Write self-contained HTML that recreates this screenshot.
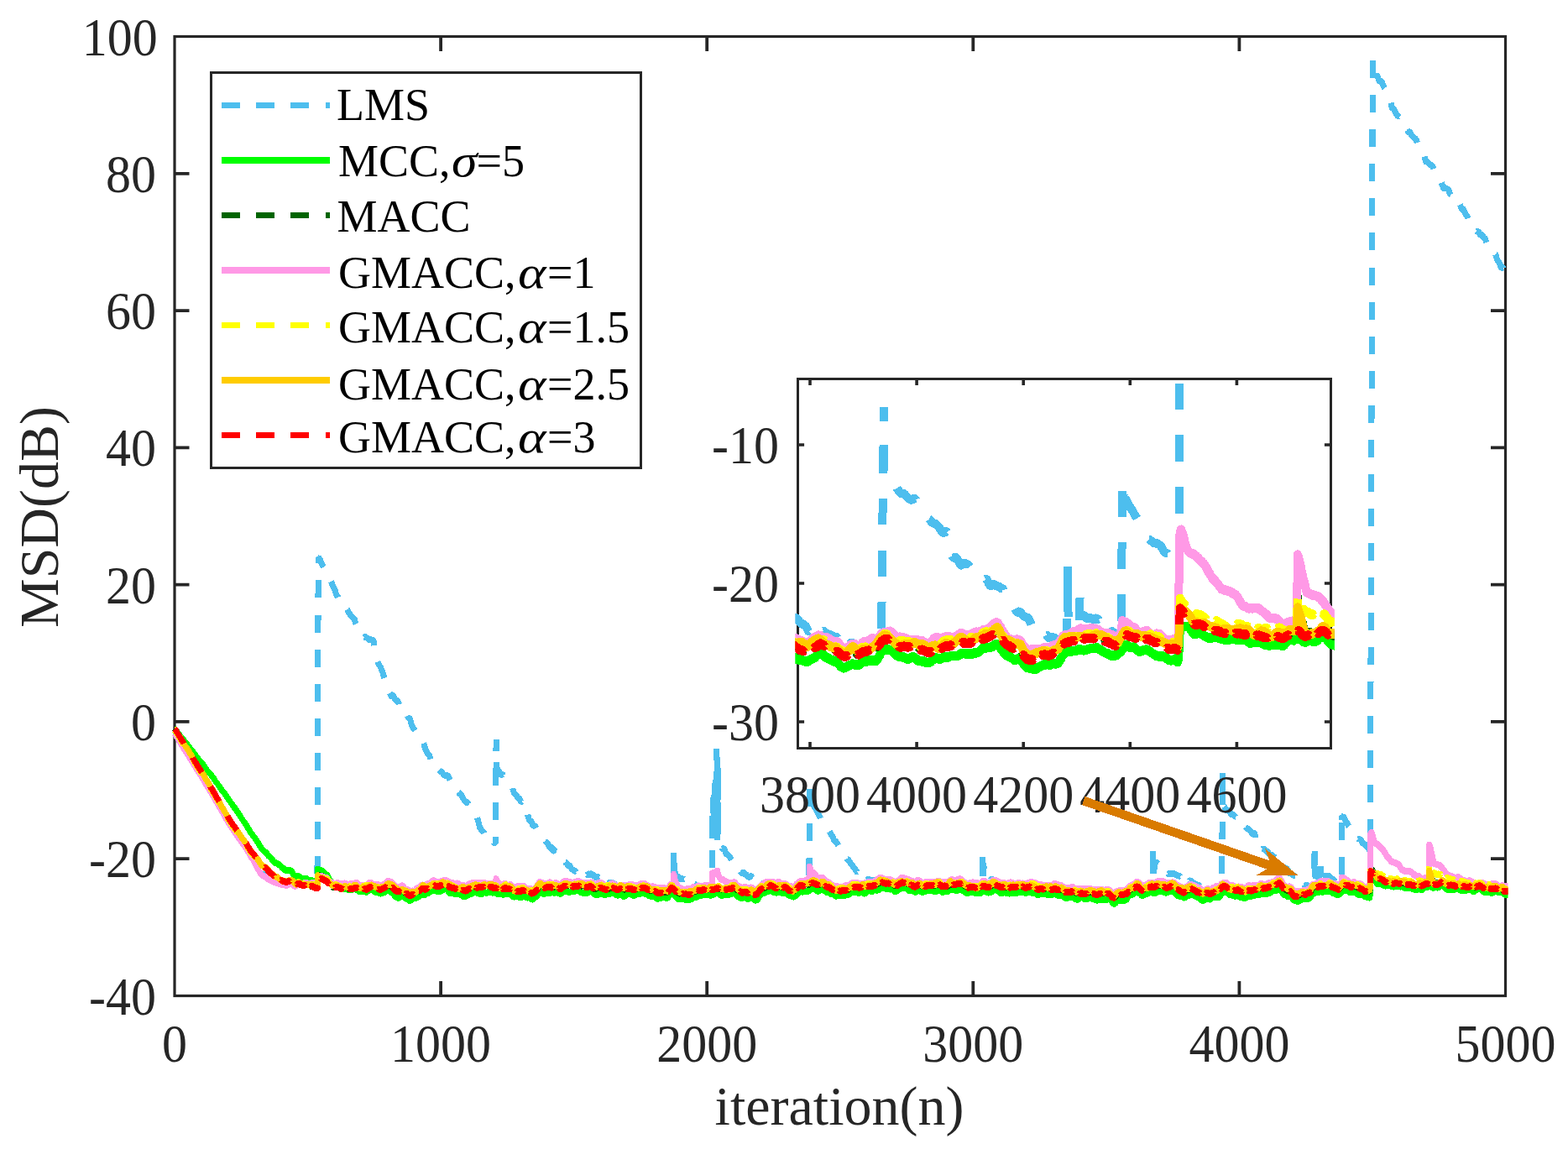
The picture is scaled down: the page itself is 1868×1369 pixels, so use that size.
<!DOCTYPE html>
<html lang="en"><head><meta charset="utf-8"><title>MSD(dB) versus iteration(n)</title>
<style>html,body{margin:0;padding:0;background:#fff}body{width:1868px;height:1369px;overflow:hidden}svg{display:block}</style></head>
<body>
<svg width="1868" height="1369" viewBox="0 0 1868 1369" font-family="'Liberation Serif', serif">
<rect width="1868" height="1369" fill="#fff"/>
<defs><clipPath id="cm"><rect x="204.5" y="43.5" width="1592" height="1143"/></clipPath>
<clipPath id="ci"><rect x="947.3" y="451.5" width="642.6" height="440"/></clipPath></defs>
<g stroke="#262626" stroke-width="3.2" fill="none">
<rect x="208" y="43.5" width="1585.5" height="1143"/>
<path stroke-width="3.8" d="M525.1,1186.5 v-17.5 M525.1,43.5 v17.5 M842.2,1186.5 v-17.5 M842.2,43.5 v17.5 M1159.3,1186.5 v-17.5 M1159.3,43.5 v17.5 M1476.4,1186.5 v-17.5 M1476.4,43.5 v17.5 M208,206.8 h17.5 M1793.5,206.8 h-17.5 M208,370.1 h17.5 M1793.5,370.1 h-17.5 M208,533.4 h17.5 M1793.5,533.4 h-17.5 M208,696.6 h17.5 M1793.5,696.6 h-17.5 M208,859.9 h17.5 M1793.5,859.9 h-17.5 M208,1023.2 h17.5 M1793.5,1023.2 h-17.5"/>
</g>
<g font-size="60" fill="#262626">
<text transform="translate(208.0,1264.5) scale(1,1.045)" text-anchor="middle">0</text>
<text transform="translate(525.1,1264.5) scale(1,1.045)" text-anchor="middle">1000</text>
<text transform="translate(842.2,1264.5) scale(1,1.045)" text-anchor="middle">2000</text>
<text transform="translate(1159.3,1264.5) scale(1,1.045)" text-anchor="middle">3000</text>
<text transform="translate(1476.4,1264.5) scale(1,1.045)" text-anchor="middle">4000</text>
<text transform="translate(1793.5,1264.5) scale(1,1.045)" text-anchor="middle">5000</text>
<text transform="translate(187.8,65.5) scale(1,1.045)" text-anchor="end">100</text>
<text transform="translate(186.0,228.8) scale(1,1.045)" text-anchor="end">80</text>
<text transform="translate(186.0,392.1) scale(1,1.045)" text-anchor="end">60</text>
<text transform="translate(186.0,555.4) scale(1,1.045)" text-anchor="end">40</text>
<text transform="translate(186.0,718.6) scale(1,1.045)" text-anchor="end">20</text>
<text transform="translate(186.0,881.9) scale(1,1.045)" text-anchor="end">0</text>
<text transform="translate(186.0,1045.2) scale(1,1.045)" text-anchor="end">-20</text>
<text transform="translate(186.0,1208.5) scale(1,1.045)" text-anchor="end">-40</text>
</g>
<g font-size="66" fill="#262626">
<text x="1000" y="1340.3" text-anchor="middle">iteration(n)</text>
<text transform="translate(69,616) rotate(-90)" text-anchor="middle">MSD(dB)</text>
</g>
<g clip-path="url(#cm)" fill="none" stroke-linejoin="round" stroke-width="7.1" shape-rendering="crispEdges">
<path stroke="#4DBEEE" stroke-dasharray="21,20.1" stroke-dashoffset="0.0" d="M208,870.7l.3,.4l.3,.2l.4,.6l.3,.4l.3,.6l.3,.4l.3,.7l.3,.4l.4,.6l.3,.4l.3,.7l.3,.4l.3,.6l.3,.3l.4,.7l.3,.4l.3,.7l.3,.3l.3,.8l.3,.3l.4,.7l.3,.4l.3,.7l.3,.4l.3,.6l.3,.4l.4,.7l.3,.3l.3,.7l.3,.3l.3,.7l.3,.3l.4,.7l.3,.4l.3,.7l.3,.4l.3,.7l.3,.3l.4,.7l.3,.3l.3,.7l.3,.3l.3,.6l.4,.3l.3,.7l.3,.3l.3,.7l.3,.3l.3,.6l.4,.4l.3,.6l.3,.4l.3,.7l.3,.4l.3,.7l.4,.3l.3,.7l.3,.3l.3,.7l.3,.3l.3,.8l.4,.2l.3,.7l.3,.4l.3,.7l.3,.4l.3,.6l.4,.4l.3,.7l.3,.4l.3,.7l.3,.3l.3,.7l.4,.4l.3,.6l.3,.3l.3,.8l.3,.2l.4,.8l.3,.3l.3,.7l.3,.4l.3,.7l.3,.4l.4,.7l.3,.4l.3,.6l.3,.4l.3,.7l.3,.2l.4,.7l.3,.3l.3,.6l.3,.3l.3,.6l.3,.2l.4,.7l.3,.4l.3,.6l.3,.3l.3,.8l.3,.3l.4,.6l.3,.3l.3,.8l.3,.3l.3,.6l.3,.4l.4,.7l.3,.4l.3,.7l.3,.3l.3,.8l.3,.4l.4,.7l.3,.4l.3,.7l.3,.3l.3,.8l.4,.4l.3,.7l.3,.4l.3,.7l.3,.3l.3,.7l.4,.4l.3,.6l.3,.3l.3,.7l.3,.3l.3,.7l.4,.3l.3,.7l.3,.3l.3,.8l.3,.3l.3,.7l.4,.4l.3,.7l.3,.2l.3,.7l.3,.3l.3,.8l.4,.3l.3,.8l.3,.4l.3,.7l.3,.4l.3,.8l.4,.5l.3,.8l.3,.4l.3,.8l.3,.4l.4,.7l.3,.3l.3,.7l.3,.4l.3,.6l.3,.4l.4,.7l.3,.4l.3,.7l.3,.3l.3,.8l.3,.4l.4,.8l.3,.3l.3,.8l.3,.4l.3,.8l.3,.3l.4,.8l.3,.3l.3,.7l.3,.4l.3,.7l.3,.4l.4,.7l.3,.3l.3,.8l.3,.3l.3,.6l.3,.3l.4,.8l.3,.3l.3,.8l.3,.4l.3,.8l.3,.4l.4,.8l.3,.5l.3,.7l.3,.4l.3,.8l.4,.4l.3,.8l.3,.3l.3,.7l.3,.3l.3,.8l.4,.4l.3,.7l.3,.3l.3,.7l.3,.2l.3,.8l.4,.2l.3,.7l.3,.3l.3,.7l.3,.2l.3,.7l.4,.3l.3,.7l.3,.3l.3,.6l.3,.3l.3,.6l.4,.3l.3,.6l.3,.2l.3,.6l.3,.3l.3,.7l.4,.3l.3,.6l.3,.3l.3,.7l.3,.2l.4,.7l.3,.2l.3,.8l.3,.2l.3,.7l.3,.3l.4,.7l.3,.3l.3,.7l.3,.2l.3,.6l.3,.2l.4,.7l.3,.3l.3,.7l.3,.2l.3,.6l.3,.3l.4,.6l.3,.3l.3,.7l.3,.2l.3,.7l.3,.1l.4,.7l.3,.3l.3,.6l.3,.2l.3,.7l.3,.2l.4,.5l.3,.2l.3,.7l.3,.1l.3,.6l.3,.3l.4,.7l.3,.1l.3,.8l.3,.1l.3,.8l.4,.2l.3,.8l.3,.4l.3,.7l.3,.3l.3,.9l.4,.3l.3,.8l.3,.3l.3,.8l.3,.2l.3,1l.4,.1l.3,.7l.3,.2l.3,.7l.3,.2l.3,.6l.4,.2l.3,.6l.3,.1l.3,.6l.3-.1l.3,.8l.4,0l.3,.7l.3,.1l.3,.6l.3,.1l.3,.7l.4,.2l.3,.9l.3,.1l.3,.8l.3,.3l.3,.7l.4,.1l.3,.9l.3,.1l.3,.8l.3,0l.4,.8l.3,.1l.3,1.1l.3,0l.3,.9l.3,.2l.4,.9l.3,.2l.3,.9l.3,.2l.3,.9l.3,.1l.4,.6l.3,.1l.3,.8l.3-.1l.3,.6l.3-.1l.4,.6l.3-.1l.3,.6l.3-.2l.3,.7l.3-.3l.4,.5l.3-.2l.3,.7l.3-.3l.3,.7l.3-.2l.4,.7l.3-.2l.3,.7l.3-.1l.3,.6l.4-.1l.3,1l.3-.3l.3,.9l.3-.1l.3,.8l.4-.1l.3,.6l.3,0l.3,.7l.3-.4l.3,.9l.4-.2l.3,.6l.3-.3l.3,.9l.3-.2l.3,.6l.4-.3l.3,.7l.3-.1l.3,.8l.3-.2l.3,.7l.4-.2l.3,.7l.3-.3l.3,.8l.3-.5l.3,.8l.4-.3l.3,.6l.3-.4l.3,.6l.3-.4l.3,.8l.4-.5l.3,.7l.3-.3l.3,.4l.3-.3l.4,.6l.3-.2l.3,.5l.3-.2l.3,.5l.3-.2l.4,.7l.3-.5l.3,.8l.3-.5l.3,.7l.3-.3l.4,.7l.3-.5l.3,.8l.3-.6l.3,.9l.3-.4l.4,.7l.3-.6l.3,.9l.3-.8l.3,.8l.3-.4l.4,.6l.3-.6l.3,.8l.3-.6l.3,.7l.3-.7l.4,.6l.3-.4l.3,.3l.3-.4l.3,.3l.4-.8l.3,.7l.3-1l.3,.4l.3-.8l.3,.6l.4-.8l.3,.7l.3-1l.3,.8l.3-.9l.3,.8l.4-.9l.3,.6l.3-.4l.3,.8l.3-.7l.3,.7l.4-.3l.3,.9l.3-.6l.3,1l.3-.3l.3,.9l.4-.4l.3,.9l.3-.6l.3,1.1l.3-.6l.3,.6l.4-.8l.3,.6l.3-.5l.3,.5l.3-1.1l.3,.5l.4-.7l.3,.3l.3-.7l.3,.7l.3-1.1l.4,.7l.3-.7l.3,.8l.3-.8l.3,.8l.3-.9l.4,1l.3-.9l.3,.9l.3-.6l.3,1.1l.3-.8l.4,1l.3-.6l.3,.7l.3-.6l.3,.6l.3-.5l.4,.7l.3-1l.3,.9l.3-.9l.3,.6l.3-.7l.4,.7l.3-.7l.3,.5l.3-.4l.3,.7l.3-.5l.4,.6l.3-.7l.3,.7l.3-.4l.3,.9l.3-.4l.4,.5l.3-.3l.3,.6l.3-.5l.3,1l.4-.7l.3,.6l.3-.4l.3,.4l.3-.7l.3,.8l.4-.7l.3,.6l.3-1.1l.3,.8l.3-.7l.3,.8l.4-.8l.3,.7l.3-.3l.3,.9l.3-.8l.3,.9l.4-.5l.3,1l.3-.6l.3,.9l.3-.7l.3,.7l.4-.3l.3,.6l.3-.6l.3,.7l.3-.6l.3,.5l.4-.5"/>
<path stroke="#4DBEEE" stroke-linejoin="bevel" stroke-dasharray="21,20.1" stroke-dashoffset="26.8" d="M378,1055.6l.3-97.7l.3-98l.3-97.9l.3-98l.4,.6l.3-.1l.3,.7"/>
<path stroke="#4DBEEE" stroke-dasharray="21,20.1" stroke-dashoffset="9.2" d="M380.2,665.2l.3,.2l.3,.6l.3,.3l.4,.8l.3,.6l.3,1.1l.3,.9l.3,1.1l.3,.7l.4,.7l.3,.5l.3,.7l.3,.4l.3,.8l.3,.4l.4,.7l.3,.5l.3,.8l.3,.5l.3,.6l.3,.1l.4,.4l.3,0l.3,.7l.3,.6l.3,1.1l.3,.9l.4,1.4l.3,.9l.3,1.1l.3,.5l.3,.7l.3,.2l.4,.6l.3,.4l.3,.8l.3,.4l.3,.9l.4,.4l.3,.7l.3,.4l.3,.6l.3,.3l.3,.4l.4,.1l.3,.7l.3,.6l.3,1.1l.3,.9l.3,1.3l.4,.7l.3,.9l.3,.2l.3,.4l.3,.4l.3,.8l.4,.4l.3,1l.3,.5l.3,1.2l.3,.8l.3,1.5l.4,1.1l.3,.9l.3,.4l.3,.6l.3,.2l.3,.6l.4,.4l.3,.7l.3,.4l.3,.8l.3,.5l.4,.9l.3,.6l.3,.9l.3,.5l.3,.9l.3,.3l.4,.5l.3,.2l.3,.5l.3,.1l.3,.5l.3,.2l.4,.5l.3,.2l.3,.7l.3,.6l.3,1.2l.3,.8l.4,1.1l.3,.5l.3,.6l.3-.1l.3,.1l.3-.4l.4,0l.3-.2l.3,.3l.3,0l.3,.5l.3,.1l.4,.5l.3,.3l.3,.6l.3,.2l.3,.7l.3,.4l.4,.8l.3,.5l.3,.8l.3,.4l.3,.7l.4,.2l.3,.7l.3,.3l.3,.6l.3,.2l.3,.5l.4,.1l.3,.5l.3,.1l.3,.5l.3,.3l.3,.6l.4,.2l.3,.4l.3,0l.3,.3l.3,0l.3,.6l.4,.8l.3,1.2l.3,.9l.3,1l.3,.5l.3,.8l.4,.5l.3,1l.3,.6l.3,1l.3,.7l.3,.9l.4,.6l.3,1.1l.3,.8l.3,1.1l.3,.7l.4,1l.3,.6l.3,.8l.3,.6l.3,1l.3,.5l.4,.6l.3,.1l.3,.4l.3,.2l.3,.5l.3,0l.4,.6l.3,.1l.3,.5l.3,0l.3,.3l.3-.1l.4,.3l.3-.3l.3,.1l.3-.3l.3,0l.3-.3l.4,.2l.3-.2l.3,.5l.3,.1l.3,.6l.3,0l.4,.4l.3,0l.3,.1l.3,0l.3,.6l.3,.3l.4,.7l.3,.3l.3,.4l.3-.3l.3-.1l.4-.4l.3,.2l.3-.2l.3,.3l.3,.1l.3,.2l.4-.2l.3,.2l.3-.2l.3,.3l.3-.1l.3,.2l.4,.1l.3,.5l.3,1.8l.3,2.2l.3,1.8l.3,2.1l.4,1.8l.3,2.1l.3,1.7l.3,2.1l.3,1.7l.3,2.1l.4,1.6l.3,1.5l.3,.4l.3,1l.3,.5l.3,1.1l.4,.8l.3,.9l.3,.6l.3,.8l.3,.3l.3,.6l.4,.3l.3,.5l.3,.2l.3,.8l.3,.4l.4,1l.3,.7l.3,1.2l.3,.7l.3,1l.3,.4l.4,.8l.3,.4l.3,1.2l.3,.9l.3,1.3l.3,1l.4,1.4l.3,.9l.3,1.4l.3,1l.3,1.5l.3,1.1l.4,1.6l.3,1.3l.3,1.6l.3,1.1l.3,1.6l.3,1.1l.4,1.3l.3,.1l.3,.4l.3-.1l.3,.3l.3,0l.4,.6l.3,.3l.3,.8l.3,.3l.3,.8l.4,.4l.3,.9l.3,.5l.3,1l.3,.4l.3,.5l.4-.3l.3-.2l.3-.7l.3-.1l.3-.2l.3,.6l.4,.5l.3,.9l.3,.6l.3,.9l.3,.4l.3,.7l.4,.3l.3,.7l.3,.2l.3,.4l.3-.1l.3,.1l.4-.2l.3,.3l.3,.1l.3,.7l.3,.3l.3,.6l.4,.3l.3,.9l.3,.5l.3,1.2l.3,1l.3,1.3l.4,.7l.3,.6l.3-.3l.3-.1l.3-.6l.4-.1l.3-.3l.3,.2l.3,.1l.3,.6l.3,.4l.4,.8l.3,.4l.3,.7l.3,.2l.3,.7l.3,.1l.4,.6l.3,.1l.3,.4l.3,.2l.3,.6l.3,.3l.4,1l.3,.6l.3,1.1l.3,.6l.3,.8l.3,.5l.4,.9l.3,.6l.3,1l.3,.3l.3,.6l.3,0l.4,.1l.3-.2l.3,.3l.3,.3l.3,1.1l.4,.9l.3,1.5l.3,1.1l.3,1.3l.3,.9l.3,1.2l.4,.6l.3,.8l.3,.4l.3,.8l.3,.4l.3,.7l.4,.3l.3,.5l.3,0l.3,.4l.3,.2l.3,.8l.4,.5l.3,.8l.3,.3l.3,.6l.3,0l.3,.5l.4,.3l.3,.7l.3,.4l.3,.7l.3,.2l.3,.6l.4,0l.3,.2l.3-.2l.3,.3l.3-.2l.3,.4l.4,0l.3,.4l.3,.1l.3,.6l.3,.4l.4,1.1l.3,.7l.3,1.2l.3,.7l.3,1.1l.3,.5l.4,.9l.3,.4l.3,.9l.3,.6l.3,1.1l.3,.9l.4,1.4l.3,1l.3,1.3l.3,.9l.3,.9l.3,.5l.4,.8l.3,.4l.3,.7l.3,.4l.3,1l.3,.4l.4,.9l.3,.2l.3,.6l.3,.1l.3,.3l.3,0l.4,.6l.3,.6l.3,1.3l.3,.9l.3,1.6l.4,1l.3,1.4l.3,1.1l.3,1.2l.3,.6l.3,.7l.4,.3l.3,.7l.3,.4l.3,1.1l.3,.5l.3,.9l.4,.3l.3,0l.3-.4l.3-.1l.3-.1l.3,.5l.4,.3l.3,.8l.3,.4l.3,.6l.3,0l.3,.3l.4-.1l.3,.3l.3,0l.3,.2l.3-.2l.3,.2l.4-.1l.3,.3l.3,.2l.3,.5l.3,.2l.3,.5l.4,.1l.3,.4l.3-.1l.3,.3l.3-.3l.4,.3l.3,0l.3,.5l.3,.3l.3,.7l.3,.3l.4,.7l.3,.2l.3,.6l.3,0l.3,.5l.3,0l.4,.4l.3-.2l.3,.1l.3-.2l.3,.4l.3,.1l.4,.5l.3,0l.3,.2l.3-.4l.3,0l.3-.5l.4,.1l.3,.2l.3,.9l.3,.8l.3,1.2l.3,.5l.4,1l.3,.5l.3,.7l.3,.4l.3,.9l.3,.6l.4,1l.3,.4l.3,.9l.3,.4l.3,.7l.4,.3l.3,.8l.3,.5l.3,1l.3,.9l.3,1.2l.4,.7l.3,.8l.3,.2l.3,.2l.3-.3l.3,.1l.4-.1l.3,.4l.3,.4l.3,.8l.3,.3l.3,.6l.4,0l.3,.2l.3-.4l.3,.2l.3-.2l.3,.4l.4,.2l.3,.8l.3,.3l.3,.5l.3-.1l.3,.2l.4-.2l.3,.3l.3,.1l.3,.7l.3,.3l.4,.9l.3,.5l.3,.9l.3,.5l.3,1l.3,.4l.4,.6l.3,.2l.3,.5l.3,.2l.3,.6l.3,.2l.4,.7l.3,.4l.3,.7l.3,.1l.3,.6l.3-.1l.4,.3l.3-.5l.3,.1l.3-.2l.3,.4l.3,.2l.4,.7l.3,.3l.3,.6l.3,.3l.3,.6l.3,.2l.4,.6l.3,.1l.3,.4l.3-.1l.3,.4l.3,.1l.4,.5l.3,.3l.3,.5l.3,.3l.3,.5l.4,.3l.3,.7l.3,.3l.3,.8l.3,.4l.3,.9l.4,.5l.3,.8l.3,.2l.3,.5l.3,.6l.3,1l.4,.6l.3,1l.3,.6l.3,1.2l.3,.7l.3,1.1l.4,.7l.3,1.1l.3,.8l.3,1.3l.3,1.1l.3,1.5l.4,1.3l.3,1.4l.3,.7l.3,1.1l.3,.5l.3,.5l.4,.1l.3,.8l.3,.3l.3,.8l.3,.3l.4,.6l.3,0l.3,.4l.3,0l.3,.5l.3,.3l.4,.8l.3,.3l.3,.8l.3,.2l.3,.7l.3,.3l.4,.9l.3,.4l.3,.8l.3,.5l.3,1l.3,.4l.4,.6l.3-.2l.3-.1l.3-.8l.3-.1l.3-.2l.4,.8l.3,.5l.3,.9l.3,.6l.3,.8l.3,.2l.4,.6l.3-.2l.3,.2l.3-.4l.3,.1l.3-.1l.4,.4l.3,.1l.3,.5l.3,0l.3,.4l.4,.1l.3,.6l.3,.2l.3,.5l.3,.1l.3,.2l.4-.3l.3-.3l.3-.6l.3-.2l.3-.5l.3,2.6"/>
<path stroke="#4DBEEE" stroke-linejoin="bevel" stroke-dasharray="21,20.1" stroke-dashoffset="12.8" d="M590.7,1005.2l.4-124.2l.3,32.8l.3,.8l.3,.2l.3,1"/>
<path stroke="#4DBEEE" stroke-dasharray="21,20.1" stroke-dashoffset="7.7" d="M592.3,915.8l.3,1.2l.4,.7l.3,.8l.3,.1l.3,0l.3-.1l.3,.4l.4,.2l.3,.9l.3,.6l.3,.9l.3,.5l.3,.6l.4,.1l.3,.5l.3-.1l.3,.1l.3-.3l.4,0l.3-.2l.3,.4l.3,.1l.3,.6l.3,.3l.4,.8l.3,.4l.3,.8l.3,.2l.3,.6l.3,0l.4,.4l.3-.1l.3,.3l.3-.2l.3,.3l.3,.1l.4,.6l.3,.2l.3,.7l.3,0l.3,.5l.3-.1l.4,.6l.3,.2l.3,.6l.3,.3l.3,.7l.3,.2l.4,.8l.3,.4l.3,.9l.3,.4l.3,.8l.3,.3l.4,.7l.3,.5l.3,1.1l.3,.9l.3,1.4l.4,1l.3,1.4l.3,.8l.3,1l.3,.4l.3,.7l.4,.2l.3,.5l.3,.2l.3,.6l.3,.1l.3,.5l.4,0l.3,.6l.3,.1l.3,.7l.3,.4l.3,.7l.4,.2l.3,.4l.3-.1l.3,.3l.3-.1l.3,.5l.4,.3l.3,.8l.3,.5l.3,.9l.3,.5l.3,.7l.4,0l.3,.1l.3-.5l.3-.1l.3-.5l.3,.1l.4-.1l.3,.7l.3,.4l.3,.9l.3,.4l.4,.6l.3,.1l.3,.3l.3-.1l.3,.4l.3,.7l.4,1.6l.3,1.2l.3,1.7l.3,1.2l.3,1.6l.3,1.3l.4,1.6l.3,1.2l.3,1.5l.3,.9l.3,1.3l.3,.8l.4,1.2l.3,.8l.3,.6l.3,0l.3,.6l.3-.1l.4,.3l.3,0l.3,.5l.3,.1l.3,.8l.3,.7l.4,1.2l.3,.7l.3,.9l.3,.4l.3,.5l.4,0l.3,.2l.3-.2l.3,.2l.3-.2l.3,.3l.4,0l.3,.6l.3,.3l.3,.7l.3,.3l.3,.7l.4,.2l.3,.5l.3,0l.3,.4l.3-.1l.3,.5l.4,.2l.3,.8l.3,.4l.3,1l.3,.7l.3,1l.4,.6l.3,1l.3,.3l.3,.6l.3,.2l.3,.5l.4,.1l.3,.5l.3,.3l.3,.6l.3,.3l.3,.6l.4,.3l.3,.4l.3,.1l.3,.3l.3,.1l.4,.5l.3,.3l.3,.7l.3,.3l.3,.9l.3,.5l.4,.8l.3,.4l.3,.5l.3-.1l.3,.4l.3,0l.4,.5l.3,.2l.3,.7l.3,.4l.3,.8l.3,.5l.4,.8l.3,.6l.3,.8l.3,.3l.3,.3l.3-.3l.4,.1l.3-.5l.3,.1l.3-.2l.3,.4l.3,.4l.4,1.1l.3,.8l.3,1.2l.3,.4l.3,.3l.4-.4l.3-.3l.3-.5l.3,.2l.3,.2l.3,.9l.4,.5l.3,.9l.3,.3l.3,.4l.3,0l.3,.2l.4-.3l.3,.2l.3,0l.3,.5l.3,.2l.3,.8l.4,.4l.3,.9l.3,.4l.3,.9l.3,.3l.3,.6l.4,.4l.3,.7l.3,.2l.3,.5l.3,0l.3,.5l.4,0l.3,.7l.3,.3l.3,.7l.3,.2l.3,.5l.4-.1l.3,.2l.3-.2l.3,.3l.3-.2l.4,.4l.3,.2l.3,.6l.3,.2l.3,.6l.3,0l.4,.4l.3,0l.3,.4l.3,.1l.3,.7l.3,.2l.4,.8l.3,.3l.3,.5l.3-.2l.3,.2l.3-.3l.4,.1l.3-.1l.3,.7l.3,.2l.3,.9l.3,.4l.4,.9l.3,.3l.3,.7l.3,.1l.3,.5l.3,0l.4,.5l.3-.2l.3,.4l.3,0l.3,.4l.3-.1l.4,.5l.3,0l.3,.6l.3-.2l.3,.5l.4-.2l.3,.5l.3,0l.3,.5l.3,.1l.3,.7l.4,0l.3,.5l.3-.1l.3,.5l.3-.3l.3,.3l.4-.4l.3,.5l.3-.1l.3,.4l.3-.2l.3,.6l.4,0l.3,.5l.3-.4l.3,.3l.3-.3l.3,.3l.4-.2l.3,.5l.3,.1l.3,.9l.3,.1l.3,.9l.4-.1l.3,.5l.3-.3l.3,.2l.3-.4l.4,0l.3-.5l.3,.1l.3-.6l.3,.1l.3-.6l.4,.3l.3-.4l.3,.4l.3-.4l.3,.3l.3-.5l.4,0l.3-.7l.3,.1l.3-.5l.3,.4l.3-.1l.4,.5l.3-.2l.3,.3l.3-.6l.3,.1l.3-.5l.4,.3l.3-.1l.3,.7l.3,0l.3,.7l.3-.1l.4,.4l.3-.2l.3,.4l.3-.4l.3,.5l.3-.2l.4,.6l.3,0l.3,.5l.3,.1l.3,.5l.4,.1l.3,.5l.3-.1l.3,.3l.3-.4l.3,.3l.4-.5l.3,.4l.3-.4l.3,.4l.3-.4l.3,.3l.4-.5l.3,.2l.3-.5l.3,.4l.3-.3l.3,.7l.4,0l.3,.7l.3,0l.3,.7l.3-.2l.3,.5l.4-.5l.3,.4l.3-.4l.3,.5l.3-.4l.3,.4l.4-.3l.3,.6l.3-.1l.3,.9l.3,0l.4,.9l.3-.1l.3,.6l.3-.3l.3,.5l.3-.1l.4,.7l.3-.2l.3,.9l.3-.4l.3,.7l.3-.3l.4,.6l.3-.1l.3,.7l.3-.2l.3,.6l.3-.4l.4,.5l.3-.6l.3,.4l.3-.4l.3,.4l.3-.6l.4,.5l.3-.5l.3,.3l.3-.5l.3,.7l.3-.5l.4,.6l.3-.2l.3,.8l.3-.1l.3,.5l.3-.4l.4,.9l.3-.7l.3,.8l.3-.4l.3,.8l.4-.5l.3,1l.3-.3l.3,.9l.3-.3l.3,.6l.4-.4l.3,.6l.3-.4l.3,.6l.3-.8l.3,.7l.4-.9l.3,.5l.3-.5l.3,.4l.3-.6l.3,.8l.4-.8l.3,.8l.3-.7l.3,.8l.3-.5l.3,.9l.4-.2l.3,.8l.3-.6l.3,1.2l.3-.5l.3,.7l.4-.6l.3,.7l.3-.9l.3,.7l.3-.8l.4,.8l.3-.8l.3,.7l.3-.7l.3,.3l.3-.6l.4,.5l.3-.6l.3,.5l.3-.6l.3,.5l.3-.8l.4,.6l.3-.7l.3,.6l.3-.7l.3,.5l.3-.6l.4,.7l.3-.7l.3,.8l.3-.8l.3,.9l.3-.7l.4,.8l.3-.5l.3,.9l.3-.5l.3,.6l.3-.3l.4,.7l.3-.7l.3,.8l.3-.6l.3,.5l.3-.7l.4,.9l.3-.8l.3,.5l.3-.8l.3,.9l.4-1l.3,.9l.3-.7l.3,.5l.3-.5l.3,.5l.4-.7l.3,.4l.3-.6l.3,.4l.3-.7l.3,.7l.4-1.1l.3,.6l.3-.7l.3,.7l.3-1l.3,.6l.4-.6l.3,.5l.3-.5l.3,.7l.3-.7l.3,.6l.4-.9l.3,.6l.3-.6l.3,.7l.3-.7l.3,.8l.4-.9l.3,1l.3-.9l.3,1l.3-.9l.3,.9l.4-.7l.3,.9l.3-.5l.3,.8l.3-.7l.4,1l.3-.2l.3,.7l.3-.5l.3,1.1l.3-.7l.4,1.1l.3-.7l.3,1l.3-.7l.3,.9l.3-.6l.4,.8l.3-.7l.3,.6l.3-.5l.3,.7l.3-.7l.4,.4l.3-.6l.3,.6l.3-.8l.3,.6l.3-.7l.4,.6l.3-.7l.3,1l.3-.6l.3,.8l.3-.4l.4,.5l.3-.1l.3,.7l.3-.5l.3,1l.4-.4l.3,1.1l.3-.7l.3,.8l.3-.4l.3,.9l.4-.6l.3,.9l.3-.8l.3,.8l.3-.8l.3,.6l.4-.6l.3,.6l.3-1.1l.3,1l.3-1l.3,.7l.4-.8l.3,1.1l.3-.9l.3,.9l.3-.5l.3,.7l.4-1l.3,.9l.3-.8l.3,.7l.3-.9l.3,.6l.4-.5l.3,.6l.3-.7l.3,.7l.3-.7l.3,.8l.4-.4l.3,.7l.3-.5l.3,.4l.3-.8l.4,.7l.3-.9l.3,.4l.3-1l.3,.1l.3-1l.4,.4l.3-1.1l.3,.1l.3-.9l.3,.1l.3-1.2l.4,.6l.3-1.3l.3,.3l.3-1l.3,.3l.3-.8l.4,.7l.3-.6l.3,.9l.3-.3l.3,1.2l.3-.5"/>
<path stroke="#4DBEEE" stroke-linejoin="bevel" stroke-dasharray="21,20.1" stroke-dashoffset="21.8" d="M802.2,1056l.4-41l.3,27.5l.3-23.5l.3,23.6l.3-15.6l.3,16.4l.4,.3l.3-.4l.3,.5"/>
<path stroke="#4DBEEE" stroke-dasharray="21,20.1" stroke-dashoffset="6.6" d="M805.1,1043.8l.3,.1l.3,.8l.4,.2l.3,.8l.3-.1l.3,.3l.3-.2l.3,.2l.4-.4l.3,.2l.3-.5l.3,.2l.3-.2l.3,.8l.4,.4l.3,1l.3,0l.3,.3l.3-.3l.3,.1l.4-.5l.3,.2l.3-.3l.3,.3l.3-.2l.3,.4l.4-.3l.3,.3l.3-.2l.3,.3l.3-.2l.3,.3l.4-.3l.3,.3l.3-.5l.3,.2l.3-.3l.3,.5l.4-.2l.3,.4l.3-.2l.3,.2l.3-.1l.4,.4l.3-.2l.3,.3l.3-.4l.3,.2l.3-.5l.4,.1l.3-.5l.3,.1l.3,0l.3,.7l.3,.3l.4,.9l.3,.4l.3,.8l.3,.2l.3,.5l.3-.1l.4,.3l.3-.2l.3,.5l.3-.2l.3,.5l.3-.2l.4,.5l.3-.2l.3,.6l.3-.2l.3,1l.3,0l.4,.8l.3-.1l.3,.9l.3-.3l.3,.9l.4-.4l.3,.7l.3-.4l.3,.6l.3-.6l.3,.6l.4-.6l.3,.7l.3-.5l.3,.7l.3-.4l.3,.9l.4-.5l.3,.8l.3-.6l.3,.6l.3-.4l.3,.4l.4-.6l.3,.8l.3-1l.3,.8l.3-.6l.3,.6l.4-.7l.3,.5l.3-.4l.3,.7l.3-.6l.3,1l.4-.5l.3,1l.3-.6l.3,1l.3-.8l.3,.8l.4-.9l.3,.7l.3-.6l.3,.7l.3-.9l.4,.5l.3-.6l.3,.7l.3-.9l.3,.7l.3-.6l.4,.4l.3-.7l.3,.8l.3-1.1l.3,.9l.3-.9l.4,.6l.3-.6l.3,.8l.3-.5l.3,.5"/>
<path stroke="#4DBEEE" stroke-linejoin="bevel" stroke-dasharray="21,20.1" stroke-dashoffset="17.7" d="M848.2,1057.4l.3-87.3l.4,28.6l.3-40.8l.3,36.7l.3-44.9l.3,49l.3-36.7l.4,28.6l.3-49l.3,59.6l.3-67.8l.3,63.7l.3-51.4l.4,53l.3-69.4l.3,65.3l.3-57.1l.3-45.7l.3,102.8l.4-93.9l.3,100.5l.3-88.2l.3,88.2l.3,.5l.4-1.1l.3,.8"/>
<path stroke="#4DBEEE" stroke-dasharray="21,20.1" stroke-dashoffset="31.1" d="M856.5,1001.4l.3,.4l.3,.6l.3,.3l.3,.8l.4,.3l.3,.8l.3,.5l.3,1l.3,.9l.3,1.4l.4,1.1l.3,1.3l.3,.4l.3,.5l.3-.3l.3-.2l.4-.5l.3,.2l.3,.2l.3,.7l.3,.5l.3,1l.4,.6l.3,1.1l.3,.7l.3,1.1l.3,.5l.3,.6l.4,0l.3,.2l.3-.1l.3,.2l.3,.1l.4,.5l.3,.1l.3,.6l.3,0l.3,.4l.3,0l.4,.6l.3,.2l.3,.8l.3,.4l.3,.9l.3,.6l.4,1l.3,.5l.3,.8l.3,.2l.3,.4l.3-.2l.4,.2l.3,0l.3,.6l.3,.3l.3,1l.3,.6l.4,1.1l.3,.5l.3,.9l.3,.3l.3,.5l.3,0l.4,.3l.3-.2l.3,.2l.3-.2l.3,.3l.3,0l.4,.5l.3,.1l.3,.4l.3-.2l.3,.3l.4,.1l.3,.9l.3,.6l.3,1.1l.3,.6l.3,1.1l.4,.4l.3,.7l.3,.3l.3,.6l.3,.1l.3,.4l.4-.2l.3,.2l.3-.4l.3,0l.3-.5l.3,.2l.4-.2l.3,.4l.3,.3l.3,.7l.3,.3l.3,.5l.4-.2l.3,.1l.3-.2l.3,.3l.3,0l.3,.8l.4,.3l.3,.8l.3,.1l.3,.6l.3,.2l.4,.5l.3,0l.3,.2l.3-.3l.3,.2l.3-.5l.4,.2l.3-.3l.3,.1l.3-.6l.3,.1l.3-.3l.4,.4l.3,0l.3,.8l.3,.1l.3,.7l.3,.1l.4,.6l.3,.1l.3,.8l.3,.2l.3,1l.3,.2l.4,.7l.3-.1l.3,.4l.3-.2l.3,.6l.3,0l.4,.6l.3-.2l.3,.4l.3-.3l.3,.4l.3-.1l.4,.5l.3-.1l.3,.6l.3-.4l.3,.4l.4-.4l.3,.4l.3-.3l.3,.3l.3-.4l.3,.2l.4-.6l.3,.5l.3-.4l.3,.6l.3-.2l.3,.7l.4-.2l.3,.8l.3-.4l.3,.7l.3-.6l.3,.8l.4-.5l.3,.7l.3-.7l.3,.6l.3-.9l.3,.5l.4-.7l.3,.3l.3-1l.3,.6l.3-.5l.3,.4l.4-.6l.3,.6l.3-.3l.3,.4l.3-.5l.4,.4l.3-.4l.3,.4l.3-.7l.3,.4l.3-.8l.4,.6l.3-.7l.3,.6l.3-.6l.3,.6l.3-.6l.4,1l.3-.7l.3,.9l.3-.4l.3,.7l.3-.5l.4,1.1l.3-.6l.3,1.2l.3-.3l.3,1l.3-.7l.4,1l.3-.4l.3,.8l.3-.6l.3,1l.3-.9l.4,.7l.3-.9l.3,.5l.3-.8l.3,.2l.3-.7l.4,.4l.3-1.1l.3,.6l.3-.7l.3,.7l.4-.5l.3,.5l.3-.6l.3,1.2l.3-.5l.3,.6l.4-.3l.3,.8l.3-.4l.3,.9l.3-.6l.3,.6l.4-.6l.3,.7l.3-.8l.3,.5l.3-.8l.3,.6l.4-1l.3,.7l.3-.8l.3,.5l.3-.5l.3,.8l.4-.6l.3,.6l.3-.2l.3,.9l.3-.5l.3,.9l.4-.2l.3,1.1l.3-.4l.3,1.1l.3-.4l.3,.9l.4-.2l.3,.8l.3-.5l.3,.6l.3-.4l.4,.7l.3-.5l.3,.5l.3-.6l.3,1l.3-.5l.4,.7l.3-.8l.3,.9l.3-.7l.3,.7l.3-.5l.4,.5l.3-.7l.3,.5l.3-.9l.3,.4l.3-.9l.4,.6l.3-1l.3,.3l.3-1.1l.3,.5l.3-1.1l.4,.2l.3-1.1l.3,.4l.3-.8l.3,.5l.3-1.2l.4,.3l.3-1.1l.3,.5l.3-1.2l.3,.6l.4-1.3l.3,.5l.3-.8l.3,.6l.3-.8l.3,.7l.4-.7l.3,.8l.3-.6l.3,1.2l.3-.5l.3,.6l.4-.6l.3,.8l.3-.9l.3,.9l.3-.8l.3,.4l.4-.9l.3,.5l.3-1l.3,.5l.3-.7l.3,.6l.4-.7l.3,.8l.3-.5l.3,.6l.3-.4l.3,.7l.4-.3l.3,.5l.3-.6l.3,.5l.3-.7l.3,.4l.4-.8"/>
<path stroke="#4DBEEE" stroke-linejoin="bevel" stroke-dasharray="21,20.1" stroke-dashoffset="33.0" d="M964,1051.3l.3-111.4l.3,16.4l.3,.2l.3-.7l.4,.5"/>
<path stroke="#4DBEEE" stroke-dasharray="21,20.1" stroke-dashoffset="39.3" d="M965.6,956.3l.3,.1l.3,.6l.3,.4l.3,.5l.3,0l.4,.3l.3,0l.3,.5l.3,.1l.3,.5l.3,.3l.4,.6l.3,.2l.3,.5l.3,.1l.3,.9l.3,.5l.4,.9l.3,.4l.3,.6l.3,.4l.3,.6l.3,.5l.4,.7l.3,.4l.3,.7l.3,.4l.3,.8l.3,.5l.4,.8l.3,.4l.3,.7l.3,.4l.3,.8l.4,.5l.3,1.2l.3,.6l.3,1l.3,.4l.3,.6l.4,.2l.3,.5l.3,0l.3,.4l.3,0l.3,.5l.4,.1l.3,.6l.3,.2l.3,.6l.3,.2l.3,.6l.4,.3l.3,.7l.3,.2l.3,.7l.3,.4l.3,.8l.4,.6l.3,1l.3,.6l.3,.8l.3,.2l.3,.7l.4,.2l.3,.7l.3,.3l.3,.8l.3,.2l.3,.6l.4,.1l.3,.4l.3,.3l.3,.8l.3,.6l.4,1l.3,.5l.3,.7l.3,.3l.3,.4l.3,.1l.4,.4l.3,.3l.3,.8l.3,.6l.3,1.1l.3,.8l.4,1.1l.3,.4l.3,.8l.3,0l.3,.4l.3-.2l.4,.1l.3,0l.3,.5l.3,.3l.3,.7l.3,.3l.4,.7l.3,.1l.3,.7l.3,.3l.3,.9l.3,.4l.4,.8l.3,.3l.3,.7l.3,.2l.3,.8l.4,.2l.3,1l.3,.4l.3,1.1l.3,.7l.3,1l.4,.6l.3,.9l.3,.4l.3,.8l.3,.3l.3,.7l.4,.3l.3,.4l.3,.1l.3,.4l.3-.2l.3,.4l.4,.2l.3,.8l.3,.4l.3,.9l.3,.1l.3,.5l.4,0l.3,.5l.3,.2l.3,.7l.3,.1l.3,.5l.4,0l.3,.3l.3,0l.3,.5l.3,.3l.3,.7l.4,.4l.3,.8l.3,.4l.3,.8l.3,.3l.4,.6l.3,0l.3,.3l.3,.1l.3,.6l.3,.4l.4,.9l.3,.4l.3,.7l.3,.2l.3,.4l.3,0l.4,.6l.3,0l.3,.7l.3,.2l.3,.7l.3,.4l.4,.8l.3,.4l.3,.8l.3,0l.3,.8l.3-.2l.4,.4l.3-.3l.3,.2l.3-.3l.3,.4l.3,0l.4,.4l.3,.1l.3,.5l.3,.2l.3,.9l.3,.4l.4,1l.3,.2l.3,.8l.3,0l.3,.5l.4,0l.3,.7l.3-.1l.3,.6l.3-.3l.3,.4l.4-.3l.3,.4l.3-.3l.3,.6l.3-.4l.3,.5l.4-.3l.3,.6l.3,0l.3,.6l.3-.1l.3,.6l.4-.1l.3,.5l.3-.2l.3,.8l.3-.4l.3,.6l.4-.6l.3,.7l.3-.4l.3,.4l.3-.5l.3,.5l.4-.3l.3,.8l.3-.3l.3,.6l.3-.2l.4,.8l.3-.4l.3,.5l.3-.6l.3,.6l.3-.7l.4,.5l.3-.7l.3,.6l.3-.5l.3,.6l.3-.7l.4,.5l.3-.4l.3,.6l.3-.6l.3,.7l.3-.3l.4,.6l.3-.5l.3,.6l.3-.4l.3,.7l.3-.7l.4,.5l.3-.6l.3,.5l.3-.8l.3,.7l.3-1l.4,.6l.3-.9l.3,.3l.3-1.1l.3,.3l.3-1l.4,.9l.3-1l.3,.8l.3-.6l.3,.7l.4-.6l.3,.8l.3-.6l.3,.9l.3-.5l.3,.5l.4-.5l.3,.8l.3-.4l.3,.7l.3-.6l.3,.8l.4-.6l.3,.9l.3-.8l.3,.5l.3-.5l.3,.7l.4-.7l.3,.5l.3-.8l.3,.8l.3-.7l.3,1l.4-.7l.3,.8l.3-.9l.3,1.1l.3-.8l.3,.7l.4-.4l.3,.7l.3-.5l.3,.8l.3-.9l.4,1l.3-.7l.3,.6l.3-.3l.3,.8l.3-.5l.4,1l.3-.6l.3,1.1l.3-.3l.3,.9l.3-.4l.4,1l.3-.5l.3,.8l.3-.5l.3,.7l.3-.9l.4,.5l.3-.9l.3,.2l.3-.9l.3,.4l.3-.6l.4,.4l.3-.9l.3,.5l.3-.7l.3,.4l.3-1l.4,.6l.3-1l.3,.4l.3-1l.3,.6l.3-1.1l.4,.5l.3-.9l.3,.8l.3-1l.3,.7l.4-.8l.3,.8l.3-.6l.3,.7l.3-.5l.3,.9l.4-.5l.3,.4l.3-.4l.3,.8l.3-.8l.3,.8l.4-.9l.3,.8l.3-.7l.3,.9l.3-.6l.3,.9l.4-.7l.3,.8l.3-.4l.3,.7l.3-.5l.3,1.2l.4-.6l.3,.7l.3-.2l.3,.6l.3-.5l.3,.6l.4-.5l.3,.6l.3-.6l.3,.4l.3-.4l.3,.6l.4-.6l.3,.7l.3-.5l.3,1.2l.3-.5l.4,.6l.3-.4l.3,1l.3-.5l.3,.7l.3-.3l.4,.5l.3-.8l.3,1l.3-1l.3,.6l.3-.9l.4,.4l.3-.9l.3,.5l.3-1.3l.3,.5l.3-.8l.4,.5l.3-.7l.3,.5l.3-.7l.3,.8l.3-.5l.4,1.2l.3-.7l.3,.8l.3-.2l.3,.8l.3-.5l.4,.8l.3-.4l.3,.9l.3-.8l.3,1l.4-.7l.3,.9l.3-.5l.3,.9l.3-.5l.3,.6l.4-.7l.3,.6l.3-.8l.3,.7l.3-.9l.3,.2l.4-.7l.3,.2l.3-.7l.3,.3l.3-.7l.3,.5l.4-.8l.3,.7l.3-.6l.3,.6l.3-.7l.3,.8l.4-.6l.3,.9l.3-.7l.3,.6l.3-1.1l.3,.9l.4-1l.3,.4l.3-.7l.3,.7l.3-.8l.3,.7l.4-.4l.3,.7l.3-.6l.3,.9l.3-.6l.4,1.1l.3-.4l.3,.5l.3-.3l.3,.8l.3-.8l.4,.8l.3-1l.3,.5l.3-.8l.3,.6l.3-1l.4,.3l.3-1l.3,.4l.3-.7l.3,.3l.3-.7l.4,.6l.3-.7l.3,.6l.3-.8l.3,1l.3-.7l.4,.9l.3-.3l.3,.7l.3-.3l.3,1l.3-.5l.4,1.1l.3-.9l.3,1l.3-.4l.3,.6l.4-.7l.3,.9l.3-1l.3,.6l.3-.9l.3,.6l.4-.8l.3,.8l.3-.8l.3,.7l.3-.6l.3,.7l.4-.4l.3,.9l.3-.6l.3,.9l.3-.7l.3,.8l.4-.7l.3,.8l.3-.9l.3,.4l.3-.9l.3,.5l.4-1.1l.3,.5l.3-1l.3,.5l.3-.7l.3,.4l.4-.7l.3,.5l.3-.5l.3,.4l.3-.5l.3,.7l.4-.8l.3,.7l.3-.7l.3,.9l.3-.8l.4,.9l.3-.6l.3,.4l.3-.5l.3,.8l.3-1l.4,.7l.3-.8l.3,.3l.3-.5l.3,.5l.3-.8l.4,.5l.3-.9l.3,1l.3-1.1l.3,.8l.3-.8l.4,.7l.3-.5l.3,.5l.3-.7l.3,.7l.3-.8l.4,.9l.3-.9l.3,.7l.3-.5l.3,.8l.3-.5l.4,.9l.3-.1l.3,.5l.3-.3l.3,.7l.4-.2l.3,.8l.3-.6l.3,1l.3-.4l.3,.6l.4-.4l.3,1.2l.3-.8l.3,1l.3-.4l.3,1l.4-.7l.3,.8l.3-.4l.3,.6l.3-.5l.3,.9l.4-.9l.3,.7l.3-.7l.3,.7l.3-.8l.3,.5l.4-.5l.3,.3l.3-.6l.3,.6l.3-.7l.3,.4l.4-.9l.3,.6l.3-.7l.3,.5l.3-.4l.3,.4l.4-.7l.3,.9l.3-.9l.3,.7l.3-.5l.4,.8l.3-.6l.3,.9l.3-.6l.3,.9l.3-.5l.4,.7l.3-.4l.3,.7l.3-.6l.3,.9l.3-.5l.4,.5l.3-.5l.3,.6l.3-.7l.3,.9l.3-.8l.4,.6l.3-.7l.3,.6l.3-.6l.3,.5l.3-.5l.4,.4l.3-.9l.3,.4l.3-.8l.3,.5l.3-.8l.4,.3l.3-1l.3,.6"/>
<path stroke="#4DBEEE" stroke-linejoin="bevel" stroke-dasharray="21,20.1" stroke-dashoffset="29.1" d="M1170.4,1053.6l.3-33.9l.3,24.2l.3-21l.4,20.9l.3-11.7l.3,11.7l.3-.2l.3,.1l.4,.1"/>
<path stroke="#4DBEEE" stroke-dasharray="21,20.1" stroke-dashoffset="30.3" d="M1173.3,1043.8l.3,.8l.3-.2l.3,.5l.3-.2l.3,.3l.4-.4l.3,.6l.3-.3l.3,.4l.3-.3l.3,.3l.4-.4l.3,.1l.3-.4l.3,.3l.3-.2l.3,1.2l.4,.1l.3,1.1l.3,.2l.3,.7l.3-.2l.3,.6l.4-.7l.3,.5l.3-.7l.3,.4l.3-.4l.3,.6l.4-.2l.3,.6l.3-.3l.3,.7l.3-.3l.4,.5l.3-.5l.3,.7l.3-.4l.3,.7l.3-.6l.4,.7l.3-.1l.3,.6l.3-.3l.3,.8l.3-.4l.4,1l.3-.6l.3,.6l.3-.4l.3,.6l.3-.2l.4,.7l.3-.3l.3,.9l.3-.5l.3,1.4l.3-.5l.4,.9l.3-.3l.3,.8l.3-.8l.3,.9l.3-.8l.4,.7l.3-.8l.3,1l.3-1l.3,.9l.3-.7l.4,.6l.3-.8l.3,.7l.3-.5l.3,.5l.4-.3l.3,.6l.3-.5l.3,.8l.3-.7l.3,.8l.4-.4l.3,.7l.3-.8l.3,1l.3-1l.3,.8l.4-.6l.3,.5l.3-.8l.3,.6l.3-.6l.3,.7l.4-.8l.3,.7l.3-.7l.3,.5l.3-.8l.3,.6l.4-.9l.3,.6l.3-.8l.3,.6l.3-.7l.3,.8l.4-.8l.3,.6l.3-.5l.3,.6l.3-.6l.4,1l.3-.9l.3,1l.3-.8l.3,.8l.3-.7l.4,.7l.3-.9l.3,.7l.3-1l.3,.8l.3-1l.4,.6l.3-1.1l.3,.5l.3-.6l.3,.4l.3-.8l.4,1l.3-.9l.3,.9l.3-.4l.3,.7l.3-.5l.4,.8l.3-.6l.3,.7l.3-.9l.3,.8l.3-.8l.4,.7l.3-.7l.3,.8l.3-.8l.3,.8l.3-.5l.4,1l.3-.6l.3,1.1l.3-.6l.3,.9l.4-.8l.3,.8l.3-.6l.3,.5l.3-.7l.3,.6l.4-1l.3,.4l.3-.5l.3,.2l.3-.5l.3,.3l.4-.6l.3,.6l.3-.6l.3,.4l.3-.5l.3,.5l.4-.7l.3,.7l.3-.8l.3,.8l.3-.6l.3,.7l.4-.4l.3,.8l.3-.7l.3,.8l.3-.5l.3,.7l.4-.3l.3,.5l.3-.4l.3,.5l.3-.5l.4,.9l.3-.6l.3,1l.3-.5l.3,.6l.3-.4l.4,.8l.3-.3l.3,.8l.3-.4l.3,.9l.3-.4l.4,.6l.3-.7l.3,.7l.3-.9l.3,.7l.3-.8l.4,.6l.3-.9l.3,.5l.3-.6l.3,.7l.3-1l.4,.6l.3-.6l.3,.7l.3-.7l.3,1.1l.3-.8l.4,.8l.3-.5l.3,.8l.3-.7l.3,.8l.3-.6l.4,.4l.3-.7l.3,.8l.3-.9l.3,.9l.4-1l.3,.6l.3-.8l.3,.9l.3-.8l.3,.6l.4-.6l.3,.7l.3-.8l.3,1l.3-.9l.3,.8l.4-.9l.3,.9l.3-.8l.3,.7l.3-.5l.3,.6l.4-.4l.3,.7l.3-.5l.3,.7l.3-.6l.3,.9l.4-.6l.3,.7l.3-.9l.3,.7l.3-1.1l.3,.6l.4-.9l.3,.7l.3-1.1l.3,.5l.3-.8l.3,.5l.4-.5l.3,.5l.3-.4l.3,1l.3-.7l.4,1l.3-.2l.3,.8l.3-.4l.3,.7l.3-.7l.4,.9l.3-.8l.3,.8l.3-.9l.3,.7l.3-.7l.4,.5l.3-.6l.3,.5l.3-.4l.3,.4l.3-.5l.4,.5l.3-.5l.3,.7l.3-.8l.3,1l.3-.5l.4,.8l.3-.3l.3,.8l.3-.5l.3,1.2l.3-.7l.4,1.1l.3-.5l.3,1l.3-.7l.3,1l.4-.6l.3,.7l.3-.4l.3,.7l.3-.7l.3,.7l.4-.7l.3,.5l.3-.9l.3,.9l.3-.9l.3,.7l.4-.6l.3,.6l.3-.8l.3,.6l.3-.7l.3,.7l.4-.8l.3,.6l.3-.8l.3,.7l.3-1l.3,1l.4-.8l.3,.6l.3-.6l.3,.9l.3-.3l.3,.8l.4-.6l.3,.9l.3-.3l.3,.6l.3-.4l.3,.9l.4-.8l.3,.9l.3-.7l.3,1.1l.3-.8l.4,.7l.3-.5l.3,.6l.3-.6l.3,.6l.3-.6l.4,.6l.3-.9l.3,.9l.3-.7l.3,.6l.3-.7l.4,.8l.3-.9l.3,.8l.3-.8l.3,.6l.3-.8l.4,.8l.3-.9l.3,.8l.3-.7l.3,.7l.3-.7l.4,.8l.3-.6l.3,.6l.3-.6l.3,.8l.3-.9l.4,.9l.3-.7l.3,.6l.3-.5l.3,.6l.4-.7l.3,.7l.3-.6l.3,.8l.3-1l.3,.8l.4-.7l.3,.9l.3-1.1l.3,.7l.3-1.2l.3,.4l.4-.9l.3,.6l.3-.9l.3,.8l.3-.8l.3,.8l.4-.5l.3,1l.3-.7l.3,.9l.3-.3l.3,.7l.4-.4l.3,.6l.3-.5l.3,.9l.3-.9l.3,.8l.4-.6l.3,1l.3-.6l.3,.7l.3-.5l.3,.9l.4-.7l.3,.6l.3-.3l.3,.6l.3-.5l.4,.6l.3-.8l.3,.6l.3-.6l.3,.4l.3-1l.4,.9l.3-1l.3,.7l.3-.7l.3,.5l.3-.6l.4,.3l.3-.7l.3,.7l.3-.9l.3,.4l.3-.7l.4,.3l.3-.4l.3,.6l.3-.8l.3,1.1l.3-.5l.4,.9l.3-.6l.3,.8l.3-.6l.3,.8l.3-.6l.4,.7l.3-.9l.3,.7l.3-.6l.3,.7l.3-.9l.4,.8l.3-1.1l.3,.9l.3-.8l.3,.4l.4-.6l.3,.5l.3-.4l.3,.4l.3-.2l.3,.6l.4-.5l.3,1.1l.3-.5l.3,1l.3,0l.3,.8l.4-.3l.3,1.2l.3-.4l.3,.9l.3-.5l.3,1.2l.4-.4l.3,1l.3-.7l.3,1l.3-.6l.3,.8l.4-.7l.3,.7l.3-.7l.3,.5l.3-1l.3,.3l.4-1l.3,.4l.3-.9l.3,.4l.3-1.2l.4,.5l.3-.9l.3,.6l.3-.9l.3,.6l.3-.9l.4,.7l.3-1l.3,1l.3-.8l.3,.9l.3-.8l.4,.7l.3-1l.3,.9l.3-.9l.3,.8l.3-.6l.4,.4l.3-.7l.3,.8l.3-.9l.3,.6l.3-.7l.4,.6l.3-.9l.3,.8l.3-.8l.3,.8l.3-.9l.4,1l.3-.8l.3,.5l.3-.8l.3,.8l.3-.9l.4,.3l.3-.8l.3,.3l.3-1.2l.3,.3l.4-1.1l.3,.1l.3-.9l.3,.5l.3-1.1l.3,.5l.4-1.3l.3,.7l.3-1.1l.3,.5l.3-.6l.3,.4l.4-.7l.3,.3l.3-.5l.3,.6l.3-1l.3,.7l.4-.6l.3,.6l.3-.8l.3,.5l.3-.8l.3,.5l.4-.9l.3,.1l.3-.6l.3,.4l.3-1.1l.3,.5l.4-1l.3,.3l.3-.8l.3,.6l.3-.6l.4,.8l.3-.7l.3,.7l.3-.5l.3,1.1l.3-.5l.4,1.1l.3-.5l.3,.9l.3-.3l.3,1.2l.3-.4l.4,.7l.3-.3l.3,.9l.3-.4l.3,.8l.3-.5l.4,1l.3-.8l.3,.8l.3-.3l.3,.5l.3-.5l.4,.7l.3-.9l.3,.6l.3-.8l.3,.6l.3-1.1l.4,.7l.3-.8l.3,.4l.3-1l.3,.7l.3-1l.4,.6l.3-1.1l.3,.6l.3-.8l.3,.4l.4-.7l.3,.4l.3-1l.3,.6l.3-.9l.3,.7l.4-1.1l.3,.7l.3-1.1l.3,.8l.3-.9l.3,.8l.4-.7l.3,.4l.3-.3l.3,.5l.3-.4l.3,.5"/>
<path stroke="#4DBEEE" stroke-linejoin="bevel" stroke-dasharray="21,20.1" stroke-dashoffset="22.3" d="M1373.3,1053.8l.4-40.5l.3,28l.3-24.8l.3,23.5l.3-18.7l.3,13.9l.4-2.6l.3-2.4l.3-2.6l.3,.3l.3-1.6l.3,.5"/>
<path stroke="#4DBEEE" stroke-dasharray="21,20.1" stroke-dashoffset="17.6" d="M1377.1,1026.8l.4,.2l.3,.6l.3,0l.3,.6l.3,0l.4,.6l.3,.2l.3,.8l.3,.4l.3,.8l.3,.2l.4,.6l.3-.1l.3,.3l.3-.3l.3,.3l.3-.2l.4,.4l.3,0l.3,.6l.3,.3l.3,.8l.3,.3l.4,.6l.3,.1l.3,.6l.3-.1l.3,.6l.3,.1l.4,.9l.3,.3l.3,.7l.3,.2l.3,.6l.3-.2l.4,.5l.3-.1l.3,.5l.3,.1l.3,.6l.3,0l.4,.5l.3-.1l.3,.6l.3-.2l.3,.5l.4-.4l.3,.1l.3-.4l.3,.3l.3-.4l.3,.5l.4-.2l.3,.4l.3-.2l.3,.4l.3-.3l.3,.3l.4-.3l.3,.2l.3-.5l.3,.2l.3-.5l.3,.4l.4-.3l.3,.6l.3-.1l.3,.3l.3-.3l.3,.2l.4-.4l.3,.4l.3-.1l.3,.5l.3,.1l.3,.6l.4-.1l.3,.6l.3-.2l.3,.4l.3-.2l.3,.5l.4-.3l.3,.4l.3-.2l.3,.3l.3-.2l.4,.5l.3-.2l.3,.6l.3,.2l.3,.7l.3,.2l.4,.8l.3,0l.3,.5l.3-.1l.3,.5l.3-.2l.4,.5l.3-.2l.3,.4l.3,0l.3,.5l.3,.1l.4,.8l.3,.2l.3,1.1l.3,.2l.3,.8l.3-.3l.4,.5l.3-.6l.3,.2l.3-.7l.3,.2l.3-.6l.4,.3l.3-.5l.3,.5l.3-.3l.3,.4l.4-.5l.3,.2l.3-.6l.3,.1l.3-.7l.3,.4l.4-.3l.3,.6l.3-.3l.3,.6l.3-.2l.3,.7l.4-.4l.3,.7l.3-.2l.3,.9l.3-.1l.3,.7l.4-.2l.3,.7l.3-.3l.3,.8l.3-.4l.3,.6l.4-.3l.3,.5l.3-.4l.3,.7l.3-.4l.3,.6l.4-.3l.3,.6l.3-.3l.3,.6l.3-.4l.3,.5l.4-.3l.3,.6l.3-.2l.3,.5l.3-.4l.4,.5l.3-.4l.3,.6l.3-.2l.3,.8l.3-.3l.4,.8l.3-.3l.3,.6l.3-.3l.3,.8l.3,0l.4,.9l.3-.1l.3,.8l.3-.3l.3,.5l.3-.5l.4,.4l.3-.5l.3,.6l.3-.6l.3,.4l.3-.7l.4,.7l.3-.9l.3,.5l.3-.5l.3,.7l.3-.6l.4,.8l.3-.3l.3,.8l.3-.3l.3,.9l.4-.3l.3,.7l.3-.4l.3,.8l.3-.4l.3,.7l.4-.8l.3,.8l.3-1l.3,.7l.3-.8l.3,.4l.4-.9l.3,.7l.3-.8l.3,.6l.3-.9l.3,.9l.4-.9l.3,.9l.3-1l.3,.9l.3-1.1l.3,.7l.4-.7l.3,.3l.3-.8l.3,.7l.3-.7l.3,.6l.4-.8l.3,.7l.3-.6l.3,.6l.3-.8l.3,.8l.4-.6l.3,.6l.3-.8l.3,.3l.3-1.1l.4,.4l.3-1.2l.3,.3l.3-1.3l.3,.2l.3-.9l.4,.1"/>
<path stroke="#4DBEEE" stroke-linejoin="bevel" stroke-dasharray="21,20.1" stroke-dashoffset="27.3" d="M1455.2,1055.1l.3-6.2l.3-27.4l.3-33.9l.3-34.2l.3-34.1l.4,39.4l.3,.4l.3,1.3l.3,0"/>
<path stroke="#4DBEEE" stroke-dasharray="21,20.1" stroke-dashoffset="40.2" d="M1458,960.4l.3,.6l.3,.2l.4,.8l.3,.5l.3,.9l.3,.6l.3,.8l.3,.3l.4,.4l.3-.1l.3,.3l.3-.1l.3,.2l.3-.2l.4,.2l.3-.2l.3,.2l.3-.1l.3,.5l.4,.3l.3,.7l.3,.4l.3,.6l.3,.3l.3,.6l.4,.2l.3,.6l.3,0l.3,.4l.3-.2l.3,.3l.4-.1l.3,.2l.3-.2l.3,.4l.3,.1l.3,.5l.4,.3l.3,.6l.3,.1l.3,.4l.3,0l.3,.5l.4,0l.3,.5l.3,0l.3,.3l.3-.2l.3,.2l.4-.3l.3,0l.3-.4l.3,0l.3-.1l.3,.3l.4,.2l.3,.9l.3,.5l.3,.8l.3,.2l.4,.3l.3-.2l.3,.2l.3-.2l.3,.6l.3,.3l.4,1.1l.3,.6l.3,1.2l.3,.5l.3,.6l.3,.3l.4,.6l.3,.2l.3,.6l.3,.3l.3,.7l.3,.2l.4,.6l.3,.2l.3,.4l.3,.2l.3,.6l.3,.3l.4,.5l.3,.1l.3,.5l.3-.1l.3,.4l.3,0l.4,.4l.3-.1l.3,.3l.3-.2l.3,.5l.3,.1l.4,.5l.3,.1l.3,.7l.3,.2l.3,.6l.4,.3l.3,.7l.3,.2l.3,.7l.3,.2l.3,.5l.4-.1l.3,.1l.3-.3l.3,0l.3-.4l.3,.2l.4-.2l.3,.4l.3,.1l.3,2.7l.3,2.4l.3,2.6l.4,2.1l.3,2.7l.3,.1l.3,.6l.3,.4l.3,.7l.4,.3l.3,.4l.3-.2l.3,.1l.3-.2l.3,.1l.4,0l.3,.6l.3,.3l.3,.6l.3,.5l.4,.8l.3,.5l.3,.8l.3,.2l.3,.3l.3-.2l.4-.1l.3-.6l.3-.1l.3-.4l.3,.2l.3-.1l.4,.4l.3,0l.3,.2l.3-.2l.3,.3l.3,0l.4,.5l.3,.3l.3,.7l.3,.2l.3,.5l.3-.2l.4,.2l.3-.2l.3,.3l.3,.1l.3,.7l.3,.2l.4,.7l.3,.3l.3,.6l.3,.2l.3,.7l.3,.1l.4,.5l.3,0l.3,.2l.3-.4l.3,0l.4-.1l.3,.3l.3,.3l.3,.8l.3,.5l.3,.9l.4,0l.3,.2l.3-.3l.3,0l.3-.2l.3,.4l.4,.1l.3,.9l.3,.4l.3,.9l.3,.4l.3,.7l.4,.1l.3,.3l.3-.3l.3,0l.3-.5l.3,0l.4-.3l.3,.3l.3,0l.3,.5l.3,0l.3,.4l.4-.2l.3,.3l.3-.2l.3,.4l.3-.1l.4,.4l.3,.1l.3,.5l.3-.2l.3,.2l.3,0l.4,.4l.3,.1l.3,.8l.3,.9l.3,1.3l.3,1.1l.4,1.3l.3,.8l.3,.8l.3,.1l.3,.8l.3,.1l.4,.6l.3-.1l.3,.2l.3-.4l.3,.1l.3-.3l.4,.5l.3,0l.3,.8l.3,.4l.3,.9l.3,.4l.4,.9l.3,.4l.3,.8l.3,.1l.3,.5l.3-.2l.4,.1l.3-.4l.3,.3l.3-.1l.3,.5l.4,.1l.3,.7l.3,.2l.3,.6l.3,0l.3,.5l.4,0l.3,.3l.3,0l.3,.4l.3-.1l.3,.3l.4-.1l.3,.3l.3,.3l.3,.8l.3,.6l.3,1l.4,.4l.3,.7l.3,.2l.3,.7l.3,.1l.3,.7l.4,.1l.3,.6l.3,0l.3,.4l.3-.3l.3,.1l.4-.3l.3,.3l.3-.2l.3,.7l.3,.2l.4,.8l.3,.1l.3,.7l.3-.2l.3,.3l.3-.3l.4,.5l.3-.4l.3,.5l.3-.3l.3,.7l.3-.3l.4,.8l.3-.1l.3,.8l.3,0l.3,.7l.3-.1l.4,.5l.3-.4l.3,.3l.3-.4l.3,.4l.3-.5l.4,.4l.3-.4l.3,.6l.3-.4l.3,.7l.3-.2l.4,.8l.3,0l.3,.8l.3-.6l.3,.7l.3-.6l.4,.7l.3-.7l.3,.3l.3-.8l.3,.3l.4-.9l.3,.2l.3-.7l.3,.3l.3-.7l.3,.3l.4-.9l.3,.6l.3-.7l.3,.5l.3-.2"/>
<path stroke="#4DBEEE" stroke-linejoin="bevel" stroke-dasharray="21,20.1" stroke-dashoffset="21.3" d="M1565.8,1054.4l.3-41.5l.4,30.8l.3,.2l.3,.4l.3,.2"/>
<path stroke="#4DBEEE" stroke-dasharray="21,20.1" stroke-dashoffset="12.6" d="M1567.4,1044.5l.3-.6l.3,.1l.4-.4l.3,.3l.3-.4l.3,.5l.3-.2l.3,.6l.4,0l.3,.7l.3-.3l.3,.3l.3-.7l.3,.1l.4-.9l.3,.3l.3-.6l.3,1.5"/>
<path stroke="#4DBEEE" stroke-linejoin="bevel" stroke-dasharray="21,20.1" stroke-dashoffset="7.9" d="M1573.1,1044.8l.3-14.5l.3,12.4l.4-.2l.3-.7l.3-.1"/>
<path stroke="#4DBEEE" stroke-dasharray="21,20.1" stroke-dashoffset="36.3" d="M1574.7,1041.7l.3,.4l.3-.2l.4,.4l.3-.1l.3,.5l.3,.1l.3,.7l.3,0l.4,.5l.3-.3l.3,.4l.3-.4l.3,.2l.3-.4l.4,.5l.3-.4l.3,.4l.3-.2l.3,.5l.3-.3l.4,.3l.3-.4l.3,.5l.3-.5l.3,.2l.3-.4l.4,.5l.3-.3l.3,.6l.3-.3l.3,.8l.3,0l.4,.8l.3-.2l.3,.7l.3,0l.3,.7l.4-.2l.3,.7l.3-.2l.3,.7l.3-.3l.3,.7l.4-.3l.3,.7l.3-.2l.3,.8l.3,0l.3,.9l.4-.2l.3,.6l.3-.3l.3,.8l.3-.2l.3,.7l.4-.3l.3,.7l.3-.1l.3,.7l.3-.4l.3,.8l.4-.5l.3,.8l.3-.3l.3,.7l.3-.5l.3,.4l.4-.6l.3,.4l.3-.8l.3,.3l.3-.7l.3,.3l.4,.6"/>
<path stroke="#4DBEEE" stroke-linejoin="bevel" stroke-dasharray="21,20.1" stroke-dashoffset="30.1" d="M1598.2,1053.2l.3-84.4l.3,8.7l.3-5.7l.3,.6l.4-.2l.3,.4"/>
<path stroke="#4DBEEE" stroke-dasharray="21,20.1" stroke-dashoffset="7.2" d="M1600.1,972.6l.3,.7l.3,.3l.3,.6l.3,.4l.4,.8l.3,.4l.3,.8l.3,.4l.3,.8l.3,.3l.4,.7l.3,.3l.3,.7l.3,.3l.3,.7l.3,.3l.4,.8l.3,.5l.3,.7l.3,.4l.3,.6l.3,.3l.4,.6l.3,.3l.3,.8l.3,.6l.3,.9l.3,.3l.4,.5l.3,.1l.3,.7l.3,.3l.3,.8l.4,.4l.3,.9l.3,.3l.3,.7l.3,.4l.3,.7l.4,.5l.3,.9l.3,.7l.3,.9l.3,.2l.3,.5l.4-.1l.3,.4l.3,0l.3,.5l.3,0l.3,.5l.4,0l.3,.5l.3-.1l.3,.5l.3-.1l.3,.2l.4-.2l.3,.2l.3-.1l.3,.3l.3-.1l.3,.4l.4,0l.3,.4l.3,0l.3,.5l.3,.1l.3,.7l.4,.4l.3,.8l.3,.5l.3,.7l.3,.2l.4,.5l.3-.1l.3,.4l.3-.1l.3,.4l.3-.1l.4,.4l.3,0l.3,.6l.3,.2l.3,.7l.3,.2l.4,.5l.3,.1l.3,.4l.3,.1l.3,.4l.3,.1l.4,.6l.3,.4l.3,.7l.3,.3l.3,.7l.3,.2l.4,.3l.3-.2l.3-.5"/>
<path stroke="#4DBEEE" stroke-linejoin="bevel" stroke-dasharray="21,20.1" stroke-dashoffset="26.3" d="M1632.1,1011.7l.3-.1l.3-104.3l.3-104.5l.4-104.5l.3-104.5l.3-104.5l.3-104.5l.3-104.5l.4-104.5l.3-104.5l.3,4.5l.3,4.5l.3,3.9"/>
<path stroke="#4DBEEE" stroke-dasharray="21,20.1" stroke-dashoffset="34.5" d="M1636.2,84.2l.3,2.3l.4,0l.3,.6l.3,.3l.3,.8l.3,.4l.3,.8l.4,.4l.3,.5l.3,0l.3,.3l.3-.2l.3,.2l.4-.1l.3,.4l.3,.3l.3,.9l.3,.8l.3,1.3l.4,.8l.3,1l.3,.3l.3,.4l.3-.1l.3,.2l.4-.3l.3,.1l.3-.3l.3,.3l.3,.2l.3,.8l.4,.5l.3,1.1l.3,.5l.3,1l.3,.5l.4,.7l.3,.4l.3,.9l.3,.4l.3,.8l.3,.3l.4,.6l.3,0l.3,.3l.3,.1l.3,.8l.3,.7l.4,1.2l.3,.8l.3,.9l.3,.3l.3,.6l.3,.2l.4,.7l.3,.3l.3,.7l.3,.2l.3,.6l.3,.2l.4,.9l.3,.6l.3,1.8l.3,1.7l.3,2.1l.3,1.7l.4,2.1l.3,1.5l.3,1.9l.3,.2l.3,.5l.3,0l.4,.3l.3,0l.3,.5l.3,.1l.3,.5l.4,.2l.3,.6l.3,.5l.3,1.1l.3,.7l.3,1l.4,.7l.3,.7l.3,.2l.3,.4l.3,.1l.3,.7l.4,.3l.3,.6l.3,.2l.3,.3l.3-.2l.3,.3l.4,0l.3,.5l.3,.4l.3,.9l.3,.4l.3,.9l.4,.4l.3,.8l.3,.6l.3,.8l.3,.5l.3,.9l.4,.5l.3,.7l.3,.2l.3,.6l.3,.2l.4,.6l.3,.2l.3,.6l.3,.2l.3,.5l.3-.1l.4,.4l.3-.2l.3,.3l.3,.1l.3,.8l.3,.5l.4,1.2l.3,.8l.3,1.1l.3,.7l.3,.8l.3,.3l.4,.5l.3-.1l.3,.1l.3-.3l.3,.2l.3-.1l.4,.5l.3,.2l.3,.9l.3,.4l.3,.9l.3,.4l.4,.7l.3,.1l.3,.4l.3,0l.3,.4l.3,.2l.4,.7l.3,.4l.3,.8l.3,.3l.3,.4l.4,0l.3,.3l.3-.1l.3,.2l.3-.1l.3,.6l.4,.3l.3,1l.3,.7l.3,1.1l.3,.6l.3,.9l.4,.2l.3,.6l.3,0l.3,.4l.3,0l.3,.5l.4,.3l.3,.6l.3,.3l.3,.8l.3,.3l.3,.7l.4,.4l.3,.8l.3,.4l.3,.9l.3,.4l.3,.7l.4,.2l.3,.3l.3-.2l.3,.6l.3,.7l.4,1.3l.3,1l.3,1.6l.3,1.4l.3,1.8l.3,1.4l.4,1.7l.3,1.1l.3,1.1l.3-.3l.3,.1l.3-.3l.4,.3l.3,0l.3,.6l.3,.2l.3,.6l.3,.1l.4,.4l.3,0l.3,.4l.3,.1l.3,.5l.3,.3l.4,.6l.3,.2l.3,.4l.3-.2l.3,.1l.3-.1l.4,.4l.3,.1l.3,.5l.3,.4l.3,.7l.3,.5l.4,.9l.3,.5l.3,.9l.3,.6l.3,.8l.4,.4l.3,.5l.3,0l.3,.3l.3-.1l.3,.4l.4,.1l.3,.7l.3,.5l.3,.8l.3,.3l.3,.6l.4,0l.3,.5l.3,0l.3,.5l.3,.2l.3,.7l.4,.3l.3,1.2l.3,1.1l.3,1.3l.3,1l.3,1.4l.4,.8l.3,1.1l.3,.7l.3,.9l.3,.5l.3,1l.4,.6l.3,1.2l.3,.7l.3,.9l.3,.1l.3,.4l.4-.1l.3,.2l.3-.3l.3,0l.3-.3l.4,.1l.3-.1l.3,.2l.3,0l.3,.4l.3,.2l.4,.4l.3,0l.3,.3l.3-.1l.3,.5l.3,.3l.4,.9l.3,.7l.3,1.1l.3,.7l.3,1l.3,.5l.4,.6l.3,.1l.3,.5l.3-.2l.3,.2l.3-.4l.4,0l.3-.4l.3,0l.3-.4l.3,.2l.3-.2l.4,.2l.3-.1l.3,.5l.3,.3l.3,.9l.4,.6l.3,1.1l.3,.6l.3,1l.3,.4l.3,.8l.4,.3l.3,.6l.3,0l.3,.3l.3,0l.3,.4l.4,0l.3,1l.3,.4l.3,.9l.3,.6l.3,.8l.4,.6l.3,.7l.3,.5l.3,.9l.3,.6l.3,1.1l.4,.8l.3,1l.3,.4l.3,.4l.3-.3l.3,.1l.4-.5l.3,.1l.3,.1l.3,.7l.3,.6l.3,1.1l.4,.8l.3,1.1l.3,.5l.3,.9l.3,.1l.4,.6l.3,.1l.3,.5l.3,.3l.3,.7l.3,.4l.4,.9l.3,.7l.3,1l.3,.7l.3,.9l.3,.4l.4,.8l.3,.2l.3,.7l.3,.4l.3,.8l.3,.5l.4,.8l.3,.4l.3,.7l.3,.2l.3,.5l.3,.3l.4,.5l.3,.3l.3,.9l.3,.5l.3,1.1l.3,.6l.4,.7l.3,0l.3,.2l.3-.3l.3,.3l.4,0l.3,.6l.3,.3l.3,.6l.3,.3l.3,.5l.4-.1l.3,.3l.3-.2l.3,.2l.3-.1l.3,.3l.4,.1l.3,.3l.3-.1l.3,.6l.3,.4l.3,.9l.4,.7l.3,.8l.3,.2l.3,.1l.3-.4l.3-.1l.4-.3l.3,.2l.3,.2l.3,.8l.3,.4l.3,1l.4,.4l.3,.7l.3,.3l.3,.5l.3-.2l.3,.3l.4-.1l.3,.4l.3,.4l.3,1l.3,.8l.4,1.1l.3,.7l.3,1.1l.3,.6l.3,.9l.3,.5l.4,.8l.3,.4l.3,.6l.3-.2l.3,.3l.3-.3l.4,.3l.3,.1l.3,.6l.3,.4l.3,.7l.3,.5l.4,.6l.3,.2l.3,.2l.3-.3l.3,0l.3-.3l.4,.3l.3,.2l.3,.9l.3,.6l.3,1.2l.3,.6l.4,.9l.3,.6l.3,.8l.3,.3l.3,.6l.4,.3l.3,.7l.3,.7l.3,1.2l.3,.9l.3,1.2l.4,.7l.3,1.1l.3,.6l.3,.7l.3,.1l.3,.4l.4-.1l.3,.5l.3,.4l.3,.8l.3,.7l.3,1.1l.4,.8l.3,1.1l.3,.6l.3,.8l.3,.3l.3,.6l.4,0l.3,.2l.3-.3l.3,.1l.3-.2l.3,.3l.4,.3l.3,.8l.3,.5l.3,1l.3,.3l.3,.6l.4,.2l.3,.5l.3,.2l.3,.6l.3,.3l.4,.7l.3,.3l.3,.8l.3,.4l.3,.6l.3,.3l.4,.9l.3,.5l.3,1.1"/>
<path stroke="#00FF00" d="M208,868.4l.3,.3l.3,.1l.4,.4l.3,.3l.3,.6l.3,.2l.3,.6l.3,.3l.4,.6l.3,.3l.3,.6l.3,.2l.3,.6l.3,.3l.4,.6l.3,.2l.3,.7l.3,.2l.3,.6l.3,.2l.4,.6l.3,.2l.3,.6l.3,.1l.3,.7l.3,.1l.4,.5l.3,.3l.3,.5l.3,.2l.3,.6l.3,.1l.4,.5l.3,.3l.3,.6l.3,.1l.3,.7l.3,.2l.4,.6l.3,.2l.3,.6l.3,.2l.3,.6l.4,.2l.3,.6l.3,.2l.3,.6l.3,.2l.3,.5l.4,.3l.3,.6l.3,.2l.3,.5l.3,.3l.3,.6l.4,.2l.3,.6l.3,.3l.3,.6l.3,.2l.3,.6l.4,.2l.3,.6l.3,.2l.3,.6l.3,.3l.3,.5l.4,.3l.3,.6l.3,.2l.3,.6l.3,.2l.3,.5l.4,.3l.3,.6l.3,.2l.3,.6l.3,.2l.4,.6l.3,.2l.3,.7l.3,.2l.3,.7l.3,.3l.4,.5l.3,.3l.3,.6l.3,.3l.3,.5l.3,.3l.4,.5l.3,.2l.3,.5l.3,.1l.3,.5l.3,.1l.4,.5l.3,.2l.3,.5l.3,.2l.3,.5l.3,.1l.4,.6l.3,.3l.3,.5l.3,.2l.3,.7l.3,.2l.4,.7l.3,.3l.3,.6l.3,.3l.3,.8l.3,.2l.4,.8l.3,.3l.3,.6l.3,.3l.3,.7l.4,.3l.3,.6l.3,.1l.3,.6l.3,.2l.3,.6l.4,.1l.3,.6l.3,.1l.3,.6l.3,.1l.3,.5l.4,.2l.3,.6l.3,.1l.3,.7l.3,.1l.3,.7l.4,.1l.3,.7l.3,.2l.3,.6l.3,.2l.3,.6l.4,.3l.3,.6l.3,.3l.3,.7l.3,.3l.3,.7l.4,.3l.3,.7l.3,.3l.3,.6l.3,.3l.4,.6l.3,.2l.3,.6l.3,.2l.3,.6l.3,.2l.4,.7l.3,.2l.3,.6l.3,.4l.3,.6l.3,.2l.4,.7l.3,.3l.3,.6l.3,.3l.3,.6l.3,.3l.4,.6l.3,.3l.3,.7l.3,.3l.3,.7l.3,.2l.4,.6l.3,.3l.3,.5l.3,.2l.3,.6l.3,.1l.4,.6l.3,.2l.3,.5l.3,.2l.3,.7l.3,.2l.4,.7l.3,.3l.3,.7l.3,.2l.3,.7l.4,.3l.3,.7l.3,.2l.3,.6l.3,.2l.3,.7l.4,.4l.3,.7l.3,.2l.3,.7l.3,.2l.3,.6l.4,.3l.3,.6l.3,.2l.3,.6l.3,.3l.3,.7l.4,.3l.3,.6l.3,.3l.3,.6l.3,.3l.3,.6l.4,.3l.3,.6l.3,.3l.3,.5l.3,.3l.3,.6l.4,.2l.3,.6l.3,.2l.3,.7l.3,.3l.4,.6l.3,.2l.3,.8l.3,.3l.3,.8l.3,.3l.4,.6l.3,.3l.3,.6l.3,.4l.3,.6l.3,.2l.4,.7l.3,.3l.3,.7l.3,.2l.3,.7l.3,.3l.4,.7l.3,.3l.3,.7l.3,.4l.3,.6l.3,.3l.4,.7l.3,.2l.3,.7l.3,.4l.3,.6l.3,.2l.4,.7l.3,.2l.3,.7l.3,.2l.3,.7l.3,.2l.4,.7l.3,.2l.3,.7l.3,.2l.3,.7l.4,.3l.3,.7l.3,.4l.3,.8l.3,.3l.3,.9l.4,.3l.3,.9l.3,.2l.3,.9l.3,.3l.3,.8l.4,.3l.3,.7l.3,.2l.3,.7l.3,.2l.3,.7l.4,0l.3,.8l.3,0l.3,.7l.3,.1l.3,.6l.4,.1l.3,.7l.3,0l.3,.8l.3,.1l.3,.8l.4,.2l.3,.8l.3,.1l.3,.8l.3,0l.3,.9l.4,.1l.3,.9l.3,0l.3,.9l.3,0l.4,.8l.3,.2l.3,.9l.3,.2l.3,.9l.3,.2l.4,1.1l.3,.2l.3,1l.3,0l.3,1l.3,.1l.4,.8l.3,0l.3,.9l.3-.1l.3,.7l.3,0l.4,.7l.3,0l.3,.7l.3-.1l.3,.7l.3,0l.4,.5l.3-.1l.3,.5l.3,0l.3,.6l.3-.3l.4,.7l.3,0l.3,.7l.3,0l.3,.9l.4-.1l.3,.9l.3-.1l.3,1l.3-.2l.3,.9l.4-.2l.3,.8l.3-.2l.3,.8l.3-.2l.3,.8l.4-.1l.3,.8l.3-.3l.3,1l.3-.1l.3,.8l.4-.1l.3,1.1l.3-.1l.3,.8l.3-.1l.3,.9l.4,0l.3,.7l.3-.2l.3,.7l.3-.4l.3,.9l.4-.4l.3,.8l.3-.4l.3,.7l.3-.3l.3,.6l.4-.4l.3,.7l.3-.3l.3,.6l.3-.5l.4,.8l.3-.3l.3,.7l.3-.3l.3,.9l.3-.5l.4,.8l.3-.1l.3,.8l.3-.3l.3,.8l.3-.1l.4,1l.3-.3l.3,.8l.3-.4l.3,.8l.3-.2l.4,.7l.3-.2l.3,.9l.3-.6l.3,.8l.3-.4l.4,.9l.3-.3l.3,.9l.3-.4l.3,.8l.3-.5l.4,.9l.3-.5l.3,.6l.3-.4l.3,.5l.4-.6l.3,.4l.3-.7l.3,.4l.3-.9l.3,.7l.4-.7l.3,.7l.3-.6l.3,.8l.3-.5l.3,.8l.4-.5l.3,.8l.3-.2l.3,1.1l.3-.3l.3,1.2l.4-.2l.3,1.1l.3-.3l.3,1.2l.3-.1l.3,1.1l.4-.2l.3,1l.3-.3l.3,1.1l.3-.6l.3,.6l.4-.5l.3,.7l.3-.8l.3,.8l.3-1l.3,.7l.4-.4l.3,.7l.3-.8l.3,1l.3-.6l.4,.7l.3-.6l.3,1.1l.3-.7l.3,1.2l.3-.5l.4,.8l.3-.3l.3,.9l.3-.6l.3,1l.3-.8l.4,1l.3-.4l.3,.8l.3-.7l.3,.7l.3-.4l.4,.8l.3-.6l.3,.7l.3-.8l.3,.5l.3-.6l.4,.9l.3-1.1l.3,.7l.3-.6l.3,.6l.3-.8l.4,.7l.3-.4l.3,.6l.3-.4l.3,1l.3-.6l.4,.9l.3-.5l.3,1.1l.3-.7l.3,1l.4-.5l.3,.8l.3-.8l.3,.7l.3-.8l.3,.6l.4-.6l.3,.4l.3-.8l.3,.7l.3-.4l.3,.9l.4-.5l.3,.9l.3-.7l.3,1.2l.3-.6l.3,1.1l.4-.2l.3,.9l.3-.3l.3,.7l.3-.2l.3,.7l.4-.4l.3,.9l.3-.7l.3,1l.3-.7l.3,.7l.4-.6l.3,.8l.3-18.4l.3,1l.3-.5l.4,1.1l.3-.5l.3,.9l.3-.4l.3,.8l.3-.5l.4,.5l.3-.5l.3,.6l.3-.8l.3,.7l.3-.7l.4,.8l.3-.6l.3,1.1l.3-.4l.3,.8l.3-.2l.4,1.1l.3-.4l.3,1.2l.3-.4l.3,1.2l.3-.7l.4,1.1l.3-.4l.3,1l.3-.4l.3,.6l.3-.5l.4,.9l.3-.5l.3,1.3l.3-.5l.3,1.1l.3,.1l.4,1.3l.3-.2l.3,1.3l.3,.1l.3,1.4l.4,0l.3,.9l.3-.4l.3,1.4l.3-.4l.3,.9l.4-.2l.3,.8l.3-.2l.3,1.1l.3-.3l.3,1.1l.4-.4l.3,1.2l.3-.4l.3,.8l.3-.4l.3,.9l.4-.8l.3,.9l.3-.8l.3,.7l.3-.6l.3,.5l.4-.5l.3,.6l.3-.5l.3,.6l.3-.1l.3,.9l.4-.7l.3,1.1l.3-.2l.3,1.2l.3-.4l.4,1l.3-.2l.3,.9l.3-.5l.3,1l.3-.4l.4,.8l.3-.4l.3,1l.3-.5l.3,.5l.3-.5l.4,.7l.3-.9l.3,.7l.3-.8l.3,.8l.3-1l.4,.7l.3-.9l.3,.7l.3-.9l.3,.9l.3-.8l.4,.8l.3-.6l.3,.8l.3-.5l.3,.6l.3-.6l.4,1l.3-.6l.3,.5l.3-.5l.3,1.1l.3-.6l.4,1l.3-.6l.3,.7l.3-.7l.3,.8l.4-.8l.3,.7l.3-.7l.3,.7l.3-.8l.3,.4l.4-.7l.3,.5l.3-.7l.3,.6l.3-.9l.3,.9l.4-.8l.3,.6l.3-.9l.3,.8l.3-.8l.3,.6l.4-.6l.3,.7l.3-.7l.3,.9l.3-.6l.3,.6l.4-.3l.3,.6l.3-.6l.3,.8l.3-.6l.3,1l.4-.5l.3,.9l.3-.3l.3,1.1l.3-.6l.4,.9l.3-.5l.3,.8l.3-.5l.3,.6l.3-.6l.4,.8l.3-.9l.3,.9l.3-.8l.3,.7l.3-.6l.4,.5l.3-.6l.3,.5l.3-.7l.3,.8l.3-.6l.4,.5l.3-.5l.3,.7l.3-.6l.3,.7l.3-.6l.4,.7l.3-.6l.3,.7l.3-.6l.3,.7l.3-1l.4,.6l.3-1l.3,.6l.3-1l.3,.6l.3-1.1l.4,.5l.3-.8l.3,.4l.3-.8l.3,.7l.4-.9l.3,.8l.3-.9l.3,.8l.3-.8l.3,.7l.4-.7l.3,.9l.3-.5l.3,.6l.3-.4l.3,.9l.4-.8l.3,1.1l.3-.7l.3,1l.3-.5l.3,1l.4-.6l.3,.8l.3-.3l.3,.7l.3-.7l.3,1l.4-.7l.3,.9l.3-.7l.3,.7l.3-.6l.3,.7l.4-.6l.3,.9l.3-.9l.3,1l.3-.5l.3,.8l.4-.7l.3,.8l.3-.6l.3,.9l.3-.8l.4,1l.3-1l.3,.8l.3-.8l.3,.7l.3-.9l.4,.5l.3-.6l.3,.2l.3-.6l.3,.6l.3-.7l.4,.5l.3-.9l.3,.4l.3-.8l.3,.5l.3-.6l.4,.3l.3-1l.3,.5l.3-.9l.3,.4l.3-.9l.4,.3l.3-1l.3,.6l.3-.9l.3,1l.3-.9l.4,.9l.3-.6l.3,1.1l.3-.4l.3,1.3l.4-.5l.3,1.1l.3-.5l.3,.8l.3-.2l.3,.7l.4-.5l.3,1l.3-.5l.3,.8l.3-.3l.3,1.1l.4-.3l.3,1l.3-.1l.3,.9l.3-.1l.3,1l.4-.3l.3,1.1l.3-.3l.3,.9l.3-.6l.3,1.1l.4-.5l.3,.6l.3-.5l.3,.7l.3-.3l.3,.8l.4-.7l.3,.6l.3-.7l.3,.5l.3-.7l.3,.8l.4-1l.3,.6l.3-.7l.3,.4l.3-.9l.4,.6l.3-1l.3,.5l.3-.7l.3,.5l.3-.8l.4,.6l.3-.7l.3,1l.3-.6l.3,1.2l.3-.4l.4,1l.3-.4l.3,1.2l.3-.5l.3,.8l.3-.4l.4,.7l.3-.4l.3,.7l.3-.7l.3,.9l.3-.4l.4,.8l.3-.7l.3,1.1l.3-.8l.3,1.1l.3-.4l.4,.9l.3-.6l.3,.8l.3-.8l.3,.8l.4-.8l.3,.6l.3-1.1l.3,.5l.3-.9l.3,.5l.4-1.2l.3,.6l.3-.9l.3,.5l.3-1l.3,.7l.4-.8l.3,.8l.3-.8l.3,.8l.3-.8l.3,.8l.4-.9l.3,.5l.3-.8l.3,.6l.3-.8l.3,.6l.4-.9l.3,.6l.3-.8l.3,.7l.3-1.1l.3,.5l.4-.8l.3,.2l.3-.9l.3,.4l.3-1.1l.3,.4l.4-1.1l.3,.6l.3-1.2l.3,.5l.3-.9l.4,.4l.3-.5l.3,.4l.3-.6l.3,.8l.3-.7l.4,1.2l.3-.7l.3,1l.3-.6l.3,.7l.3-.7l.4,.8l.3-.9l.3,.6l.3-.9l.3,.4l.3-.9l.4,.6l.3-.9l.3,.6l.3-.7l.3,.5l.3-1l.4,.8l.3-1.1l.3,.8l.3-1l.3,.5l.3-1l.4,.7l.3-.9l.3,.5l.3-.8l.3,.3l.4-.6l.3,.3l.3-.6l.3,.5l.3-1l.3,.7l.4-.7l.3,.4l.3-.9l.3,.8l.3-.7l.3,.4l.4-.7l.3,.9l.3-.7l.3,.5l.3-.6l.3,.7l.4-.7l.3,.9l.3-.5l.3,.8l.3-.6l.3,1l.4-.6l.3,.8l.3-.6l.3,.8l.3-.6l.3,.5l.4-.4l.3,.5l.3-.8l.3,.7l.3-1.1l.3,.7l.4-.9l.3,.8l.3-1.2l.3,.9l.3-1.1l.4,.8l.3-1l.3,.8l.3-.8l.3,.4l.3-.8l.4,.4l.3-.8l.3,.6l.3-1l.3,.6l.3-.9l.4,.7l.3-.7l.3,.4l.3-.5l.3,.8l.3-.8l.4,.8l.3-.5l.3,.9l.3-.3l.3,1l.3-.5l.4,1l.3-.1l.3,1.2l.3-.4l.3,1.1l.3-.2l.4,.8l.3-.2l.3,.9l.3-.6l.3,.7l.3-.6l.4,.8l.3-.6l.3,.6l.3-.8l.3,.5l.4-.9l.3,.8l.3-.6l.3,.6l.3-.4l.3,.7l.4-.5l.3,.9l.3-.6l.3,.9l.3-.5l.3,.6l.4-.4l.3,.5l.3-.4l.3,.4l.3-.9l.3,1l.4-1.1l.3,.8l.3-.9l.3,.9l.3-.6l.3,.5l.4-.5l.3,.6l.3-.3l.3,.7l.3-.6l.3,.8l.4-.3l.3,.7l.3-.6l.3,1.2l.3-.7l.4,1l.3-.7l.3,1l.3-.6l.3,1.1l.3-.6l.4,1.1l.3-.6l.3,.9l.3-.9l.3,.9l.3-.9l.4,.6l.3-.5l.3,.4l.3-.8l.3,.4l.3-.6l.4,.3l.3-1l.3,.5l.3-.8l.3,.6l.3-1.1l.4,.4l.3-.7l.3,.6l.3-1l.3,.6l.3-.9l.4,.7l.3-.5l.3,.4l.3-.6l.3,.8l.3-1l.4,.8l.3-1.1l.3,.5l.3-.8l.3,.4l.4-.8l.3,.3l.3-1l.3,.6l.3-1l.3,1l.4-1l.3,.8l.3-.6l.3,.8l.3-.8l.3,.9l.4-.7l.3,1l.3-.9l.3,1l.3-.7l.3,.7l.4-.8l.3,1l.3-.9l.3,1l.3-.7l.3,.7l.4-.5l.3,.6l.3-.3l.3,1l.3-.5l.3,.8l.4-.5l.3,.7l.3-.6l.3,.4l.3-1l.4,.7l.3-1.1l.3,.2l.3-1.1l.3,.2l.3-.9l.4,.7l.3-.8l.3,.7l.3-.5l.3,.9l.3-.7l.4,1l.3-.6l.3,.8l.3-.5l.3,.5l.3-.5l.4,.5l.3-.6l.3,.5l.3-.6l.3,.5l.3-.9l.4,.8l.3-.9l.3,.7l.3-.7l.3,.7l.3-1l.4,.8l.3-.9l.3,.9l.3-.6l.3,.5l.3-.7l.4,.9l.3-.6l.3,.7l.3-.5l.3,.9l.4-.7l.3,.8l.3-.7l.3,.6l.3-.7l.3,.6l.4-.7l.3,.8l.3-.9l.3,.8l.3-.5l.3,.9l.4-.7l.3,.8l.3-.4l.3,.9l.3-.4l.3,.8l.4-.5l.3,.9l.3-.8l.3,.7l.3-.4l.3,.6l.4-.7l.3,.6l.3-.9l.3,.9l.3-.8l.3,.7l.4-.9l.3,.9l.3-.6l.3,.9l.3-.6l.4,.6l.3-.4l.3,.6l.3-.5l.3,.7l.3-.8l.4,.7l.3-.9l.3,.7l.3-.9l.3,.4l.3-.8l.4,.5l.3-.9l.3,.8l.3-.6l.3,.7l.3-.7l.4,.8l.3-.6l.3,.6l.3-.8l.3,.8l.3-1l.4,.8l.3-.7l.3,.6l.3-.9l.3,1l.3-.4l.4,.7l.3-.1l.3,.7l.3-.1l.3,1l.3-.4l.4,1.1l.3-.5l.3,.9l.3-.5l.3,.8l.4-.3l.3,.8l.3-.8l.3,.7l.3-.7l.3,1l.4-.9l.3,.7l.3-.9l.3,.7l.3-.8l.3,.9l.4-.9l.3,.9l.3-.8l.3,.5l.3-.4l.3,.8l.4-.6l.3,.6l.3-.5l.3,.5l.3-.4l.3,.9l.4-1l.3,1l.3-.8l.3,1.1l.3-1l.3,.9l.4-.9l.3,.9l.3-1.1l.3,.9l.3-1l.3,.3l.4-.6l.3,.4l.3-.8l.3,.7l.3-.8l.4,.6l.3-.5l.3,.7l.3-.4l.3,1l.3-.8l.4,1.2l.3-.7l.3,1l.3-.4l.3,.5l.3-.3l.4,.6l.3-.8l.3,.7l.3-.8l.3,.5l.3-.6l.4,.4l.3-.6l.3,.8l.3-.6l.3,1l.3-.5l.4,.8l.3-.2l.3,.8l.3-.5l.3,1.1l.3-.4l.4,.6l.3-.6l.3,.9l.3-.8l.3,.4l.4-.8l.3,.4l.3-.9l.3,.3l.3-.8l.3,.3l.4-1.1l.3,.5l.3-1l.3,.6l.3-1.1l.3,.2l.4-.8l.3,.4l.3-1.2l.3,.3l.3-1l.3,.4l.4-1.3l.3,.4l.3-1.2l.3,.3l.3-1.1l.3,.2l.4-.8l.3,.4l.3-.7l.3,.5l.3-.6l.3,.8l.4-.2l.3,.7l.3-.2l.3,.8l.3-.2l.3,.8l.4-.6l.3,1l.3-.6l.3,.8l.3-.7l.4,.5l.3-.7l.3,.8l.3-1l.3,.6l.3-.9l.4,.6l.3-.9l.3,.5l.3-.7l.3,.7l.3-.7l.4,.7l.3-1.1l.3,.8l.3-.6l.3,.6l.3-.8l.4,.8l.3-.7l.3,.7l.3-.5l.3,.5l.3-.6l.4,.6l.3-.7l.3,.8l.3-.9l.3,.8l.3-.9l.4,.7l.3-.7l.3,.8l.3-.6l.3,.5l.4-.5l.3,.7l.3-.7l.3,.8l.3-.7l.3,.7l.4-.9l.3,.8l.3-1l.3,.7l.3-.8l.3,.5l.4-.5l.3,.8l.3-.6l.3,.9l.3-.5l.3,.9l.4-.7l.3,1l.3-.7l.3,.7l.3-.5l.3,.9l.4-.7l.3,1l.3-.8l.3,.6l.3-.9l.3,.5l.4-.7l.3,.4l.3-1l.3,.5l.3-1l.3,.5l.4-.9l.3,.5l.3-.7l.3,.5l.3-.7l.4,.6l.3-.7l.3,.9l.3-.8l.3,.7l.3-.8l.4,.8l.3-.7l.3,.5l.3-.6l.3,.7l.3-.5l.4,.6l.3-.7l.3,.8l.3-.5l.3,.8l.3-.9l.4,.6l.3-.6l.3,.6l.3-.6l.3,.6l.3-.7l.4,.6l.3-.7l.3,.7l.3-.9l.3,.6l.3-.9l.4,.6l.3-.6l.3,.9l.3-.7l.3,.4l.3-.7l.4,.7l.3-.6l.3,.6l.3-.8l.3,.7l.4-1l.3,.5l.3-.7l.3,.6l.3-.9l.3,.7l.4-.8l.3,.8l.3-.9l.3,.8l.3-.8l.3,.8l.4-.5l.3,.8l.3-.7l.3,1l.3-.8l.3,1l.4-.4l.3,1.1l.3-.7l.3,1.2l.3-.6l.3,1l.4-.5l.3,.7l.3-.6l.3,.9l.3-.6l.3,.6l.4-.8l.3,.8l.3-1l.3,.8l.3-.9l.4,.7l.3-.6l.3,.8l.3-.6l.3,.9l.3-.8l.4,.8l.3-.5l.3,.4l.3-.4l.3,.6l.3-.9l.4,.4l.3-.9l.3,.6l.3-1l.3,.4l.3-.7l.4,.5l.3-1.1l.3,.8l.3-.7l.3,.7l.3-.7l.4,.7l.3-.3l.3,.7l.3-.2l.3,.6l.3-.3l.4,1.1l.3-.5l.3,1l.3-.4l.3,.8l.3-.3l.4,1.1l.3-.7l.3,.8l.3-.7l.3,1l.4-.5l.3,.9l.3-.9l.3,.9l.3-.4l.3,.5l.4-.7l.3,.7l.3-.8l.3,.5l.3-.9l.3,.4l.4-.7l.3,.2l.3-.6l.3,.5l.3-.7l.3,.5l.4-.4l.3,.8l.3-.7l.3,.6l.3-.6l.3,.9l.4-.7l.3,.8l.3-.7l.3,.8l.3-.8l.3,.9l.4-.9l.3,.8l.3-.4l.3,.7l.3-.6l.4,1.1l.3-.8l.3,.7l.3-.6l.3,.4l.3-.6l.4,.2l.3-1l.3,.5l.3-.6l.3,.4l.3-.9l.4,.6l.3-.5l.3,.5l.3-.6l.3,.8l.3-.8l.4,1l.3-1l.3,.8l.3-1.1l.3,.6l.3-.7l.4,.2l.3-.6l.3,.3l.3-.9l.3,.8l.3-.7l.4,.7l.3-.5l.3,.9l.3-.6l.3,.8l.3-.3l.4,.9l.3-.5l.3,1l.3-.7l.3,1l.4-.3l.3,.8l.3-.4l.3,.8l.3-.5l.3,.6l.4-.5l.3,.8l.3-.7l.3,.6l.3-.8l.3,.5l.4-1.1l.3,.4l.3-.7l.3,.5l.3-.9l.3,.7l.4-.6l.3,1l.3-.6l.3,.9l.3-.2l.3,.8l.4-.4l.3,1l.3-.3l.3,.9l.3-.6l.3,.9l.4-.7l.3,.5l.3-.6l.3,.2l.3-.6l.4,.5l.3-1l.3,.4l.3-.7l.3,.5l.3-1.2l.4,.7l.3-1l.3,.6l.3-.7l.3,.3l.3-.5l.4,.4l.3-.6l.3,.7l.3-.8l.3,.4l.3-.5l.4,.6l.3-.8l.3,.7l.3-.8l.3,1l.3-.7l.4,1.1l.3-.3l.3,.7l.3-.2l.3,1.1l.3-.6l.4,.9l.3-.6l.3,.9l.3-1l.3,.7l.3-1l.4,.5l.3-1l.3,.5l.3-1.2l.3,.6l.4-.9l.3,.7l.3-.7l.3,.9l.3-.8l.3,.8l.4-.7l.3,.9l.3-.7l.3,.4l.3-.5l.3,.7l.4-1l.3,.7l.3-.8l.3,.3l.3-.8l.3,.6l.4-.8l.3,.6l.3-.7l.3,.7l.3-1.1l.3,.9l.4-.8l.3,.5l.3-.4l.3,.6l.3-.5l.3,.8l.4-.7l.3,.7l.3-.6l.3,.9l.3-.4l.3,.7l.4-.5l.3,.7l.3-.3l.3,.7l.3-.8l.4,.9l.3-.4l.3,.9l.3-.5l.3,.8l.3-.3l.4,.8l.3-.4l.3,.6l.3-.5l.3,.9l.3-.6l.4,.8l.3-.7l.3,.6l.3-.5l.3,.7l.3-.8l.4,.6l.3-.7l.3,.7l.3-.7l.3,.7l.3-.8l.4,.5l.3-.5l.3,.6l.3-.4l.3,.7l.3-.2l.4,.7l.3-.4l.3,1.3l.3-.5l.3,1.1l.4-.4l.3,.9l.3-.5l.3,.9l.3-.4l.3,.8l.4-.7l.3,.5l.3-.7l.3,.5l.3-.6l.3,.4l.4-.9l.3,.4l.3-.6l.3,.4l.3-.9l.3,.6l.4-.6l.3,.6l.3-.7l.3,.9l.3-.7l.3,.5l.4-.8l.3,.8l.3-1.1l.3,.9l.3-.8l.3,.8l.4-1l.3,.7l.3-.3l.3,.6l.3-.6l.3,1l.4-.9l.3,1.1l.3-.5l.3,.5l.3-.5l.4,.3l.3-.7l.3,.5l.3-.9l.3,.2l.3-1.3l.4,.4l.3-1.3l.3,.3l.3-1l.3,.2l.3-.7l.4,.2l.3-1.1l.3,.4l.3-.9l.3,.5l.3-.7l.4,.7l.3-.3l.3,.7l.3-.3l.3,.9l.3-.4l.4,.9l.3-.3l.3,1.1l.3-.5l.3,.9l.3-.4l.4,1.2l.3-.3l.3,.9l.3-.3l.3,.8l.4-.4l.3,1l.3-.5l.3,1l.3-.2l.3,.7l.4-.4l.3,1l.3-.6l.3,.9l.3-.9l.3,.6l.4-.7l.3,.6l.3-1.2l.3,.5l.3-.6l.3,.6l.4-.6l.3,.6l.3-.7l.3,.9l.3-.7l.3,.6l.4-.5l.3,.8l.3-.4l.3,.5l.3-.6l.3,1.1l.4-.6l.3,.5l.3-.4l.3,.8l.3-.7l.3,1.1l.4-.7l.3,.8l.3-.9l.3,.8l.3-.7l.4,.6l.3-.9l.3,.7l.3-.7l.3,.5l.3-.6l.4,.6l.3-.5l.3,.7l.3-.8l.3,.7l.3-.7l.4,.6l.3-.7l.3,.4l.3-.8l.3,.6l.3-1.1l.4,.3l.3-1.1l.3,0l.3-1.2l.3,.5l.3-1.1l.4,.4l.3-.8l.3,.7l.3-.7l.3,.9l.3-.3l.4,.7l.3-.5l.3,.9l.3-.5l.3,.5l.4-.6l.3,.6l.3-1l.3,.5l.3-1l.3,.7l.4-.8l.3,.6l.3-.9l.3,.8l.3-.9l.3,.8l.4-.9l.3,.7l.3-.9l.3,.6l.3-.9l.3,.8l.4-1l.3,.5l.3-1l.3,.7l.3-.9l.3,.5l.4-.5l.3,.5l.3-.8l.3,.6l.3-.6l.3,1l.4-.7l.3,.7l.3-.4l.3,.7l.3-.7l.3,.7l.4-.8l.3,.5l.3-.9l.3,.4l.3-.7l.4,.6l.3-.8l.3,1.1l.3-.6l.3,.7l.3-.5l.4,.9l.3-.4l.3,.9l.3-.5l.3,.5l.3-.5l.4,.5l.3-.7l.3,.7l.3-.8l.3,.7l.3-.7l.4,.2l.3-.8l.3,.6l.3-1l.3,.8l.3-1.1l.4,.6l.3-.9l.3,.8l.3-1.1l.3,.5l.3-.5l.4,.4l.3-.7l.3,.5l.3-.5l.3,.6l.3-.8l.4,.8l.3-.5l.3,.5l.3-.4l.3,.6l.4-.4l.3,.8l.3-.5l.3,1l.3-.3l.3,.9l.4-.4l.3,1.1l.3-.5l.3,.7l.3-.6l.3,.8l.4-.8l.3,.6l.3-.8l.3,.8l.3-.8l.3,.5l.4-.7l.3,.7l.3-.6l.3,.4l.3-.5l.3,.5l.4-.8l.3,.6l.3-.8l.3,.6l.3-.8l.3,.6l.4-.7l.3,.7l.3-.7l.3,1l.3-.8l.4,.7l.3-.6l.3,.6l.3-.8l.3,.9l.3-1.1l.4,.6l.3-.8l.3,.7l.3-.8l.3,.6l.3-1l.4,.6l.3-.8l.3,.8l.3-.8l.3,.4l.3-.5l.4,.4l.3-.7l.3,.8l.3-.8l.3,.6l.3-.8l.4,.9l.3-.6l.3,.9l.3-.5l.3,1.1l.3-.4l.4,.9l.3-.3l.3,1.2l.3-.2l.3,.7l.3-.4l.4,1.1l.3-.7l.3,1l.3-.5l.3,.9l.4-.9l.3,.9l.3-.5l.3,.8l.3-.4l.3,1.1l.4-.7l.3,1.1l.3-.5l.3,1l.3-.6l.3,.6l.4-.7l.3,.5l.3-1l.3,.7l.3-1.2l.3,.7l.4-.9l.3,.3l.3-.7l.3,.5l.3-.6l.3,.9l.4-.7l.3,.9l.3-.3l.3,.9l.3-.5l.3,1l.4-.4l.3,1l.3-.7l.3,1l.3-.8l.4,.6l.3-.7l.3,.5l.3-1l.3,.6l.3-.9l.4,.4l.3-.9l.3,.3l.3-.7l.3,.7l.3-.9l.4,.7l.3-.7l.3,.8l.3-.4l.3,1.2l.3-.6l.4,1.3l.3-.6l.3,1.2l.3-.3l.3,1l.3-.5l.4,1.1l.3-.8l.3,.7l.3-.5l.3,.8l.3-1l.4,.7l.3-.8l.3,.8l.3-.9l.3,.2l.3-.7l.4,.2l.3-1.2l.3,.2l.3-1.2l.3,.4l.4-1.3l.3-.1l.3-1.1l.3,.3l.3-1.4l.3,.3l.4-1.1l.3,.6l.3-1l.3,.4l.3-.9l.3,.5l.4-.8l.3,.4l.3-.7l.3,.8l.3-1l.3,.8l.4-.7l.3,.6l.3-.9l.3,.8l.3-.9l.3,.6l.4-.9l.3,.3l.3-.9l.3,.6l.3-1.2l.3,.7l.4-1l.3,.7l.3-.8l.3,.8l.3-.8l.4,.8l.3-.6l.3,.5l.3-.8l.3,.6l.3-.7l.4,.5l.3-.6l.3,.4l.3-.8l.3,.9l.3-.7l.4,.8l.3-.3l.3,.8l.3-.5l.3,1.1l.3-.4l.4,.8l.3-.8l.3,.8l.3-.5l.3,.6l.3-.7l.4,1l.3-.8l.3,1l.3-.7l.3,.8l.3-.7l.4,.8l.3-.9l.3,.6l.3-.7l.3,.6l.3-1.1l.4,.5l.3-.6l.3,.4l.3-.7l.3,.6l.4-.4l.3,.5l.3-.7l.3,.9l.3-.6l.3,1.1l.4-.6l.3,.8l.3-.4l.3,1l.3-.7l.3,.9l.4-.4l.3,.7l.3-.7l.3,.8l.3-1l.3,.8l.4-.8l.3,.5l.3-.8l.3,.5l.3-.7l.3,.8l.4-.8l.3,.9l.3-.3l.3,.7l.3-.6l.3,1.2l.4-.4l.3,.8l.3-.4l.3,.9l.3-.5l.3,1.1l.4-.6l.3,.8l.3-.4l.3,.7l.3-.6l.4,.6l.3-.7l.3,.8l.3-.7l.3,1.1l.3-.6l.4,.8l.3-.3l.3,.8l.3-.5l.3,.8l.3-.7l.4,.8l.3-.9l.3,.6l.3-.5l.3,.5l.3-1l.4,.4l.3-.8l.3,.3l.3-1.3l.3,.6l.3-1.2l.4,.4l.3-1l.3,.5l.3-1l.3,.2l.3-1.1l.4,.5l.3-.7l.3,.2l.3-.9l.3,.3l.4-.8l.3,.3l.3-.6l.3,.4l.3-.7l.3,.6l.4-.6l.3,.8l.3-.6l.3,.9l.3-.5l.3,.8l.4-.8l.3,.8l.3-.8l.3,.6l.3-.8l.3,.6l.4-.8l.3,.6l.3-1l.3,.7l.3-.9l.3,.6l.4-.6l.3,.8l.3-.6l.3,.8l.3-.8l.3,.9l.4-.7l.3,.8l.3-.7l.3,.5l.3-.7l.3,.4l.4-1.2l.3,.3l.3-1l.3,.3l.3-1l.4,.3l.3-1l.3,.6l.3-.7l.3,.6l.3-.8l.4,.6l.3-.9l.3,.7l.3-.6l.3,.8l.3-1l.4,.8l.3-.6l.3,.6l.3-.3l.3,.6l.3-.4l.4,1.1l.3-.4l.3,.9l.3-.4l.3,.9l.3-.2l.4,1l.3-.5l.3,.9l.3-.5l.3,.8l.3-.8l.4,.7l.3-.7l.3,.6l.3-.9l.3,.3l.4-.7l.3,.5l.3-.6l.3,.2l.3-1l.3,.5l.4-.9l.3,.5l.3-.9l.3,.5l.3-1l.3,.5l.4-.5l.3,.8l.3-.6l.3,1.3l.3-.3l.3,1.1l.4-.3l.3,1.1l.3-.3l.3,.7l.3-.1l.3,.8l.4-.5l.3,.8l.3-.4l.3,.8l.3-.5l.3,.8l.4-.6l.3,.7l.3-.9l.3,.8l.3-.7l.3,.8l.4-.5l.3,.9l.3-.5l.3,.8l.3-.5l.4,.9l.3-.5l.3,1.1l.3-.7l.3,.7l.3-.5l.4,.6l.3-.3l.3,.6l.3-.6l.3,.7l.3-.7l.4,.9l.3-.4l.3,.8l.3-.5l.3,.9l.3-.3l.4,.8l.3-.6l.3,1l.3-.8l.3,.9l.3-.8l.4,.4l.3-.6l.3,.5l.3-1l.3,.8l.3-.9l.4,.5l.3-.4l.3,.4l.3-.5l.3,.7l.4-.6l.3,.9l.3-.7l.3,1l.3-.9l.3,.7l.4-.5l.3,.5l.3-.6l.3,.8l.3-1l.3,.7l.4-.6l.3,.6l.3-.7l.3,.7l.3-1l.3,.7l.4-.6l.3,.7l.3-.7l.3,.4l.3-.6l.3,.5l.4-.9l.3,.8l.3-.7l.3,.5l.3-.8l.3,.8l.4-.9l.3,.5l.3-.9l.3,.6l.3-.9l.3,.6l.4-1l.3,.5l.3-1.1l.3,.6l.3-1.1l.4,.8l.3-1.2l.3,.9l.3-.9l.3,.5l.3-.6l.4,.7l.3-.8l.3,.8l.3-.6l.3,.8l.3-.8l.4,.8l.3-.6l.3,.6l.3-.8l.3,.5l.3-.8l.4,.5l.3-.5l.3,.7l.3-.8l.3,.7l.3-.4l.4,.8l.3-.6l.3,1l.3-.5l.3,.6l.3-.6l.4,.8l.3-.8l.3,.8l.3-1.1l.3,.7l.3-.9l.4,.5l.3-.8l.3,.8l.3-.7l.3,.5l.4-.7l.3,1l.3-.8l.3,.9l.3-.4l.3,.8l.4-.3l.3,.7l.3-.6l.3,.9l.3-.7l.3,.7l.4-.8l.3,.6l.3-.8l.3,.4l.3-.9l.3,.1l.4-.9l.3,.3l.3-.8l.3,.3l.3-.8l.3,.3l.4-.8l.3,.6l.3-.7l.3,.6l.3-.8l.3,.9l.4-.7l.3,.9l.3-.5l.3,.9l.3-.5l.4,.7l.3-.7l.3,.7l.3-.5l.3,.4l.3-.9l.4,.2l.3-.8l.3,.2l.3-.8l.3,.6l.3-1.1l.4,.9l.3-.8l.3,.6l.3-.7l.3,.7l.3-.4l.4,.9l.3-.9l.3,.8l.3-.7l.3,.7l.3-.8l.4,.8l.3-.8l.3,.8l.3-.9l.3,.6l.3-1.2l.4,.7l.3-1.2l.3,.6l.3-1.2l.3,.6l.3-1.1l.4,.5l.3-1l.3,.5l.3-.7l.3,.8l.4-.8l.3,.5l.3-.5l.3,.8l.3-.9l.3,.7l.4-.3l.3,.7l.3-.6l.3,.7l.3-.6l.3,.9l.4-.4l.3,.9l.3-.9l.3,.9l.3-.7l.3,.9l.4-.8l.3,.7l.3-.7l.3,.6l.3-.6l.3,.8l.4-.8l.3,.8l.3-.4l.3,.7l.3-.7l.3,.9l.4-.8l.3,1l.3-.9l.3,.6l.3-.6l.4,.7l.3-.8l.3,.7l.3-.6l.3,.9l.3-.5l.4,.9l.3-.4l.3,1l.3-.2l.3,.8l.3-.4l.4,1l.3-.2l.3,.6l.3-.5l.3,.7l.3-.9l.4,.4l.3-.7l.3,.2l.3-.8l.3,.5l.3-1l.4,.6l.3-.8l.3,.4l.3-1l.3,.5l.3-.8l.4,.5l.3-1.3l.3,.7l.3-.9l.3,.5l.3-1.1l.4,.7l.3-.9l.3,.6l.3-.7l.3,.6l.4-.7l.3,.7l.3-.5l.3,.9l.3-.7l.3,.6l.4-.6l.3,1l.3-.7l.3,.6l.3-.8l.3,.8l.4-.5l.3,.5l.3-.5l.3,.7l.3-.5l.3,.5l.4-.5l.3,1l.3-.5l.3,.9l.3-.2l.3,1l.4-.4l.3,1.1l.3-.4l.3,.8l.3-.6l.3,.6l.4-.9l.3,.7l.3-.4l.3,.4l.3-.5l.3,.6l.4-.7l.3,.8l.3-.8l.3,1.1l.3-.6l.4,.8l.3-.5l.3,.7l.3-.4l.3,1l.3-.7l.4,.8l.3-.5l.3,.8l.3-.9l.3,.7l.3-.8l.4,.1l.3-.7l.3,.3l.3-1.1l.3,.7l.3-1.1l.4,.8l.3-.8l.3,.5l.3-.7l.3,1l.3-.5l.4,.9l.3-.6l.3,.9l.3-.5l.3,1l.3-.5l.4,.8l.3-.3l.3,.7l.3-.7l.3,.6l.4-.6l.3,.5l.3-.6l.3,.8l.3-1l.3,.6l.4-.7l.3,.5l.3-.7l.3,.6l.3-1.1l.3,.4l.4-.7l.3,.3l.3-.9l.3,.5l.3-.8l.3,.5l.4-.5l.3,.5l.3-.4l.3,.6l.3-.6l.3,1.1l.4-.9l.3,.8l.3-.6l.3,.9l.3-.8l.3,.8l.4-.7l.3,.5l.3-.8l.3,.6l.3-.8l.3,.7l.4-.5l.3,.7l.3-.7l.3,1l.3-.6l.4,.9l.3-.5l.3,.8l.3-.5l.3,1l.3-.6l.4,.6l.3-.8l.3,.8l.3-1l.3,.4l.3-.7l.4,.2l.3-1l.3,.4l.3-1.2l.3,.5l.3-1.2l.4,.4l.3-.9l.3,.8l.3-1l.3,.9l.3-.6l.4,1.3l.3-.6l.3,1.3l.3-.1l.3,1.1l.3-.3l.4,.9l.3-.5l.3,1.1l.3-.6l.3,.9l.4-.6l.3,.6l.3-.8l.3,.6l.3-1.1l.3,.5l.4-1l.3,.7l.3-1l.3,.5l.3-.6l.3,.6l.4-.5l.3,.8l.3-.6l.3,.6l.3-.4l.3,.8l.4-.9l.3,.9l.3-.9l.3,.5l.3-.8l.3,.5l.4-1.3l.3,.6l.3-1l.3,.5l.3-.6l.3,.6l.4-.8l.3,.4l.3-.6l.3,.8l.3-.8l.3,.8l.4-1l.3,1l.3-.8l.3,.9l.3-.6l.4,.6l.3-.5l.3,.7l.3-.3l.3,.8l.3-.7l.4,.9l.3-.7l.3,.6l.3-.7l.3,.7l.3-.5l.4,.4l.3-.5l.3,.4l.3-.7l.3,.9l.3-1l.4,.6l.3-.7l.3,.6l.3-.7l.3,.6l.3-.7l.4,.7l.3-1l.3,1l.3-.8l.3,.8l.3-.4l.4,.6l.3-.5l.3,.8l.3-.6l.3,1l.4-.5l.3,.7l.3-.7l.3,.9l.3-.7l.3,.9l.4-.5l.3,1l.3-.2l.3,.9l.3-.4l.3,1.1l.4-.6l.3,.9l.3-.6l.3,.9l.3-.6l.3,.5l.4-.7l.3,.5l.3-.8l.3,.7l.3-.9l.3,.6l.4-.7l.3,.5l.3-.8l.3,.7l.3-.9l.3,.6l.4-.7l.3,.6l.3-.7l.3,.6l.3-.5l.3,.6l.4-.8l.3,.7l.3-.5l.3,.7l.3-.7l.4,.9l.3-.6l.3,1l.3-.4l.3,.5l.3-.6l.4,1l.3-.6l.3,.8l.3-.6l.3,.5l.3-.8l.4,.7l.3-.6l.3,.8l.3-1l.3,.7l.3-.6l.4,1l.3-.7l.3,.7l.3-.9l.3,.9l.3-.6l.4,.4l.3-.6l.3,.4l.3-1.1l.3,.5l.3-.9l.4,.2l.3-1l.3,.5l.3-.9l.3,.8l.3-.9l.4,.8l.3-.5l.3,.4l.3-.6l.3,.8l.4-.5l.3,.8l.3-.9l.3,.8l.3-.5l.3,.9l.4-.7l.3,1.1l.3-.6l.3,.8l.3-.5l.3,.8l.4-.6l.3,.5l.3-.4l.3,.6l.3-.6l.3,.5l.4-.9l.3,.8l.3-.7l.3,.7l.3-1l.3,.7l.4-1.1l.3,.7l.3-.8l.3,.4l.3-1l.3,.2l.4-.7l.3,.1l.3-.8l.3,.4l.3-.7l.4,.3l.3-.8l.3,.7l.3-.7l.3,.6l.3-.5l.4,1l.3-.6l.3,.7l.3-.2l.3,.7l.3-.7l.4,1.1l.3-.6l.3,.5l.3-.4l.3,1l.3-.6l.4,1.1l.3-.5l.3,1.3l.3-.2l.3,.8l.3-.4l.4,1.1l.3-.8l.3,.7l.3-.5l.3,.5l.3-.6l.4,.4l.3-.8l.3,.4l.3-.8l.3,.5l.3-.6l.4,.5l.3-.9l.3,.9l.3-.7l.3,.8l.4-.8l.3,1l.3-.5l.3,.8l.3-.5l.3,.6l.4-.5l.3,.8l.3-1l.3,.7l.3-.5l.3,.6l.4-.8l.3,.8l.3-.5l.3,.8l.3-.7l.3,.8l.4-.9l.3,.8l.3-.7l.3,.7l.3-.8l.3,.6l.4-.9l.3,.6l.3-.7l.3,.5l.3-.8l.3,.9l.4-.8l.3,.7l.3-.9l.3,.7l.3-.7l.4,.7l.3-.6l.3,.7l.3-.6l.3,.9l.3-.8l.4,.9l.3-.5l.3,.4l.3-.6l.3,.5l.3-.8l.4,.6l.3-1.1l.3,.5l.3-.7l.3,.5l.3-.9l.4,.9l.3-.9l.3,.6l.3-.4l.3,.7l.3-.7l.4,1l.3-.9l.3,.6l.3-.8l.3,.9l.3-.9l.4,.5l.3-1l.3,.9l.3-.7l.3,.6l.3-.5l.4,.9l.3-.6l.3,.8l.3-.4l.3,1.1l.4-.7l.3,.9l.3-1l.3,1l.3-1l.3,.7l.4-.9l.3,.6l.3-.8l.3,.8l.3-1l.3,.7l.4-.6l.3,.8l.3-.9l.3,.6l.3-.5l.3,.6l.4-.6l.3,.9l.3-.8l.3,.9l.3-.9l.3,1.1l.4-.8l.3,1l.3-.7l.3,.6l.3-.6l.3,.7l.4-.7l.3,.7l.3-1l.3,.8l.3-.7l.4,.7l.3-.6l.3,.9l.3-.4l.3,1l.3-.6l.4,1.1l.3-.4l.3,.9l.3-.2l.3,.7l.3-.3l.4,.8l.3-.7l.3,.5l.3-1.1l.3,.5l.3-.7l.4,.3l.3-.8l.3,.4l.3-.9l.3,.7l.3-.8l.4,.8l.3-1l.3,.8l.3-.6l.3,.6l.3-.4l.4,.8l.3-.7l.3,.7l.3-.6l.3,1l.3-.8l.4,.7l.3-.6l.3,.9l.3-.8l.3,.7l.4-.9l.3,.7l.3-.4l.3,.6l.3-.5l.3,.8l.4-.6l.3,.7l.3-.3l.3,.7l.3-.6l.3,.7l.4-.8l.3,.9l.3-.8l.3,.8l.3-1.1l.3,.9l.4-1l.3,1l.3-.9l.3,.7l.3-.6l.3,.7l.4-.7l.3,.8l.3-.9l.3,.5l.3-.6l.3,.4l.4-.9l.3,.5l.3-.7l.3,.3l.3-.8l.3,.8l.4-.6l.3,.6l.3-.4l.3,.8l.3-.4l.4,1.1l.3-.6l.3,1.1l.3-.6l.3,.8l.3-.5l.4,.8l.3-.5l.3,.7l.3-.8l.3,.7l.3-.6l.4,.4l.3-.6l.3,.5l.3-.7l.3,.7l.3-.9l.4,.8l.3-.8l.3,.9l.3-.8l.3,1l.3-.5l.4,.9l.3-.5l.3,1l.3-.6l.3,1.3l.3-.6l.4,1.2l.3-.5l.3,1l.3-.4l.3,.8l.4-.6l.3,.8l.3-.8l.3,.8l.3-.8l.3,.5l.4-.7l.3,.5l.3-.9l.3,.7l.3-.8l.3,.4l.4-.6l.3,.5l.3-.6l.3,.8l.3-.8l.3,.4l.4-.8l.3,.7l.3-.6l.3,.6l.3-.9l.3,.8l.4-.9l.3,.9l.3-.7l.3,.7l.3-.5l.3,.9l.4-.5l.3,.9l.3-.2l.3,1l.3-.7l.3,1.1l.4-.4l.3,.9l.3-.3l.3,.7l.3-.3l.4,.5l.3-.5l.3,.8l.3-.8l.3,.6l.3-.7l.4,.5l.3-1.1l.3,.3l.3-1l.3,.6l.3-1l.4,.4l.3-.9l.3,.6l.3-.9l.3,.7l.3-.7l.4,.5l.3-.5l.3,.5l.3-.6l.3,.9l.3-.5l.4,.8l.3-.5l.3,.9l.3-.3l.3,.8l.3-.4l.4,.9l.3-.6l.3,.8l.3-.4l.3,.6l.4-.6l.3,.6l.3-.8l.3,.7l.3-.7l.3,.4l.4-.6l.3,.5l.3-1.1l.3,.4l.3-1l.3,.3l.4-1l.3,.4l.3-1l.3,.6l.3-.7l.3,.8l.4-.6l.3,.9l.3,0l.3,1l.3-.4l.3,.7l.4-.5l.3,1.3l.3-.7l.3,1l.3-.9l.3,1l.4-.6l.3,.8l.3-.7l.3,1l.3-.6l.3,.8l.4-.4l.3,.5l.3-.5l.3,.7l.3-.6l.4,.8l.3-.7l.3,.4l.3-.7l.3,.5l.3-.4l.4,.6l.3-.8l.3,.9l.3-.8l.3,.8l.3-.7l.4,.4l.3-.6l.3,.5l.3-1l.3,.6l.3-.9l.4,.5l.3-.6l.3,.6l.3-.8l.3,.9l.3-.5l.4,.8l.3-.4l.3,.8l.3-.5l.3,.5l.3-.5l.4,.7l.3-.6l.3,.5l.3-.9l.3,.9l.3-.8l.4,.7l.3-.9l.3,.4l.3-.9l.3,.4l.4-.8l.3,.6l.3-.7l.3,.4l.3-.4l.3,.8l.4-.7l.3,1.1l.3-.4l.3,.9l.3-.3l.3,1.2l.4-.4l.3,.9l.3-.1l.3,1l.3,0l.3,.7l.4-.2l.3,1l.3-.3l.3,.9l.3-.5l.3,1l.4-.8l.3,.8l.3-1l.3,.5l.3-.9l.3,.6l.4-1l.3,.1l.3-1.3l.3,.3l.3-.8l.4,.1l.3-.8l.3,.2l.3-.7l.3,.5l.3-.9l.4,.7l.3-.6l.3,.8l.3-.7l.3,.5l.3-.5l.4,.8l.3-1l.3,.9l.3-.8l.3,.8l.3-.5l.4,.9l.3-.6l.3,.8l.3-.8l.3,.8l.3-.8l.4,.6l.3-.8l.3,.7l.3-.6l.3,.6l.3-.8l.4,.5l.3-.6l.3,.5l.3-.9l.3,.6l.3-1.1l.4,.4l.3-1.4l.3,.3l.3-1.2l.3,0l.4-1.3l.3,.1l.3-1.1l.3,.4l.3-1l.3,.3l.4-.9l.3,.5l.3-.5l.3,.3l.3-.7l.3,.6l.4-1l.3,.9l.3-.8l.3,.5l.3-.6l.3,.8l.4-1l.3,.8l.3-.9l.3,.6l.3-1.2l.3,.3l.4-.8l.3,.4l.3-1l.3,0l.3-.7l.3,.4l.4-1.1l.3,.6l.3-.7l.3,.7l.3-.6l.4,.7l.3-.3l.3,.9l.3-.5l.3,.9l.3-.5l.4,.9l.3-.4l.3,1.2l.3-.5l.3,1l.3-.2l.4,.8l.3-.2l.3,1l.3-.5l.3,.9l.3-.5l.4,.7l.3-.7l.3,.6l.3-.6l.3,.5l.3-1.1l.4,.6l.3-.9l.3,.5l.3-.7l.3,.7l.3-.8l.4,.4l.3-.6l.3,.6l.3-.7l.3,.4l.3-.6l.4,.5l.3-.8l.3,.8l.3-1.1l.3,.5l.4-.8l.3,.7l.3-1l.3,.4l.3-.8l.3,.5l.4-.5l.3,.5l.3-.7l.3,.4l.3-.6l.3,.4l.4-.6l.3,1l.3-.8l.3,.7l.3-.3l.3,.8l.4-.6l.3,.7l.3-.4l.3,.9l.3-.7l.3,.7l.4-.6l.3,.6l.3-.8l.3,.4l.3-.6l.3,.4l.4-1l.3,.5l.3-.9l.3,.5l.3-1l.4,.4l.3-.7l.3,.3l.3-1l.3,.5l.3-.8l.4,.7l.3-.7l.3,1l.3-.7l.3,.9l.3-.6l.4,1l.3-.7l.3,.7l.3-.7l.3,.7l.3-.6l.4,.8l.3-.7l.3,1l.3-.7l.3,.6l.3-.2l.4,.5l.3-.3l.3,.7l.3-.5l.3,.8l.3-.8l.4,.9l.3-.6l.3,.4l.3-.7l.3,.9l.3-.9l.4,.5l.3-.8l.3,.7l.3-.9l.3,.6l.4-.7l.3,.6l.3-.8l.3,.5l.3-.8l.3,.7l.4-.6l.3,.7l.3-.9l.3,.8l.3-.8l.3,.9l.4-.8l.3,.8l.3-.9l.3,.8l.3-.8l.3,.8l.4-.7l.3,.8l.3-.7l.3,1l.3-.3l.3,.7l.4-.3l.3,1.3l.3-.4l.3,1.1l.3-.4l.3,1l.4-.3l.3,.9l.3-.4l.3,.8l.3-.3l.3,.9l.4-.8l.3,.9l.3-.4l.3,.7l.3-.4l.4,.8l.3-.5l.3,.6l.3-.7l.3,1.1l.3-.6l.4,.6l.3-.5l.3,.6l.3-.7l.3,.8l.3-.6l.4,.9l.3-.5l.3,.8l.3-.4l.3,.6l.3-.4l.4,.6l.3-.7l.3,.7l.3-1.1l.3,.6l.3-.9l.4,.7l.3-.9l.3,.4l.3-1l.3,.7l.3-.8l.4,.3l.3-.5l.3,.4l.3-1l.3,.8l.4-1.2l.3,.4l.3-.8l.3,.2l.3-.8l.3,.3l.4-1.2l.3,.8l.3-.9l.3,.7l.3-.8l.3,.6l.4-.5l.3,1l.3-.5l.3,1.1l.3-.3l.3,.9l.4-.6l.3,1.2l.3-.7l.3,.8l.3-.5l.3,.9l.4-.6l.3,1l.3-.8l.3,.9l.3-.3l.3,.8l.4-.4l.3,.9l.3-.8l.3,1l.3-.5l.3,.8l.4-.8l.3,.8l.3-.6l.3,.9l.3-.4l.4,.9l.3-.2l.3,.8l.3-.4l.3,1.1l.3-.4l.4,1.1l.3-.3l.3,.8l.3-.3l.3,.6l.3-.4l.4,.7l.3-.9l.3,.5l.3-.6l.3,.6l.3-.7l.4,.4l.3-.9l.3,.6l.3-.9l.3,.5l.3-.7l.4,.3l.3-.7l.3,.4l.3-.6l.3,.5l.3-1l.4,.9l.3-.7l.3,.9l.3-.8l.3,1l.4-.6l.3,.7l.3-.5l.3,.7l.3-.8l.3,.8l.4-1.1l.3,.6l.3-1.1l.3,.5l.3-1l.3,.5l.4-.8l.3,.3l.3-.7l.3,.6l.3-.7l.3,.6l.4-.4l.3,.4l.3-.8l.3,.7l.3-.8l.3,.7l.4-1l.3,.7l.3-.7l.3,.5l.3-.7l.3,.8l.4-.9l.3,.8l.3-.4l.3,.5l.3-.6l.3,1l.4-.9l.3,.8l.3-.7l.3,.4l.3-1.2l.4,.5l.3-1.2l.3-.2l.3-1.3l.3,.2l.3-1.3l.4-.1l.3-1.1l.3,.3l.3-1.1l.3,.2l.3-.8l.4,.8l.3-1.1l.3,1l.3-1l.3,1.1l.3-.6l.4,.8l.3-.9l.3,.9l.3-.9l.3,.8l.3-.5l.4,.7l.3-.6l.3,1l.3-.5l.3,1l.3-.3l.4,1l.3-.4l.3,.8l.3-.3l.3,1l.4-.5l.3,1l.3-.5l.3,.6l.3-.3l.3,.7l.4-.7l.3,.5l.3-.4l.3,.7l.3-.8l.3,.7l.4-.5l.3,1l.3-.6l.3,.7l.3-.6l.3,1l.4-.6l.3,.9l.3-.6l.3,.8l.3-.9l.3,.8l.4-.8l.3,.5l.3-.7l.3,.2l.3-.8l.3,.8l.4-1.1l.3,.9l.3-.7l.3,.7l.3-.3l.3,.8l.4-.4l.3,.8l.3-.3l.3,1.1l.3-.5l.4,.9l.3-.7l.3,.7l.3-.5l.3,.6l.3-.4l.4,.4l.3-.6l.3,1l.3-.9l.3,.8l.3-.6l.4,.9l.3-.6l.3,.9l.3-.6l.3,.8l.3-.6l.4,.6l.3-.7l.3,.7l.3-1l.3,.5l.3-.8l.4,.5l.3-1.1l.3,.4l.3-.9l.3,.4l.3-1l.4,.3l.3-.6l.3,.3l.3-.6l.3,.7l.3-.6l.4,.8l.3-.5l.3,.9l.3-.8l.3,.9l.4-.9l.3,.7l.3-.7l.3,.6l.3-.9l.3,.4l.4-.6l.3,.6l.3-1l.3,.7l.3-.8l.3,.7l.4-.7l.3,.9l.3-.9l.3,.8l.3-.8l.3,.5l.4-.7l.3,.5l.3-.7l.3,.5l.3-.7l.3,.5l.4-.6l.3,.7l.3-.5l.3,.6l.3-.9l.3,1l.4-.9l.3,.9l.3-.9l.3,.7l.3-1l.4,.7l.3-1.1l.3,.6l.3-.8l.3,.3l.3-.9l.4,1l.3-1l.3,.7l.3-.7l.3,.9l.3-.8l.4,.9l.3-.6l.3,.7l.3-.9l.3,.8l.3-.7l.4,.9l.3-.7l.3,.5l.3-.6l.3,.7l.3-.7l.4,.7l.3-.9l.3,.9l.3-.9l.3,.4l.3-.8l.4,.9l.3-1l.3,.8l.3-.8l.3,.6l.3-.8l.4,.5l.3-.8l.3,.5l.3-.9l.3,.3l.4-1l.3,.5l.3-1l.3,.6l.3-1.1l.3,.6l.4-.8l.3,.7l.3-.7l.3,.7l.3-.8l.3,.5l.4-.8l.3,.7l.3-.6l.3,.7l.3-.7l.3,.8l.4-.9l.3,.7l.3-1l.3,.7l.3-1l.3,.7l.4-1.1l.3,.6l.3-.8l.3,.3l.3-.9l.3,.8l.4-.9l.3,.8l.3-.3l.3,1.1l.3-.6l.4,1.3l.3-.2l.3,1.1l.3-.6l.3,1.2l.3-.2l.4,1l.3-.3l.3,1.3l.3-.6l.3,1.1l.3-.2l.4,.8l.3-.3l.3,1l.3-.6l.3,1l.3-.6l.4,.8l.3-.7l.3,1l.3-.5l.3,.8l.3-.3l.4,.8l.3-.5l.3,1l.3-.7l.3,1.2l.3-.9l.4,.9l.3-1l.3,.6l.3-.7l.3,.6l.3-1l.4,.9l.3-.8l.3,1.1l.3-.7l.3,1l.4-.3l.3,1.2l.3-.2l.3,.9l.3-.2l.3,1.1l.4-.1l.3,1l.3-.6l.3,1.2l.3-.6l.3,1l.4-.6l.3,.7l.3-.6l.3,.8l.3-.7l.3,.9l.4-.6l.3,.8l.3-.7l.3,.8l.3-.3l.3,.6l.4-.6l.3,.4l.3-.7l.3,.8l.3-1l.3,.6l.4-1l.3,.7l.3-1l.3,.5l.3-.8l.4,.5l.3-.7l.3,.4l.3-.8l.3,.5l.3-.8l.4,.5l.3-.8l.3,.6l.3-1l.3,.9l.3-.7l.4,.7l.3-.7l.3,.6l.3-.4l.3,.6l.3-.6l.4,.8l.3-.7l.3,.6l.3-.8l.3,.3l.3-.8l.4,.6l.3-.8l.3,.6l.3-.5l.3,.7l.3-.5l.4,.5l.3-.4l.3,.3l.3-.7l.3,.4l.3-1.2l.4,.3l.3-1.3l.3,.4l.3-1.4l.3,.3l.4-1.4l.3,.1l.3-1l.3,.3l.3-1.2l.3,.3l.4-.9l.3,.5l.3-.9l.3,.5l.3-.7l.3,.6l.4-.8l.3,.9l.3-.8l.3,.7l.3-.8l.3,.6l.4-.9l.3,.7l.3-.7l.3,.7l.3-.6l.3,.7l.4-.8l.3,.8l.3-1l.3,.7l.3-1l.3,.5l.4-.7l.3,.4l.3-.6l.3,.6l.3-.9l.3,1.1l.4-.7l.3,.9l.3-.8l.3,.8l.3-.6l.4,.8l.3-.6l.3,.6l.3-.9l.3,.7l.3-.9l.4,.6l.3-.7l.3,.5l.3-.6l.3,.4l.3-.7l.4,.5l.3-.6l.3,.6l.3-.8l.3,.8l.3-.7l.4,.5l.3-.6l.3,.8l.3-.8l.3,.6l.3-.9l.4,.6l.3-.6l.3,1l.3-.6l.3,.6l.3-.4l.4,1l.3-.6l.3,.9l.3-.3l.3,.8l.4-.4l.3,.8l.3-.2l.3,.6l.3-.3l.3,.7l.4-.5l.3,.7l.3-.5l.3,.8l.3-.8l.3,1l.4-.5l.3,1l.3-.6l.3,.8l.3-.6l.3,.9l.4-.8l.3,.8l.3-.5l.3,.5l.3-.7l.3,.5l.4-.5l.3,.6l.3-.9l.3,.6l.3-.8l.3,.4l.4-.9l.3,.2l.3-.9l.3,.4l.3-.9l.3,.3l.4-1.1l.3,.3l.3-1.2l.3,.2l.3-1.2l.4,.3l.3-1l.3,.5l.3-1l.3,.8l.3-.7l.4,.7l.3-.2l.3,.8l.3-.5l.3,.9l.3-.7l.4,.9l.3-.8l.3,.8l.3-.7l.3,.5l.3-.7l.4,1l.3-.8l.3,1.1l.3-.4l.3,.9l.3-.5l.4,1.1l.3-.6l.3,.8l.3-.4l.3,1l.3-.8l.4,.7l.3-.8l.3,.6l.3-.7l.3,.5l.4-.7l.3,.6l.3-.9l.3,.8l.3-.8l.3,.7l.4-.9l.3,.7l.3-.4l.3,.8l.3-.8l.3,1.1l.4-.6l.3,1l.3-.6l.3,1l.3-.4l.3,.8l.4-.4l.3,.7l.3-.2l.3,.8l.3-.4l.3,.6l.4-.5l.3,1.1l.3-.7l.3,.7l.3-.5l.3,.8l.4-.7l.3,.8l.3-.8l.3,1l.3-.8l.3,.5l.4-.7l.3,.9l.3-.9l.3,.9l.3-.7l.4,.7l.3-.4l.3,.9l.3-.5l.3,1.2l.3-.6l.4,.9l.3-.4l.3,.9l.3-.8l.3,.8l.3-.5l.4,.8l.3-.7l.3,.5l.3-.8l.3,.5l.3-.7l.4,.7l.3-.4l.3,.7l.3-.4l.3,.7l.3-.5l.4,1.2l.3-.6l.3-3.2l.3-4l.3-7.4l.3-6.3l.4,.8l.3-.6l.3,.6l.3-.7l.3,.7l.4-.5l.3,.4l.3-.7l.3,.6l.3-.6l.3,.5l.4-.6l.3,.5l.3-.5l.3,.6l.3-.4l.3,1.1l.4-.2l.3,1.2l.3-.2l.3,1.2l.3-.1l.3,1l.4-.4l.3,.9l.3-.3l.3,.9l.3-.7l.3,.5l.4-.7l.3,.6l.3-.8l.3,.5l.3-.5l.3,.4l.4-.7l.3,.9l.3-.8l.3,1l.3-.4l.3,.8l.4-.6l.3,.9l.3-.6l.3,1.1l.3-.6l.4,1l.3-.6l.3,.8l.3-.5l.3,.8l.3-.6l.4,1l.3-.7l.3,.8l.3-.8l.3,.7l.3-.7l.4,.7l.3-.8l.3,.5l.3-.6l.3,.4l.3-.7l.4,.7l.3-.7l.3,.6l.3-.6l.3,.9l.3-.8l.4,1l.3-.4l.3,.6l.3-.5l.3,.6l.3-.3l.4,.6l.3-.5l.3,.7l.3-.6l.3,.6l.3-.4l.4,.6l.3-.7l.3,.9l.3-.8l.3,.9l.4-.7l.3,.4l.3-.5l.3,.4l.3-.7l.3,.8l.4-1l.3,.9l.3-.6l.3,.6l.3-.7l.3,.7l.4-.5l.3,.5l.3-.4l.3,.4l.3-.5l.3,.8l.4-.9l.3,.6l.3-.5l.3,.5l.3-.6l.3,.9l.4-.8l.3,.8l.3-.9l.3,.8l.3-.6l.3,.6l.4-.5l.3,.7l.3-.8l.3,.8l.3-.6l.4,.7l.3-.5l.3,1l.3-.4l.3,.8l.3-.6l.4,1l.3-.4l.3,.8l.3-1l.3,.8l.3-.6l.4,.4l.3-.6l.3,.7l.3-.8l.3,.6l.3-.6l.4,.7l.3-.8l.3,.7l.3-.6l.3,.7l.3-.7l.4,.5l.3-.4l.3,.5l.3-.6l.3,.8l.3-.7l.4,.8l.3-.3l.3,.9l.3-.7l.3,1l.3-.9l.4,1.1l.3-.5l.3,.7l.3-.7l.3,.9l.4-.7l.3,.6l.3-.5l.3,.8l.3-.7l.3,.5l.4-.9l.3,.9l.3-.8l.3,.8l.3-.9l.3,.8l.4-1l.3,.9l.3-.7l.3,.7l.3-.9l.3,.6l.4-.7l.3,.7l.3-.7l.3,1l.3-.8l.3,.8l.4-.3l.3,.5l.3-.4l.3,.7l.3-.7l.3,.6l.4-.8l.3,.4l.3-1l.3,.3l.3-1l.4,.3l.3-.7l.3,0l.3-1l.3,.5l.3-.7l.4,.5l.3-.7l.3,.6l.3-1l.3,.9l.3-.7l.4,.8l.3-.7l.3,.9l.3-1.1l.3,.7l.3-.9l.4,.7l.3-1.1l.3,.5l.3-1l.3,.4l.3-.6l.4,.8l.3-.6l.3,1.1l.3-.6l.3,1.2l.3-.3l.4,1l.3-.4l.3,.9l.3-.4l.3,.6l.3-.5l.4,.7l.3-1l.3,.7l.3-1l.3,.6l.4-1l.3,.6l.3-.7l.3,.9l.3-.8l.3,.9l.4-.8l.3,.9l.3-.6l.3,.8l.3-.8l.3,.9l.4-.5l.3,.4l.3-.5l.3,.3l.3-.6l.3,.3l.4-1.1l.3,.3l.3-1.1l.3,.6l.3-1l.3,.1l.4-.8l.3,.6l.3-1l.3,.6l.3-.4l.3,.9l.4-.7l.3,1l.3-.3l.3,1l.3-.3l.3,1.1l.4-.4l.3,1.2l.3-.2l.3,1l.3-.4l.4,.9l.3-.4l.3,1l.3-.6l.3,.6l.3-.3l.4,.7l.3-.6l.3,.8l.3-.6l.3,.8l.3-.6l.4,.6l.3-.7l.3,1l.3-1l.3,1l.3-.9l.4,.7l.3-.7l.3,.8l.3-.8l.3,.7l.3-.9l.4,.9l.3-.8l.3,.4l.3-.6l.3,.5l.3-.8l.4,.9l.3-.8l.3,.7l.3-.6l.3,.7l.4-.7l.3,.6l.3-.8l.3,.8l.3-1l.3,.7l.4-.9l.3,.5l.3-.8l.3,.6l.3-.8l.3,.5l.4-.4l.3,.9l.3-.6l.3,.9l.3-.3l.3,.8l.4-.4l.3,1l.3-.7l.3,.9l.3-.3l.3,.7l.4-.7l.3,.8l.3-.8l.3,.5l.3-.5l.3,.7l.4-.7l.3,.5l.3-.5l.3,.4l.3-.6l.3,.9l.4-1l.3,.9l.3-.7l.3,.8l.3-.8l.4,.6l.3-.6l.3,.5l.3-.8l.3,.8l.3-.9l.4,.7l.3-.6l.3,.6l.3-1l.3,.6l.3-.6l.4,.6l.3-.5l.3,.6l.3-.6l.3,.5l.3-.4l.4,.7l.3-.5l.3,.8l.3-.4l.3,.8l.3-.4l.4,.8l.3-.2l.3,.7l.3-.6l.3,.9l.3-.5l.4,.7l.3-.8l.3,.4l.3-.7l.3,.3l.4-1l.3,.5l.3-1l.3,.6l.3-1.2l.3,.6l.4-.9l.3,.7l.3-1.1l.3,.5l.3-.9l.3,.6l.4-1l.3,.3l.3-.8l.3,.7l.3-.8l.3,.8l.4-.4l.3,1l.3-.5l.3,1.2l.3-.6l.3,1.2l.4-.6l.3,.9l.3-.3l.3,1.1l.3-.5l.3,1l.4-.5l.3,1l.3-.6l.3,.9l.3-.4l.3,.8l.4-.5l.3,1.1l.3-.9l.3,.9l.3-.8l.4,.8l.3-.9l.3,.5l.3-.8l.3,.6l.3-.8l.4,.5l.3-.6l.3,.4l.3-.6l.3,.7l.3-.5l.4,.6l.3-.5l.3,1l.3-.5l.3,.9l.3-.5l.4,.9l.3-.4l.3,.8l.3-1.1l.3,.9l.3-1l.4,.7l.3-1.2l.3,.7l.3-1l.3,.5l.3-1l.4,.6l.3-1l.3,.3l.3-.7l.3,.6l.4-.8l.3,.6l.3-.5l.3,.8l.3-.7l.3,1l.4-.4l.3,.7l.3-.5l.3,.9l.3-.2l.3,.6l.4-.5l.3,.7l.3-.7l.3,.9l.3-.9l.3,.4l.4-.7l.3,.7l.3-.9l.3,.7l.3-.6l.3,.8l.4-.7l.3,.9l.3-.6l.3,1l.3-.6l.3,1.1l.4-.3l.3,.8l.3-.1l.3,.8l.3-.4l.3,.7l.4-.6l.3,.8l.3-.6l.3,.9l.3-.8l.4,.7l.3-.8l.3,.9l.3-.6l.3,.5l.3-.7l.4,.7l.3-.5l.3,.9"/>
<path stroke="#006400" stroke-dasharray="21,20.1" stroke-dashoffset="0.0" d="M208,868.4l.3,.4l.3,.2l.4,.6l.3,.2l.3,.8l.3,.3l.3,.6l.3,.4l.4,.6l.3,.3l.3,.8l.3,.3l.3,.6l.3,.4l.4,.8l.3,.3l.3,.7l.3,.3l.3,.8l.3,.4l.4,.8l.3,.3l.3,.7l.3,.3l.3,.7l.3,.4l.4,.7l.3,.3l.3,.7l.3,.3l.3,.7l.3,.3l.4,.7l.3,.3l.3,.7l.3,.3l.3,.7l.3,.4l.4,.6l.3,.4l.3,.6l.3,.3l.3,.7l.4,.3l.3,.7l.3,.3l.3,.7l.3,.4l.3,.7l.4,.3l.3,.7l.3,.4l.3,.7l.3,.3l.3,.7l.4,.4l.3,.7l.3,.3l.3,.7l.3,.3l.3,.7l.4,.4l.3,.6l.3,.3l.3,.7l.3,.3l.3,.8l.4,.3l.3,.8l.3,.3l.3,.7l.3,.4l.3,.7l.4,.3l.3,.7l.3,.4l.3,.6l.3,.4l.4,.6l.3,.4l.3,.7l.3,.4l.3,.7l.3,.3l.4,.8l.3,.3l.3,.8l.3,.2l.3,.8l.3,.2l.4,.8l.3,.2l.3,.7l.3,.2l.3,.7l.3,.2l.4,.7l.3,.3l.3,.6l.3,.3l.3,.7l.3,.2l.4,.7l.3,.3l.3,.7l.3,.3l.3,.7l.3,.4l.4,.6l.3,.4l.3,.7l.3,.4l.3,.8l.3,.3l.4,.9l.3,.3l.3,.7l.3,.4l.3,.8l.4,.4l.3,.7l.3,.4l.3,.7l.3,.2l.3,.7l.4,.4l.3,.7l.3,.2l.3,.7l.3,.3l.3,.7l.4,.2l.3,.7l.3,.3l.3,.8l.3,.2l.3,.8l.4,.3l.3,.8l.3,.3l.3,.7l.3,.4l.3,.7l.4,.3l.3,.8l.3,.4l.3,.8l.3,.5l.3,.7l.4,.5l.3,.8l.3,.4l.3,.8l.3,.4l.4,.7l.3,.3l.3,.8l.3,.2l.3,.7l.3,.4l.4,.7l.3,.3l.3,.7l.3,.4l.3,.8l.3,.3l.4,.8l.3,.4l.3,.7l.3,.4l.3,.7l.3,.3l.4,.7l.3,.4l.3,.7l.3,.4l.3,.7l.3,.4l.4,.7l.3,.3l.3,.7l.3,.4l.3,.7l.3,.4l.4,.7l.3,.4l.3,.7l.3,.4l.3,.8l.3,.5l.4,.7l.3,.4l.3,.8l.3,.4l.3,.7l.4,.4l.3,.7l.3,.3l.3,.8l.3,.3l.3,.7l.4,.3l.3,.8l.3,.2l.3,.7l.3,.3l.3,.7l.4,.3l.3,.6l.3,.3l.3,.8l.3,.3l.3,.7l.4,.3l.3,.7l.3,.2l.3,.7l.3,.2l.3,.7l.4,.2l.3,.6l.3,.3l.3,.6l.3,.2l.3,.7l.4,.3l.3,.6l.3,.3l.3,.7l.3,.2l.4,.7l.3,.3l.3,.7l.3,.2l.3,.8l.3,.3l.4,.6l.3,.2l.3,.7l.3,.2l.3,.7l.3,.2l.4,.7l.3,.3l.3,.6l.3,.3l.3,.7l.3,.2l.4,.7l.3,.2l.3,.6l.3,.3l.3,.7l.3,.3l.4,.6l.3,.2l.3,.8l.3,.1l.3,.7l.3,.1l.4,.7l.3,.3l.3,.6l.3,.2l.3,.6l.3,.2l.4,.7l.3,.2l.3,.8l.3,.2l.3,.7l.4,.4l.3,.8l.3,.2l.3,.8l.3,.4l.3,.9l.4,.2l.3,.9l.3,.2l.3,.8l.3,.2l.3,.7l.4,.2l.3,.8l.3,.1l.3,.8l.3,.1l.3,.6l.4,.1l.3,.6l.3,.1l.3,.5l.3,0l.3,.7l.4,0l.3,.6l.3,.2l.3,.7l.3-.1l.3,.8l.4,.2l.3,.7l.3,.1l.3,.7l.3,0l.3,.9l.4-.1l.3,.9l.3,.1l.3,.8l.3,0l.4,.9l.3,.1l.3,.8l.3,.3l.3,.8l.3,.2l.4,.9l.3,.1l.3,.9l.3,.1l.3,.8l.3,0l.4,.6l.3,0l.3,.5l.3-.2l.3,.7l.3-.2l.4,.7l.3-.1l.3,.6l.3-.1l.3,.6l.3-.2l.4,.6l.3-.2l.3,.6l.3-.3l.3,.8l.3-.3l.4,.8l.3-.1l.3,.8l.3-.3l.3,.8l.4-.1l.3,.8l.3-.1l.3,.8l.3,0l.3,1l.4-.2l.3,.8l.3-.1l.3,.9l.3-.2l.3,.9l.4-.1l.3,.7l.3-.4l.3,.9l.3-.4l.3,.8l.4-.1l.3,.6l.3-.2l.3,.8l.3-.2l.3,.7l.4-.2l.3,.6l.3-.1l.3,.6l.3-.2l.3,.8l.4-.4l.3,.7l.3-.4l.3,.6l.3-.3l.3,.9l.4-.5l.3,.7l.3-.6l.3,.7l.3-.5l.4,.8l.3-.5l.3,.7l.3-.6l.3,.8l.3-.5l.4,.8l.3-.5l.3,.8l.3-.3l.3,.9l.3-.5l.4,.9l.3-.3l.3,.7l.3-.5l.3,.9l.3-.5l.4,1l.3-.4l.3,.6l.3-.5l.3,.8l.3-.7l.4,1l.3-.6l.3,.6l.3-.5l.3,.8l.3-.7l.4,.6l.3-.5l.3,.7l.3-.9l.3,.8l.4-1.1l.3,.8l.3-.8l.3,.5l.3-.8l.3,.4l.4-.7l.3,.8l.3-.9l.3,.6l.3-.5l.3,.8l.4-.9l.3,.7l.3-.3l.3,.7l.3-.4l.3,.9l.4-.3l.3,.9l.3-.5l.3,1.4l.3-.2l.3,.9l.4-.2l.3,1.1l.3-.4l.3,.8l.3-.4l.3,.6l.4-.7l.3,.8l.3-.8l.3,.6l.3-.9l.3,.6l.4-.8l.3,.5l.3-.9l.3,.8l.3-.9l.4,.6l.3-.6l.3,.6l.3-.6l.3,.5l.3-.5l.4,.5l.3-.6l.3,.9l.3-.7l.3,.8l.3-.2l.4,.6l.3-.2l.3,.5l.3-.6l.3,1.2l.3-.7l.4,.5l.3-.7l.3,.9l.3-.7l.3,.6l.3-.6l.4,.7l.3-.8l.3,.9l.3-.7l.3,.8l.3-.5l.4,1l.3-.6l.3,.8l.3-.6l.3,.8l.3-.6l.4,1l.3-.5l.3,.9l.3-.6l.3,.8l.4-.7l.3,.5l.3-.8l.3,.6l.3-.7l.3,.4l.4-.8l.3,.7l.3-1.1l.3,.8l.3-.8l.3,1l.4-.7l.3,.7l.3-.5l.3,.9l.3-.3l.3,.8l.4-.9l.3,.9l.3-.7l.3,.9l.3-.9l.3,.8l.4-.7l.3,.6l.3-.5l.3,.6l.3-.5l.3,.5l.4-.4l.3,.8l.3-16.9l.3,1.2l.3-.5l.4,1.3l.3-.5l.3,1l.3-.2l.3,1l.3-.9l.4,.8l.3-.7l.3,.6l.3-.4l.3,.4l.3-.6l.4,.7l.3-.7l.3,1.1l.3-.3l.3,.8l.3,0l.4,.7l.3-.1l.3,1l.3-.2l.3,.8l.3-.2l.4,.8l.3-.5l.3,.7l.3-.4l.3,.7l.3-.4l.4,.7l.3-.4l.3,1l.3-.3l.3,1.3l.3,0l.4,1.3l.3-.2l.3,1.5l.3-.1l.3,1.2l.4-.5l.3,1.2l.3-.3l.3,1l.3-.3l.3,1l.4-.7l.3,1.2l.3-.5l.3,.9l.3-.3l.3,.8l.4-.6l.3,1.2l.3-.7l.3,.5l.3-.4l.3,.5l.4-.9l.3,.6l.3-.8l.3,.6l.3-1.1l.3,.5l.4-.6l.3,.4l.3-.8l.3,.4l.3-.8l.3,.8l.4-.6l.3,.5l.3-.8l.3,1l.3-.6l.4,.6l.3-.5l.3,.7l.3-.7l.3,1.1l.3-.8l.4,.8l.3-.4l.3,.9l.3-.5l.3,.8l.3-.3l.4,.8l.3-.6l.3,.6l.3-.8l.3,.8l.3-.9l.4,.7l.3-.5l.3,.5l.3-.5l.3,.6l.3-.5l.4,.8l.3-.3l.3,.8l.3-.8l.3,.8l.3-.5l.4,.7l.3-.9l.3,.7l.3-.7l.3,.8l.3-.7l.4,.8l.3-.9l.3,.6l.3-.6l.3,.7l.4-.5l.3,.6l.3-.7l.3,.7l.3-1l.3,.6l.4-.6l.3,.4l.3-.7l.3,.5l.3-.6l.3,.7l.4-1l.3,.6l.3-.6l.3,.5l.3-.7l.3,.6l.4-.8l.3,.7l.3-.8l.3,.5l.3-.7l.3,.5l.4-.7l.3,.6l.3-.8l.3,.9l.3-.7l.3,.5l.4-.7l.3,.9l.3-.5l.3,.6l.3-.6l.4,.8l.3-.7l.3,1l.3-.8l.3,1.1l.3-.7l.4,.7l.3-.4l.3,.8l.3-.7l.3,.7l.3-.7l.4,.8l.3-.7l.3,.5l.3-.6l.3,.5l.3-.4l.4,.6l.3-.5l.3,.8l.3-.8l.3,.7l.3-.6l.4,.8l.3-.4l.3,.9l.3-.8l.3,.7l.3-.7l.4,.4l.3-1l.3,.4l.3-.9l.3,.4l.3-1.1l.4,.4l.3-.8l.3,.7l.3-1l.3,.7l.4-.8l.3,.5l.3-.7l.3,.7l.3-.8l.3,.9l.4-.8l.3,1l.3-.8l.3,1l.3-.6l.3,1l.4-.5l.3,.6l.3-.6l.3,.9l.3-.5l.3,.6l.4-.5l.3,.6l.3-.6l.3,.8l.3-.6l.3,.5l.4-.5l.3,.8l.3-.8l.3,.8l.3-.6l.3,.9l.4-.7l.3,1l.3-.7l.3,.9l.3-.4l.3,.6l.4-.6l.3,.9l.3-.8l.3,.7l.3-.8l.4,.5l.3-.9l.3,.4l.3-.8l.3,.5l.3-1l.4,.6l.3-1l.3,.7l.3-.9l.3,.8l.3-1l.4,.7l.3-.8l.3,.6l.3-.6l.3,.5l.3-1l.4,.3l.3-.8l.3,.6l.3-1.3l.3,.7l.3-1.3l.4,.5l.3-.9l.3,.3l.3-.6l.3,.7l.3-.7l.4,.9l.3-.4l.3,1.3l.3-.5l.3,.9l.4-.2l.3,.9l.3-.7l.3,.7l.3-.5l.3,.6l.4-.7l.3,1.2l.3-.8l.3,1.2l.3-.5l.3,1.2l.4-.4l.3,1l.3-.2l.3,.9l.3-.5l.3,1.2l.4-.6l.3,1.1l.3-.4l.3,.7l.3-.3l.3,.7l.4-.7l.3,.9l.3-.5l.3,.9l.3-.7l.3,.9l.4-1l.3,.9l.3-.8l.3,.6l.3-.7l.3,.8l.4-.8l.3,.3l.3-.5l.3,.3l.3-.6l.4,.6l.3-.9l.3,.5l.3-.7l.3,.5l.3-.6l.4,.9l.3-.5l.3,.8l.3-.4l.3,1.3l.3-.4l.4,.9l.3-.3l.3,.9l.3-.4l.3,1.1l.3-.6l.4,.7l.3-.5l.3,.7l.3-.7l.3,1l.3-.4l.4,.7l.3-.4l.3,1.2l.3-.5l.3,1l.3-.5l.4,1l.3-.4l.3,1.1l.3-.5l.3,.7l.4-.7l.3,.3l.3-.7l.3,.4l.3-1l.3,.2l.4-.9l.3,.3l.3-.9l.3,.5l.3-1.2l.3,.7l.4-.7l.3,.6l.3-.9l.3,.6l.3-.6l.3,.7l.4-1l.3,.6l.3-1l.3,.6l.3-.9l.3,.3l.4-.9l.3,.6l.3-1l.3,.8l.3-.7l.3,.5l.4-.8l.3,.7l.3-.6l.3,.7l.3-.9l.3,.5l.4-.8l.3,.4l.3-.8l.3,.3l.3-1.1l.4,.4l.3-.9l.3,.3l.3-1l.3,.4l.3-.7l.4,.6l.3-.7l.3,.4l.3-.5l.3,.9l.3-.6l.4,.5l.3-.6l.3,.9l.3-.9l.3,.5l.3-.7l.4,.5l.3-.9l.3,.5l.3-.9l.3,.6l.3-.8l.4,.4l.3-1l.3,.8l.3-.9l.3,.6l.3-.7l.4,.5l.3-.9l.3,.7l.3-.8l.3,.9l.4-1.1l.3,.6l.3-.8l.3,.3l.3-1l.3,.6l.4-1l.3,.6l.3-.9l.3,.9l.3-1l.3,.7l.4-.5l.3,.5l.3-.3l.3,.7l.3-.7l.3,.8l.4-.6l.3,.6l.3-.7l.3,1l.3-.7l.3,.7l.4-.8l.3,.6l.3-.6l.3,.7l.3-.6l.3,.9l.4-1l.3,.6l.3-.7l.3,.6l.3-.8l.3,.8l.4-.9l.3,.4l.3-.5l.3,.4l.3-.8l.4,.7l.3-.8l.3,.5l.3-.6l.3,.5l.3-.9l.4,.8l.3-.8l.3,.7l.3-.8l.3,.9l.3-.6l.4,.7l.3-.9l.3,.8l.3-.3l.3,.6l.3-.5l.4,1l.3-.9l.3,.9l.3-.3l.3,.8l.3-.6l.4,.8l.3-.4l.3,1.1l.3-.5l.3,.7l.3-.6l.4,.8l.3-.3l.3,.5l.3-.6l.3,.8l.3-.4l.4,.7l.3-.8l.3,1l.3-.7l.3,.8l.4-.7l.3,.6l.3-.5l.3,.7l.3-.5l.3,.7l.4-.6l.3,1l.3-.5l.3,1.1l.3-.7l.3,.8l.4-.6l.3,.7l.3-.4l.3,.6l.3-.7l.3,.5l.4-.5l.3,.7l.3-.9l.3,.9l.3-.6l.3,.9l.4-.6l.3,.8l.3-.6l.3,.9l.3-.8l.3,.9l.4-.6l.3,.8l.3-.8l.3,.8l.3-.8l.4,.6l.3-.5l.3,.7l.3-.8l.3,.9l.3-.9l.4,.7l.3-.7l.3,.9l.3-.6l.3,.9l.3-.8l.4,.8l.3-.7l.3,.9l.3-.7l.3,.5l.3-.9l.4,.9l.3-1l.3,.5l.3-.9l.3,.5l.3-.5l.4,.4l.3-.9l.3,.4l.3-.5l.3,.3l.3-.6l.4,.5l.3-.6l.3,.4l.3-.6l.3,.5l.3-.7l.4,.7l.3-.6l.3,.5l.3-.9l.3,.7l.4-.6l.3,.5l.3-.9l.3,.8l.3-1l.3,.7l.4-.8l.3,.5l.3-.5l.3,.6l.3-.8l.3,.6l.4-.5l.3,.5l.3-.7l.3,.6l.3-.4l.3,.4l.4-.6l.3,.6l.3-.8l.3,.7l.3-.9l.3,1l.4-.7l.3,.5l.3-.5l.3,.6l.3-.6l.3,1l.4-.7l.3,.7l.3-.9l.3,.6l.3-.8l.4,.7l.3-1l.3,.8l.3-1.1l.3,.8l.3-.7l.4,.6l.3-.4l.3,.7l.3-.3l.3,.8l.3-.5l.4,.5l.3-.5l.3,.8l.3-.7l.3,.8l.3-.8l.4,.5l.3-.7l.3,.5l.3-.7l.3,.8l.3-1l.4,.8l.3-.8l.3,.4l.3-.9l.3,.9l.3-.9l.4,.8l.3-.7l.3,.4l.3-.5l.3,.7l.3-.8l.4,.9l.3-.7l.3,.8l.3-.7l.3,.7l.4-.5l.3,1l.3-.8l.3,.9l.3-.8l.3,.9l.4-.7l.3,.8l.3-.8l.3,.7l.3-.7l.3,1l.4-.5l.3,.9l.3-.7l.3,.9l.3-.3l.3,.7l.4-.6l.3,.9l.3-.6l.3,.8l.3-.9l.3,.8l.4-.9l.3,.7l.3-.8l.3,.7l.3-.8l.3,.5l.4-.9l.3,.8l.3-.7l.3,.5l.3-.7l.4,1l.3-.7l.3,.7l.3-.8l.3,1l.3-.9l.4,.5l.3-.6l.3,.3l.3-.6l.3,.3l.3-.6l.4,.8l.3-.7l.3,1l.3-.5l.3,.7l.3-.3l.4,1l.3-.4l.3,.9l.3-.7l.3,.8l.3-.7l.4,.7l.3-.7l.3,.4l.3-.7l.3,.7l.3-.8l.4,.6l.3-.4l.3,.9l.3-.9l.3,1.1l.3-.4l.4,.6l.3-.1l.3,1l.3-.4l.3,.8l.4-.2l.3,.9l.3-.6l.3,1.1l.3-.6l.3,.5l.4-.6l.3,.6l.3-.6l.3,.8l.3-.7l.3,.4l.4-.8l.3,.6l.3-.8l.3,.7l.3-.5l.3,.6l.4-.7l.3,.7l.3-.9l.3,.5l.3-.5l.3,.5l.4-.9l.3,.7l.3-.6l.3,.7l.3-.9l.3,.8l.4-.7l.3,.5l.3-.9l.3,.9l.3-.9l.3,.8l.4-.8l.3,.7l.3-1l.3,1l.3-.7l.4,.7l.3-.5l.3,1.1l.3-.6l.3,1l.3-.4l.4,1l.3-.6l.3,.9l.3-.5l.3,.8l.3-.7l.4,.7l.3-.6l.3,.3l.3-.5l.3,.5l.3-.8l.4,.7l.3-.5l.3,.6l.3-.5l.3,.6l.3-.4l.4,.6l.3-.6l.3,.6l.3-.6l.3,.8l.3-.7l.4,.8l.3-.8l.3,.7l.3-.8l.3,.6l.4-.6l.3,.2l.3-.9l.3,.5l.3-.8l.3,.4l.4-.9l.3,.3l.3-.9l.3,.3l.3-1l.3,.5l.4-.9l.3,.4l.3-1.2l.3,.3l.3-.9l.3,.3l.4-1.2l.3,.2l.3-1.1l.3,.5l.3-1.1l.3,.6l.4-.9l.3,.5l.3-.5l.3,.9l.3-.6l.3,.8l.4-.3l.3,.8l.3-.5l.3,.7l.3-.4l.3,.7l.4-.5l.3,.6l.3-.5l.3,.6l.3-.5l.4,.6l.3-.9l.3,.8l.3-.8l.3,.8l.3-1.1l.4,.8l.3-.9l.3,.6l.3-.7l.3,.4l.3-.5l.4,.3l.3-.7l.3,.7l.3-.7l.3,.6l.3-.9l.4,.7l.3-.6l.3,.8l.3-.6l.3,.5l.3-.4l.4,.8l.3-.5l.3,1l.3-.6l.3,.7l.3-.7l.4,.8l.3-.8l.3,.8l.3-1l.3,.9l.4-.8l.3,.5l.3-.9l.3,.8l.3-1l.3,.7l.4-.6l.3,.5l.3-.7l.3,.6l.3-.6l.3,.6l.4-.6l.3,.7l.3-.3l.3,.6l.3-.5l.3,1.1l.4-.7l.3,.9l.3-.7l.3,.8l.3-.6l.3,.7l.4-.6l.3,.6l.3-.5l.3,.6l.3-.9l.3,.7l.4-1.1l.3,.6l.3-1.1l.3,.7l.3-1l.3,.5l.4-1l.3,.3l.3-.9l.3,.5l.3-.8l.4,.6l.3-.9l.3,.5l.3-.9l.3,.7l.3-.6l.4,.7l.3-.8l.3,.8l.3-.6l.3,1.2l.3-.6l.4,1l.3-.8l.3,.8l.3-.5l.3,1l.3-.9l.4,.7l.3-.5l.3,.7l.3-.7l.3,.6l.3-.5l.4,.3l.3-.5l.3,.6l.3-.7l.3,.9l.3-.7l.4,.5l.3-.8l.3,1l.3-.6l.3,.7l.3-.5l.4,.7l.3-.7l.3,.6l.3-.8l.3,.7l.4-.7l.3,.4l.3-.7l.3,.6l.3-.8l.3,.6l.4-.8l.3,.7l.3-1l.3,.8l.3-.7l.3,.7l.4-.8l.3,.6l.3-.5l.3,.6l.3-.5l.3,.7l.4-.8l.3,1.1l.3-.8l.3,.9l.3-.3l.3,.5l.4-.5l.3,.6l.3-.4l.3,.7l.3-.8l.3,.4l.4-.6l.3,.7l.3-.8l.3,.6l.3-.6l.4,.6l.3-.6l.3,1.1l.3-.6l.3,.7l.3-.7l.4,1l.3-.5l.3,.6l.3-.5l.3,.6l.3-.7l.4,.8l.3-.7l.3,.7l.3-.8l.3,.5l.3-.9l.4,.5l.3-.7l.3,.8l.3-.7l.3,.6l.3-.6l.4,.9l.3-.8l.3,1.1l.3-.8l.3,1.1l.3-.4l.4,1l.3-.4l.3,1.1l.3-.6l.3,1.1l.3-.3l.4,.8l.3-.7l.3,.8l.3-.6l.3,.3l.4-.7l.3,.7l.3-.9l.3,.6l.3-1.2l.3,.6l.4-.8l.3,.6l.3-.7l.3,.4l.3-.8l.3,.3l.4-.7l.3,.6l.3-.8l.3,.7l.3-1l.3,.9l.4-.6l.3,.7l.3-.6l.3,.9l.3-.6l.3,.6l.4-.3l.3,.5l.3-.3l.3,.8l.3-.8l.3,1l.4-.8l.3,1.1l.3-.7l.3,.8l.3-.3l.4,.8l.3-.7l.3,.9l.3-.6l.3,.6l.3-.6l.4,.6l.3-1l.3,.8l.3-1l.3,.4l.3-.6l.4,.6l.3-.9l.3,.7l.3-.6l.3,1l.3-.6l.4,.8l.3-.9l.3,.7l.3-1l.3,.6l.3-1.1l.4,.6l.3-1l.3,.4l.3-1l.3,.7l.3-.5l.4,.5l.3-.4l.3,.9l.3-.5l.3,.7l.3-.6l.4,.8l.3-.7l.3,.8l.3-.5l.3,.7l.4-.7l.3,.9l.3-.4l.3,.9l.3-.5l.3,.7l.4-.5l.3,1l.3-.7l.3,.4l.3-.7l.3,.8l.4-1l.3,.6l.3-1l.3,.5l.3-.8l.3,.4l.4-1l.3,.7l.3-.7l.3,.9l.3-.5l.3,.7l.4-.4l.3,1l.3-.4l.3,.8l.3-.2l.3,.6l.4-.5l.3,.7l.3-.5l.3,.7l.3-.8l.4,.5l.3-.7l.3,.6l.3-.9l.3,.5l.3-.9l.4,.7l.3-.7l.3,.7l.3-.8l.3,.6l.3-1l.4,.6l.3-.7l.3,.3l.3-.9l.3,.9l.3-1l.4,.4l.3-.7l.3,.8l.3-.9l.3,1l.3-.7l.4,1l.3-.3l.3,.8l.3-.4l.3,1l.3-.3l.4,.8l.3-.5l.3,.7l.3-.5l.3,.9l.3-.7l.4,.5l.3-.6l.3,.5l.3-1l.3,.8l.4-1l.3,.7l.3-.6l.3,.5l.3-.7l.3,.3l.4-.7l.3,.6l.3-.8l.3,.6l.3-.6l.3,.7l.4-1l.3,.5l.3-.6l.3,.5l.3-.4l.3,.5l.4-.6l.3,.5l.3-.5l.3,.4l.3-.6l.3,.6l.4-.6l.3,.6l.3-.5l.3,.4l.3-.4l.3,.7l.4-.7l.3,.6l.3-.7l.3,.9l.3-.8l.3,1l.4-.8l.3,.7l.3-.6l.3,.9l.3-.7l.4,.9l.3-.5l.3,.8l.3-.2l.3,.8l.3-.3l.4,.9l.3-.7l.3,.9l.3-.5l.3,1l.3-.8l.4,.8l.3-.7l.3,.7l.3-.7l.3,.7l.3-.7l.4,.5l.3-.9l.3,.6l.3-.8l.3,.6l.3-.8l.4,.5l.3-.7l.3,.6l.3-.5l.3,1l.3-.4l.4,1l.3-.6l.3,1.2l.3-.5l.3,1l.4-.5l.3,1l.3-.4l.3,.9l.3-.5l.3,.9l.4-.7l.3,.7l.3-.6l.3,.5l.3-.6l.3,.7l.4-1l.3,.7l.3-.8l.3,.8l.3-.8l.3,.6l.4-.6l.3,.8l.3-.8l.3,1.1l.3-.9l.3,1l.4-.8l.3,.6l.3-.7l.3,.9l.3-.9l.3,.8l.4-1l.3,.8l.3-.7l.3,.9l.3-.8l.3,.4l.4-.7l.3,.9l.3-.7l.3,.5l.3-.9l.4,.6l.3-1l.3,.5l.3-1.1l.3,.4l.3-.9l.4,.1l.3-.9l.3,.4l.3-1.2l.3,.4l.3-1.3l.4,.3l.3-.9l.3,.1l.3-1l.3,.7l.3-.8l.4,.4l.3-.3l.3,.9l.3-.4l.3,1.1l.3-.6l.4,1.4l.3-.5l.3,1l.3-.2l.3,1.2l.3-.7l.4,1.1l.3-.5l.3,1l.3-.6l.3,.8l.4-.3l.3,.8l.3-.3l.3,1l.3-.5l.3,1.2l.4-.6l.3,1.1l.3-.3l.3,.7l.3-.6l.3,1l.4-.7l.3,.5l.3-.9l.3,.8l.3-1.1l.3,.9l.4-1l.3,.7l.3-.7l.3,.6l.3-.7l.3,.7l.4-.5l.3,.8l.3-.6l.3,.7l.3-.5l.3,.8l.4-.6l.3,.4l.3-.4l.3,.6l.3-.7l.3,.5l.4-.8l.3,.6l.3-.6l.3,.7l.3-.5l.4,.6l.3-.5l.3,.6l.3-.5l.3,.8l.3-.4l.4,.5l.3-.5l.3,.7l.3-.9l.3,.8l.3-.7l.4,.4l.3-1l.3,.4l.3-.7l.3,.2l.3-.9l.4,.3l.3-1.1l.3,.5l.3-1l.3,.5l.3-.8l.4,.4l.3-.7l.3,.8l.3-.5l.3,.7l.3-.5l.4,.6l.3-.5l.3,.7l.3-1.1l.3,.6l.4-.9l.3,.4l.3-.7l.3,.6l.3-.9l.3,.4l.4-.8l.3,.8l.3-.9l.3,.8l.3-.4l.3,.5l.4-.4l.3,.5l.3-.5l.3,.5l.3-.6l.3,.6l.4-.7l.3,.5l.3-1.1l.3,.6l.3-.8l.3,.5l.4-1l.3,.9l.3-1l.3,.8l.3-.5l.3,.6l.4-.3l.3,.9l.3-.7l.3,.8l.3-.5l.3,.8l.4-.7l.3,.5l.3-.9l.3,.7l.3-1l.4,.7l.3-.9l.3,.6l.3-.9l.3,.6l.3-.6l.4,.6l.3-1l.3,.8l.3-.8l.3,.6l.3-1l.4,.8l.3-.6l.3,.6l.3-.6l.3,.7l.3-.4l.4,.8l.3-.9l.3,.7l.3-.7l.3,.4l.3-.4l.4,.3l.3-.7l.3,.8l.3-1.1l.3,1l.3-.9l.4,.4l.3-.7l.3,.6l.3-.8l.3,.8l.3-.7l.4,.6l.3-.6l.3,.7l.3-.6l.3,.8l.4-.9l.3,1.1l.3-.8l.3,1.1l.3-.6l.3,1.1l.4-.5l.3,.7l.3-.4l.3,.8l.3-.8l.3,.9l.4-.9l.3,.5l.3-.6l.3,.6l.3-1l.3,.7l.4-.5l.3,.5l.3-.3l.3,.8l.3-.7l.3,.8l.4-.8l.3,.8l.3-.6l.3,.7l.3-.8l.3,.4l.4-.7l.3,.4l.3-.7l.3,.5l.3-.7l.4,.6l.3-1l.3,.8l.3-1.1l.3,.7l.3-.6l.4,.7l.3-.9l.3,.7l.3-.9l.3,.7l.3-.8l.4,.6l.3-.6l.3,.3l.3-.6l.3,.4l.3-.9l.4,.7l.3-1l.3,.6l.3-.6l.3,.6l.3-.6l.4,.8l.3-.5l.3,.8l.3-.4l.3,1l.3-.3l.4,1.2l.3-.1l.3,1l.3-.5l.3,1l.3-.3l.4,.9l.3-.6l.3,.8l.3-.6l.3,.9l.4-.6l.3,.6l.3-.7l.3,.7l.3-.6l.3,.8l.4-.6l.3,1.1l.3-.8l.3,1.2l.3-.8l.3,1l.4-.6l.3,1l.3-.7l.3,.6l.3-.8l.3,.5l.4-.8l.3,.6l.3-1l.3,.5l.3-.8l.3,.7l.4-.7l.3,.7l.3-.5l.3,.8l.3-.3l.3,1l.4-.4l.3,1l.3-.6l.3,.7l.3-.2l.4,.4l.3-.5l.3,.6l.3-.9l.3,.5l.3-1.1l.4,.6l.3-1.1l.3,.4l.3-.9l.3,.7l.3-.8l.4,.8l.3-.3l.3,.7l.3-.3l.3,1l.3-.1l.4,1.1l.3-.3l.3,1l.3-.5l.3,1l.3-.4l.4,.7l.3-.6l.3,.6l.3-.7l.3,.6l.3-.8l.4,.3l.3-.7l.3,.4l.3-1l.3,.4l.3-1l.4,.4l.3-1l.3,.1l.3-1l.3,.1l.4-1.1l.3,.4l.3-1.4l.3,.6l.3-1.1l.3,.4l.4-.9l.3,.4l.3-1l.3,.7l.3-.9l.3,.8l.4-.6l.3,.7l.3-.8l.3,.9l.3-.8l.3,.7l.4-.9l.3,.5l.3-.7l.3,.4l.3-.7l.3,.2l.4-.8l.3,.7l.3-1l.3,.2l.3-.8l.3,.4l.4-.7l.3,.5l.3-.7l.3,.6l.3-.9l.4,.6l.3-.6l.3,.6l.3-.8l.3,.4l.3-.7l.4,.2l.3-.6l.3,.4l.3-.6l.3,.5l.3-.6l.4,.7l.3-.5l.3,.9l.3-.3l.3,1.1l.3-.6l.4,.9l.3-.1l.3,.6l.3-.1l.3,.8l.3-.6l.4,1.1l.3-.5l.3,.9l.3-.6l.3,.8l.3-.5l.4,.3l.3-.6l.3,.1l.3-1l.3,.6l.3-.9l.4,.3l.3-.9l.3,.4l.3-.8l.3,.7l.4-.5l.3,.7l.3-.5l.3,1l.3-.8l.3,.8l.4-.5l.3,.9l.3-.6l.3,.7l.3-.6l.3,.7l.4-.7l.3,.4l.3-.8l.3,.6l.3-.7l.3,.8l.4-1l.3,.8l.3-.8l.3,.6l.3-.7l.3,.7l.4-.7l.3,1.1l.3-.6l.3,1l.3-.4l.3,.9l.4-.1l.3,.8l.3-.1l.3,1l.3-.3l.3,1.1l.4-.5l.3,.7l.3-.5l.3,1l.3-.7l.4,.9l.3-.7l.3,.6l.3-.7l.3,1.1l.3-.8l.4,.9l.3-.5l.3,.7l.3-.3l.3,.8l.3-.8l.4,.5l.3-.8l.3,.7l.3-.9l.3,.4l.3-.8l.4,.4l.3-1l.3,.1l.3-1.2l.3,.5l.3-1.3l.4,.2l.3-1.1l.3,.3l.3-.9l.3,.3l.3-1.2l.4,.7l.3-1.3l.3,.3l.3-.8l.3,.2l.4-.6l.3,.3l.3-.8l.3,.3l.3-.6l.3,.9l.4-.9l.3,.8l.3-.3l.3,.7l.3-.4l.3,1l.4-.6l.3,.7l.3-.8l.3,.7l.3-1l.3,.5l.4-.8l.3,.5l.3-.9l.3,.2l.3-.7l.3,.6l.4-.7l.3,.6l.3-.6l.3,.9l.3-.5l.3,.9l.4-.8l.3,1l.3-.9l.3,.7l.3-.5l.3,.7l.4-1.1l.3,.6l.3-.9l.3,.5l.3-.8l.4,.5l.3-1.1l.3,.5l.3-.6l.3,.6l.3-.9l.4,.7l.3-.5l.3,.6l.3-.4l.3,.6l.3-.4l.4,.8l.3-.7l.3,.9l.3-.6l.3,.7l.3-.7l.4,1.1l.3-.8l.3,.9l.3-.5l.3,.9l.3-.6l.4,.7l.3-.7l.3,.9l.3-.9l.3,.6l.3-.5l.4,.5l.3-.8l.3,.6l.3-.5l.3,.5l.4-.6l.3,.7l.3-.7l.3,.6l.3-.6l.3,.6l.4-.8l.3,.6l.3-.5l.3,.5l.3-.8l.3,.6l.4-.5l.3,.6l.3-.4l.3,.8l.3-.4l.3,.8l.4-.3l.3,.7l.3-.4l.3,.8l.3-.7l.3,1l.4-.5l.3,.5l.3-.6l.3,.9l.3-.5l.3,.4l.4-.5l.3,.7l.3-.4l.3,.6l.3-.4l.3,.9l.4-.4l.3,1l.3-.5l.3,1.1l.3-.3l.4,1.1l.3-.2l.3,.8l.3-.3l.3,.7l.3-.6l.4,1l.3-.7l.3,.6l.3-.8l.3,.8l.3-.4l.4,.8l.3-.6l.3,.9l.3-.4l.3,.8l.3-.5l.4,1l.3-.8l.3,.9l.3-.5l.3,.7l.3-.8l.4,.4l.3-.5l.3,.4l.3-.8l.3,.9l.3-.8l.4,.6l.3-.6l.3,.7l.3-.4l.3,.5l.4-.7l.3,.7l.3-.8l.3,.8l.3-.8l.3,.6l.4-.8l.3,.4l.3-.9l.3,.8l.3-.8l.3,.6l.4-.9l.3,.8l.3-.8l.3,.7l.3-.6l.3,.6l.4-.9l.3,1l.3-.7l.3,.5l.3-.6l.3,.6l.4-.5l.3,.7l.3-.6l.3,.7l.3-.7l.3,.6l.4-.8l.3,.6l.3-.9l.3,.6l.3-1.2l.3,.5l.4-1l.3,.3l.3-1l.3,.2l.3-1l.4,.3l.3-.8l.3,.6l.3-.8l.3,.8l.3-.9l.4,.7l.3-.4l.3,.5l.3-.7l.3,.9l.3-.8l.4,.7l.3-.8l.3,.7l.3-.7l.3,.5l.3-.7l.4,.7l.3-.8l.3,.7l.3-.6l.3,.6l.3-.5l.4,.7l.3-.7l.3,.7l.3-.4l.3,.7l.3-.4l.4,.6l.3-.7l.3,.8l.3-.9l.3,.9l.3-1l.4,.6l.3-.7l.3,.5l.3-.6l.3,.5l.4-.8l.3,.7l.3-.6l.3,.6l.3-.8l.3,.9l.4-.7l.3,1l.3-.9l.3,.9l.3-1.1l.3,1l.4-1l.3,.6l.3-.6l.3,.2l.3-.5l.3,.4l.4-.8l.3,.6l.3-.9l.3,.5l.3-.8l.3,.4l.4-.8l.3,.6l.3-.7l.3,.6l.3-.7l.3,.7l.4-.3l.3,.8l.3-.6l.3,.9l.3-.5l.4,.7l.3-.6l.3,.6l.3-1.2l.3,.8l.3-1l.4,.5l.3-1.2l.3,.7l.3-1l.3,.4l.3-.4l.4,.5l.3-.8l.3,.7l.3-.6l.3,.5l.3-.8l.4,.8l.3-.9l.3,.7l.3-.6l.3,.7l.3-.9l.4,.8l.3-1l.3,.8l.3-.8l.3,.2l.3-.6l.4,.3l.3-.9l.3,.5l.3-1.1l.3,.6l.3-1l.4,.4l.3-.8l.3,.8l.3-.9l.3,.9l.4-.7l.3,.7l.3-.6l.3,.8l.3-.6l.3,.9l.4-.6l.3,.7l.3-.5l.3,.7l.3-.3l.3,.6l.4-.8l.3,.8l.3-.8l.3,.8l.3-.9l.3,.7l.4-.9l.3,.9l.3-.6l.3,.7l.3-.7l.3,.8l.4-.8l.3,1.1l.3-.9l.3,1l.3-.7l.3,.8l.4-.5l.3,1l.3-.9l.3,1l.3-.8l.4,.9l.3-.7l.3,.8l.3-.8l.3,1l.3-.3l.4,.6l.3-.2l.3,1l.3-.4l.3,.9l.3-.3l.4,1.1l.3-.7l.3,.9l.3-.7l.3,.8l.3-.7l.4,.5l.3-1l.3,.5l.3-.8l.3,.4l.3-.6l.4,.3l.3-.8l.3,.4l.3-.9l.3,.5l.3-1l.4,.3l.3-1.1l.3,.2l.3-1l.3,.5l.3-.9l.4,.5l.3-.9l.3,.5l.3-.8l.3,.8l.4-.8l.3,1l.3-.8l.3,.8l.3-.6l.3,.9l.4-.5l.3,.6l.3-.8l.3,.9l.3-.6l.3,.7l.4-.6l.3,.9l.3-.8l.3,.8l.3-.4l.3,.7l.4-.7l.3,1.1l.3-.6l.3,.9l.3-.6l.3,1.1l.4-.7l.3,1l.3-.7l.3,.7l.3-.7l.3,.8l.4-.8l.3,.8l.3-.7l.3,.6l.3-.8l.3,.9l.4-.3l.3,.9l.3-.5l.3,.7l.3-.3l.4,1l.3-.7l.3,1l.3-.4l.3,1l.3-.9l.4,.9l.3-.8l.3,.5l.3-.9l.3,.5l.3-.7l.4,.3l.3-1l.3,.3l.3-.9l.3,.3l.3-.9l.4,.6l.3-.8l.3,.5l.3-.5l.3,.9l.3-.4l.4,.8l.3-.6l.3,1.3l.3-.6l.3,.9l.3-.3l.4,.6l.3-.2l.3,.7l.3-.6l.3,.8l.4-.5l.3,.8l.3-.6l.3,1.1l.3-.9l.3,1l.4-.8l.3,.9l.3-.7l.3,.2l.3-.7l.3,.5l.4-1.1l.3,.5l.3-1l.3,.6l.3-1.1l.3,.5l.4-.6l.3,.5l.3-.6l.3,.6l.3-.5l.3,.7l.4-.8l.3,.8l.3-.7l.3,.4l.3-.5l.3,.6l.4-.8l.3,.7l.3-.7l.3,.7l.3-.6l.3,.7l.4-.7l.3,1l.3-.8l.3,.9l.3-.4l.4,.7l.3-.7l.3,.9l.3-.8l.3,.9l.3-1l.4,.7l.3-.9l.3,.4l.3-1l.3,.7l.3-1.2l.4,.4l.3-.7l.3,.5l.3-.9l.3,.8l.3-1.1l.4,1l.3-.9l.3,.9l.3-.8l.3,.9l.3-.3l.4,.6l.3-.3l.3,1.1l.3-.5l.3,.7l.3-.3l.4,.9l.3-.7l.3,.7l.3-.5l.3,.6l.4-.5l.3,.6l.3-.9l.3,.6l.3-.8l.3,.5l.4-.8l.3,.7l.3-.5l.3,.9l.3-.7l.3,.7l.4-.6l.3,.9l.3-.4l.3,.8l.3-.8l.3,1l.4-.7l.3,.6l.3-1.1l.3,.6l.3-.9l.3,.5l.4-.9l.3,.4l.3-.7l.3,.5l.3-.9l.3,.7l.4-.7l.3,.7l.3-.7l.3,.5l.3-.7l.3,.7l.4-.7l.3,.8l.3-.5l.3,.4l.3-.6l.4,.8l.3-.5l.3,.4l.3-.6l.3,.8l.3-.8l.4,.7l.3-.8l.3,.4l.3-.9l.3,.7l.3-.8l.4,.4l.3-.8l.3,.8l.3-1l.3,.5l.3-.8l.4,.7l.3-.9l.3,.4l.3-.9l.3,.6l.3-.7l.4,.9l.3-.9l.3,.9l.3-.6l.3,.9l.3-.5l.4,1l.3-.4l.3,1l.3-.6l.3,.9l.4-.4l.3,.9l.3-.6l.3,.8l.3-.3l.3,1l.4-.3l.3,.8l.3-.4l.3,1.1l.3-.4l.3,.8l.4-.2l.3,.6l.3-.6l.3,.8l.3-.8l.3,.9l.4-.8l.3,.7l.3-.8l.3,.6l.3-.9l.3,.4l.4-.8l.3,.8l.3-.9l.3,.7l.3-.5l.3,.5l.4-.8l.3,.7l.3-.6l.3,.9l.3-.8l.3,.7l.4-.8l.3,.9l.3-.8l.3,.9l.3-.8l.4,.8l.3-.5l.3,.7l.3-.4l.3,.9l.3-.8l.4,.9l.3-.6l.3,.9l.3-.7l.3,.8l.3-.6l.4,.6l.3-.6l.3,.6l.3-.7l.3,.8l.3-.7l.4,.6l.3-.7l.3,.7l.3-1.1l.3,.8l.3-.8l.4,.4l.3-1l.3,.4l.3-.8l.3,.6l.3-1.3l.4,.6l.3-.8l.3,.2l.3-.9l.3,.4l.3-.7l.4,.6l.3-.8l.3,.7l.3-.6l.3,.6l.4-.6l.3,.9l.3-.6l.3,.8l.3-.3l.3,.9l.4-.3l.3,.9l.3-.8l.3,.8l.3-.6l.3,.9l.4-1l.3,.7l.3-.9l.3,.8l.3-.9l.3,.6l.4-.4l.3,.4l.3-.6l.3,.8l.3-.7l.3,.6l.4-.8l.3,.3l.3-.8l.3,.6l.3-1.3l.3,.4l.4-.7l.3,.4l.3-.8l.3,.6l.3-1l.4,.6l.3-.8l.3,.9l.3-.9l.3,1.1l.3-.6l.4,1l.3-.8l.3,1.1l.3-.6l.3,.9l.3-.5l.4,.6l.3-.4l.3,.5l.3-.5l.3,.7l.3-.7l.4,1l.3-.7l.3,1l.3-.5l.3,1l.3-.6l.4,1.1l.3-.6l.3,.9l.3-.6l.3,.5l.3-.6l.4,.8l.3-.8l.3,.7l.3-.7l.3,.7l.3-1l.4,.6l.3-.7l.3,.7l.3-.6l.3,1l.4-.9l.3,.9l.3-.7l.3,1.1l.3-.6l.3,.9l.4-.8l.3,.8l.3-.6l.3,.6l.3-.6l.3,.7l.4-.6l.3,.5l.3-.7l.3,.7l.3-.8l.3,.5l.4-.9l.3,.7l.3-.8l.3,.5l.3-.6l.3,.3l.4-.8l.3,.6l.3-.7l.3,.5l.3-.5l.3,.5l.4-.8l.3,.9l.3-.6l.3,.8l.3-.6l.4,.6l.3-.5l.3,.9l.3-.7l.3,.4l.3-.7l.4,.6l.3-.5l.3,.4l.3-.9l.3,.8l.3-1.1l.4,.6l.3-.9l.3,.6l.3-.6l.3,.6l.3-.7l.4,.9l.3-.9l.3,.9l.3-.7l.3,1l.3-.6l.4,.5l.3-.5l.3,.8l.3-1.1l.3,.7l.3-.9l.4,.7l.3-.5l.3,.5l.3-.6l.3,1l.3-.8l.4,.7l.3-.3l.3,.9l.3-.7l.3,.8l.4-.8l.3,.8l.3-.9l.3,.8l.3-.7l.3,.6l.4-.9l.3,.8l.3-.7l.3,.4l.3-.6l.3,.8l.4-.8l.3,.6l.3-.7l.3,.3l.3-.7l.3,.8l.4-.9l.3,.5l.3-.6l.3,.7l.3-.6l.3,.7l.4-.6l.3,.8l.3-.4l.3,1.1l.3-.7l.3,1.2l.4-.8l.3,.9l.3-.6l.3,.9l.3-.6l.4,.8l.3-.8l.3,.9l.3-.8l.3,1l.3-.8l.4,1l.3-.6l.3,1.1l.3-.6l.3,1.1l.3-.8l.4,.9l.3-.9l.3,.9l.3-.7l.3,.5l.3-.9l.4,.7l.3-1l.3,.8l.3-1l.3,1l.3-.9l.4,.9l.3-.5l.3,.7l.3-.7l.3,1.1l.3-.8l.4,.8l.3-.5l.3,.5l.3-.4l.3,.7l.3-.9l.4,.9l.3-.8l.3,.6l.3-.6l.3,.3l.4-.7l.3,.7l.3-1l.3,.8l.3-.8l.3,.9l.4-.9l.3,.7l.3-.6l.3,.9l.3-.7l.3,.6l.4-.6l.3,.9l.3-.6l.3,.6l.3-.5l.3,.4l.4-.5l.3,.9l.3-.8l.3,.6l.3-.4l.3,.4l.4-.5l.3,.4l.3-.7l.3,.7l.3-1l.3,.5l.4-.9l.3,.5l.3-1.1l.3,.5l.3-.7l.3,.6l.4-.7l.3,1l.3-.5l.3,.9l.3-.4l.4,.8l.3-.5l.3,.9l.3-.5l.3,.8l.3-.4l.4,.8l.3-.9l.3,.7l.3-.4l.3,.6l.3-.7l.4,1l.3-.8l.3,.6l.3-.3l.3,.5l.3-.8l.4,.7l.3-.6l.3,.6l.3-.4l.3,.8l.3-.7l.4,.7l.3-.2l.3,.7l.3-.4l.3,.8l.3-.5l.4,.8l.3-.3l.3,.8l.3-.6l.3,1l.4-.5l.3,.7l.3-.7l.3,.7l.3-.7l.3,.6l.4-.6l.3,.8l.3-1l.3,.6l.3-.7l.3,.7l.4-.8l.3,.7l.3-.8l.3,.6l.3-.8l.3,.7l.4-.9l.3,.7l.3-.6l.3,.5l.3-.7l.3,.9l.4-.8l.3,.8l.3-.7l.3,1.2l.3-.6l.3,1l.4-.5l.3,.9l.3-.5l.3,.7l.3-.3l.3,.6l.4-.7l.3,1l.3-.7l.3,.8l.3-.6l.4,.7l.3-.9l.3,.7l.3-.7l.3,.9l.3-.8l.4,.7l.3-.7l.3,.7l.3-.6l.3,.6l.3-.8l.4,.9l.3-.6l.3,.8l.3-.9l.3,.6l.3-.6l.4,.6l.3-.6l.3,.9l.3-.7l.3,.6l.3-.6l.4,.7l.3-.7l.3,.9l.3-.6l.3,.6l.3-.8l.4,.7l.3-.8l.3,.7l.3-.7l.3,.6l.4-.8l.3,.6l.3-.6l.3,.7l.3-.5l.3,.7l.4-.8l.3,.6l.3-.8l.3,.5l.3-1.3l.3,.6l.4-1l.3,.8l.3-.9l.3,.5l.3-.5l.3,.6l.4-.4l.3,1l.3-.4l.3,.8l.3-.4l.3,1.1l.4-.7l.3,.9l.3-.6l.3,.8l.3-.8l.3,1l.4-.6l.3,.6l.3-.6l.3,.7l.3-.5l.3,.9l.4-.7l.3,.8l.3-.5l.3,.8l.3-1l.4,.9l.3-.9l.3,.6l.3-.8l.3,.6l.3-.8l.4,.7l.3-.9l.3,.7l.3-.9l.3,.4l.3-.6l.4,.3l.3-1l.3,.7l.3-1.1l.3,.5l.3-.7l.4,.5l.3-.7l.3,.7l.3-.5l.3,.8l.3-.5l.4,1.1l.3-.4l.3,.7l.3-.6l.3,1l.3-.7l.4,.8l.3-.7l.3,.5l.3-.7l.3,.5l.3-.6l.4,.7l.3-.8l.3,.3l.3-.7l.3,.7l.4-.7l.3,.5l.3-.6l.3,.6l.3-.4l.3,.9l.4-.4l.3,1.2l.3-.2l.3,1l.3-.3l.3,1l.4-.3l.3,.9l.3-.4l.3,1l.3-.5l.3,1.2l.4-.4l.3,.7l.3-.5l.3,1.1l.3-.6l.3,1l.4-.8l.3,.7l.3-.7l.3,.6l.3-1l.3,.5l.4-1.2l.3,.6l.3-1l.3,.4l.3-1.1l.4,.3l.3-.9l.3,.5l.3-.8l.3,.5l.3-.9l.4,.5l.3-.8l.3,.8l.3-.8l.3,.7l.3-.8l.4,.4l.3-.8l.3,.7l.3-.5l.3,.4l.3-.5l.4,.5l.3-.7l.3,.6l.3-.6l.3,.6l.3-1l.4,.5l.3-.6l.3,.6l.3-.8l.3,.5l.3-.6l.4,.8l.3-.7l.3,1l.3-1l.3,1l.3-.8l.4,.7l.3-1l.3,.7l.3-1.2l.3,.6l.4-1.2l.3,.3l.3-1.3l.3,.3l.3-1.1l.3,.3l.4-.8l.3,.4l.3-1.3l.3,.6l.3-.8l.3,.3l.4-.9l.3,.7l.3-.8l.3,.8l.3-.9l.3,.7l.4-.9l.3,.7l.3-.9l.3,.5l.3-1l.3,.5l.4-1l.3,.8l.3-1.1l.3,.4l.3-.8l.3,.2l.4-1l.3,.4l.3-1l.3,.5l.3-.7l.4,.5l.3-.5l.3,.8l.3-.7l.3,1l.3-.7l.4,1.1l.3-.2l.3,1.1l.3-.5l.3,1.2l.3,0l.4,1.2l.3-.5l.3,1l.3-.2l.3,.8l.3-.7l.4,.9l.3-.7l.3,.7l.3-.7l.3,.7l.3-.9l.4,.5l.3-.9l.3,.9l.3-1l.3,.5l.3-1l.4,.6l.3-.6l.3,.5l.3-1l.3,.6l.3-.7l.4,.5l.3-1.1l.3,.5l.3-.8l.3,.7l.4-.9l.3,.6l.3-1.2l.3,.8l.3-.9l.3,.5l.4-.8l.3,.7l.3-.8l.3,.5l.3-.8l.3,.8l.4-1l.3,.8l.3-.7l.3,.9l.3-.7l.3,.7l.4-.5l.3,.6l.3-.7l.3,.6l.3-.7l.3,.4l.4-.7l.3,.4l.3-.7l.3,.5l.3-.9l.3,.5l.4-.9l.3,.5l.3-.7l.3,.6l.3-.9l.4,1l.3-.8l.3,.6l.3-.6l.3,.7l.3-.5l.4,.7l.3-.2l.3,.9l.3-.7l.3,1l.3-.6l.4,.9l.3-.4l.3,.7l.3-.7l.3,.7l.3-.7l.4,.5l.3-.7l.3,.4l.3-.5l.3,.7l.3-.5l.4,.8l.3-.7l.3,.8l.3-.3l.3,.8l.3-.4l.4,.9l.3-.7l.3,.9l.3-.8l.3,1l.3-.7l.4,.5l.3-.7l.3,.6l.3-.7l.3,.6l.4-1l.3,.7l.3-1l.3,.7l.3-.7l.3,.5l.4-.9l.3,.4l.3-.6l.3,.4l.3-.9l.3,.6l.4-.9l.3,.7l.3-.8l.3,.9l.3-.7l.3,.5l.4-.4l.3,.7l.3-.6l.3,.9l.3-.6l.3,.9l.4-.6l.3,.7l.3-.4l.3,1.1l.3-.4l.3,.8l.4-.2l.3,.7l.3-.4l.3,1l.3-.4l.3,.7l.4-.5l.3,1l.3-.3l.3,.8l.3-.1l.4,.8l.3-.4l.3,1l.3-.5l.3,.8l.3-.5l.4,1l.3-.6l.3,.9l.3-.7l.3,1l.3-.8l.4,1.1l.3-.6l.3,.7l.3-.2l.3,.5l.3-.5l.4,.5l.3-.6l.3,.3l.3-.9l.3,.2l.3-1l.4,.5l.3-.9l.3,.2l.3-.9l.3,.4l.3-.7l.4,.7l.3-.7l.3,.6l.3-.8l.3,.9l.4-.8l.3,.5l.3-.8l.3,.9l.3-1.2l.3,.5l.4-.8l.3,.7l.3-1l.3,.8l.3-.9l.3,.6l.4-.4l.3,1l.3-.9l.3,1.2l.3-.6l.3,.7l.4-.5l.3,.7l.3-.6l.3,.9l.3-.6l.3,1l.4-.5l.3,1l.3-.4l.3,.9l.3-.4l.3,1.1l.4-.6l.3,1.1l.3-.5l.3,.7l.3-.3l.3,.5l.4-.5l.3,.4l.3-.8l.3,.9l.3-.8l.4,.9l.3-1l.3,1.2l.3-.6l.3,1l.3-.8l.4,1.1l.3-.5l.3,.8l.3-.4l.3,.7l.3-.6l.4,.8l.3-.7l.3,.7l.3-.5l.3,.4l.3-.7l.4,.4l.3-.6l.3,.3l.3-.6l.3,.4l.3-1l.4,.5l.3-1.1l.3,.7l.3-.9l.3,.5l.3-.6l.4,.8l.3-.6l.3,.9l.3-.3l.3,.8l.4-.4l.3,1.3l.3-.6l.3,1.2l.3-.9l.3,.7l.4-.6l.3,.4l.3-1l.3,.4l.3-.9l.3,.4l.4-.7l.3,.3l.3-.8l.3,.7l.3-1l.3,.7l.4-.8l.3,.7l.3-.5l.3,.4l.3-.7l.3,.6l.4-.9l.3,.4l.3-.9l.3,.5l.3-.9l.3,.6l.4-1.1l.3,.8l.3-.8l.3,.9l.3-.8l.3,.9l.4-1l.3,.8l.3-.9l.3,.6l.3-1.2l.4,.4l.3-1l.3,.2l.3-1.1l.3,.2l.3-.9l.4,.3l.3-1.1l.3,.4l.3-1.1l.3,.4l.3-.8l.4,.5l.3-.7l.3,.5l.3-.7l.3,.5l.3-.6l.4,.6l.3-.8l.3,.7l.3-.6l.3,.7l.3-.6l.4,.9l.3-.4l.3,.9l.3-.4l.3,.9l.3-.3l.4,1.1l.3-.4l.3,1l.3-.3l.3,1l.4-.8l.3,1l.3-.3l.3,.7l.3-.5l.3,.9l.4-.8l.3,.6l.3-.8l.3,.8l.3-.6l.3,.5l.4-.6l.3,.7l.3-.7l.3,.7l.3-.8l.3,.9l.4-.4l.3,.5l.3-.4l.3,.8l.3-.7l.3,.7l.4-.5l.3,.4l.3-.4l.3,.5l.3-1l.3,.8l.4-.9l.3,.7l.3-.5l.3,.5l.3-.5l.3,1.1l.4-.8l.3,1l.3-.5l.3,1.1l.3-.7l.4,1l.3-.9l.3,.8l.3-.7l.3,.7l.3-.8l.4,.9l.3-1.1l.3,1l.3-.9l.3,.7l.3-.3l.4,.7l.3-.6l.3,1.1l.3-.8l.3,.8l.3-.5l.4,.9l.3-.5l.3,.5l.3-.9l.3,.6l.3-1l.4,.5l.3-.7l.3,.2l.3-1.1l.3,.6l.3-1.1l.4,.5l.3-.6l.3,.4l.3-.5l.3,.6l.3-.8l.4,1.1l.3-.6l.3,1l.3-.8l.3,.6l.4-.4l.3,.5l.3-.7l.3,.3l.3-.7l.3,.5l.4-1.1l.3,.5l.3-.8l.3,.8l.3-.7l.3,.6l.4-.6l.3,.6l.3-.6l.3,.8l.3-.9l.3,.5l.4-.8l.3,.9l.3-.8l.3,.5l.3-.8l.3,.6l.4-.6l.3,.4l.3-.5l.3,.5l.3-.7l.3,.5l.4-.8l.3,.6l.3-1l.3,.5l.3-.6l.4,.5l.3-.8l.3,.4l.3-.5l.3,.4l.3-.7l.4,.8l.3-.6l.3,.8l.3-.7l.3,.9l.3-.6l.4,.8l.3-.7l.3,.5l.3-.7l.3,1l.3-.9l.4,.7l.3-.9l.3,.6l.3-.6l.3,.3l.3-.8l.4,.8l.3-1.1l.3,.7l.3-1.1l.3,.5l.3-.8l.4,.5l.3-.8l.3,.8l.3-1.1l.3,1l.3-.8l.4,.6l.3-.8l.3,.8l.3-.9l.3,.4l.4-.9l.3,.6l.3-.8l.3,.4l.3-.9l.3,.9l.4-.9l.3,.7l.3-1l.3,1l.3-.7l.3,.4l.4-.4l.3,.6l.3-.5l.3,.5l.3-.5l.3,.7l.4-1.1l.3,.6l.3-.8l.3,.6l.3-.9l.3,.3l.4-.9l.3,.4l.3-1.2l.3,.3l.3-1l.3,.4l.4-.6l.3,.7l.3-.9l.3,.9l.3-.1l.4,1.1l.3-.3l.3,1.3l.3-.2l.3,1.1l.3,.2l.4,1.1l.3-.1l.3,1.4l.3-.2l.3,1.1l.3-.4l.4,1.2l.3-.6l.3,1.2l.3-.7l.3,1l.3-.6l.4,.9l.3-.5l.3,.7l.3-.4l.3,1l.3-.4l.4,1l.3-.6l.3,.9l.3-.8l.3,.9l.3-.6l.4,.7l.3-1l.3,.8l.3-.5l.3,.6l.3-.8l.4,.9l.3-.6l.3,1.3l.3-.5l.3,1l.4-.3l.3,1.1l.3-.2l.3,1.1l.3-.3l.3,1.2l.4-.5l.3,1.3l.3-.4l.3,.9l.3-.2l.3,.7l.4-.5l.3,1l.3-.7l.3,.7l.3-.6l.3,.9l.4-.8l.3,.3l.3-.8l.3,.6l.3-.7l.3,.6l.4-1.1l.3,.9l.3-.9l.3,.6l.3-.7l.3,.5l.4-.9l.3,.6l.3-.8l.3,.6l.3-.7l.4,.3l.3-.7l.3,.7l.3-1l.3,.7l.3-.6l.4,.7l.3-.7l.3,.7l.3-.7l.3,.8l.3-.7l.4,.5l.3-.7l.3,.8l.3-.6l.3,.7l.3-.7l.4,.7l.3-.9l.3,.5l.3-1l.3,.4l.3-.9l.4,.3l.3-.9l.3,.6l.3-.9l.3,.5l.3-.8l.4,1l.3-1l.3,.8l.3-1l.3,.5l.3-.8l.4,.2l.3-.8l.3,.1l.3-1.4l.3,.5l.4-1.3l.3,0l.3-1.1l.3,.2l.3-1.1l.3,.6l.4-1.2l.3,.7l.3-.9l.3,.6l.3-.9l.3,.6l.4-.8l.3,.8l.3-.8l.3,.7l.3-.5l.3,.7l.4-1l.3,.9l.3-.8l.3,.5l.3-.5l.3,.7l.4-1.1l.3,.7l.3-.8l.3,.6l.3-.8l.3,.6l.4-.9l.3,.5l.3-.5l.3,.4l.3-.5l.3,.6l.4-.8l.3,1.1l.3-.9l.3,.8l.3-.7l.4,.6l.3-.7l.3,.6l.3-1.1l.3,.8l.3-.9l.4,.5l.3-.7l.3,.7l.3-.9l.3,1l.3-.8l.4,.7l.3-.7l.3,.9l.3-.8l.3,.8l.3-.5l.4,.6l.3-.6l.3,.3l.3-.7l.3,.7l.3-.7l.4,.4l.3-.5l.3,.8l.3-.9l.3,1l.3-.5l.4,.9l.3-.6l.3,.9l.3-.3l.3,.7l.4-.3l.3,.8l.3-.4l.3,.5l.3-.6l.3,1l.4-.5l.3,.6l.3-.6l.3,.6l.3-.7l.3,.9l.4-.9l.3,.9l.3-.3l.3,.5l.3-.4l.3,.6l.4-.4l.3,.8l.3-.7l.3,1.2l.3-.6l.3,.8l.4-.6l.3,1.1l.3-.9l.3,.8l.3-.6l.3,.3l.4-.8l.3,.4l.3-1.1l.3,.2l.3-1l.3,.5l.4-1.2l.3,.1l.3-1.2l.3,.2l.3-1.3l.4,.3l.3-1.3l.3,.3l.3-.9l.3,.7l.3-.5l.4,.8l.3-.7l.3,1l.3-.5l.3,.7l.3-.2l.4,.5l.3-.7l.3,.8l.3-.4l.3,.7l.3-.8l.4,1.1l.3-.8l.3,.8l.3-.4l.3,1l.3-.6l.4,.7l.3-.5l.3,1.1l.3-.7l.3,.7l.3-.5l.4,.7l.3-.4l.3,.4l.3-.4l.3,.7l.4-.9l.3,.8l.3-.8l.3,.7l.3-.5l.3,.5l.4-.7l.3,.9l.3-.6l.3,.6l.3-.6l.3,.7l.4-.4l.3,.6l.3-.7l.3,.8l.3-.5l.3,.8l.4-.7l.3,.8l.3-.8l.3,1l.3-.6l.3,.6l.4-.5l.3,.4l.3-.3l.3,.4l.3-.6l.3,.8l.4-.3l.3,.5l.3-.6l.3,1l.3-.6l.3,1l.4-.6l.3,.9l.3-.6l.3,.8l.3-.3l.4,1l.3-.7l.3,1.1l.3-.5l.3,1l.3-.4l.4,.6l.3-.5l.3,1l.3-.8l.3,.9l.3-.8l.4,.8l.3-.7l.3,.6l.3-.9l.3,1l.3-1l.4,.9l.3-.6l.3,.5l.3-.6l.3,.9l.3-.4l.4,.9l.3-.5l.3-3.1l.3-11.7l.3-7l.3-5.9l.4,1.2l.3-.1l.3,1.1l.3-.2l.3,1.3l.4-.4l.3,1.2l.3-.1l.3,1l.3-.2l.3,1.2l.4-.4l.3,1.3l.3-.5l.3,1.4l.3-.2l.3,1.1l.4-.1l.3,1.2l.3,.1l.3,1l.3-.2l.3,1.3l.4-.3l.3,1.2l.3-.7l.3,.9l.3-.4l.3,.8l.4-.8l.3,.9l.3-.9l.3,.7l.3-.4l.3,.5l.4-.6l.3,.6l.3-.9l.3,.9l.3-.6l.3,.8l.4-.4l.3,.6l.3-.4l.3,1.1l.3-.5l.4,.8l.3-.4l.3,1l.3-.5l.3,1l.3-.5l.4,.8l.3-.6l.3,.6l.3-.4l.3,.7l.3-.8l.4,.7l.3-.4l.3,.5l.3-.7l.3,.7l.3-.5l.4,.5l.3-.5l.3,.8l.3-.8l.3,.8l.3-.6l.4,.9l.3-.9l.3,.8l.3-.5l.3,.6l.3-.5l.4,1.1l.3-.8l.3,.8l.3-.6l.3,.8l.3-.3l.4,.6l.3-.6l.3,.9l.3-.9l.3,.6l.4-.8l.3,.9l.3-.9l.3,.4l.3-.8l.3,.7l.4-1l.3,.8l.3-.8l.3,.9l.3-.5l.3,.8l.4-.9l.3,1l.3-.8l.3,1l.3-.6l.3,.6l.4-.6l.3,.4l.3-.7l.3,.8l.3-.7l.3,.6l.4-.6l.3,.5l.3-.5l.3,.9l.3-.8l.3,.7l.4-.8l.3,.8l.3-.6l.3,.7l.3-.6l.4,.8l.3-.6l.3,.5l.3-.6l.3,.8l.3-.3l.4,.9l.3-.5l.3,.6l.3-.4l.3,.8l.3-.7l.4,.9l.3-.6l.3,.5l.3-.7l.3,.9l.3-.8l.4,.4l.3-.5l.3,.6l.3-.7l.3,.4l.3-.5l.4,.5l.3-.7l.3,.7l.3-.4l.3,.9l.3-.7l.4,.9l.3-.6l.3,1l.3-.6l.3,1l.3-.6l.4,.5l.3-.7l.3,.8l.3-.5l.3,.5l.4-.8l.3,.7l.3-.6l.3,.8l.3-.7l.3,.4l.4-.7l.3,.6l.3-.6l.3,.6l.3-.9l.3,.7l.4-.6l.3,.4l.3-.6l.3,.6l.3-1l.3,.8l.4-.5l.3,.6l.3-.5l.3,.6l.3-.3l.3,.9l.4-.7l.3,.8l.3-.6l.3,.9l.3-.5l.3,.6l.4-.8l.3,.5l.3-.9l.3,.4l.3-.7l.4,.3l.3-1l.3,.4l.3-.9l.3,.6l.3-1l.4,.8l.3-1l.3,.7l.3-.6l.3,.9l.3-.9l.4,.8l.3-.8l.3,.7l.3-.7l.3,.5l.3-.9l.4,.2l.3-.8l.3,.2l.3-20.5l.3,2.5l.3,1.1l.4,2.7l.3,1.7l.3,1.9l.3,.7l.3,2.2l.3,.8l.4,1.9l.3,.7l.3,1.8l.3,.6l.3,1.7l.3,.3l.4,1.1l.3-.7l.3,.7l.3-.6l.3,.4l.4-.4l.3,.7l.3-.8l.3,.8l.3-.4l.3,.7l.4-.6l.3,.7l.3-.9l.3,.7l.3-.5l.3,.4l.4-.5l.3,.7l.3-.9l.3,.5l.3-.6l.3,.5l.4-1.1l.3,.5l.3-.7l.3,.4l.3-1.2l.3,.7l.4-.8l.3,.4l.3-.7l.3,.4l.3-.5l.3,.8l.4-.6l.3,.8l.3-.3l.3,.9l.3-.3l.3,.8l.4-.4l.3,1l.3-.2l.3,.8l.3-.5l.4,.8l.3-.2l.3,.6l.3-.4l.3,.6l.3-.7l.4,1l.3-.7l.3,.8l.3-.5l.3,.6l.3-.6l.4,.7l.3-.8l.3,.6l.3-.9l.3,.8l.3-.9l.4,.9l.3-.6l.3,.9l.3-.9l.3,.7l.3-.4l.4,.8l.3-.9l.3,.8l.3-.8l.3,.8l.3-.6l.4,.8l.3-.4l.3,.7l.3-.3l.3,.6l.4-.3l.3,.7l.3-.7l.3,.7l.3-.6l.3,.4l.4-.8l.3,.2l.3-.7l.3,.3l.3-.9l.3,.3l.4-.6l.3,.5l.3-.7l.3,.9l.3-.7l.3,1.1l.4-.6l.3,1l.3-.6l.3,1l.3-.8l.3,.9l.4-.6l.3,.8l.3-.4l.3,.5l.3-.5l.3,.6l.4-.6l.3,.5l.3-.7l.3,.8l.3-.7l.3,1l.4-.6l.3,.7l.3-.7l.3,.9l.3-.9l.4,1.1l.3-.8l.3,.6l.3-.5l.3,.5l.3-.7l.4,.8l.3-.8l.3,.4l.3-.7l.3,.7l.3-1.1l.4,.6l.3-.5l.3,.7l.3-.8l.3,.7l.3-.7l.4,1.2l.3-.6l.3,.7l.3-.5l.3,1.2l.3-.6l.4,.9l.3-.6l.3,.8l.3-.4l.3,.5l.3-.4l.4,.4l.3-.6l.3,.6l.3-1.1l.3,.7l.4-.7l.3,.5l.3-.9l.3,.7l.3-.9l.3,.7l.4-.9l.3,.4l.3-.7l.3,.6l.3-1.2l.3,.7l.4-1l.3,.7l.3-.9l.3,.9l.3-.8l.3,.8l.4-.7l.3,.8l.3-.4l.3,.7l.3-.3l.3,1l.4-.7l.3,.9l.3-.5l.3,.6l.3-.3l.3,1l.4-.5l.3,.7l.3-.4l.3,1l.3-.4l.3,.8l.4-.5l.3,.6l.3-.7l.3,.8l.3-.9l.4,.5l.3-.8l.3,.7l.3-1l.3,.6l.3-.9l.4,.6l.3-.6l.3,.6l.3-.8l.3,.8l.3-.8l.4,.8l.3-.6l.3,1l.3-.6l.3,1.1l.3-.7l.4,.7l.3-.5l.3,1l.3-.8l.3,.7l.3-.7l.4,.5l.3-1l.3,.9l.3-.7l.3,.6l.3-1l.4,.9l.3-1l.3,.6l.3-.7l.3,.8l.4-.8l.3,.7l.3-.8l.3,1l.3-.6l.3,.9l.4-.6l.3,1.2l.3-.4l.3,.8l.3-.3l.3,.8l.4-.5l.3,.6l.3-.7l.3,.7l.3-.8l.3,.4l.4-.6l.3,.6l.3-.9l.3,.8l.3-.9l.3,1l.4-.6l.3,.8l.3-.5l.3,.7l.3-.2l.3,.9l.4-.4l.3,.8l.3-.4l.3,.9l.3-.6l.3,.5l.4-.6l.3,.7l.3-.6l.3,.4l.3-.6l.4,.5l.3-.6l.3,.3l.3-.6l.3,.7l.3-.9l.4,1.1l.3-.6l.3,.6"/>
<path stroke="#FF99E6" d="M208,874.2l.3,.5l.3,.1l.4,.7l.3,.4l.3,.6l.3,.4l.3,.6l.3,.4l.4,.7l.3,.3l.3,.6l.3,.3l.3,.7l.3,.3l.4,.6l.3,.4l.3,.7l.3,.3l.3,.7l.3,.4l.4,.8l.3,.3l.3,.7l.3,.4l.3,.7l.3,.4l.4,.7l.3,.3l.3,.8l.3,.3l.3,.6l.3,.4l.4,.7l.3,.3l.3,.7l.3,.4l.3,.7l.3,.3l.4,.7l.3,.3l.3,.7l.3,.2l.3,.7l.4,.3l.3,.7l.3,.2l.3,.7l.3,.3l.3,.6l.4,.4l.3,.7l.3,.3l.3,.7l.3,.3l.3,.7l.4,.3l.3,.8l.3,.3l.3,.7l.3,.3l.3,.8l.4,.3l.3,.7l.3,.4l.3,.6l.3,.4l.3,.7l.4,.4l.3,.6l.3,.4l.3,.7l.3,.3l.3,.7l.4,.3l.3,.7l.3,.3l.3,.7l.3,.3l.4,.8l.3,.3l.3,.7l.3,.4l.3,.7l.3,.4l.4,.7l.3,.3l.3,.7l.3,.3l.3,.7l.3,.3l.4,.6l.3,.3l.3,.7l.3,.2l.3,.6l.3,.3l.4,.7l.3,.3l.3,.7l.3,.2l.3,.8l.3,.2l.4,.8l.3,.3l.3,.8l.3,.3l.3,.8l.3,.3l.4,.8l.3,.4l.3,.7l.3,.4l.3,.6l.3,.4l.4,.8l.3,.4l.3,.7l.3,.3l.3,.8l.4,.3l.3,.8l.3,.3l.3,.7l.3,.3l.3,.7l.4,.4l.3,.6l.3,.3l.3,.8l.3,.3l.3,.6l.4,.3l.3,.8l.3,.3l.3,.7l.3,.4l.3,.6l.4,.4l.3,.7l.3,.3l.3,.6l.3,.3l.3,.8l.4,.3l.3,.8l.3,.3l.3,.8l.3,.5l.3,.7l.4,.5l.3,.7l.3,.5l.3,.6l.3,.4l.4,.7l.3,.3l.3,.7l.3,.2l.3,.8l.3,.3l.4,.8l.3,.3l.3,.8l.3,.4l.3,.7l.3,.5l.4,.7l.3,.4l.3,.8l.3,.3l.3,.8l.3,.3l.4,.8l.3,.4l.3,.7l.3,.3l.3,.7l.3,.3l.4,.8l.3,.3l.3,.7l.3,.2l.3,.8l.3,.3l.4,.6l.3,.4l.3,.7l.3,.5l.3,.8l.3,.3l.4,.9l.3,.4l.3,.9l.3,.3l.3,.8l.4,.4l.3,.7l.3,.4l.3,.7l.3,.3l.3,.8l.4,.3l.3,.7l.3,.3l.3,.7l.3,.3l.3,.6l.4,.4l.3,.6l.3,.3l.3,.7l.3,.2l.3,.8l.4,.2l.3,.7l.3,.3l.3,.7l.3,.3l.3,.6l.4,.2l.3,.7l.3,.2l.3,.7l.3,.2l.3,.7l.4,.3l.3,.7l.3,.3l.3,.7l.3,.3l.4,.7l.3,.3l.3,.7l.3,.2l.3,.7l.3,.3l.4,.6l.3,.2l.3,.7l.3,.2l.3,.7l.3,.3l.4,.6l.3,.3l.3,.7l.3,.3l.3,.6l.3,.3l.4,.7l.3,.2l.3,.7l.3,.2l.3,.6l.3,.3l.4,.6l.3,.2l.3,.6l.3,.3l.3,.6l.3,.2l.4,.7l.3,.2l.3,.6l.3,.2l.3,.6l.3,.3l.4,.7l.3,.1l.3,.8l.3,.2l.3,.8l.4,.3l.3,.8l.3,.3l.3,.8l.3,.3l.3,.9l.4,.3l.3,.8l.3,.3l.3,1l.3,.3l.3,.8l.4,.2l.3,.9l.3,.2l.3,.8l.3,.2l.3,.8l.4,.1l.3,.6l.3,.2l.3,.7l.3,0l.3,.8l.4,.1l.3,.8l.3,.2l.3,.7l.3,.5l.3,.9l.4,.5l.3,.9l.3,.4l.3,.9l.3,.4l.3,1l.4,.3l.3,1l.3,.3l.3,1l.3,.2l.4,1l.3,.3l.3,.9l.3,.1l.3,.8l.3,.2l.4,.7l.3,.2l.3,1l.3,0l.3,.9l.3,.1l.4,.8l.3,0l.3,.8l.3-.1l.3,.7l.3-.2l.4,.8l.3-.2l.3,.7l.3-.2l.3,.4l.3-.2l.4,.5l.3-.4l.3,.6l.3-.3l.3,.5l.3-.2l.4,.7l.3-.2l.3,.6l.3,0l.3,.7l.4-.2l.3,.7l.3-.1l.3,.7l.3-.4l.3,.7l.4-.2l.3,.7l.3-.4l.3,.7l.3-.4l.3,.5l.4-.5l.3,.8l.3-.6l.3,.7l.3-.3l.3,.7l.4-.4l.3,.6l.3-.2l.3,.6l.3-.1l.3,.7l.4-.3l.3,.5l.3-.2l.3,.4l.3-.5l.3,.6l.4-.3l.3,.6l.3-.6l.3,.8l.3-.5l.3,.7l.4-.5l.3,.6l.3-.3l.3,.8l.3-.6l.4,.7l.3-.2l.3,.6l.3-.5l.3,.8l.3-.4l.4,.6l.3-.4l.3,.6l.3-.4l.3,.4l.3-.4l.4,.6l.3-.5l.3,.5l.3-.4l.3,.7l.3-.6l.4,.8l.3-.5l.3,.5l.3-.5l.3,.9l.3-.8l.4,.7l.3-.7l.3,.8l.3-.4l.3,.5l.3-.4l.4,.5l.3-.5l.3,.7l.3-.8l.3,.3l.4-.7l.3,.7l.3-1l.3,.6l.3-1l.3,.6l.4-.8l.3,.5l.3-.7l.3,.6l.3-.9l.3,.6l.4-.6l.3,.4l.3-.5l.3,.4l.3-.5l.3,.8l.4-.5l.3,.6l.3-.3l.3,1.1l.3-.4l.3,.9l.4-.3l.3,1.1l.3-.7l.3,1.2l.3-.8l.3,1l.4-.7l.3,.5l.3-.8l.3,.7l.3-.8l.3,.5l.4-1.2l.3,.5l.3-1.1l.3,.4l.3-1l.4,.3l.3-1l.3,.2l.3-.6l.3,.4l.3-1l.4,.8l.3-.6l.3,.8l.3-.4l.3,.9l.3-.4l.4,.8l.3-.4l.3,.8l.3-.5l.3,.7l.3-.9l.4,.7l.3-.8l.3,.4l.3-1.1l.3,.5l.3-.7l.4,.4l.3-.9l.3,.7l.3-.7l.3,.6l.3-.6l.4,.9l.3-.8l.3,1l.3-.7l.3,.8l.3-.5l.4,.7l.3-.5l.3,1l.3-.7l.3,.6l.4-.4l.3,.6l.3-.6l.3,.3l.3-.8l.3,.9l.4-1.1l.3,.5l.3-.7l.3,.5l.3-.8l.3,.4l.4-1l.3,.9l.3-.7l.3,1l.3-.5l.3,.8l.4-.5l.3,1.2l.3-.7l.3,1l.3-.3l.3,.8l.4-.6l.3,.9l.3-.7l.3,.7l.3-.4l.3,.8l.4-.5l.3,.5l.3-7.8l.3,.7l.3-.7l.4,.4l.3-.7l.3,.6l.3-.9l.3,.4l.3-1.4l.4,.6l.3-1.1l.3,.3l.3-1.1l.3,.4l.3-.9l.4,.7l.3-.6l.3,.8l.3-.7l.3,1.2l.3-.8l.4,1.1l.3-.6l.3,.9l.3-.4l.3,.7l.3-.8l.4,.6l.3-.4l.3,.6l.3-.8l.3,.8l.3-.6l.4,1l.3-.7l.3,1.1l.3-.2l.3,1.2l.3,0l.4,1.1l.3-.2l.3,1.3l.3,0l.3,.9l.4-.6l.3,.9l.3-.4l.3,.6l.3-.8l.3,1l.4-.7l.3,.9l.3-.7l.3,.9l.3-.5l.3,1.1l.4-.4l.3,.9l.3-.6l.3,1.1l.3-.8l.3,.9l.4-.9l.3,.6l.3-.6l.3,.7l.3-1.1l.3,.8l.4-.9l.3,.8l.3-1l.3,.6l.3-.7l.3,.6l.4-.7l.3,.8l.3-.5l.3,.6l.3-.7l.4,1l.3-.7l.3,.7l.3-.4l.3,.7l.3-.6l.4,.8l.3-.9l.3,1l.3-.7l.3,.6l.3-.6l.4,.7l.3-.8l.3,.7l.3-.9l.3,.5l.3-.9l.4,.7l.3-.7l.3,.4l.3-.6l.3,.4l.3-.3l.4,.6l.3-.5l.3,.6l.3-.3l.3,.7l.3-.6l.4,1l.3-.4l.3,.7l.3-.4l.3,.4l.3-.5l.4,.8l.3-.8l.3,.6l.3-.6l.3,.7l.4-1l.3,.6l.3-.8l.3,.8l.3-.9l.3,.8l.4-.9l.3,.8l.3-.7l.3,.8l.3-.9l.3,.7l.4-.6l.3,.5l.3-.9l.3,.7l.3-1l.3,.8l.4-.9l.3,.6l.3-.7l.3,.4l.3-.7l.3,.6l.4-.8l.3,.8l.3-.8l.3,.9l.3-.5l.3,.7l.4-.4l.3,1l.3-.4l.3,1.1l.3-.5l.4,1.1l.3-.6l.3,.9l.3-.7l.3,.9l.3-.7l.4,1l.3-.7l.3,.5l.3-.7l.3,1l.3-1l.4,.9l.3-.4l.3,.5l.3-.5l.3,.6l.3-.5l.4,.7l.3-.8l.3,.4l.3-.6l.3,.6l.3-.9l.4,.7l.3-.8l.3,.8l.3-1l.3,.9l.3-.9l.4,.6l.3-1l.3,.7l.3-1.2l.3,.5l.3-.9l.4,.2l.3-.9l.3,.7l.3-1.1l.3,.5l.4-.6l.3,.4l.3-.7l.3,.9l.3-.8l.3,.9l.4-.3l.3,.9l.3-.5l.3,.9l.3-.4l.3,.8l.4-.7l.3,1.2l.3-.6l.3,.8l.3-.4l.3,.8l.4-.5l.3,.6l.3-.5l.3,.8l.3-.9l.3,.5l.4-.7l.3,.2l.3-.7l.3,.5l.3-.6l.3,.7l.4-.5l.3,.9l.3-.8l.3,1l.3-.3l.3,.6l.4-.5l.3,1l.3-.5l.3,.8l.3-.7l.4,.8l.3-.8l.3,.6l.3-.7l.3,.5l.3-1.1l.4,.6l.3-.8l.3,.5l.3-1l.3,.8l.3-.9l.4,.5l.3-.5l.3,.5l.3-.9l.3,.5l.3-1l.4,.3l.3-1.1l.3,.4l.3-1l.3,.2l.3-1.3l.4,.5l.3-1l.3,.2l.3-.6l.3,.6l.3-.7l.4,1l.3-.5l.3,1.1l.3-.4l.3,.7l.4-.5l.3,.7l.3-.5l.3,.7l.3-.7l.3,.8l.4-.7l.3,1l.3-.4l.3,.9l.3-.3l.3,1.1l.4-.3l.3,1.1l.3-.2l.3,1l.3-.4l.3,1.3l.4-.5l.3,.7l.3-.2l.3,.5l.3-.5l.3,.9l.4-.6l.3,.9l.3-.6l.3,.9l.3-.8l.3,.8l.4-.7l.3,1l.3-.8l.3,.9l.3-1.1l.3,.8l.4-.8l.3,.6l.3-.9l.3,.4l.3-1l.4,.5l.3-.8l.3,.5l.3-.9l.3,.5l.3-.5l.4,.7l.3-.4l.3,1.3l.3-.4l.3,1.3l.3-.4l.4,1.3l.3-.4l.3,1.2l.3-.4l.3,.7l.3-.4l.4,.6l.3-.6l.3,.9l.3-.8l.3,.9l.3-.6l.4,1l.3-.7l.3,1.1l.3-.4l.3,.9l.3-.3l.4,1l.3-.5l.3,1.1l.3-.8l.3,.8l.4-.8l.3,.9l.3-.9l.3,.3l.3-.9l.3,.9l.4-.9l.3,.7l.3-1l.3,1l.3-.9l.3,.9l.4-.7l.3,.7l.3-.7l.3,.7l.3-.7l.3,.5l.4-.9l.3,.1l.3-1.1l.3,.4l.3-1.3l.3,.5l.4-1.1l.3,.5l.3-1l.3,.4l.3-.8l.3,.6l.4-.7l.3,.6l.3-1.1l.3,.7l.3-.8l.3,.3l.4-1l.3,.6l.3-1.2l.3,.5l.3-1l.4,.4l.3-.8l.3,.6l.3-.9l.3,.5l.3-.7l.4,.7l.3-.4l.3,.5l.3-.5l.3,.6l.3-.3l.4,.4l.3-.8l.3,1l.3-.9l.3,.6l.3-.8l.4,.4l.3-.9l.3,.7l.3-1.1l.3,.4l.3-.6l.4,.5l.3-.9l.3,.6l.3-1.1l.3,1l.3-1l.4,.7l.3-.5l.3,.6l.3-.9l.3,.6l.4-1l.3,.4l.3-1l.3,.2l.3-1.1l.3,.7l.4-1l.3,.5l.3-1.2l.3,.9l.3-1.1l.3,.7l.4-.7l.3,1l.3-.8l.3,.9l.3-.5l.3,.7l.4-.4l.3,.8l.3-.4l.3,.8l.3-.7l.3,.7l.4-.6l.3,.8l.3-.7l.3,.6l.3-.5l.3,.6l.4-.7l.3,.7l.3-1l.3,.7l.3-.4l.3,.5l.4-.7l.3,.3l.3-.6l.3,.7l.3-.9l.4,.7l.3-.7l.3,.6l.3-1l.3,.6l.3-.8l.4,.9l.3-1.1l.3,.7l.3-.8l.3,.5l.3-1l.4,.8l.3-.8l.3,.6l.3-.5l.3,.8l.3-.6l.4,.6l.3-.6l.3,1.1l.3-.5l.3,.8l.3-.4l.4,1.1l.3-.6l.3,1.2l.3-.4l.3,.7l.3-.7l.4,.8l.3-.6l.3,.7l.3-.9l.3,.8l.3-.6l.4,.6l.3-.7l.3,.6l.3-.5l.3,.7l.4-.4l.3,.8l.3-.7l.3,.7l.3-.5l.3,.9l.4-.7l.3,.7l.3-.5l.3,1l.3-.7l.3,.8l.4-.7l.3,.7l.3-1l.3,.6l.3-.6l.3,.7l.4-1l.3,.7l.3-.4l.3,.7l.3-.4l.3,.7l.4-.4l.3,.9l.3-.2l.3,1l.3-.6l.3,1l.4-.6l.3,.9l.3-.7l.3,.6l.3-.5l.4,.5l.3-.8l.3,.7l.3-.6l.3,.5l.3-.3l.4,.5l.3-.3l.3,.9l.3-.6l.3,.9l.3-.4l.4,.9l.3-.7l.3,.7l.3-.5l.3,.5l.3-.8l.4,.4l.3-1l.3,.5l.3-1.2l.3,.4l.3-1.1l.4,.7l.3-1.1l.3,.3l.3-.7l.3,.4l.3-.6l.4,.5l.3-.6l.3,.6l.3-1l.3,.7l.3-.7l.4,.5l.3-.7l.3,.6l.3-1l.3,.6l.4-.9l.3,.7l.3-.9l.3,.8l.3-.7l.3,.7l.4-.7l.3,.6l.3-.5l.3,.8l.3-.8l.3,.9l.4-.8l.3,.7l.3-.7l.3,.7l.3-.7l.3,.5l.4-.6l.3,.6l.3-.5l.3,.8l.3-.7l.3,.6l.4-.5l.3,.6l.3-.6l.3,1.1l.3-.8l.3,.9l.4-.6l.3,.6l.3-.7l.3,.7l.3-.9l.4,.7l.3-.8l.3,.5l.3-.7l.3,.4l.3-.9l.4,.9l.3-.6l.3,.7l.3-.8l.3,1l.3-.7l.4,1.3l.3-.5l.3,.6l.3-.6l.3,.8l.3-.5l.4,.7l.3-.7l.3,.8l.3-.8l.3,.5l.3-.8l.4,.5l.3-.7l.3,.7l.3-.7l.3,.4l.3-.6l.4,.7l.3-.6l.3,.8l.3-.8l.3,.7l.3-.5l.4,.9l.3-.8l.3,.8l.3-.6l.3,1l.4-.7l.3,.5l.3-.4l.3,.5l.3-.8l.3,.8l.4-.9l.3,.6l.3-.7l.3,.5l.3-.9l.3,.8l.4-6.4l.3,1l.3,.1l.3,1.4l.3,0l.3,1.7l.4-.2l.3,1.1l.3-.5l.3,.9l.3-.4l.3,1l.4-.7l.3,1.1l.3-.8l.3,1l.3-.6l.3,.8l.4-.5l.3,1.1l.3-.8l.3,.9l.3-.3l.4,.7l.3-.8l.3,.9l.3-.9l.3,.6l.3-.9l.4,.6l.3-1l.3,.6l.3-1.2l.3,.9l.3-.8l.4,.5l.3-.7l.3,1l.3-.4l.3,.8l.3-.3l.4,.9l.3-.5l.3,.8l.3-.6l.3,.7l.3-.5l.4,.5l.3-.5l.3,.3l.3-.6l.3,.6l.3-1l.4,.9l.3-.9l.3,.9l.3-.7l.3,.9l.3-.5l.4,1.1l.3-.3l.3,1.1l.3-.2l.3,1.1l.4-.4l.3,1.1l.3-.7l.3,.9l.3-.7l.3,.6l.4-.6l.3,.5l.3-.8l.3,.6l.3-.6l.3,.4l.4-.9l.3,.5l.3-.7l.3,.4l.3-.9l.3,.8l.4-1l.3,.8l.3-.9l.3,.6l.3-.7l.3,.4l.4-.5l.3,.6l.3-.5l.3,.8l.3-.4l.3,.7l.4-.7l.3,.8l.3-.6l.3,.9l.3-.9l.3,.8l.4-.9l.3,.5l.3-.5l.3,.3l.3-.4l.4,.7l.3-.5l.3,.8l.3-.3l.3,1l.3-.5l.4,1.3l.3-.4l.3,1l.3-.2l.3,.9l.3-.9l.4,1l.3-.8l.3,.7l.3-.9l.3,.6l.3-.7l.4,.6l.3-.5l.3,.6l.3-.7l.3,.9l.3-.9l.4,.7l.3-.5l.3,.8l.3-.3l.3,.9l.3-.6l.4,.9l.3-.7l.3,.8l.3-.6l.3,.4l.4-.8l.3,.7l.3-1l.3,.7l.3-.9l.3,.2l.4-.9l.3,.4l.3-1.1l.3,.5l.3-1.2l.3,.5l.4-1.2l.3,.3l.3-1.4l.3,.3l.3-1.2l.3,0l.4-1.2l.3,.1l.3-1.2l.3,.1l.3-1l.3,.4l.4-.7l.3,.4l.3-.5l.3,.6l.3-.3l.3,.8l.4-.3l.3,.7l.3-.5l.3,.6l.3-.6l.3,.8l.4-.6l.3,.8l.3-.6l.3,.8l.3-.7l.4,.9l.3-.4l.3,.7l.3-.5l.3,.6l.3-.5l.4,.8l.3-.9l.3,.5l.3-.6l.3,.7l.3-.9l.4,.5l.3-1l.3,.8l.3-.9l.3,.3l.3-.6l.4,.3l.3-.9l.3,.7l.3-.7l.3,.9l.3-.6l.4,.8l.3-.4l.3,1l.3-.5l.3,.7l.3-.4l.4,.9l.3-.8l.3,.8l.3-.9l.3,.7l.4-.9l.3,.6l.3-.7l.3,.4l.3-.8l.3,.7l.4-.9l.3,.7l.3-.8l.3,.8l.3-.4l.3,.7l.4-.5l.3,1l.3-.4l.3,1l.3-.4l.3,.9l.4-.3l.3,.9l.3-.2l.3,.8l.3-.6l.3,.9l.4-.8l.3,.7l.3-1.1l.3,.5l.3-1.2l.3,.2l.4-1.1l.3,.1l.3-1.3l.3,.2l.3-.8l.3,.3l.4-1.1l.3,.8l.3-1.1l.3,.7l.3-.7l.4,.6l.3-.8l.3,.5l.3-.5l.3,.7l.3-1l.4,.8l.3-.8l.3,.9l.3-.7l.3,.9l.3-.5l.4,.8l.3-.6l.3,.7l.3-.7l.3,.8l.3-.9l.4,.9l.3-.6l.3,.8l.3-.7l.3,.9l.3-.6l.4,.9l.3-.6l.3,.7l.3-.2l.3,.7l.3-.8l.4,.9l.3-1l.3,.6l.3-.5l.3,.5l.3-.9l.4,.8l.3-.9l.3,.3l.3-.9l.3,.6l.4-.9l.3,.5l.3-.5l.3,.4l.3-.7l.3,.7l.4-.9l.3,.6l.3-.5l.3,.6l.3-.7l.3,.8l.4-.6l.3,.7l.3-.8l.3,.8l.3-.6l.3,1l.4-.7l.3,1l.3-.6l.3,1.1l.3-.5l.3,.6l.4-.3l.3,.6l.3-.3l.3,.7l.3-.6l.3,.4l.4-.8l.3,.8l.3-.7l.3,.6l.3-.8l.4,.7l.3-.6l.3,.7l.3-.7l.3,.6l.3-.5l.4,.7l.3-.7l.3,.8l.3-.7l.3,.7l.3-.7l.4,.7l.3-.8l.3,.7l.3-.7l.3,.3l.3-.8l.4,1l.3-.7l.3,.3l.3-.8l.3,1l.3-1l.4,.7l.3-.5l.3,.5l.3-.7l.3,.8l.3-.6l.4,.9l.3-.5l.3,1l.3-.3l.3,1.2l.3-.7l.4,1.2l.3-.7l.3,1l.3-.5l.3,.6l.4-.8l.3,1l.3-1l.3,.9l.3-1.2l.3,.8l.4-.9l.3,.3l.3-1.1l.3,.5l.3-1l.3,.5l.4-1.1l.3,.8l.3-1.1l.3,.6l.3-.6l.3,.8l.4-.7l.3,.9l.3-.4l.3,.7l.3-.6l.3,1.1l.4-.6l.3,.8l.3-.5l.3,.7l.3-.5l.3,.7l.4-.2l.3,.9l.3-.6l.3,1.1l.3-.5l.4,1l.3-.4l.3,1l.3-.6l.3,.8l.3-.9l.4,.8l.3-.9l.3,.7l.3-1l.3,.7l.3-.7l.4,.5l.3-.7l.3,.7l.3-.9l.3,.6l.3-.6l.4,.7l.3-1.1l.3,.5l.3-.7l.3,.4l.3-1.3l.4,.4l.3-.9l.3,.5l.3-.7l.3,.6l.3-.6l.4,.8l.3-.4l.3,.7l.3-.2l.3,.8l.3-.6l.4,1l.3-.5l.3,.7l.3-.3l.3,.9l.4-.6l.3,1.1l.3-.7l.3,1.2l.3-.7l.3,1l.4-.6l.3,.8l.3-.9l.3,.8l.3-.9l.3,.6l.4-.7l.3,.4l.3-.8l.3,.5l.3-.6l.3,.4l.4-.7l.3,.8l.3-.8l.3,.8l.3-.6l.3,.6l.4-.5l.3,.5l.3-.4l.3,.7l.3-.5l.3,.8l.4-1l.3,.9l.3-.9l.3,.6l.3-.6l.4,.4l.3-.6l.3,.6l.3-.7l.3,.7l.3-.5l.4,.7l.3-.8l.3,.6l.3-.8l.3,.6l.3-.7l.4,.5l.3-.6l.3,.3l.3-.8l.3,.8l.3-1.1l.4,.7l.3-.8l.3,.8l.3-.9l.3,1l.3-.8l.4,.9l.3-.8l.3,.8l.3-.7l.3,.8l.3-.7l.4,.8l.3-.4l.3,.8l.3-.9l.3,.9l.3-.5l.4,.5l.3-.4l.3,.7l.3-.8l.3,.7l.4-.3l.3,.7l.3-.8l.3,.6l.3-.6l.3,.7l.4-.7l.3,.3l.3-.9l.3,.5l.3-.9l.3,.5l.4-.8l.3,.5l.3-.9l.3,.5l.3-.8l.3,.5l.4-.6l.3,.6l.3-.9l.3,.8l.3-1l.3,.5l.4-.4l.3,.4l.3-.6l.3,.7l.3-.6l.3,1l.4-.9l.3,.9l.3-.6l.3,1.1l.3-.7l.3,1.1l.4-.6l.3,1l.3-.6l.3,.8l.3-.5l.4,.6l.3-.4l.3,.9l.3-.6l.3,1l.3-.3l.4,.8l.3-.4l.3,.8l.3-.4l.3,.7l.3-.8l.4,1.1l.3-.9l.3,.7l.3-.7l.3,.9l.3-1.1l.4,.7l.3-.8l.3,.8l.3-.8l.3,.6l.3-.8l.4,.8l.3-.6l.3,.8l.3-.6l.3,.9l.3-.6l.4,.8l.3-.6l.3,.9l.3-.4l.3,.8l.4-.7l.3,1l.3-.7l.3,.9l.3-.8l.3,1l.4-.8l.3,.8l.3-.8l.3,.9l.3-.9l.3,.6l.4-.8l.3,.8l.3-.6l.3,.6l.3-.9l.3,.7l.4-.6l.3,.5l.3-.4l.3,.6l.3-.5l.3,.9l.4-1l.3,.9l.3-.5l.3,.7l.3-1l.3,.7l.4-.8l.3,.6l.3-.6l.3,1l.3-.7l.3,.7l.4-.7l.3,.9l.3-.2l.3,.8l.3-.9l.4,.9l.3-.9l.3,.2l.3-1l.3,.1l.3-1.1l.4,.1l.3-1l.3,.1l.3-1.1l.3,.4l.3-1l.4,.2l.3-.9l.3,.5l.3-1.1l.3,.8l.3-.7l.4,.4l.3-.5l.3,1l.3-.4l.3,1l.3-.3l.4-13l.3,.6l.3,2.3l.3,.8l.3,2.3l.3,.7l.4,1.3l.3,.2l.3,1.5l.3,.2l.3,1.3l.4-.2l.3,1.5l.3,0l.3,1.4l.3,.2l.3,1l.4-.3l.3,.9l.3-.5l.3,1.2l.3-.8l.3,1.2l.4-.6l.3,.7l.3-.8l.3,.8l.3-.5l.3,.5l.4-.3l.3,.9l.3-.7l.3,.9l.3-.4l.3,1l.4-.5l.3,.6l.3-.4l.3,.7l.3-.5l.3,.7l.4-.6l.3,.5l.3-.7l.3,.6l.3-.5l.3,.6l.4-1l.3,.6l.3-.9l.3,.7l.3-.7l.4,.5l.3-.4l.3,.5l.3-.5l.3,1l.3-.5l.4,.6l.3-.6l.3,.8l.3-.7l.3,.5l.3-1l.4,.6l.3-.7l.3,.3l.3-1.1l.3,.7l.3-1.2l.4,.6l.3-.9l.3,.3l.3-1.1l.3,.7l.3-.9l.4,.7l.3-1l.3,.7l.3-.7l.3,.9l.3-.9l.4,.8l.3-.5l.3,.7l.3-.9l.3,.7l.4-.9l.3,.5l.3-.6l.3,.4l.3-.8l.3,.3l.4-.6l.3,.7l.3-1l.3,.8l.3-.6l.3,.8l.4-.7l.3,.8l.3-.6l.3,.6l.3-.4l.3,.6l.4-.5l.3,.5l.3-.7l.3,.7l.3-.8l.3,.7l.4-.8l.3,.9l.3-.9l.3,.6l.3-1l.3,.9l.4-1l.3,.7l.3-.6l.3,.6l.3-.9l.3,.6l.4-.7l.3,.6l.3-.8l.3,.9l.3-.8l.4,.7l.3-.5l.3,.7l.3-.6l.3,.8l.3-.4l.4,.7l.3-.8l.3,.9l.3-.8l.3,.6l.3-.9l.4,.8l.3-.9l.3,.5l.3-.8l.3,.4l.3-14.7l.4,.8l.3-1l.3,.4l.3-.9l.3,.6l.3-.9l.4,.8l.3-.7l.3,.6l.3-.7l.3,.5l.3-.5l.4,.4l.3-.7l.3,.5l.3-1.1l.3,.4l.3-.7l.4,.3l.3-1l.3,5.5l.3-.3l.3,1l.4-.3l.3,1.2l.3-.3l.3,1.3l.3-.2l.3,1.3l.4,0l.3,1l.3-.3l.3,.8l.3-.4l.3,.8l.4-.8l.3,.9l.3-.8l.3,.6l.3-.7l.3,1l.4-.7l.3,1l.3-.5l.3,1l.3-.4l.3,.9l.4-.4l.3,.7l.3-.3l.3,.8l.3-.5l.3,1l.4-.8l.3,1l.3-.4l.3,.7l.3-.5l.4,1l.3-.7l.3,.7l.3-.3l.3,.5l.3-.6l.4,.8l.3-.7l.3,1l.3-.6l.3,.7l.3-.7l.4,.9l.3-.7l.3,.4l.3-.7l.3,.4l.3-1l.4,.7l.3-.9l.3,.2l.3-.5l.3,.3l.3-.5l.4,.8l.3-.8l.3,1l.3-.2l.3,.9l.3-.2l.4,.9l.3,0l.3,.8l.3,0l.3,1.1l.3-.6l.4,1l.3-.2l.3,.6l.3-.3l.3,.6l.4-.4l.3,.6l.3-.5l.3,.8l.3-.5l.3,.6l.4-.5l.3,1l.3-.6l.3,.8l.3-.2l.3,.6l.4-.4l.3,.8l.3-.9l.3,.7l.3-.9l.3,.5l.4-.8l.3,.7l.3-1l.3,.4l.3-.5l.3,.7l.4-.9l.3,.7l.3-.5l.3,.7l.3-.5l.3,1l.4-.5l.3,.9l.3-.6l.3,.9l.3-.5l.4,.6l.3-.6l.3,.5l.3-.7l.3,.7l.3-.8l.4,.6l.3-.9l.3,.5l.3-.8l.3,.8l.3-.6l.4,.6l.3-.7l.3,.8l.3-.4l.3,.7l.3-.2l.4,1.1l.3-.6l.3,1.2l.3-.3l.3,.9l.3-.3l.4,.8l.3-.7l.3,.8l.3-.7l.3,.7l.3-.9l.4,.7l.3-.9l.3,.6l.3-.9l.3,.4l.3-1.1l.4,.5l.3-1l.3,.6l.3-1l.3,.5l.4-1.3l.3,.5l.3-.8l.3,.3l.3-1l.3,.4l.4-1l.3,.4l.3-1.3l.3,.6l.3-1.1l.3,.7l.4-1.1l.3,.5l.3-.9l.3,.4l.3-.6l.3,.3l.4-1.1l.3,.5l.3-.7l.3,.2l.3-.9l.3,.5l.4-.9l.3,.7l.3-1l.3,.4l.3-.6l.3,.6l.4-1l.3,.8l.3-.7l.3,.8l.3-.7l.4,.7l.3-.7l.3,.6l.3-.7l.3,.8l.3-.8l.4,.6l.3-.6l.3,.6l.3-.6l.3,.6l.3-.7l.4,1l.3-.6l.3,.6l.3-.4l.3,.8l.3-.8l.4,.8l.3-.4l.3,.6l.3-.7l.3,.8l.3-.4l.4,1l.3-.5l.3,.6l.3-.3l.3,.6l.3-.6l.4,.6l.3-.9l.3,.4l.3-1.2l.3,.5l.3-1l.4,.6l.3-.9l.3,.8l.3-.7l.3,.9l.4-.8l.3,.9l.3-.2l.3,.9l.3-.3l.3,.8l.4-.5l.3,.7l.3-.5l.3,.7l.3-.7l.3,.9l.4-.8l.3,.6l.3-.5l.3,.6l.3-.8l.3,.7l.4-.6l.3,.6l.3-.7l.3,.9l.3-.6l.3,.6l.4-.5l.3,.9l.3-.5l.3,.8l.3-.5l.3,1.3l.4-.6l.3,1l.3-.4l.3,.8l.3-.2l.3,.6l.4-.7l.3,.9l.3-.7l.3,.8l.3-.6l.4,.7l.3-.9l.3,1l.3-.7l.3,.8l.3-.6l.4,.9l.3-.2l.3,.6l.3-.5l.3,.7l.3-.5l.4,.6l.3-.9l.3,.5l.3-.8l.3,.2l.3-.8l.4,.2l.3-1.2l.3,.4l.3-1l.3,.2l.3-1l.4,.6l.3-1.2l.3,.5l.3-.8l.3,.5l.3-.9l.4,.7l.3-1.1l.3,.6l.3-1.2l.3,.4l.4-1.1l.3,.4l.3-.7l.3,.3l.3-.7l.3,.4l.4-.4l.3,.7l.3-.5l.3,.8l.3-.6l.3,1.1l.4-.7l.3,.7l.3-.6l.3,.5l.3-.8l.3,.6l.4-1.1l.3,.5l.3-1.1l.3,.6l.3-1.1l.3,.5l.4-.6l.3,.6l.3-.7l.3,.6l.3-.7l.3,.9l.4-.5l.3,.6l.3-.6l.3,.8l.3-.6l.3,.6l.4-.7l.3-16.7l.3,.3l.3,1.8l.3,.1l.4,1.8l.3,.3l.3,1.6l.3,0l.3,.9l.3-.6l.4,.8l.3-.6l.3,.7l.3-.1l.3,1l.3-.6l.4,1l.3-.4l.3,1l.3-.3l.3,1.2l.3-.3l.4,.8l.3-.2l.3,1l.3-.1l.3,1l.3-.1l.4,1.1l.3-.5l.3,.9l.3-.4l.3,1.2l.3-.5l.4,.8l.3-.7l.3,1l.3-1l.3,1l.4-.8l.3,.5l.3-.7l.3,.7l.3-.9l.3,.6l.4-1l.3,.8l.3-.8l.3,.6l.3-.7l.3,.8l.4-.6l.3,.9l.3-.3l.3,1.3l.3-.5l.3,1.3l.4-.2l.3,1l.3-.2l.3,.9l.3,0l.3,1l.4-.7l.3,1l.3-.5l.3,.7l.3-.4l.3,.6l.4-.6l.3,.9l.3-.8l.3,.7l.3-.6l.3,1.1l.4-.5l.3,1.2l.3-.4l.3,1l.3-.5l.4,1.2l.3-.3l.3,1l.3-.6l.3,1l.3-.5l.4,.5l.3-.4l.3,.8l.3-.6l.3,.5l.3-.6l.4,.9l.3-.5l.3,.7l.3-.8l.3,1l.3-.6l.4,.8l.3-.7l.3,1l.3-.8l.3,.7l.3-.7l.4,.7l.3-.7l.3,.6l.3-.4l.3,.6l.3-.6l.4,.9l.3-.7l.3,.6l.3-.4l.3,.8l.4-1l.3,1l.3-.9l.3,.8l.3-.8l.3,.5l.4-.6l.3,.6l.3-.6l.3,.5l.3-.6l.3,.5l.4-.5l.3,.5l.3-.8l.3,.7l.3-.7l.3,.5l.4-1l.3,.6l.3-.8l.3,.5l.3-1.1l.3,.6l.4-.7l.3,.4l.3-.5l.3,.8l.3-.6l.3,.6l.4-.4l.3,.6l.3-.7l.3,.6l.3-.7l.3,.8l.4-.9l.3,.5l.3-1.1l.3,.4l.3-.9l.4,.5l.3-1.2l.3,.6l.3-.9l.3,.4l.3-.8l.4,.6l.3-1l.3,.7l.3-.8l.3,.6l.3-.7l.4,.8l.3-.8l.3,.8l.3-.9l.3,.5l.3-.5l.4,.8l.3-1l.3,.7l.3-.7l.3,.8l.3-.7l.4,1.2l.3-.5l.3,.9l.3-.5l.3,.9l.3-.3l.4,1l.3-.7l.3,.7l.3-.6l.3,.7l.3-.8l.4,.5l.3-1l.3,.7l.3-1l.3,.5l.4-.7l.3,.9l.3-.9l.3,.8l.3-.7l.3,.5l.4-.6l.3,.5l.3-.5l.3,.5l.3-.7l.3,.6l.4-.7l.3,.3l.3-.7l.3,.8l.3-.9l.3,.5l.4-.6l.3,.5l.3-.7l.3,.6l.3-.9l.3,.6l.4-.7l.3,.3l.3-.4l.3,.4l.3-.5l.3,.8l.4-.6l.3,1l.3-.7l.3,.9l.3-.4l.4,.7l.3-.7l.3,.8l.3-.8l.3,.5l.3-1.1l.4,.5l.3-.8l.3,.4l.3-1.1l.3,.4l.3-.6l.4,.7l.3-.8l.3,.3l.3-.7l.3,.6l.3-.7l.4,.4l.3-.8l.3,.4l.3-1l.3,.6l.3-.7l.4,.3l.3-1l.3,.5l.3-.9l.3,.5l.3-.7l.4,.3l.3-.8l.3,.4l.3-1.1l.3,.6l.3-.8l.4,.7l.3-.8l.3,.7l.3-.6l.3,.9l.4-.3l.3,.7l.3-.4l.3,.9l.3-.5l.3,.7l.4-.6l.3,.9l.3-.7l.3,1.1l.3-.6l.3,.5l.4-.7l.3,.8l.3-.4l.3,.5l.3-.5l.3,.6l.4-.6l.3,.6l.3-.7l.3,.5l.3-.6l.3,.8l.4-.6l.3,.7l.3-.7l.3,.7l.3-.5l.3,.7l.4-.8l.3,.8l.3-.6l.3,1l.3-.6l.4,.6l.3-.3l.3,.9l.3-.8l.3,1.2l.3-.6l.4,.9l.3-.4l.3,.8l.3-.4l.3,1.1l.3-.4l.4,.9l.3-.7l.3,.7l.3-.5l.3,.4l.3-.9l.4,.7l.3-1.1l.3,.5l.3-1.1l.3,.7l.3-.9l.4,.3l.3-.7l.3,.6l.3-1l.3,.7l.3-1.1l.4,.7l.3-1.2l.3,.4l.3-1.2l.3,.2l.3-.9l.4,.3l.3-1.2l.3,.5l.3-.9l.3,.6l.4-.4l.3,.7l.3-.5l.3,.7l.3-.5l.3,.7l.4-.5l.3,1l.3-.7l.3,.9l.3-.8l.3,.8l.4-.7l.3,1.1l.3-.7l.3,.9l.3-.6l.3,1l.4-.6l.3,.7l.3-.6l.3,.7l.3-.5l.3,.8l.4-.8l.3,.8l.3-.5l.3,.9l.3-.4l.3,.6l.4-.5l.3,.7l.3-.6l.3,1l.3-.9l.3,1.1l.4-.9l.3,.8l.3-.6l.3,1l.3-.5l.4,.9l.3-.7l.3,.8l.3-.6l.3,.8l.3-.6l.4,.9l.3-.7l.3,.5l.3-.9l.3,.5l.3-1l.4,.5l.3-.8l.3,.3l.3-1.1l.3,.7l.3-1l.4,.8l.3-.8l.3,.8l.3-.8l.3,1l.3-.6l.4,1.1l.3-.7l.3,1.3l.3-.7l.3,1l.3-.3l.4,.8l.3-.6l.3,1l.3-.7l.3,.8l.4-.3l.3,.5l.3-.3l.3,.6l.3-.6l.3,.7l.4-.7l.3,.6l.3-.9l.3,.6l.3-1l.3,.4l.4-.8l.3,.3l.3-.7l.3,.8l.3-.7l.3,.5l.4-.4l.3,.9l.3-.8l.3,1.1l.3-.7l.3,.9l.4-.6l.3,.8l.3-.7l.3,.5l.3-.6l.3,.6l.4-.8l.3,.7l.3-.8l.3,.7l.3-.8l.3,.8l.4-.6l.3,.4l.3-.6l.3,.6l.3-.7l.4,.6l.3-.5l.3,.6l.3-.5l.3,.8l.3-.7l.4,.5l.3-.6l.3,.7l.3-.8l.3,.5l.3-.8l.4,.7l.3-.8l.3,.2l.3-.7l.3,.5l.3-.9l.4,.5l.3-.7l.3,.7l.3-.8l.3,.8l.3-.7l.4,.9l.3-.5l.3,1.1l.3-.7l.3,1.2l.3-.5l.4,.8l.3-.5l.3,1l.3-.6l.3,.7l.4-.7l.3,.5l.3-.9l.3,.6l.3-1l.3,.7l.4-.8l.3,.5l.3-.8l.3,.8l.3-.6l.3,1.1l.4-.7l.3,1.1l.3-.6l.3,1.1l.3-.6l.3,1l.4-.8l.3,.6l.3-.9l.3,.3l.3-1l.3,.2l.4-1l.3,.1l.3-1.1l.3,.5l.3-1.1l.3,.4l.4-1l.3,.8l.3-1l.3,.7l.3-.9l.3,.9l.4-.8l.3,.8l.3-.4l.3,.6l.3-.6l.4,.9l.3-.4l.3,.6l.3-.4l.3,.9l.3-.7l.4,.7l.3-1l.3,.7l.3-.9l.3,.5l.3-.9l.4,.5l.3-.8l.3,.6l.3-.9l.3,.5l.3-.9l.4,.6l.3-.6l.3,.6l.3-.9l.3,.8l.3-.7l.4,.5l.3-.7l.3,1.2l.3-.7l.3,1.1l.3-.5l.4,1l.3-.4l.3,.9l.3-.3l.3,.8l.4-.3l.3,1l.3-.4l.3,.8l.3-.5l.3,1l.4-.4l.3,.9l.3-.4l.3,.9l.3-.8l.3,1l.4-.6l.3,1l.3-.6l.3,.6l.3-.4l.3,.7l.4-.9l.3,.7l.3-.7l.3,.5l.3-.6l.3,.5l.4-.7l.3,.5l.3-.7l.3,.9l.3-.8l.3,.6l.4-.9l.3,.9l.3-1.1l.3,.8l.3-1l.3,.7l.4-1l.3,.6l.3-.6l.3,.6l.3-.4l.4,.6l.3-.4l.3,.6l.3-.6l.3,.8l.3-.7l.4,.7l.3-.5l.3,.8l.3-.7l.3,.6l.3-.7l.4,.6l.3-.7l.3,1l.3-.6l.3,.6l.3-.6l.4,.8l.3-.5l.3,.9l.3-.8l.3,.8l.3-.6l.4,.6l.3-.9l.3,.8l.3-1.2l.3,.5l.3-.9l.4,.4l.3-1l.3,.1l.3-1l.3,.4l.3-1l.4,.5l.3-.6l.3,.7l.3-.8l.3,.8l.4-.3l.3,.6l.3-.4l.3,1.2l.3-.4l.3,.9l.4-.4l.3,1l.3-.5l.3,.7l.3-.4l.3,.6l.4-.6l.3,.9l.3-1l.3,.8l.3-.8l.3,.5l.4-.8l.3,.6l.3-.9l.3,.6l.3-1l.3,.4l.4-.8l.3,.1l.3-.8l.3,.5l.3-.9l.3,.1l.4-.8l.3,.7l.3-1.1l.3,.9l.3-.8l.4,.5l.3-.6l.3,.7l.3-.7l.3,.9l.3-.7l.4,.9l.3-.4l.3,1l.3-.4l.3,.7l.3-.5l.4,.7l.3-.5l.3,.7l.3-.8l.3,.8l.3-.6l.4,.9l.3-.5l.3,.8l.3-.6l.3,.9l.3-.2l.4,.6l.3-.5l.3,.8l.3-.7l.3,1l.3-.5l.4,.5l.3-.8l.3,.9l.3-.8l.3,.4l.3-.4l.4,.5l.3-.9l.3,.8l.3-.5l.3,.7l.4-.4l.3,.6l.3-.5l.3,1.1l.3-.7l.3,.9l.4-.5l.3,.9l.3-1l.3,.9l.3-1l.3,.6l.4-.7l.3,.4l.3-1l.3,.4l.3-1.1l.3,.6l.4-.8l.3,.7l.3-1.1l.3,.8l.3-.6l.3,.6l.4-.5l.3,.8l.3-.7l.3,.8l.3-.7l.3,.8l.4-.4l.3,.8l.3-.4l.3,.5l.3-.3l.4,.7l.3-.4l.3,.5l.3-.6l.3,1l.3-.9l.4,.9l.3-.9l.3,.4l.3-.7l.3,.4l.3-.9l.4,.6l.3-.8l.3,.5l.3-.8l.3,.5l.3-.7l.4,1.1l.3-.6l.3,.5l.3-.2l.3,.8l.3-.8l.4,.9l.3-.7l.3,.8l.3-.8l.3,.7l.3-.5l.4,.6l.3-.9l.3,.9l.3-.8l.3,1l.3-.8l.4,.7l.3-.6l.3,1l.3-.7l.3,1l.4-.8l.3,.8l.3-1l.3,.7l.3-.7l.3,.7l.4-1l.3,.7l.3-1.1l.3,.5l.3-.9l.3,.8l.4-1.1l.3,.6l.3-.8l.3,.8l.3-1l.3,.9l.4-.9l.3,.6l.3-.7l.3,.7l.3-.9l.3,.9l.4-.6l.3,.9l.3-1l.3,1.1l.3-.7l.3,.8l.4-.8l.3,1l.3-.7l.3,.6l.3-.6l.4,.8l.3-.9l.3,.8l.3-.7l.3,1.1l.3-.5l.4,.8l.3-.4l.3,1.2l.3-.4l.3,.9l.3-.4l.4,.6l.3-.6l.3,.7l.3-.8l.3,.7l.3-.6l.4,.4l.3-.7l.3,.8l.3-.8l.3,.6l.3-.5l.4,.6l.3-.6l.3,1l.3-.6l.3,.8l.3-.6l.4,.9l.3-.8l.3,.7l.3-.6l.3,.8l.3-.6l.4,.6l.3-.8l.3,.7l.3-.9l.3,.7l.4-.8l.3,.5l.3-.5l.3,.7l.3-.7l.3,.6l.4-.5l.3,.5l.3-.6l.3,1l.3-.7l.3,.7l.4-.7l.3,.9l.3-.7l.3,.6l.3-.7l.3,1l.4-.7l.3,.8l.3-.9l.3,.9l.3-.6l.3,.5l.4-.8l.3,.4l.3-.7l.3,.3l.3-.8l.3,.2l.4-.8l.3,.5l.3-1.2l.3,.6l.3-.8l.3,.6l.4-.5l.3,.9l.3-.8l.3,.9l.3-.3l.4,1l.3-.5l.3,.7l.3-.6l.3,.8l.3-.4l.4,.6l.3-.7l.3,.8l.3-.9l.3,1l.3-.9l.4,.9l.3-.8l.3,.8l.3-.7l.3,.6l.3-.6l.4,.9l.3-.7l.3,1l.3-.4l.3,.8l.3-.2l.4,.8l.3-.2l.3,1l.3-.5l.3,1.1l.3-.4l.4,.8l.3-.6l.3,.9l.3-.5l.3,1l.4-.8l.3,.8l.3-.8l.3,.6l.3-.9l.3,.7l.4-1l.3,.6l.3-.7l.3,.6l.3-.6l.3,.7l.4-.7l.3,.7l.3-.7l.3,.8l.3-.6l.3,.7l.4-.9l.3,.3l.3-.7l.3,.5l.3-.9l.3,.3l.4-.5l.3,.4l.3-.5l.3,.9l.3-.7l.3,1.2l.4-.7l.3,1.2l.3-.6l.3,.9l.3-.4l.3,.9l.4-.8l.3,.8l.3-.7l.3,.5l.3-.7l.4,.6l.3-.7l.3,.8l.3-.6l.3,.8l.3-.8l.4,.8l.3-.6l.3,.7l.3-.7l.3,.5l.3-.5l.4,.9l.3-.9l.3,.7l.3-.6l.3,.8l.3-1l.4,1l.3-.8l.3,.7l.3-.5l.3,.9l.3-.8l.4,.8l.3-1l.3,.9l.3-1l.3,.8l.3-1l.4,.7l.3-.6l.3,.7l.3-.7l.3,.5l.4-.6l.3,1.1l.3-.9l.3,1.1l.3-.6l.3,.6l.4-.6l.3,.8l.3-.6l.3,.6l.3-.9l.3,.3l.4-.8l.3,.6l.3-.8l.3,.7l.3-.6l.3,.7l.4-.6l.3,.9l.3-.5l.3,1.1l.3-.5l.3,.7l.4-.8l.3,.8l.3-.7l.3,.6l.3-.7l.3,.6l.4-.6l.3,.6l.3-.7l.3,.9l.3-.6l.3,.9l.4-.9l.3,.8l.3-.3l.3,.5l.3-.6l.4,.7l.3-.6l.3,.7l.3-.7l.3,.4l.3-.9l.4,.9l.3-.8l.3,.4l.3-.5l.3,.7l.3-1l.4,.5l.3-.8l.3,.9l.3-.9l.3,.7l.3-.5l.4,.8l.3-.8l.3,.9l.3-.6l.3,1.2l.3-.6l.4,.7l.3-.4l.3,.6l.3-.4l.3,.6l.3-1.1l.4,.8l.3-.9l.3,.8l.3-1l.3,.6l.3-.8l.4,.9l.3-.7l.3,.6l.3-.9l.3,.6l.4-.7l.3,.5l.3-.5l.3,.6l.3-.3l.3,1l.4-.7l.3,1.4l.3-.7l.3,1.1l.3-.5l.3,1.3l.4-.5l.3,.7l.3-.4l.3,.9l.3-.5l.3,.6l.4-.5l.3,.8l.3-.8l.3,.9l.3-.6l.3,.6l.4-.6l.3,.6l.3-.8l.3,.4l.3-.7l.3,.4l.4-.9l.3,.7l.3-.7l.3,.2l.3-.8l.4,.7l.3-.7l.3,.3l.3-.6l.3,.4l.3-.8l.4,.6l.3-.8l.3,.7l.3-.9l.3,.5l.3-.8l.4,.7l.3-.9l.3,.8l.3-.7l.3,.7l.3-.9l.4,.7l.3-.6l.3,.9l.3-.6l.3,.6l.3-.4l.4,.6l.3-.3l.3,.6l.3-.4l.3,.6l.3-.5l.4,.5l.3-.7l.3,.8l.3-1.1l.3,.4l.3-1.1l.4,.4l.3-1.1l.3,.2l.3-1.2l.3,0l.4-1.2l.3,.4l.3-1l.3,.2l.3-.8l.3,.2l.4-.8l.3,.7l.3-1l.3,.4l.3-.6l.3,.3l.4-.6l.3,.6l.3-.8l.3,.6l.3-.7l.3,.6l.4-.8l.3,.5l.3-1l.3,.5l.3-.6l.3,.2l.4-.7l.3,.5l.3-1.3l.3,.5l.3-1l.3,.6l.4-1l.3,.4l.3-1.1l.3,.5l.3-.8l.4,.9l.3-.8l.3,.9l.3-.5l.3,.8l.3-.4l.4,1l.3-.3l.3,.8l.3-.1l.3,.9l.3-.5l.4,1.4l.3-.7l.3,1.1l.3-.5l.3,.9l.3-.2l.4,.9l.3-.6l.3,.7l.3-.5l.3,.7l.3-.9l.4,.7l.3-.9l.3,.7l.3-1l.3,.5l.3-.8l.4,.6l.3-1l.3,.6l.3-.8l.3,.6l.3-.9l.4,.4l.3-.8l.3,.3l.3-.7l.3,.6l.4-.9l.3,.3l.3-.9l.3,.5l.3-.7l.3,.6l.4-.9l.3,.6l.3-.7l.3,1l.3-1l.3,.8l.4-.5l.3,.8l.3-.7l.3,.4l.3-.5l.3,.7l.4-.7l.3,.6l.3-.4l.3,.6l.3-.8l.3,.6l.4-.7l.3,.6l.3-.5l.3,.5l.3-1l.3,.8l.4-.9l.3,.8l.3-1.1l.3,.6l.3-.7l.4,.3l.3-.9l.3,.5l.3-.7l.3,.3l.3-.5l.4,.5l.3-.6l.3,.8l.3-.7l.3,.8l.3-.7l.4,1.2l.3-.8l.3,.8l.3-.6l.3,.6l.3-.9l.4,.8l.3-.8l.3,.5l.3-.8l.3,1l.3-.7l.4,.8l.3-.5l.3,1.4l.3-.6l.3,1l.3-.2l.4,.6l.3-.2l.3,.7l.3-.6l.3,.7l.3-.7l.4,.6l.3-.9l.3,.7l.3-1l.3,.6l.4-.5l.3,.5l.3-.5l.3,.4l.3-.6l.3,.7l.4-.8l.3,.6l.3-.4l.3,.3l.3-.6l.3,.6l.4-.7l.3,.5l.3-.8l.3,.4l.3-.5l.3,.7l.4-.6l.3,.7l.3-.6l.3,.9l.3-.7l.3,.9l.4-.4l.3,.9l.3-.5l.3,1l.3-.2l.3,.9l.4-.2l.3,.8l.3-.3l.3,.8l.3-.5l.3,1.1l.4-.6l.3,.9l.3-.6l.3,.6l.3-.5l.4,1.1l.3-.5l.3,.6l.3-.6l.3,1l.3-.4l.4,.7l.3-.7l.3,.7l.3-.5l.3,.7l.3-.5l.4,1l.3-.6l.3,.9l.3-.4l.3,1l.3-.7l.4,1.1l.3-.8l.3,.4l.3-.8l.3,.4l.3-.8l.4,.5l.3-1.2l.3,.3l.3-1.1l.3,.6l.3-.9l.4,.3l.3-1l.3,.5l.3-.9l.3,.6l.4-.9l.3,.4l.3-.9l.3,.4l.3-.6l.3,.3l.4-.6l.3,.8l.3-.7l.3,.6l.3-.5l.3,1.1l.4-.5l.3,.9l.3-.5l.3,.7l.3-.4l.3,.6l.4-.5l.3,.7l.3-.9l.3,.7l.3-.7l.3,.9l.4-.7l.3,.8l.3-.4l.3,1l.3-.5l.3,.9l.4-.5l.3,1.1l.3-.4l.3,.6l.3-.6l.3,1l.4-.9l.3,.6l.3-.7l.3,.8l.3-.6l.4,.6l.3-.3l.3,1l.3-.3l.3,.8l.3,0l.4,.9l.3-.2l.3,.9l.3-.1l.3,.7l.3-.4l.4,.8l.3-.3l.3,.7l.3-.7l.3,.8l.3-1l.4,.7l.3-1l.3,.3l.3-1l.3,.7l.3-1l.4,.3l.3-1.1l.3,.7l.3-.8l.3,.3l.3-.6l.4,.5l.3-.7l.3,.8l.3-.6l.3,.9l.4-.3l.3,1l.3-.6l.3,.8l.3-.6l.3,.7l.4-.6l.3,.2l.3-.8l.3,.5l.3-1.1l.3,.2l.4-1l.3,.6l.3-1.1l.3,.6l.3-.9l.3,.9l.4-.8l.3,.5l.3-.6l.3,.5l.3-.7l.3,.4l.4-.6l.3,.2l.3-.9l.3,.5l.3-1l.3,.4l.4-.7l.3,.8l.3-.9l.3,.9l.3-.6l.3,.6l.4-.5l.3,.8l.3-.9l.3,.7l.3-.7l.4,.2l.3-1l.3,.4l.3-.9l.3,.4l.3-1.3l.4,.5l.3-1.2l.3,.7l.3-1.1l.3,.4l.3-.6l.4,.7l.3-.9l.3,.5l.3-.5l.3,.5l.3-.7l.4,.6l.3-.7l.3,.4l.3-.6l.3,.5l.3-.7l.4,.7l.3-.2l.3,.6l.3-.4l.3,1l.3-.2l.4,1.1l.3-.3l.3,1l.3-.3l.3,.8l.4-.4l.3,.9l.3-.7l.3,.5l.3-.6l.3,.7l.4-.8l.3,.7l.3-.5l.3,.6l.3-.6l.3,.7l.4-.8l.3,1l.3-.6l.3,.9l.3-.6l.3,.9l.4-.9l.3,1l.3-.6l.3,.8l.3-.5l.3,.9l.4-.7l.3,.8l.3-.7l.3,.9l.3-.9l.3,.6l.4-.5l.3,.6l.3-.9l.3,.8l.3-.7l.3,.6l.4-.7l.3,.9l.3-.7l.3,.7l.3-.6l.4,.8l.3-.6l.3,.8l.3-.6l.3,.5l.3-.5l.4,.7l.3-.8l.3,1.1l.3-.6l.3,.7l.3-.4l.4,.7l.3-.3l.3,.6l.3-.5l.3,.9l.3-.8l.4,.8l.3-.7l.3,.6l.3-.8l.3,.7l.3-.9l.4,.2l.3-.9l.3,.2l.3-1l.3,.4l.3-1.3l.4,.6l.3-.8l.3,.5l.3-1l.3,.9l.3-.9l.4,1l.3-.5l.3,.6l.3-.5l.3,.8l.4-.6l.3,.7l.3-.8l.3,.6l.3-.7l.3,.6l.4-1l.3,.7l.3-1l.3,.7l.3-.9l.3,.6l.4-.7l.3,.7l.3-.6l.3,.4l.3-.5l.3,.8l.4-.6l.3,.9l.3-.6l.3,.5l.3-.6l.3,.9l.4-.7l.3,.6l.3-.8l.3,.7l.3-.9l.3,.3l.4-.8l.3,.5l.3-.8l.3,.4l.3-1.1l.4,.5l.3-.6l.3,.3l.3-.8l.3,.9l.3-1l.4,1l.3-.7l.3,.7l.3-.5l.3,.7l.3-.5l.4,.9l.3-.8l.3,.7l.3-.5l.3,.8l.3-.7l.4,.9l.3-.9l.3,.7l.3-.7l.3,.6l.3-1l.4,.7l.3-1.1l.3,.7l.3-1l.3,.6l.3-1l.4,.5l.3-.6l.3,.5l.3-.8l.3,.7l.3-.5l.4,.8l.3-1l.3,.8l.3-.9l.3,.5l.4-.7l.3,.2l.3-.6l.3,.7l.3-1.1l.3,.7l.4-.6l.3,.4l.3-.5l.3,.5l.3-.6l.3,.5l.4-.8l.3,.4l.3-.9l.3,.8l.3-1.1l.3,.3l.4-.8l.3,.4l.3-1.2l.3,.6l.3-1.1l.3,.5l.4-1.2l.3,.5l.3-.9l.3,.4l.3-.6l.3,.5l.4-.6l.3,.8l.3-.6l.3,1.2l.3-.1l.4,.9l.3-.1l.3,1.3l.3-.4l.3,1.3l.3,.1l.4,1l.3-.1l.3,1.2l.3,0l.3,1.3l.3-.3l.4,.9l.3-.3l.3,1.2l.3-.3l.3,.7l.3-.4l.4,.7l.3-.3l.3,.8l.3-.6l.3,1l.3-.6l.4,.7l.3-.5l.3,.6l.3-.5l.3,.4l.3-.7l.4,.8l.3-.8l.3,.5l.3-.9l.3,.6l.3-.4l.4,.8l.3-.5l.3,.9l.3-.6l.3,1.2l.4-.4l.3,1l.3,0l.3,1.1l.3-.3l.3,1.1l.4-.1l.3,.9l.3-.5l.3,1.2l.3-.3l.3,.8l.4-.5l.3,1.1l.3-1l.3,.9l.3-.9l.3,.8l.4-.9l.3,.9l.3-1l.3,.7l.3-.5l.3,.7l.4-1l.3,.8l.3-.5l.3,.6l.3-.7l.3,.9l.4-.9l.3,1l.3-.7l.3,.3l.3-.6l.4,.6l.3-.9l.3,.8l.3-.7l.3,.6l.3-1.1l.4,.7l.3-1l.3,.6l.3-.8l.3,.8l.3-1l.4,.9l.3-.7l.3,.7l.3-.6l.3,.7l.3-.6l.4,.6l.3-.9l.3,.6l.3-1l.3,.5l.3-1l.4,.7l.3-.9l.3,.4l.3-.6l.3,.6l.3-.8l.4,.7l.3-1l.3,.8l.3-1.1l.3,.5l.3-.9l.4,.4l.3-1.3l.3,.4l.3-1.5l.3,.4l.4-1.2l.3,.2l.3-1.3l.3,.4l.3-1l.3,.6l.4-.8l.3,.7l.3-1l.3,.8l.3-.6l.3,.8l.4-1l.3,.6l.3-.6l.3,.4l.3-.8l.3,.3l.4-1l.3,.7l.3-1l.3,.7l.3-.9l.3,.8l.4-.7l.3,.7l.3-.8l.3,.3l.3-.6l.3,.3l.4-.8l.3,.3l.3-1l.3,.4l.3-.6l.3,.5l.4-.8l.3,.6l.3-.4l.3,.6l.3-.6l.4,1l.3-.8l.3,.6l.3-.5l.3,.7l.3-.8l.4,.7l.3-.9l.3,.7l.3-.7l.3,.7l.3-.9l.4,.8l.3-.6l.3,.3l.3-.6l.3,.9l.3-.9l.4,.8l.3-.5l.3,.6l.3-.6l.3,.6l.3-.7l.4,1.1l.3-.6l.3,.8l.3-.7l.3,.9l.3-.3l.4,1l.3-.6l.3,1.1l.3-.6l.3,.7l.4-.5l.3,1l.3-.7l.3,.8l.3-.7l.3,.7l.4-.9l.3,.9l.3-.7l.3,.7l.3-.6l.3,.8l.4-.8l.3,1.1l.3-.7l.3,.7l.3-.5l.3,.9l.4-.6l.3,.8l.3-.4l.3,.7l.3-.5l.3,1l.4-.6l.3,1.1l.3-.9l.3,.7l.3-.8l.3,.6l.4-1.2l.3,.5l.3-1.2l.3,.3l.3-1.2l.3,.1l.4-1.2l.3-6.1l.3,0l.3,1.3l.3,.4l.4,.4l.3-1l.3,.3l.3-.7l.3,.9l.3-.5l.4,1l.3-.5l.3,1l.3-.3l.3,.9l.3-.3l.4,1l.3-.7l.3,.7l.3-.4l.3,.9l.3-.6l.4,.7l.3-.6l.3,1l.3-.5l.3,1l.3-.1l.4,.9l.3-.1l.3,.8l.3-.1l.3,.7l.3-.4l.4,1l.3-.8l.3,.6l.3-.9l.3,.5l.4-.9l.3,.5l.3-.9l.3,.5l.3-.8l.3,.5l.4-.7l.3,.7l.3-.6l.3,1l.3-.5l.3,.9l.4-.1l.3,.8l.3-.4l.3,1l.3-.4l.3,.6l.4-.5l.3,1l.3-.7l.3,.6l.3-1l.3,.6l.4-.9l.3,.7l.3-1l.3,.7l.3-.6l.3,.4l.4-.3l.3,.6l.3-.6l.3,1.2l.3-.3l.3,1l.4-.5l.3,1.2l.3-.5l.3,1l.3-.4l.4,1l.3-.5l.3,.6l.3-.5l.3,.6l.3-.4l.4,.6l.3-.5l.3,.6l.3-.7l.3,.6l.3-.6l.4,.6l.3-.5l.3,.6l.3-1l.3,.5l.3-.6l.4,.6l.3-.8l.3,.6l.3-1l.3,.9l.3-.6l.4,.9l.3-.7l.3-2.9l.3-47l.3-11.1l.3-2.3l.4-1l.3-.2l.3,1l.3,.6l.3,1.6l.4,.5l.3,1.9l.3,.4l.3,2.1l.3,.4l.3,1.7l.4,.3l.3,1.6l.3,.2l.3,1.1l.3-.5l.3,.8l.4-.3l.3,.9l.3-.4l.3,.7l.3-.5l.3,.8l.4-.7l.3,.9l.3-.6l.3,1l.3-.4l.3,.9l.4-.5l.3,1.1l.3-.3l.3,.9l.3-.4l.3,1.1l.4-.2l.3,1.1l.3-.6l.3,1.1l.3-.6l.3,1l.4-.1l.3,.8l.3-.5l.3,1.3l.3-.5l.4,1.3l.3-.1l.3,1l.3-.1l.3,1.5l.3-.4l.4,1.5l.3-.1l.3,1.2l.3-.3l.3,1.3l.3,0l.4,1l.3,0l.3,1.1l.3-.6l.3,1.3l.3-.5l.4,1l.3-.4l.3,1.2l.3-.4l.3,.9l.3-.2l.4,1.1l.3-.3l.3,1l.3-.2l.3,1.1l.3-.4l.4,1.3l.3-.7l.3,1l.3-.6l.3,.8l.3-.7l.4,.8l.3-.6l.3,1l.3-.7l.3,.8l.4-.5l.3,.7l.3-.7l.3,1l.3-.6l.3,.7l.4-.6l.3,.9l.3-.5l.3,.9l.3-.6l.3,1l.4-.6l.3,.8l.3-.3l.3,.8l.3-.7l.3,1.2l.4-.5l.3,1.2l.3-.1l.3,1.2l.3-.2l.3,1.1l.4,0l.3,1.1l.3,.1l.3,.9l.3,.1l.3,.8l.4-.5l.3,1l.3-.7l.3,1l.3-.8l.4,1l.3-.6l.3,.8l.3-.4l.3,.9l.3-.6l.4,.8l.3-.9l.3,.6l.3-.4l.3,.5l.3-.7l.4,.8l.3-.8l.3,.8l.3-.8l.3,.7l.3-.5l.4,.5l.3-.7l.3,.7l.3-.8l.3,.6l.3-.6l.4,1.2l.3-.8l.3,.9l.3-.5l.3,.9l.3-.2l.4,.9l.3-.4l.3,.8l.3-.3l.3,.8l.3-.3l.4,1.1l.3-.7l.3,1.2l.3-.6l.3,1.3l.4-.6l.3,1.3l.3-.6l.3,.8l.3-.4l.3,.7l.4-.4l.3,.6l.3-.5l.3,.4l.3-.6l.3,.7l.4-.8l.3,.9l.3-.6l.3,.6l.3-.3l.3,.7l.4-.6l.3,1.1l.3-.3l.3,.9l.3-.6l.3,1.1l.4-.3l.3,1l.3-.3l.3,1l.3-.4l.3,.8l.4-.8l.3,.5l.3-.7l.3,.6l.3-.8l.4,.4l.3-.9l.3,.4l.3-.7l.3,.4l.3-.7l.4,.6l.3-.8l.3,.5l.3-.5l.3,.7l.3-1l.4,1l.3-.8l.3,.8l.3-.7l.3,1.1l.3-.9l.4,1l.3-.6l.3,.9l.3-40.9l.3,1.4l.3,0l.4,1.9l.3,.9l.3,2l.3,.8l.3,2l.3,.9l.4,2.1l.3,.6l.3,2.2l.3,.6l.3,1.9l.3,.7l.4,2l.3,.6l.3,2.1l.3-.5l.3,.7l.4-.5l.3,1l.3-.6l.3,.9l.3-.5l.3,.7l.4-.3l.3,.6l.3-.6l.3,1l.3-.7l.3,.5l.4-.5l.3,.9l.3-.7l.3,.8l.3-.6l.3,.7l.4-.5l.3,.9l.3-.4l.3,1.1l.3-.6l.3,1.1l.4-.4l.3,1l.3-.3l.3,1.1l.3-.4l.3,1.2l.4-.1l.3,1.1l.3-.5l.3,1.1l.3-.1l.3,1.2l.4-.4l.3,1.1l.3,0l.3,1.1l.3-.2l.4,1.1l.3-.6l.3,1.2l.3-.5l.3,.9l.3-.2l.4,1l.3-.4l.3,1l.3-.4l.3,.9l.3-.4l.4,.6l.3-.5l.3,.6l.3-.7l.3,.9l.3-.5l.4,.6l.3-.5l.3,.7l.3-.5l.3,.8l.3-.7l.4,.9l.3-.7l.3,.8l.3-.5l.3,.9l.3-.6l.4,.8l.3-.4l.3,.8l.3-.4l.3,.9l.4-.5l.3,1.1l.3-.9l.3,.9l.3-1l.3,.8l.4-.8l.3,.3l.3-.9l.3,.4l.3-.6l.3,.4l.4-.7l.3,.9l.3-.4l.3,1l.3-.5l.3,1l.4-.6l.3,1.1l.3-.6l.3,1.2l.3-.7l.3,1.1l.4-.4l.3,.7l.3-.6l.3,1l.3-.4l.3,.6l.4-.6l.3,.8l.3-.6l.3,.7l.3-.6l.3,.8l.4-.5l.3,.8l.3-.6l.3,.8l.3-.6l.4,.8l.3-.4l.3,.6l.3-.6l.3,.8l.3-.8l.4,.5l.3-.7l.3,.5l.3-.9l.3,.5l.3-.7l.4,.6l.3-.9l.3,.7l.3-.4l.3,.7l.3-.5l.4,.8l.3-.3l.3,.8l.3-.7l.3,1l.3-.5l.4,1.1l.3-.3l.3,.6l.3-.3l.3,1l.3-.6l.4,.8l.3-.4l.3,.6l.3-.6l.3,.9l.4-.7l.3,.8l.3-.7l.3,.9l.3-.8l.3,.8l.4-.9l.3,.6l.3-.7l.3,.9l.3-1.2l.3,.8l.4-.8l.3,.6l.3-.6l.3,.4l.3-.7l.3,.5l.4-.6l.3,.7l.3-.9l.3,.4l.3-.4l.3,.4l.4-.5l.3,.5l.3-.5l.3,.6l.3-.4l.3,.8l.4-.7l.3,.8l.3-.4l.3,1.1l.3-.6l.3,1.1l.4-.6l.3,.7l.3-.4l.3,.8l.3-.5l.4,.7l.3-.5l.3,.6l.3-.6l.3,.6l.3-.8l.4,.8l.3-.8l.3,.6l.3-.6l.3,.3l.3-.6l.4,.7l.3-.7l.3,.6l.3-.7l.3,.8l.3-.7l.4,.5l.3-.6l.3,.4l.3-.4l.3,.3l.3-.7l.4,.5l.3-.7l.3,.6l.3-1l.3,.8l.3-.7l.4,.8l.3-.7l.3,.8l.3-.7l.3,.7l.4-.4l.3,.7l.3-.5l.3,.8l.3-.3l.3,.9l.4-.7l.3,1l.3-.4l.3,1.1l.3-.6l.3,.9l.4-.7l.3,.8l.3-.6l.3,.8l.3-.5l.3,.6l.4-.7l.3,.6l.3-.9l.3,.9l.3-.9l.3,.8l.4-1l.3,.9l.3-.9l.3,.6l.3-.6l.3,1l.4-.8l.3,.8l.3-.4l.3,.7l.3-.5l.3,.8l.4-.7l.3,.9l.3-.9l.3,.7l.3-.5l.4,.6l.3-.8l.3,.6l.3-.9l.3,.7l.3-.6l.4,.8l.3-.8l.3,.6"/>
<path stroke="#FFFF00" stroke-dasharray="21,20.1" stroke-dashoffset="0.0" d="M208,870.2l.3,.4l.3,.2l.4,.6l.3,.4l.3,.6l.3,.3l.3,.7l.3,.4l.4,.7l.3,.4l.3,.7l.3,.3l.3,.7l.3,.4l.4,.7l.3,.3l.3,.7l.3,.4l.3,.7l.3,.4l.4,.7l.3,.3l.3,.8l.3,.3l.3,.7l.3,.3l.4,.7l.3,.3l.3,.6l.3,.4l.3,.7l.3,.3l.4,.7l.3,.4l.3,.7l.3,.3l.3,.8l.3,.4l.4,.6l.3,.4l.3,.7l.3,.3l.3,.7l.4,.2l.3,.7l.3,.3l.3,.7l.3,.3l.3,.7l.4,.3l.3,.8l.3,.3l.3,.7l.3,.4l.3,.7l.4,.3l.3,.7l.3,.2l.3,.7l.3,.3l.3,.7l.4,.2l.3,.7l.3,.3l.3,.6l.3,.4l.3,.7l.4,.3l.3,.8l.3,.4l.3,.7l.3,.4l.3,.7l.4,.3l.3,.8l.3,.4l.3,.7l.3,.3l.4,.8l.3,.3l.3,.7l.3,.4l.3,.7l.3,.5l.4,.7l.3,.3l.3,.8l.3,.3l.3,.7l.3,.3l.4,.6l.3,.3l.3,.6l.3,.3l.3,.5l.3,.2l.4,.7l.3,.3l.3,.6l.3,.3l.3,.7l.3,.4l.4,.7l.3,.4l.3,.7l.3,.4l.3,.7l.3,.3l.4,.7l.3,.3l.3,.8l.3,.3l.3,.8l.3,.3l.4,.8l.3,.4l.3,.7l.3,.4l.3,.7l.4,.4l.3,.6l.3,.5l.3,.6l.3,.3l.3,.7l.4,.4l.3,.6l.3,.3l.3,.6l.3,.4l.3,.6l.4,.4l.3,.6l.3,.3l.3,.7l.3,.4l.3,.7l.4,.3l.3,.7l.3,.3l.3,.7l.3,.3l.3,.7l.4,.4l.3,.8l.3,.4l.3,.8l.3,.3l.3,.9l.4,.4l.3,.8l.3,.4l.3,.6l.3,.4l.4,.7l.3,.3l.3,.7l.3,.3l.3,.6l.3,.4l.4,.7l.3,.3l.3,.8l.3,.4l.3,.7l.3,.5l.4,.8l.3,.3l.3,.8l.3,.5l.3,.7l.3,.4l.4,.8l.3,.5l.3,.8l.3,.4l.3,.7l.3,.3l.4,.7l.3,.3l.3,.7l.3,.3l.3,.6l.3,.3l.4,.7l.3,.4l.3,.6l.3,.4l.3,.8l.3,.5l.4,.8l.3,.5l.3,.8l.3,.5l.3,.8l.4,.4l.3,.8l.3,.3l.3,.8l.3,.3l.3,.8l.4,.3l.3,.7l.3,.3l.3,.7l.3,.3l.3,.7l.4,.2l.3,.7l.3,.3l.3,.7l.3,.3l.3,.7l.4,.3l.3,.7l.3,.3l.3,.6l.3,.2l.3,.6l.4,.3l.3,.6l.3,.2l.3,.6l.3,.3l.3,.6l.4,.3l.3,.7l.3,.2l.3,.8l.3,.3l.4,.6l.3,.3l.3,.7l.3,.2l.3,.7l.3,.3l.4,.6l.3,.2l.3,.7l.3,.2l.3,.7l.3,.2l.4,.8l.3,.2l.3,.7l.3,.2l.3,.8l.3,.1l.4,.6l.3,.4l.3,.6l.3,.2l.3,.6l.3,.2l.4,.7l.3,.2l.3,.6l.3,.2l.3,.7l.3,.1l.4,.7l.3,.1l.3,.7l.3,.2l.3,.7l.3,.1l.4,.7l.3,.3l.3,.7l.3,.2l.3,.7l.4,.2l.3,.9l.3,.2l.3,.8l.3,.3l.3,.8l.4,.3l.3,.9l.3,.2l.3,.8l.3,.4l.3,.7l.4,.2l.3,.7l.3,.2l.3,.6l.3,0l.3,.8l.4-.1l.3,.6l.3,0l.3,.4l.3,0l.3,.6l.4,0l.3,.7l.3-.1l.3,.7l.3,.1l.3,.7l.4,.3l.3,.7l.3,0l.3,.9l.3,.1l.3,.9l.4,.1l.3,.7l.3,.1l.3,.8l.3,0l.4,.9l.3,0l.3,.8l.3,.1l.3,.8l.3,.1l.4,.8l.3,0l.3,1l.3-.1l.3,.8l.3,0l.4,.8l.3-.2l.3,.9l.3-.1l.3,.7l.3-.2l.4,.5l.3,0l.3,.5l.3-.3l.3,.8l.3-.5l.4,.6l.3-.5l.3,.7l.3-.3l.3,.4l.3-.3l.4,.7l.3-.3l.3,.8l.3-.3l.3,.8l.4-.2l.3,.8l.3-.2l.3,1l.3-.2l.3,.8l.4-.1l.3,1l.3-.2l.3,.8l.3-.1l.3,.9l.4-.2l.3,.8l.3-.2l.3,.6l.3-.3l.3,.8l.4-.2l.3,.5l.3-.2l.3,.9l.3-.2l.3,.9l.4-.5l.3,.8l.3,0l.3,.7l.3-.5l.3,.8l.4-.4l.3,.9l.3-.5l.3,.5l.3-.3l.3,.4l.4-.4l.3,.6l.3-.5l.3,.8l.3-.3l.4,.6l.3-.6l.3,.8l.3-.4l.3,.8l.3-.4l.4,.7l.3-.2l.3,.8l.3-.3l.3,.7l.3-.3l.4,.7l.3-.3l.3,.6l.3-.2l.3,.7l.3-.1l.4,.7l.3-.6l.3,.9l.3-.6l.3,.9l.3-.7l.4,.9l.3-.7l.3,.9l.3-.8l.3,.7l.3-.7l.4,.8l.3-.6l.3,.5l.3-.7l.3,.4l.4-.4l.3,.2l.3-.7l.3,.5l.3-.6l.3,.4l.4-.7l.3,.8l.3-.8l.3,.7l.3-.8l.3,.6l.4-.8l.3,.8l.3-1l.3,.7l.3-.6l.3,.5l.4-.3l.3,.9l.3-.6l.3,1l.3-.1l.3,.8l.4-.3l.3,1.3l.3-.3l.3,1l.3-.6l.3,1l.4-.6l.3,.7l.3-.7l.3,.5l.3-.9l.3,.5l.4-1l.3,.7l.3-.9l.3,.6l.3-.7l.4,.5l.3-.8l.3,1l.3-.7l.3,.9l.3-.6l.4,.9l.3-.5l.3,1l.3-.4l.3,1l.3-.8l.4,.9l.3-.6l.3,.6l.3-.6l.3,.7l.3-.6l.4,.5l.3-.8l.3,.7l.3-.8l.3,.6l.3-.9l.4,.5l.3-.5l.3,.4l.3-.5l.3,.6l.3-.8l.4,.8l.3-.4l.3,.7l.3-.4l.3,.9l.3-.7l.4,1l.3-.4l.3,.8l.3-.5l.3,.8l.4-.4l.3,.8l.3-.7l.3,.6l.3-.6l.3,.5l.4-.5l.3,.5l.3-.8l.3,.5l.3-.9l.3,.6l.4-.6l.3,.7l.3-.8l.3,.7l.3-.4l.3,.8l.4-.7l.3,1l.3-.4l.3,.7l.3-.5l.3,.9l.4-.6l.3,1l.3-.6l.3,.8l.3-.4l.3,.9l.4-.6l.3,.8l.3-12.9l.3,1.2l.3-.7l.4,.9l.3-.7l.3,.9l.3-.5l.3,.8l.3-.6l.4,.6l.3-.8l.3,.8l.3-.5l.3,.6l.3-.5l.4,.5l.3-.7l.3,1.1l.3-.5l.3,.6l.3-.3l.4,.5l.3-.6l.3,1.1l.3-.9l.3,.7l.3-.5l.4,.8l.3-.5l.3,.6l.3-.8l.3,.8l.3-.7l.4,.8l.3-.4l.3,1l.3-.6l.3,1.3l.3-.2l.4,1.3l.3-.2l.3,1.3l.3-.1l.3,1.2l.4-.3l.3,1.5l.3-.5l.3,1.1l.3-.4l.3,1.3l.4-.7l.3,.9l.3-.3l.3,.7l.3-.7l.3,1l.4-.8l.3,.6l.3-.5l.3,.6l.3-1l.3,.8l.4-1l.3,.7l.3-.7l.3,.4l.3-.7l.3,.5l.4-.8l.3,.8l.3-.7l.3,.9l.3-.6l.3,.8l.4-.5l.3,.8l.3-.5l.3,.8l.3-.4l.4,.7l.3-.6l.3,1.1l.3-.5l.3,.7l.3-.5l.4,.7l.3-.7l.3,.7l.3-.7l.3,.9l.3-.8l.4,.5l.3-.7l.3,.8l.3-.8l.3,.3l.3-.5l.4,.5l.3-.7l.3,.7l.3-.6l.3,.7l.3-.8l.4,.7l.3-.4l.3,.6l.3-.6l.3,.6l.3-.9l.4,.7l.3-.7l.3,.7l.3-.8l.3,.5l.3-.8l.4,.6l.3-.6l.3,.8l.3-.5l.3,.8l.4-.3l.3,1.1l.3-.6l.3,1.1l.3-.5l.3,1.1l.4-.6l.3,.7l.3-.7l.3,.8l.3-.8l.3,.6l.4-1l.3,.2l.3-.6l.3,.1l.3-.9l.3,.6l.4-.6l.3,.5l.3-.7l.3,.6l.3-.8l.3,1l.4-.8l.3,.5l.3-.6l.3,.8l.3-.8l.3,.7l.4-1.1l.3,.8l.3-.9l.3,.9l.3-.7l.4,.9l.3-.7l.3,1l.3-.6l.3,.8l.3-.3l.4,1l.3-.7l.3,.8l.3-.7l.3,.9l.3-.9l.4,.4l.3-.9l.3,.6l.3-.8l.3,.4l.3-.9l.4,.5l.3-.9l.3,.7l.3-.8l.3,.7l.3-.7l.4,.6l.3-.5l.3,.5l.3-.5l.3,.6l.3-1l.4,.9l.3-.9l.3,.9l.3-.9l.3,.7l.3-.9l.4,.7l.3-.7l.3,.8l.3-.8l.3,.5l.4-.6l.3,.6l.3-.5l.3,.7l.3-.8l.3,.9l.4-.9l.3,.7l.3-.5l.3,1.1l.3-.7l.3,.6l.4-.5l.3,.9l.3-.7l.3,.9l.3-.8l.3,1l.4-.7l.3,.8l.3-.9l.3,.9l.3-.7l.3,.6l.4-.6l.3,.9l.3-.5l.3,.7l.3-.6l.3,.7l.4-.6l.3,1l.3-.8l.3,1.1l.3-.6l.3,.6l.4-.6l.3,1l.3-.7l.3,.7l.3-.7l.4,.6l.3-.7l.3,.8l.3-.7l.3,.7l.3-1l.4,.6l.3-.8l.3,.6l.3-.8l.3,.7l.3-.8l.4,.6l.3-.9l.3,.4l.3-.7l.3,.4l.3-.9l.4,.8l.3-1.2l.3,.4l.3-1.1l.3,.3l.3-.9l.4,0l.3-1l.3,.3l.3-.7l.3,.5l.3-.7l.4,.5l.3-.5l.3,1l.3-.5l.3,.9l.4-.4l.3,.9l.3-.8l.3,.8l.3-.6l.3,.9l.4-.7l.3,.8l.3-.5l.3,.7l.3-.5l.3,1.1l.4-.3l.3,.7l.3-.2l.3,.8l.3-.4l.3,1l.4-.3l.3,1.3l.3-.7l.3,1l.3-.4l.3,1l.4-.4l.3,1l.3-.8l.3,.9l.3-.4l.3,.6l.4-.4l.3,.5l.3-.7l.3,.8l.3-.7l.3,.3l.4-.6l.3,.5l.3-1.1l.3,.8l.3-1.1l.4,.7l.3-.9l.3,.3l.3-1l.3,.7l.3-.6l.4,.7l.3-.6l.3,.9l.3-.3l.3,1l.3-.1l.4,1l.3,0l.3,1.2l.3-.5l.3,.9l.3-.4l.4,1l.3-.7l.3,.9l.3-.8l.3,.9l.3-.4l.4,.9l.3-.4l.3,.9l.3-.5l.3,1.2l.3-.4l.4,1l.3-.3l.3,.8l.3-.3l.3,.8l.4-.8l.3,.4l.3-.8l.3,.3l.3-.8l.3,.3l.4-.8l.3,.5l.3-1.1l.3,.5l.3-.8l.3,.4l.4-.6l.3,.4l.3-.8l.3,.5l.3-.6l.3,.3l.4-.9l.3,.5l.3-1l.3,.2l.3-.7l.3,.3l.4-.8l.3,.4l.3-.8l.3,.5l.3-.5l.3,.7l.4-1.1l.3,.7l.3-.7l.3,.9l.3-.8l.3,.6l.4-1l.3,.5l.3-.8l.3,.2l.3-1.2l.4,.5l.3-1.1l.3,.7l.3-1l.3,.4l.3-.8l.4,.4l.3-.8l.3,1l.3-.9l.3,.9l.3-.4l.4,.7l.3-.6l.3,.8l.3-.9l.3,.8l.3-.9l.4,.8l.3-.9l.3,.5l.3-1.1l.3,.6l.3-1.1l.4,.5l.3-.9l.3,.6l.3-1.1l.3,.7l.3-.9l.4,.6l.3-.9l.3,.6l.3-.9l.3,.8l.4-.8l.3,.3l.3-.7l.3,.8l.3-1l.3,.5l.4-.5l.3,.6l.3-.6l.3,.5l.3-.6l.3,.8l.4-.6l.3,.4l.3-.6l.3,.9l.3-.5l.3,.7l.4-.7l.3,.7l.3-.8l.3,.6l.3-.8l.3,.8l.4-.8l.3,.9l.3-.8l.3,.6l.3-.9l.3,.7l.4-.8l.3,.6l.3-.5l.3,.4l.3-.5l.3,.5l.4-.8l.3,.5l.3-.9l.3,.7l.3-.7l.4,.4l.3-.7l.3,.4l.3-.6l.3,.4l.3-.8l.4,.8l.3-.7l.3,.8l.3-.9l.3,.8l.3-.8l.4,.9l.3-.6l.3,.8l.3-.9l.3,.9l.3-.8l.4,.8l.3-.7l.3,1.2l.3-.9l.3,1l.3-.5l.4,1.1l.3-.2l.3,.7l.3-.4l.3,1.2l.3-.5l.4,1l.3-.4l.3,.9l.3-.4l.3,.8l.3-.7l.4,1l.3-.9l.3,.7l.3-.8l.3,.7l.4-.6l.3,.6l.3-.7l.3,1l.3-.5l.3,.7l.4-.4l.3,1l.3-.6l.3,1l.3-.5l.3,.6l.4-.7l.3,.8l.3-1.1l.3,.4l.3-.9l.3,.7l.4-1.2l.3,.5l.3-.6l.3,.5l.3-.7l.3,1l.4-.5l.3,1l.3-.6l.3,1.1l.3-.2l.3,.7l.4-.3l.3,.8l.3-.6l.3,.7l.3-.9l.4,.9l.3-.8l.3,1l.3-.6l.3,.9l.3-.8l.4,1.2l.3-.6l.3,.9l.3-.3l.3,.9l.3-.5l.4,.7l.3-.5l.3,.6l.3-.5l.3,.6l.3-1l.4,.6l.3-1l.3,.4l.3-.9l.3,.2l.3-.8l.4,.4l.3-1.2l.3,.7l.3-1.1l.3,.6l.3-.9l.4,.8l.3-1.1l.3,.6l.3-.6l.3,.6l.3-1l.4,.7l.3-1.2l.3,.7l.3-.8l.3,.3l.4-.7l.3,.4l.3-.9l.3,.6l.3-.7l.3,.7l.4-.6l.3,.5l.3-.5l.3,.7l.3-.7l.3,.9l.4-.7l.3,1l.3-.5l.3,.5l.3-.5l.3,.6l.4-.6l.3,.8l.3-.9l.3,.8l.3-.8l.3,.6l.4-.5l.3,.5l.3-.3l.3,.7l.3-.4l.3,.7l.4-.4l.3,.7l.3-.7l.3,.7l.3-1l.4,.5l.3-1.1l.3,.3l.3-1.2l.3,.6l.3-.9l.4,.5l.3-.8l.3,.4l.3-.7l.3,.8l.3-.5l.4,.9l.3-.8l.3,1l.3-.5l.3,1.1l.3-.7l.4,1l.3-.5l.3,.7l.3-.2l.3,.8l.3-.7l.4,.8l.3-.7l.3,.6l.3-.8l.3,.5l.3-.9l.4,.6l.3-.9l.3,.5l.3-.6l.3,.3l.3-.6l.4,.5l.3-.6l.3,.5l.3-.5l.3,.7l.4-.5l.3,1.1l.3-.9l.3,1l.3-.8l.3,.7l.4-.8l.3,.7l.3-.6l.3,.8l.3-.6l.3,.6l.4-.6l.3,1l.3-.6l.3,.9l.3-.3l.3,.7l.4-.4l.3,1l.3-.4l.3,.9l.3-.6l.3,.7l.4-.5l.3,.7l.3-.8l.3,.7l.3-.9l.3,.6l.4-1.1l.3,.7l.3-.8l.3,.5l.3-.6l.4,.6l.3-.8l.3,.6l.3-.8l.3,.5l.3-.9l.4,.5l.3-1.1l.3,.5l.3-.9l.3,.2l.3-.8l.4,.8l.3-.9l.3,1.1l.3-.7l.3,1l.3-.4l.4,.8l.3-.1l.3,.6l.3-.4l.3,.7l.3-.7l.4,.7l.3-.7l.3,.9l.3-.9l.3,.8l.3-.6l.4,.8l.3-.4l.3,1.1l.3-.5l.3,1.2l.3-.2l.4,.9l.3-.1l.3,.9l.3,0l.3,.8l.4-.4l.3,.7l.3-.6l.3,.7l.3-.8l.3,.8l.4-.7l.3,.4l.3-.7l.3,.5l.3-.8l.3,.4l.4-.7l.3,.8l.3-.7l.3,.6l.3-1l.3,.9l.4-.9l.3,.5l.3-.6l.3,.7l.3-1l.3,.8l.4-.7l.3,.7l.3-1l.3,.9l.3-.9l.3,.6l.4-.5l.3,.4l.3-1l.3,.8l.3-.8l.3,.5l.4-.8l.3,.9l.3-.7l.3,1l.3-.5l.4,1l.3-.4l.3,1.2l.3-.6l.3,1l.3-.2l.4,.8l.3-.4l.3,.8l.3-.8l.3,.8l.3-.8l.4,.4l.3-1l.3,.5l.3-1l.3,.7l.3-.8l.4,.6l.3-.6l.3,.8l.3-.6l.3,.6l.3-.5l.4,.9l.3-.5l.3,.9l.3-.8l.3,.9l.3-.6l.4,.6l.3-.6l.3,.7l.3-.7l.3,.5l.4-.6l.3,.6l.3-.8l.3,.8l.3-.7l.3,.4l.4-.9l.3,.8l.3-1l.3,.5l.3-.9l.3,.3l.4-1l.3,0l.3-.9l.3,.2l.3-1l.3,.2l.4-1.1l.3,.1l.3-1l.3,.3l.3-1.2l.3,.4l.4-.7l.3,.5l.3-.8l.3,.8l.3-.7l.3,.6l.4-.2l.3,.8l.3-.4l.3,.8l.3-.3l.3,.8l.4-.5l.3,.9l.3-.7l.3,1l.3-.7l.4,.5l.3-.5l.3,.6l.3-.8l.3,.2l.3-.8l.4,.5l.3-.6l.3,.4l.3-.9l.3,.8l.3-1l.4,.8l.3-.9l.3,.6l.3-.7l.3,.6l.3-.8l.4,.4l.3-.6l.3,.6l.3-.6l.3,.8l.3-.9l.4,.6l.3-.7l.3,1.1l.3-1l.3,.9l.3-.6l.4,.9l.3-.9l.3,1l.3-.9l.3,.8l.4-.3l.3,.7l.3-.6l.3,.7l.3-.6l.3,.6l.4-.6l.3,.4l.3-.5l.3,.6l.3-.9l.3,.6l.4-.6l.3,.9l.3-1l.3,.8l.3-.4l.3,1l.4-.8l.3,1l.3-.5l.3,.7l.3-.4l.3,1l.4-.7l.3,.7l.3-.8l.3,.8l.3-.7l.3,.5l.4-1.1l.3,.6l.3-1l.3,.3l.3-.8l.3,.2l.4-.5l.3,.5l.3-1.1l.3,.8l.3-.7l.4,.3l.3-.9l.3,.5l.3-.7l.3,.5l.3-.7l.4,.7l.3-.7l.3,.9l.3-.5l.3,.8l.3-.5l.4,.6l.3-.4l.3,.8l.3-.8l.3,1l.3-.8l.4,.5l.3-.7l.3,.4l.3-.5l.3,.3l.3-.5l.4,.6l.3-.8l.3,.5l.3-.8l.3,.9l.3-1l.4,1l.3-.8l.3,.9l.3-.9l.3,1l.3-.7l.4,.9l.3-.7l.3,.5l.3-.4l.3,.8l.4-.6l.3,.5l.3-.7l.3,1l.3-.8l.3,.7l.4-.7l.3,.6l.3-1l.3,.8l.3-.8l.3,.3l.4-.6l.3,.6l.3-.9l.3,.9l.3-.6l.3,.6l.4-.5l.3,.8l.3-.3l.3,.8l.3-.4l.3,1l.4-.5l.3,.9l.3-.7l.3,.7l.3-.9l.3,.9l.4-.8l.3,.8l.3-1l.3,.7l.3-.9l.4,.8l.3-.7l.3,.9l.3-.7l.3,.7l.3-.5l.4,.7l.3-.5l.3,.5l.3-.5l.3,.6l.3-.9l.4,.7l.3-.9l.3,.7l.3-1l.3,.7l.3-.9l.4,.6l.3-.7l.3,.5l.3-.9l.3,.8l.3-1l.4,1.1l.3-.7l.3,.9l.3-.7l.3,1.1l.3-.5l.4,1.2l.3-.6l.3,1.4l.3-.6l.3,1l.3-.6l.4,1.1l.3-.4l.3,.6l.3-.7l.3,.6l.4-.7l.3,.6l.3-.8l.3,.5l.3-.9l.3,.8l.4-.8l.3,.6l.3-.8l.3,.4l.3-.9l.3,.5l.4-.9l.3,.6l.3-1l.3,.8l.3-.9l.3,.5l.4-.8l.3,.8l.3-.6l.3,.6l.3-.7l.3,1.1l.4-.8l.3,.8l.3-.3l.3,.8l.3-.3l.3,.8l.4-.5l.3,1l.3-.4l.3,.8l.3-.5l.4,1l.3-.9l.3,.7l.3-.9l.3,.4l.3-.9l.4,.4l.3-.9l.3,.6l.3-1.2l.3,.6l.3-.7l.4,.5l.3-.8l.3,.9l.3-.7l.3,.9l.3-.5l.4,.8l.3-.7l.3,.8l.3-.8l.3,.5l.3-.8l.4,.6l.3-.6l.3,.4l.3-.5l.3,.7l.3-.1l.4,1l.3-.4l.3,1.2l.3-.4l.3,1.2l.3-.7l.4,1.1l.3-.6l.3,.8l.3-.6l.3,.7l.4-.8l.3,.9l.3-.7l.3,.8l.3-.8l.3,.7l.4-.5l.3,.3l.3-.6l.3,.6l.3-1l.3,.3l.4-.8l.3,.6l.3-1.2l.3,.7l.3-1l.3,.5l.4-.6l.3,.7l.3-.9l.3,.7l.3-.6l.3,.9l.4-.7l.3,1.1l.3-.6l.3,1.1l.3-.8l.3,1.1l.4-.6l.3,.6l.3-.5l.3,.8l.3-.9l.4,.9l.3-.8l.3,.5l.3-.5l.3,.4l.3-.5l.4,.4l.3-.9l.3,.6l.3-.9l.3,.6l.3-1l.4,.6l.3-.6l.3,.3l.3-.5l.3,.3l.3-.7l.4,.7l.3-.4l.3,.7l.3-.7l.3,.6l.3-.5l.4,1l.3-.8l.3,.8l.3-.6l.3,.8l.3-.7l.4,.9l.3-.7l.3,.9l.3-.5l.3,.7l.3-.4l.4,.5l.3-.7l.3,.9l.3-.6l.3,.6l.4-.5l.3,.7l.3-.8l.3,.8l.3-1l.3,.8l.4-.9l.3,.9l.3-.9l.3,.5l.3-.8l.3,.5l.4-.9l.3,.9l.3-.9l.3,.5l.3-.9l.3,.8l.4-1.1l.3,.9l.3-1l.3,.6l.3-.8l.3,.6l.4-.9l.3,.8l.3-1l.3,.7l.3-.8l.3,.9l.4-.7l.3,.9l.3-.8l.3,.9l.3-.6l.3,.6l.4-.4l.3,.8l.3-.7l.3,1.1l.3-.6l.4,.9l.3-.1l.3,.9l.3-.5l.3,1.3l.3-.4l.4,.7l.3-.5l.3,.9l.3-.6l.3,.7l.3-.5l.4,.6l.3-.6l.3,.7l.3-.8l.3,.4l.3-.9l.4,.4l.3-.7l.3,.4l.3-.9l.3,.7l.3-1l.4,1l.3-.9l.3,.8l.3-.6l.3,.7l.3-.5l.4,.9l.3-.8l.3,1l.3-.7l.3,1.2l.4-.7l.3,.9l.3-.3l.3,1.1l.3-.2l.3,.8l.4-.3l.3,1.1l.3-.5l.3,.8l.3-.4l.3,.8l.4-.9l.3,.9l.3-.9l.3,.7l.3-.7l.3,.6l.4-.7l.3,.5l.3-.5l.3,.7l.3-.9l.3,.8l.4-.9l.3,.6l.3-.9l.3,.4l.3-.8l.3,.8l.4-.7l.3,.6l.3-.6l.3,1l.3-.6l.3,.9l.4-.6l.3,.9l.3-.6l.3,.5l.3-.5l.4,.6l.3-.9l.3,.2l.3-1l.3,.3l.3-.9l.4,.1l.3-1.2l.3,0l.3-1.1l.3,.2l.3-1.2l.4-.1l.3-1l.3,.2l.3-1.2l.3,.6l.3-.8l.4,.9l.3-.7l.3,1.2l.3-.2l.3,1l.3-.3l.4,1.4l.3-.3l.3,1.1l.3-.4l.3,1l.3-.5l.4,.8l.3-.4l.3,.9l.3-.7l.3,.7l.4-.8l.3,.7l.3-.5l.3,1.1l.3-.4l.3,.8l.4-.4l.3,1.2l.3-.6l.3,1.2l.3-.7l.3,.7l.4-.3l.3,.6l.3-.7l.3,.6l.3-1l.3,.9l.4-.9l.3,.8l.3-.6l.3,.8l.3-.7l.3,.8l.4-.7l.3,1l.3-.5l.3,.8l.3-.6l.3,.9l.4-.9l.3,.8l.3-.7l.3,1l.3-.7l.3,.6l.4-.8l.3,.7l.3-.8l.3,.9l.3-.9l.4,.8l.3-.7l.3,.6l.3-.3l.3,.6l.3-.9l.4,.7l.3-.8l.3,.4l.3-.7l.3,.7l.3-.9l.4,.5l.3-.9l.3,.4l.3-.7l.3,.3l.3-1l.4,.5l.3-.6l.3,.3l.3-1.1l.3,.8l.3-1l.4,.5l.3-.9l.3,.5l.3-.8l.3,.7l.3-.6l.4,.6l.3-.9l.3,.7l.3-.9l.3,.7l.4-1l.3,.8l.3-1l.3,.5l.3-.6l.3,.7l.4-1l.3,.7l.3-.6l.3,.5l.3-.7l.3,.8l.4-1l.3,.7l.3-.9l.3,.7l.3-.7l.3,.7l.4-.6l.3,.5l.3-.6l.3,.7l.3-.7l.3,.9l.4-.8l.3,1l.3-.7l.3,.8l.3-.7l.3,1l.4-.7l.3,1l.3-.7l.3,1l.3-.8l.3,.9l.4-.8l.3,.5l.3-.8l.3,.6l.3-1.1l.4,.3l.3-.8l.3,.5l.3-.7l.3,.5l.3-.8l.4,.8l.3-.9l.3,.5l.3-.6l.3,.4l.3-.4l.4,.5l.3-.7l.3,.6l.3-.7l.3,1l.3-.8l.4,.8l.3-.7l.3,.9l.3-.8l.3,.8l.3-.8l.4,.6l.3-.6l.3,.5l.3-.8l.3,1l.3-.8l.4,.7l.3-.9l.3,.8l.3-.7l.3,.6l.3-.6l.4,.3l.3-.6l.3,.5l.3-.6l.3,.6l.4-.7l.3,.5l.3-.6l.3,.7l.3-.6l.3,.9l.4-.6l.3,1l.3-.6l.3,.6l.3-.5l.3,.7l.4-.7l.3,1l.3-.9l.3,.7l.3-.6l.3,.7l.4-.7l.3,.8l.3-.6l.3,.8l.3-.4l.3,.8l.4-.5l.3,.7l.3-.5l.3,.9l.3-.7l.3,.8l.4-.8l.3,.8l.3-.6l.3,.8l.3-1l.4,.6l.3-.7l.3,.4l.3-.8l.3,.7l.3-1l.4,.6l.3-1l.3,.5l.3-1l.3,.4l.3-.9l.4,.2l.3-.7l.3,.4l.3-1.1l.3,.5l.3-.9l.4,.3l.3-.6l.3,.3l.3-.8l.3,.7l.3-.7l.4,1.1l.3-.6l.3,1.1l.3-.1l.3,1l.3-.1l.4,1.4l.3-.3l.3,1.1l.3-.5l.3,1l.3-.5l.4,.9l.3-.7l.3,.7l.3-.5l.3,.8l.4-1.1l.3,.9l.3-.6l.3,.6l.3-.5l.3,.8l.4-.3l.3,.6l.3-.4l.3,.8l.3-.3l.3,.8l.4-.3l.3,.9l.3-.7l.3,.5l.3-.6l.3,.6l.4-.8l.3,.5l.3-.8l.3,.5l.3-.9l.3,.6l.4-.8l.3,.6l.3-.4l.3,.5l.3-.5l.3,1l.4-.5l.3,1.1l.3-.8l.3,.9l.3-.4l.4,.6l.3-.3l.3,.6l.3-.6l.3,.5l.3-.9l.4,.6l.3-.9l.3,.6l.3-.9l.3,.6l.3-.9l.4,.6l.3-.4l.3,.7l.3-.4l.3,1l.3-.2l.4,1.3l.3,0l.3,.8l.3-.1l.3,1l.3-.7l.4,1.1l.3-.6l.3,.5l.3-.7l.3,.7l.3-.9l.4,.4l.3-1l.3,.3l.3-.9l.3,.4l.3-1.4l.4,.5l.3-1.3l.3,.4l.3-1.3l.3,.2l.4-1.1l.3,.3l.3-1.4l.3,.2l.3-.9l.3,.2l.4-.9l.3,.3l.3-1l.3,.6l.3-.9l.3,.6l.4-.7l.3,.6l.3-.6l.3,.8l.3-1l.3,.9l.4-.8l.3,.7l.3-.5l.3,.4l.3-.7l.3,.3l.4-.8l.3,.5l.3-.9l.3,.5l.3-1.1l.3,.4l.4-.9l.3,.6l.3-.9l.3,.6l.3-.6l.4,.8l.3-.7l.3,.6l.3-.6l.3,.7l.3-.7l.4,.6l.3-.9l.3,.6l.3-.9l.3,.8l.3-1l.4,.8l.3-.4l.3,.5l.3-.4l.3,.8l.3-.6l.4,.8l.3-.7l.3,1.2l.3-.7l.3,1l.3-.5l.4,1.3l.3-.7l.3,1.2l.3-.3l.3,.9l.3-.8l.4,.8l.3-.7l.3,.5l.3-.7l.3,.5l.3-1.3l.4,.7l.3-.9l.3,.5l.3-1l.3,.7l.4-.7l.3,.8l.3-.7l.3,.6l.3-.4l.3,.8l.4-.6l.3,.7l.3-.6l.3,.9l.3-.6l.3,.7l.4-.6l.3,.5l.3-.6l.3,.5l.3-.8l.3,.6l.4-.6l.3,.7l.3-.9l.3,.6l.3-.6l.3,.8l.4-.6l.3,.6l.3-.4l.3,.9l.3-.7l.3,1l.4-.4l.3,.8l.3-.4l.3,.8l.3-.2l.3,.9l.4-.4l.3,.9l.3-.5l.3,.9l.3-.5l.4,.9l.3-.5l.3,.9l.3-.7l.3,.8l.3-.5l.4,.8l.3-.6l.3,.7l.3-.6l.3,.7l.3-.9l.4,.5l.3-.7l.3,.7l.3-.7l.3,.4l.3-.8l.4,.7l.3-1.1l.3,.4l.3-1l.3,.5l.3-1l.4,.5l.3-.9l.3,.5l.3-1.1l.3,.3l.3-.9l.4,.5l.3-.8l.3,.2l.3-1.1l.3,.5l.4-1l.3,.5l.3-.8l.3,.4l.3-.8l.3,.9l.4-.6l.3,.9l.3-.7l.3,.9l.3-.3l.3,.6l.4-.5l.3,.7l.3-.5l.3,.6l.3-1l.3,.5l.4-1l.3,.6l.3-.9l.3,.7l.3-1.1l.3,.7l.4-.8l.3,.8l.3-1l.3,.7l.3-.6l.3,.8l.4-.8l.3,.4l.3-.9l.3,.6l.3-.9l.3,.5l.4-1l.3,.7l.3-1.1l.3,.6l.3-1.1l.4,.5l.3-.6l.3,.7l.3-1l.3,1l.3-.9l.4,1.1l.3-.8l.3,.7l.3-.7l.3,.7l.3-.7l.4,.7l.3-.9l.3,.8l.3-.9l.3,.6l.3-.8l.4,.8l.3-.8l.3,.6l.3-.4l.3,.8l.3-.5l.4,.9l.3-.3l.3,.9l.3-.6l.3,1.1l.3-.5l.4,1l.3-.5l.3,.9l.3-.7l.3,1.1l.4-.8l.3,1l.3-.9l.3,.7l.3-.7l.3,.3l.4-.7l.3,.2l.3-1.1l.3,.4l.3-.8l.3,.4l.4-1l.3,1l.3-.8l.3,1.1l.3-.4l.3,.9l.4-.4l.3,1.1l.3-.4l.3,1l.3-.3l.3,1.1l.4-.6l.3,1l.3-.7l.3,.8l.3-.5l.3,.4l.4-.6l.3,.8l.3-.9l.3,.4l.3-.6l.3,.5l.4-.7l.3,.9l.3-.4l.3,.9l.3-.7l.4,1.2l.3-.6l.3,1.2l.3-.8l.3,1l.3-.7l.4,.9l.3-.6l.3,1l.3-.6l.3,.6l.3-.1l.4,.7l.3-.3l.3,.8l.3-.3l.3,.7l.3-.2l.4,.8l.3-.4l.3,.5l.3-.6l.3,1l.3-.8l.4,.9l.3-.6l.3,.4l.3-.8l.3,.9l.3-.7l.4,.6l.3-1l.3,.7l.3-.6l.3,.6l.4-1.1l.3,.7l.3-.7l.3,.4l.3-.8l.3,1l.4-.8l.3,.4l.3-.6l.3,.8l.3-.9l.3,.9l.4-.8l.3,.8l.3-.5l.3,.7l.3-.4l.3,.7l.4-.6l.3,.7l.3-.4l.3,.8l.3-.6l.3,.5l.4-.7l.3,.6l.3-.6l.3,.5l.3-.9l.3,.2l.4-.9l.3,.2l.3-1l.3,.5l.3-1.3l.3,.5l.4-1.2l.3,.7l.3-1.3l.3,.4l.3-1l.4,.6l.3-.9l.3,.7l.3-.9l.3,.7l.3-.7l.4,.8l.3-.6l.3,.8l.3-.4l.3,.7l.3-.8l.4,1l.3-.8l.3,.7l.3-.9l.3,.6l.3-.9l.4,.6l.3-.8l.3,.9l.3-1l.3,.7l.3-.5l.4,.8l.3-.8l.3,1l.3-.7l.3,1l.3-.6l.4,1l.3-.7l.3,.9l.3-.6l.3,.5l.3-.5l.4,.7l.3-.8l.3,.5l.3-.5l.3,.7l.4-.8l.3,.9l.3-.7l.3,.6l.3-.6l.3,.8l.4-.7l.3,.8l.3-1l.3,.6l.3-.7l.3,.3l.4-1l.3,.5l.3-.8l.3,.3l.3-.8l.3,.7l.4-.9l.3,.7l.3-.7l.3,.7l.3-.8l.3,.8l.4-.9l.3,.9l.3-.8l.3,.7l.3-.8l.3,.6l.4-.7l.3,.9l.3-.4l.3,1l.3-.7l.4,.7l.3-.8l.3,.9l.3-.8l.3,.2l.3-.7l.4,.2l.3-.9l.3,.5l.3-.7l.3,.6l.3-.9l.4,.9l.3-.9l.3,1l.3-.8l.3,.7l.3-.6l.4,.8l.3-.9l.3,.5l.3-.6l.3,.6l.3-.8l.4,.4l.3-1l.3,.8l.3-1.2l.3,.8l.3-1.2l.4,.7l.3-1l.3,.3l.3-1l.3,.5l.3-.7l.4,.5l.3-1.1l.3,.9l.3-1.1l.3,.8l.4-.8l.3,.7l.3-.8l.3,.7l.3-.7l.3,1.1l.4-.8l.3,1.1l.3-.8l.3,.9l.3-.5l.3,1.1l.4-.7l.3,.8l.3-.6l.3,.6l.3-.6l.3,.5l.4-.7l.3,.7l.3-.6l.3,.7l.3-1.1l.3,.7l.4-.5l.3,.6l.3-.3l.3,.7l.3-.8l.3,.9l.4-.9l.3,.8l.3-.6l.3,.8l.3-.7l.4,.6l.3-.5l.3,.6l.3-.4l.3,.8l.3-.6l.4,1.1l.3-.6l.3,1l.3-.5l.3,1l.3-.6l.4,1l.3-.2l.3,.7l.3-.5l.3,.8l.3-.5l.4,.6l.3-.9l.3,.7l.3-.7l.3,.6l.3-1l.4,.4l.3-.8l.3,.7l.3-1.1l.3,.6l.3-.9l.4,.6l.3-.9l.3,.4l.3-1.1l.3,.3l.3-1l.4,.2l.3-1.1l.3,.4l.3-1l.3,.3l.4-.6l.3,.4l.3-.4l.3,.7l.3-.8l.3,.8l.4-.7l.3,1.1l.3-.5l.3,.7l.3-.6l.3,.7l.4-.3l.3,.9l.3-.9l.3,1.1l.3-.8l.3,1l.4-.7l.3,.8l.3-.4l.3,.8l.3-.4l.3,1l.4-.7l.3,1.1l.3-.7l.3,.9l.3-.6l.3,.8l.4-.5l.3,.7l.3-.8l.3,.8l.3-.8l.3,.8l.4-.7l.3,.9l.3-.7l.3,1l.3-.2l.4,.9l.3-.6l.3,1.1l.3-.6l.3,.9l.3-.5l.4,.6l.3-.8l.3,.5l.3-1.1l.3,.5l.3-1.3l.4,.5l.3-1.4l.3,.5l.3-1.1l.3,.5l.3-1.1l.4,.8l.3-.5l.3,.7l.3-.5l.3,1l.3-.3l.4,1.1l.3-.1l.3,1.1l.3-.6l.3,1l.3-.5l.4,1l.3-.7l.3,.9l.3-.9l.3,.9l.4-.8l.3,.9l.3-.7l.3,.6l.3-.7l.3,.8l.4-.9l.3,.6l.3-.7l.3,.4l.3-1l.3,.6l.4-.9l.3,.7l.3-.7l.3,.7l.3-1l.3,.9l.4-1l.3,.9l.3-.6l.3,.9l.3-.6l.3,.5l.4-.6l.3,.6l.3-.7l.3,.5l.3-1l.3,.7l.4-1l.3,.6l.3-.8l.3,.4l.3-.8l.3,.8l.4-.6l.3,.7l.3-.3l.3,.8l.3-.3l.4,.8l.3-.4l.3,1.1l.3-.5l.3,.8l.3-.6l.4,.7l.3-.5l.3,.7l.3-1.1l.3,.6l.3-.8l.4,.4l.3-1.1l.3,.6l.3-1.2l.3,.5l.3-1.1l.4,.7l.3-1.1l.3,.5l.3-.7l.3,.8l.3-.8l.4,1.1l.3-.8l.3,1.3l.3-.7l.3,1.1l.3-.2l.4,.7l.3-.3l.3,1.1l.3-.7l.3,1l.4-.7l.3,.8l.3-.6l.3,.8l.3-1l.3,.6l.4-.8l.3,.7l.3-1l.3,.7l.3-.6l.3,.7l.4-.5l.3,1l.3-.6l.3,.8l.3-.4l.3,.8l.4-1l.3,.5l.3-.8l.3,.2l.3-1.1l.3,.4l.4-1.1l.3,.2l.3-.9l.3,.6l.3-.9l.3,.6l.4-.5l.3,.7l.3-.7l.3,.8l.3-.8l.3,.9l.4-.6l.3,.6l.3-.5l.3,.8l.3-.6l.4,.7l.3-.8l.3,.7l.3-.4l.3,.8l.3-1.1l.4,.9l.3-1l.3,.7l.3-1l.3,.5l.3-.8l.4,.7l.3-.8l.3,.5l.3-.8l.3,.8l.3-.8l.4,.4l.3-.9l.3,.6l.3-.8l.3,.2l.3-.6l.4,.4l.3-.6l.3,.7l.3-.5l.3,1l.3-.4l.4,.9l.3-.6l.3,1.2l.3-.8l.3,1.2l.4-.6l.3,1l.3-.7l.3,1l.3-.3l.3,.8l.4-.3l.3,1.1l.3-.4l.3,.9l.3-.5l.3,1l.4-.7l.3,1l.3-.6l.3,.4l.3-.4l.3,.5l.4-.8l.3,.8l.3-.9l.3,.8l.3-.5l.3,.6l.4-.8l.3,.7l.3-.7l.3,.9l.3-.7l.3,.6l.4-.6l.3,.4l.3-.7l.3,.8l.3-.7l.3,.5l.4-.8l.3,.9l.3-.8l.3,.7l.3-.7l.4,.5l.3-.3l.3,.6l.3-.5l.3,.7l.3-.3l.4,.8l.3-.6l.3,.9l.3-.4l.3,.6l.3-.5l.4,.7l.3-.9l.3,.8l.3-.7l.3,.5l.3-.6l.4,.5l.3-1l.3,.8l.3-.9l.3,.7l.3-.9l.4,.7l.3-.9l.3,.3l.3-1l.3,.7l.3-1.1l.4,.6l.3-1.2l.3,.4l.3-.7l.3,.3l.3-.8l.4,.5l.3-.5l.3,.5l.3-.5l.3,.8l.4-.8l.3,.8l.3-.6l.3,1.1l.3-.6l.3,1l.4-.8l.3,1.1l.3-.9l.3,.8l.3-.6l.3,.7l.4-1l.3,.9l.3-.9l.3,.5l.3-.6l.3,.8l.4-.6l.3,.4l.3-.6l.3,.6l.3-.8l.3,.7l.4-1.1l.3,.5l.3-.9l.3,.7l.3-.7l.3,.5l.4-.8l.3,.8l.3-.8l.3,.8l.3-.4l.4,.7l.3-.3l.3,.8l.3-.4l.3,.6l.3-.4l.4,.7l.3-.5l.3,.8l.3-.7l.3,.4l.3-.4l.4,.5l.3-1l.3,.7l.3-.7l.3,.5l.3-.5l.4,.7l.3-.7l.3,.9l.3-.7l.3,1.1l.3-.9l.4,.8l.3-.5l.3,.8l.3-.8l.3,1l.3-.8l.4,.7l.3-.3l.3,.7l.3-1l.3,.9l.3-1l.4,.8l.3-.5l.3,.6l.3-.6l.3,.6l.4-.8l.3,.9l.3-.6l.3,.8l.3-.6l.3,.9l.4-.5l.3,.8l.3-.4l.3,.8l.3-.8l.3,.9l.4-.6l.3,.3l.3-.5l.3,.4l.3-.8l.3,.4l.4-.8l.3,.4l.3-.9l.3,.6l.3-.8l.3,.6l.4-.9l.3,.5l.3-.8l.3,.7l.3-.8l.3,.7l.4-.8l.3,.7l.3-.7l.3,.8l.3-.7l.4,.7l.3-.6l.3,.6l.3-.6l.3,.5l.3-.5l.4,.7l.3-.6l.3,.8l.3-.9l.3,.7l.3-.5l.4,.8l.3-.7l.3,.6l.3-.8l.3,.7l.3-.6l.4,.7l.3-.5l.3,.6l.3-.7l.3,1.1l.3-1l.4,.9l.3-.9l.3,.9l.3-.9l.3,.7l.3-.7l.4,.5l.3-.5l.3,.8l.3-.6l.3,.8l.3-.5l.4,.7l.3-.2l.3,.7l.3-.5l.3,.9l.4-.8l.3,.6l.3-.8l.3,.8l.3-1l.3,.8l.4-.9l.3,.4l.3-1l.3,.3l.3-.9l.3,.5l.4-1l.3,.5l.3-.7l.3,.4l.3-.5l.3,.7l.4-.8l.3,.8l.3-.7l.3,1l.3-.8l.3,.9l.4-.9l.3,.9l.3-.6l.3,.5l.3-.5l.3,.6l.4-.5l.3,.5l.3-.5l.3,.7l.3-.6l.4,.9l.3-.3l.3,1.1l.3-.4l.3,.9l.3-.3l.4,.9l.3-.4l.3,1.2l.3-.6l.3,.7l.3-.5l.4,.8l.3-.6l.3,.4l.3-.9l.3,.7l.3-1l.4,.5l.3-1.1l.3,.7l.3-1l.3,.9l.3-.8l.4,1l.3-.6l.3,1l.3-.6l.3,1.1l.3-.5l.4,.8l.3-.4l.3,.8l.3-.4l.3,.8l.3-.8l.4,.9l.3-.8l.3,.4l.3-.7l.3,.8l.4-1l.3,.8l.3-.6l.3,.6l.3-.7l.3,1l.4-.7l.3,.7l.3-.6l.3,1l.3-.7l.3,.8l.4-.8l.3,1l.3-.9l.3,.8l.3-.8l.3,.8l.4-.7l.3,.7l.3-.8l.3,.7l.3-.7l.3,.5l.4-.8l.3,.6l.3-.6l.3,.4l.3-.8l.3,.2l.4-.8l.3,.3l.3-.9l.3,.5l.3-.9l.3,.7l.4-.6l.3,.5l.3-.2l.3,.9l.3-.5l.4,1.2l.3-.2l.3,1.1l.3-.4l.3,.6l.3-.6l.4,.8l.3-.4l.3,.5l.3-.7l.3,.5l.3-1l.4,.7l.3-.6l.3,.3l.3-.5l.3,.4l.3-.6l.4,.7l.3-.9l.3,.8l.3-.6l.3,1.1l.3-.5l.4,1.1l.3-.4l.3,1l.3-.5l.3,.9l.3-.3l.4,1l.3-.6l.3,1.1l.3-.6l.3,.9l.4-.7l.3,.7l.3-.6l.3,.6l.3-.8l.3,.6l.4-.7l.3,.5l.3-.8l.3,.7l.3-.9l.3,.6l.4-.7l.3,.3l.3-.5l.3,.3l.3-.4l.3,.5l.4-.8l.3,.9l.3-1l.3,.7l.3-.6l.3,.6l.4-.6l.3,.6l.3-.8l.3,.7l.3-.5l.3,.8l.4-.5l.3,.7l.3-.4l.3,.9l.3-.7l.3,1.2l.4-.6l.3,1.1l.3-.4l.3,1l.3-.3l.4,1l.3-.8l.3,.8l.3-.7l.3,.7l.3-.7l.4,.7l.3-1.1l.3,.7l.3-.7l.3,.7l.3-1.1l.4,.5l.3-.6l.3,.6l.3-.7l.3,.5l.3-.8l.4,.5l.3-.5l.3,.7l.3-.8l.3,.7l.3-.6l.4,.7l.3-.8l.3,.9l.3-.9l.3,.7l.3-.6l.4,.8l.3-1l.3,.9l.3-.6l.3,.5l.4-.5l.3,1l.3-.6l.3,.6l.3-.4l.3,.6l.4-.6l.3,.9l.3-.9l.3,.6l.3-.9l.3,.7l.4-1l.3,.6l.3-1.2l.3,.6l.3-.7l.3,.9l.4-.8l.3,.8l.3-.7l.3,1l.3-.5l.3,.8l.4-.7l.3,.7l.3-.3l.3,.7l.3-.8l.3,.9l.4-.5l.3,.7l.3-.5l.3,.7l.3-.4l.3,.8l.4-.6l.3,.9l.3-.3l.3,.8l.3-.8l.4,.8l.3-.8l.3,.7l.3-1l.3,.4l.3-.8l.4,.5l.3-.8l.3,.7l.3-1l.3,.6l.3-1l.4,.9l.3-.8l.3,.4l.3-.9l.3,.6l.3-.7l.4,.5l.3-.6l.3,.7l.3-.6l.3,1l.3-.7l.4,1l.3-.5l.3,1l.3-.8l.3,1l.3-.6l.4,.3l.3-.5l.3,.7l.3-.7l.3,.4l.3-.7l.4,.9l.3-.8l.3,.5l.3-.8l.3,.5l.4-.7l.3,.8l.3-.7l.3,.8l.3-.6l.3,1.1l.4-.3l.3,1.2l.3-.3l.3,1.1l.3-.2l.3,.9l.4-.2l.3,.8l.3-.4l.3,1.2l.3-.4l.3,.7l.4-.6l.3,1l.3-.5l.3,1l.3-.7l.3,.8l.4-.5l.3,.5l.3-.8l.3,.2l.3-.8l.3,.2l.4-1.2l.3,.5l.3-1.3l.3,.3l.3-.8l.4,.6l.3-1.1l.3,.6l.3-.7l.3,.7l.3-.8l.4,.8l.3-.7l.3,.8l.3-.5l.3,.8l.3-.8l.4,.7l.3-.7l.3,.5l.3-.8l.3,.8l.3-.7l.4,.6l.3-.8l.3,.9l.3-.7l.3,.7l.3-.8l.4,.7l.3-.7l.3,.8l.3-.8l.3,.6l.3-.6l.4,.9l.3-.8l.3,.7l.3-.6l.3,.4l.3-.9l.4,.3l.3-.8l.3,.1l.3-1.1l.3-.1l.4-1.1l.3,.3l.3-1.4l.3,.2l.3-1.2l.3,.3l.4-1.2l.3,.5l.3-1l.3,.4l.3-.9l.3,.6l.4-.7l.3,.7l.3-.9l.3,.7l.3-.7l.3,.6l.4-.6l.3,.5l.3-.8l.3,.6l.3-1l.3,.5l.4-.8l.3,.2l.3-1.1l.3,.5l.3-1.1l.3,.2l.4-.8l.3,.3l.3-.9l.3,.3l.3-.7l.4,.8l.3-.6l.3,.7l.3-.6l.3,1l.3-.4l.4,.9l.3-.5l.3,1.1l.3-.4l.3,.7l.3-.3l.4,.8l.3-.5l.3,.7l.3-.4l.3,.9l.3-.4l.4,.9l.3-.1l.3,1l.3-.3l.3,.7l.3-.3l.4,.7l.3-.6l.3,1l.3-1l.3,.6l.3-.8l.4,.5l.3-1.1l.3,.5l.3-.9l.3,.3l.3-1l.4,.3l.3-.7l.3,.4l.3-.9l.3,.5l.4-1.1l.3,.6l.3-.8l.3,.8l.3-1.1l.3,.8l.4-.9l.3,.9l.3-.8l.3,.6l.3-.9l.3,.7l.4-.6l.3,.8l.3-.9l.3,.9l.3-.5l.3,.7l.4-.9l.3,.9l.3-.8l.3,.7l.3-.9l.3,.4l.4-.8l.3,.2l.3-.9l.3,.7l.3-.9l.3,.3l.4-.6l.3,.7l.3-.9l.3,.6l.3-.3l.4,.5l.3-.4l.3,.7l.3-.7l.3,1.1l.3-.7l.4,.9l.3-.6l.3,.9l.3-.4l.3,.6l.3-.4l.4,.7l.3-.5l.3,1l.3-.7l.3,.5l.3-.8l.4,.7l.3-.9l.3,.6l.3-.7l.3,.9l.3-.5l.4,.7l.3-.5l.3,.9l.3-.5l.3,.9l.3-.7l.4,1l.3-.3l.3,.8l.3-.5l.3,.5l.3-.6l.4,.7l.3-.7l.3,.2l.3-.6l.3,.2l.4-1l.3,.7l.3-1l.3,.7l.3-1l.3,.7l.4-.7l.3,.5l.3-.6l.3,.7l.3-.7l.3,.9l.4-.8l.3,.8l.3-.8l.3,.8l.3-.7l.3,.8l.4-.9l.3,.8l.3-.5l.3,.5l.3-.7l.3,.9l.4-.6l.3,.7l.3-.2l.3,.7l.3-.3l.3,.9l.4-.4l.3,.9l.3-.2l.3,.9l.3-.3l.3,.8l.4-.3l.3,.8l.3-.4l.3,.9l.3-.4l.4,.9l.3-.5l.3,.7l.3-.6l.3,.5l.3-.5l.4,.6l.3-.8l.3,.8l.3-1l.3,1l.3-.9l.4,.7l.3-.4l.3,.6l.3-.5l.3,1.1l.3-.7l.4,.8l.3-.6l.3,.8l.3-.7l.3,.4l.3-.6l.4,.5l.3-.8l.3,.5l.3-.8l.3,.8l.3-1l.4,.9l.3-.8l.3,.8l.3-.8l.3,.6l.4-1.1l.3,.7l.3-.9l.3,.3l.3-1l.3,.7l.4-1.1l.3,.6l.3-1l.3,.5l.3-.8l.3,.5l.4-.7l.3,.9l.3-.9l.3,1.1l.3-.8l.3,.8l.4-.5l.3,1.1l.3-.5l.3,.8l.3-.3l.3,.9l.4-.4l.3,1.2l.3-.5l.3,.9l.3-.3l.3,.6l.4-.3l.3,.9l.3-.6l.3,.6l.3-.6l.3,.7l.4-.7l.3,.7l.3-.6l.3,.9l.3-.7l.4,1.2l.3-.7l.3,1.2l.3-.6l.3,1l.3-.4l.4,.9l.3-.8l.3,1l.3-.6l.3,.8l.3-.6l.4,.8l.3-.4l.3,.6l.3-1l.3,.6l.3-.5l.4,.3l.3-.7l.3,.3l.3-.8l.3,.3l.3-.8l.4,.7l.3-.7l.3,.6l.3-.8l.3,.6l.3-.6l.4,.8l.3-.6l.3,.8l.3-.7l.3,.7l.4-.5l.3,.9l.3-.7l.3,.5l.3-.7l.3,.8l.4-.9l.3,.3l.3-.6l.3,.3l.3-.9l.3,.6l.4-1l.3,.7l.3-.5l.3,.3l.3-.5l.3,.8l.4-.9l.3,.9l.3-1l.3,.6l.3-.7l.3,.6l.4-.4l.3,.4l.3-.8l.3,.5l.3-.9l.3,.5l.4-.8l.3,.6l.3-.5l.3,.4l.3-.6l.3,.9l.4-.6l.3,.6l.3-.7l.3,.4l.3-1l.4,.6l.3-1.3l.3,.1l.3-1.3l.3,.5l.3-1.4l.4,.2l.3-1.3l.3,.1l.3-1.1l.3,.1l.3-1l.4,.5l.3-.8l.3,.8l.3-.6l.3,.5l.3-.5l.4,.7l.3-.6l.3,.7l.3-.4l.3,.6l.3-.5l.4,1l.3-.5l.3,.8l.3-.3l.3,.7l.3-.5l.4,1.2l.3-.6l.3,1.1l.3-.5l.3,1.1l.4-.5l.3,.8l.3-.6l.3,.8l.3-.4l.3,.6l.4-.7l.3,.7l.3-.6l.3,.6l.3-.6l.3,.7l.4-1l.3,.8l.3-.3l.3,.5l.3-.5l.3,.5l.4-.3l.3,.8l.3-.8l.3,.8l.3-1l.3,.7l.4-.7l.3,.7l.3-1l.3,.7l.3-.6l.3,.6l.4-.9l.3,.5l.3-.4l.3,.8l.3-.5l.3,.6l.4-.2l.3,.8l.3-.2l.3,1l.3-.3l.4,.9l.3-.2l.3,.9l.3-.4l.3,.7l.3-.5l.4,.9l.3-.5l.3,.9l.3-.8l.3,.7l.3-.5l.4,.9l.3-.5l.3,1l.3-.8l.3,1.1l.3-.8l.4,.9l.3-.6l.3,.8l.3-.8l.3,.3l.3-.9l.4,.3l.3-.9l.3,.1l.3-1.2l.3,.5l.3-1.1l.4,.4l.3-1.2l.3,.7l.3-.6l.3,.7l.3-1l.4,1.1l.3-.8l.3,.9l.3-.7l.3,.7l.4-.7l.3,.5l.3-1l.3,.4l.3-.8l.3,.2l.4-.7l.3,.2l.3-.8l.3,.5l.3-.6l.3,.3l.4-.6l.3,.8l.3-.9l.3,1l.3-.7l.3,.6l.4-.8l.3,.9l.3-1l.3,.8l.3-.6l.3,.4l.4-.8l.3,.7l.3-.8l.3,.7l.3-1l.3,.6l.4-.8l.3,.6l.3-.6l.3,.5l.3-.7l.4,.6l.3-.8l.3,.9l.3-.7l.3,.8l.3-.7l.4,.7l.3-.4l.3,.7l.3-.4l.3,.9l.3-.8l.4,.8l.3-.6l.3,.7l.3-.7l.3,.7l.3-.9l.4,.7l.3-1l.3,.6l.3-1.1l.3,.5l.3-1.1l.4,.6l.3-1.1l.3,.6l.3-.8l.3,.6l.3-.6l.4,.6l.3-.9l.3,1l.3-.8l.3,.5l.3-.7l.4,.9l.3-.8l.3,.5l.3-.8l.3,.5l.4-1.1l.3,.7l.3-1.2l.3,.5l.3-.8l.3,.5l.4-.6l.3,.6l.3-.7l.3,.3l.3-.7l.3,.8l.4-.7l.3,.8l.3-.4l.3,.5l.3-.7l.3,.8l.4-1l.3,.8l.3-1.1l.3,.5l.3-.7l.3,.4l.4-.9l.3,.4l.3-.9l.3,.4l.3-1.1l.3,.7l.4-.9l.3,.7l.3-.4l.3,1l.3-.4l.4,1.2l.3-.4l.3,1.1l.3-.2l.3,1.4l.3-.2l.4,1.4l.3-.3l.3,1.3l.3-.1l.3,1l.3-.1l.4,1l.3-.4l.3,.9l.3-.5l.3,1l.3-.9l.4,.7l.3-.4l.3,.6l.3-.5l.3,.8l.3-.8l.4,.8l.3-.7l.3,.8l.3-.6l.3,1l.3-.9l.4,.9l.3-.9l.3,1l.3-.8l.3,.6l.3-.5l.4,.8l.3-.4l.3,.7l.3-.3l.3,1.5l.4-.3l.3,1.4l.3-.4l.3,1.4l.3-.2l.3,1.4l.4-.3l.3,1l.3-.3l.3,1.1l.3-.7l.3,.9l.4-.5l.3,.7l.3-.6l.3,1l.3-.6l.3,.5l.4-.7l.3,.7l.3-.5l.3,.7l.3-.7l.3,.5l.4-.7l.3,.6l.3-.6l.3,.7l.3-1l.3,.5l.4-.7l.3,.2l.3-.8l.3,.2l.3-.8l.4,.2l.3-.7l.3,.5l.3-.8l.3,.6l.3-.7l.4,.6l.3-.5l.3,.4l.3-.6l.3,.7l.3-.7l.4,.6l.3-.3l.3,.7l.3-.8l.3,1.1l.3-.9l.4,.8l.3-.7l.3,.7l.3-.7l.3,.6l.3-1l.4,.7l.3-.8l.3,.4l.3-.9l.3,.8l.3-1.1l.4,.5l.3-.9l.3,.7l.3-1.2l.3,.5l.3-1.1l.4,.2l.3-1.1l.3,.2l.3-1l.3,.4l.4-1.5l.3,.3l.3-1.1l.3,.2l.3-1.2l.3,.5l.4-1l.3,.3l.3-1l.3,.5l.3-.5l.3,.5l.4-.5l.3,.5l.3-.8l.3,1l.3-.8l.3,.7l.4-.8l.3,.8l.3-.7l.3,.7l.3-.7l.3,.6l.4-.9l.3,.6l.3-.9l.3,.5l.3-.9l.3,.7l.4-1l.3,.5l.3-1l.3,.7l.3-.9l.3,.7l.4-.7l.3,.5l.3-.3l.3,.7l.3-.6l.4,1l.3-.9l.3,.7l.3-.4l.3,.4l.3-.5l.4,.7l.3-.8l.3,.5l.3-.6l.3,.8l.3-.7l.4,.8l.3-.9l.3,.8l.3-.5l.3,.8l.3-.9l.4,.7l.3-.7l.3,.3l.3-.8l.3,.5l.3-.7l.4,.2l.3-.8l.3,.6l.3-.5l.3,.7l.3-.7l.4,.7l.3-.5l.3,1l.3-.5l.3,.9l.4-.5l.3,1.1l.3-.5l.3,.7l.3-.4l.3,.8l.4-.7l.3,1.1l.3-.6l.3,.6l.3-.3l.3,.8l.4-.4l.3,.9l.3-.6l.3,1.3l.3-.7l.3,1.1l.4-.3l.3,.7l.3-.3l.3,.8l.3-.2l.3,.8l.4-.7l.3,.7l.3-.4l.3,.6l.3-1l.3,.5l.4-1.3l.3,.6l.3-1.1l.3,.1l.3-1.2l.3,.5l.4-1.4l.3,.2l.3-1.4l.3,.1l.3-1.1l.4,.2l.3-1.5l.3,.5l.3-1.1l.3,.5l.3-.7l.4,1l.3-.4l.3,.6l.3-.4l.3,1.1l.3-.6l.4,.9l.3-.3l.3,.7l.3-.4l.3,.7l.3-.6l.4,.7l.3-.5l.3,.7l.3-.7l.3,.9l.3-.6l.4,.9l.3-.8l.3,1l.3-.8l.3,.9l.3-.6l.4,.6l.3-.9l.3,.7l.3-.7l.3,.8l.4-1l.3,.6l.3-.9l.3,.7l.3-.9l.3,.7l.4-.8l.3,.5l.3-.6l.3,.5l.3-.4l.3,.6l.4-.4l.3,.7l.3-.5l.3,1l.3-.3l.3,.7l.4-.6l.3,.8l.3-.6l.3,.7l.3-.6l.3,.7l.4-.8l.3,.7l.3-.6l.3,.5l.3-.3l.3,.6l.4-.5l.3,1.1l.3-.6l.3,.9l.3-.4l.3,1.1l.4-.5l.3,1l.3-.3l.3,1l.3-.5l.4,1.1l.3-.5l.3,1.2l.3-.8l.3,.8l.3-.4l.4,.7l.3-.7l.3,.8l.3-.6l.3,.6l.3-.9l.4,.7l.3-.9l.3,.4l.3-.9l.3,.9l.3-1l.4,.7l.3-.5l.3,.6l.3-.2l.3,.6l.3-.5l.4,1.1l.3-.3l.3-3l.3-11.7l.3-7l.3-5.6l.4,1.2l.3-.2l.3,1.1l.3-.2l.3,1.1l.4-.5l.3,1.2l.3-.3l.3,1.3l.3-.5l.3,1.1l.4-.3l.3,.9l.3-.2l.3,1l.3-.1l.3,.9l.4-.3l.3,1.1l.3-.4l.3,1.1l.3-.3l.3,1l.4-.8l.3,.9l.3-.5l.3,.6l.3-.7l.3,.9l.4-1l.3,.8l.3-.7l.3,.7l.3-.5l.3,.5l.4-.6l.3,1.1l.3-.9l.3,1l.3-.6l.3,1l.4-.4l.3,.7l.3-.4l.3,.9l.3-.6l.4,1l.3-.2l.3,1l.3-.7l.3,1.2l.3-.5l.4,.8l.3-.5l.3,.7l.3-.8l.3,1l.3-.9l.4,.8l.3-.8l.3,.7l.3-1l.3,.6l.3-.6l.4,.6l.3-.7l.3,.7l.3-.5l.3,.8l.3-.2l.4,1l.3-.7l.3,1l.3-.6l.3,.9l.3-.6l.4,.7l.3-.2l.3,.5l.3-.5l.3,1.1l.3-.4l.4,.9l.3-.7l.3,1l.3-.6l.3,.4l.4-.7l.3,.8l.3-1.1l.3,.5l.3-.7l.3,.4l.4-.7l.3,.4l.3-.5l.3,.5l.3-.8l.3,.8l.4-.7l.3,.7l.3-.7l.3,.8l.3-.8l.3,.6l.4-.7l.3,.6l.3-.7l.3,.8l.3-.8l.3,.8l.4-.7l.3,1l.3-.6l.3,.7l.3-.6l.3,.9l.4-.3l.3,.9l.3-.7l.3,.8l.3-.7l.4,.8l.3-.8l.3,.9l.3-.8l.3,.6l.3-.6l.4,1l.3-.8l.3,1l.3-.8l.3,.9l.3-.4l.4,.8l.3-.8l.3,.7l.3-.5l.3,.8l.3-.9l.4,.6l.3-.5l.3,.5l.3-.6l.3,.7l.3-.7l.4,.7l.3-.5l.3,1.1l.3-.8l.3,.7l.3-.6l.4,1.1l.3-1l.3,.7l.3-.5l.3,.5l.3-.8l.4,.3l.3-.9l.3,.9l.3-1l.3,.8l.4-.7l.3,.5l.3-.4l.3,.8l.3-.6l.3,.5l.4-.7l.3,.9l.3-.7l.3,.4l.3-.5l.3,.7l.4-.9l.3,.7l.3-.8l.3,.8l.3-1l.3,.9l.4-.8l.3,.5l.3-.5l.3,.7l.3-.8l.3,.9l.4-.6l.3,.9l.3-.3l.3,.7l.3-.4l.3,.9l.4-.5l.3,.9l.3-.6l.3,.7l.3-.7l.4,.7l.3-.5l.3,.6l.3-.8l.3,.6l.3-1l.4,.6l.3-.9l.3,.7l.3-1.1l.3,.3l.3-.7l.4,.3l.3-1l.3,.7l.3-1.2l.3,.5l.3-1l.4,.2l.3-.8l.3,.2"/>
<path stroke="#FFFF00" stroke-dasharray="21,20.1" stroke-dashoffset="6.1" d="M1702.5,1047.4l.3-18.4l.3,1.4l.3-.3l.4,1.4l.3,.3l.3,1.7l.3,.2l.3,1.9l.3,.1l.4,1.5l.3,0l.3,1.5l.3-.3l.3,1.2l.3-.6l.4,1l.3-.5l.3,1l.3-.6l.3,1l.4-.9l.3,1.1l.3-.7l.3,1.1l.3-.7l.3,1l.4-.5l.3,.8l.3-.9l.3,.8l.3-.8l.3,.7l.4-.7l.3,.7l.3-.9l.3,.9l.3-.6l.3,.7l.4-.7l.3,.7l.3-.7l.3,.6l.3-.9l.3,.4l.4-.6l.3,.5l.3-.7l.3,.9l.3-.7l.3,1l.4-.7l.3,1.3l.3-.6l.3,1.4l.3-.3l.3,1l.4-.3l.3,1.4l.3-.5l.3,1.1l.3-.4l.4,1.1l.3-.6l.3,.7l.3-.8l.3,.7l.3-.5l.4,.6l.3-.4l.3,.6l.3-.5l.3,.9l.3-.8l.4,.9l.3-.7l.3,.7l.3-.8l.3,.9l.3-.8l.4,1l.3-.6l.3,1l.3-.8l.3,.9l.3-.5l.4,.7l.3-.8l.3,.7l.3-.7l.3,.9l.3-.6l.4,.8l.3-.6l.3,1l.3-.5l.3,.7l.4-.4l.3,1.1l.3-.8l.3,.8l.3-.6l.3,.4l.4-.7l.3,.3l.3-.6l.3,.5l.3-.7l.3,.3l.4-.7l.3,.7l.3-.4l.3,.6l.3-.4l.3,1l.4-.6l.3,.8l.3-.2l.3,.7l.3-.7l.3,1l.4-.6l.3,.9l.3-.9l.3,1.1l.3-1l.3,.7l.4-.6l.3,.6l.3-.6l.3,.7l.3-.5l.3,.9l.4-.7l.3,1l.3-.4l.3,.7l.3-.4l.4,.9l.3-.7l.3,.8l.3-.7l.3,.8l.3-.8l.4,.7l.3-.8l.3,.6l.3-.5l.3,.6l.3-1.1l.4,.8l.3-.8l.3,.7l.3-.7l.3,.4l.3-.7l.4,1l.3-.6l.3,.5l.3-.4l.3,.7l.3-.5l.4,.9l.3-.6l.3,.6l.3-.5l.3,.7l.3-.4l.4,.7l.3-.7l.3,.5l.3-.6l.3,.7l.4-.8l.3,.8l.3-.7l.3,.6l.3-.5l.3,1l.4-.9l.3,.9l.3-.7l.3,.7l.3-.9l.3,.7l.4-.9l.3,.6l.3-.8l.3,.5l.3-1l.3,.9l.4-.8l.3,.7l.3-.5l.3,.7l.3-.4l.3,.9l.4-.5l.3,.7l.3-.6l.3,.9l.3-.6l.3,1l.4-.6l.3,1.1l.3-.7l.3,1.3l.3-.5l.3,1.1l.4-.4l.3,.9l.3-.8l.3,.7l.3-.4l.4,.4l.3-.7l.3,.5l.3-.6l.3,.4l.3-1l.4,.6l.3-1l.3,.4l.3-.8l.3,.5l.3-.7l.4,.8l.3-.7l.3,1.2l.3-.4l.3,1l.3-.4l.4,.8l.3-.5l.3,1.2l.3-.8l.3,.9l.3-.7l.4,.8l.3-.8l.3,.5l.3-.7l.3,.8l.3-.9l.4,1l.3-.8l.3,.7l.3-.8l.3,.8l.4-.7l.3,.8l.3-.7l.3,.6l.3-.4l.3,.6l.4-.5l.3,1.3l.3-.8l.3,1.3l.3-.8l.3,1.1l.4-.6l.3,.9l.3-.8l.3,.6l.3-.6l.3,.4l.4-.8l.3,.5l.3-1l.3,.8l.3-1l.3,.8l.4-.7l.3,.9l.3-.8l.3,1.1l.3-.7l.3,1l.4-.6l.3,.9l.3-.5l.3,1.1l.3-.5l.3,.8l.4-.4l.3,.7l.3-.8l.3,1l.3-1l.4,1l.3-.8l.3,.7l.3-.6l.3,.8l.3-.5l.4,.6l.3-.6l.3,.8"/>
<path stroke="#FFCC00" d="M208,868.5l.3,.3l.3,.4l.4-.1l.3,.4l.3,.8l.3,.4l.3,.8l.3,.4l.4,.7l.3,.4l.3,.8l.3,.3l.3,.6l.3,.4l.4,.6l.3,.3l.3,.7l.3,.4l.3,.6l.3,.3l.4,.7l.3,.4l.3,.7l.3,.4l.3,.7l.3,.3l.4,.7l.3,.4l.3,.7l.3,.4l.3,.7l.3,.4l.4,.7l.3,.4l.3,.7l.3,.4l.3,.7l.3,.3l.4,.7l.3,.4l.3,.6l.3,.2l.3,.6l.4,.3l.3,.6l.3,.2l.3,.7l.3,.3l.3,.6l.4,.3l.3,.7l.3,.3l.3,.7l.3,.3l.3,.7l.4,.3l.3,.8l.3,.3l.3,.7l.3,.4l.3,.7l.4,.4l.3,.7l.3,.3l.3,.8l.3,.3l.3,.7l.4,.3l.3,.8l.3,.4l.3,.7l.3,.3l.3,.8l.4,.4l.3,.7l.3,.4l.3,.7l.3,.4l.4,.7l.3,.3l.3,.7l.3,.3l.3,.8l.3,.4l.4,.6l.3,.3l.3,.7l.3,.3l.3,.6l.3,.3l.4,.6l.3,.3l.3,.5l.3,.3l.3,.6l.3,.2l.4,.7l.3,.3l.3,.6l.3,.4l.3,.7l.3,.3l.4,.7l.3,.3l.3,.8l.3,.2l.3,.8l.3,.3l.4,.8l.3,.4l.3,.7l.3,.3l.3,.8l.3,.3l.4,.7l.3,.5l.3,.7l.3,.3l.3,.8l.4,.3l.3,.8l.3,.3l.3,.7l.3,.2l.3,.7l.4,.4l.3,.7l.3,.3l.3,.7l.3,.3l.3,.7l.4,.4l.3,.7l.3,.3l.3,.7l.3,.3l.3,.7l.4,.3l.3,.7l.3,.3l.3,.7l.3,.3l.3,.7l.4,.3l.3,.9l.3,.3l.3,.9l.3,.5l.3,.8l.4,.5l.3,.9l.3,.4l.3,.9l.3,.4l.4,.8l.3,.3l.3,.6l.3,.4l.3,.7l.3,.2l.4,.7l.3,.3l.3,.7l.3,.3l.3,.7l.3,.3l.4,.8l.3,.3l.3,.8l.3,.4l.3,.8l.3,.4l.4,.8l.3,.4l.3,.9l.3,.4l.3,.9l.3,.3l.4,.9l.3,.3l.3,.8l.3,.3l.3,.7l.3,.3l.4,.8l.3,.3l.3,.7l.3,.3l.3,.8l.3,.4l.4,.7l.3,.5l.3,.7l.3,.4l.3,.7l.4,.4l.3,.7l.3,.3l.3,.8l.3,.3l.3,.6l.4,.3l.3,.7l.3,.3l.3,.6l.3,.2l.3,.7l.4,.2l.3,.7l.3,.3l.3,.7l.3,.3l.3,.7l.4,.3l.3,.7l.3,.4l.3,.7l.3,.3l.3,.7l.4,.1l.3,.6l.3,.3l.3,.6l.3,.2l.3,.6l.4,.3l.3,.6l.3,.3l.3,.7l.3,.2l.4,.7l.3,.3l.3,.7l.3,.4l.3,.6l.3,.3l.4,.7l.3,.2l.3,.7l.3,.2l.3,.6l.3,.3l.4,.7l.3,.3l.3,.7l.3,.3l.3,.7l.3,.3l.4,.7l.3,.2l.3,.7l.3,.3l.3,.7l.3,.2l.4,.6l.3,.2l.3,.7l.3,.1l.3,.7l.3,.1l.4,.6l.3,.2l.3,.7l.3,.1l.3,.6l.3,.2l.4,.7l.3,.2l.3,.8l.3,.1l.3,.8l.4,.1l.3,.8l.3,.3l.3,.7l.3,.3l.3,.9l.4,.2l.3,.8l.3,.1l.3,.7l.3,.3l.3,.7l.4,.2l.3,.7l.3,.1l.3,.8l.3,.1l.3,.7l.4,.1l.3,.7l.3,.1l.3,.7l.3,0l.3,.8l.4,0l.3,.8l.3,0l.3,.8l.3,.1l.3,.7l.4,.2l.3,.8l.3,0l.3,.8l.3,0l.3,.7l.4,.1l.3,.7l.3,0l.3,.7l.3-.1l.4,.9l.3,.1l.3,.8l.3,0l.3,.9l.3,.3l.4,.9l.3,.2l.3,1l.3,.1l.3,.8l.3,.1l.4,.8l.3,0l.3,.8l.3-.2l.3,.8l.3-.2l.4,.5l.3-.1l.3,.5l.3-.2l.3,.5l.3-.3l.4,.5l.3-.3l.3,.6l.3-.3l.3,.6l.3-.4l.4,.8l.3-.4l.3,.7l.3-.1l.3,.5l.4,0l.3,.8l.3-.2l.3,.8l.3-.1l.3,1.1l.4,0l.3,.9l.3,0l.3,.8l.3,.2l.3,.8l.4-.3l.3,1l.3-.2l.3,.8l.3-.3l.3,.8l.4-.1l.3,.7l.3-.4l.3,.8l.3-.1l.3,.8l.4-.3l.3,.7l.3-.2l.3,.6l.3-.2l.3,.6l.4-.4l.3,.8l.3-.5l.3,.6l.3-.5l.3,.8l.4-.7l.3,.9l.3-.5l.3,.8l.3-.2l.4,.7l.3-.2l.3,.7l.3-.1l.3,.8l.3-.3l.4,.7l.3-.3l.3,.8l.3-.4l.3,.6l.3-.3l.4,1l.3-.5l.3,.8l.3-.1l.3,.7l.3-.2l.4,.7l.3-.5l.3,.5l.3-.3l.3,.3l.3-.6l.4,.5l.3-.5l.3,.4l.3-.5l.3,.5l.3-.6l.4,1l.3-.6l.3,.5l.3-.4l.3,.8l.4-.7l.3,.4l.3-.6l.3,.6l.3-.9l.3,.3l.4-1l.3,.6l.3-.9l.3,.4l.3-.8l.3,.8l.4-.8l.3,.7l.3-.5l.3,.7l.3-.6l.3,.9l.4-.6l.3,1l.3-.6l.3,1l.3-.6l.3,1l.4-.3l.3,1.2l.3-.5l.3,1.2l.3-.3l.3,.9l.4-.4l.3,.9l.3-.6l.3,1.1l.3-.6l.3,.6l.4-.8l.3,.6l.3-1l.3,.5l.3-.9l.4,.6l.3-.8l.3,.5l.3-.6l.3,.4l.3-.6l.4,.7l.3-.6l.3,.8l.3-.5l.3,.8l.3-.4l.4,.8l.3-.3l.3,.6l.3-.6l.3,.8l.3-.7l.4,.6l.3-.7l.3,.9l.3-.7l.3,.9l.3-.7l.4,.7l.3-.7l.3,1.1l.3-.8l.3,.7l.3-.5l.4,.5l.3-.7l.3,.8l.3-.8l.3,.7l.3-.9l.4,.6l.3-.5l.3,.6l.3-.7l.3,.9l.4-.4l.3,.6l.3-.6l.3,.8l.3-.6l.3,.7l.4-1l.3,.7l.3-.9l.3,.6l.3-.7l.3,.7l.4-.5l.3,.8l.3-.7l.3,.9l.3-.3l.3,1.1l.4-.4l.3,.9l.3-.6l.3,.9l.3-.7l.3,.6l.4-.5l.3,.4l.3-1l.3,.8l.3-1l.3,.4l.4-.8l.3,.5l.3-12.6l.3,.8l.3-.2l.4,1.2l.3-.2l.3,1.1l.3-.6l.3,1.1l.3-.6l.4,.8l.3-.5l.3,.5l.3-.6l.3,.6l.3-1l.4,.8l.3-.3l.3,.8l.3-.6l.3,1l.3-.6l.4,1.3l.3-.5l.3,1l.3-.4l.3,.7l.3-.3l.4,.7l.3-.5l.3,1l.3-.5l.3,1l.3-.5l.4,.5l.3-.5l.3,1.1l.3-.5l.3,.9l.3-.6l.4,1.1l.3-.4l.3,.6l.3-.4l.3,.9l.4-.4l.3,.9l.3-.3l.3,.9l.3-.1l.3,.8l.4-.5l.3,1.1l.3-.5l.3,.9l.3-.5l.3,.8l.4-.6l.3,1l.3-.8l.3,.9l.3-.7l.3,.7l.4-.7l.3,.6l.3-.6l.3,.7l.3-.8l.3,.4l.4-.7l.3,.7l.3-.8l.3,.7l.3-.5l.3,.6l.4-.5l.3,1.2l.3-.5l.3,.9l.3-.1l.4,.9l.3-.4l.3,.8l.3-.3l.3,1l.3-.8l.4,1.1l.3-.5l.3,.9l.3-.6l.3,.8l.3-.7l.4,.5l.3-.5l.3,.5l.3-1l.3,.4l.3-1.1l.4,.3l.3-1.2l.3,.6l.3-1.1l.3,.8l.3-.9l.4,.8l.3-.7l.3,.6l.3-.5l.3,.7l.3-.5l.4,1l.3-.7l.3,.8l.3-.5l.3,.7l.3-.4l.4,.8l.3-.4l.3,1l.3-.8l.3,1.1l.4-.6l.3,.9l.3-.6l.3,.9l.3-.9l.3,.8l.4-.8l.3,.2l.3-1l.3,.3l.3-1l.3,.3l.4-1l.3,.1l.3-1l.3,.4l.3-.8l.3,.5l.4-.8l.3,.4l.3-.4l.3,.5l.3-.6l.3,1.1l.4-.8l.3,1.2l.3-.6l.3,1l.3-.5l.3,1.1l.4-.7l.3,1l.3-.3l.3,.8l.3-.5l.4,.8l.3-.8l.3,.9l.3-.5l.3,.8l.3-.7l.4,.6l.3-.7l.3,.5l.3-.6l.3,.6l.3-.8l.4,.7l.3-1l.3,.8l.3-.8l.3,.6l.3-.8l.4,.6l.3-1l.3,.9l.3-.8l.3,.7l.3-.8l.4,1l.3-.5l.3,.8l.3-.7l.3,.7l.3-.8l.4,.7l.3-.7l.3,.8l.3-1.1l.3,.6l.3-1.2l.4,.4l.3-.9l.3,.5l.3-1.2l.3,.4l.4-.7l.3,.6l.3-.9l.3,.7l.3-.7l.3,.7l.4-.9l.3,.8l.3-.4l.3,.8l.3-.5l.3,.8l.4-.5l.3,.9l.3-.6l.3,.5l.3-.3l.3,.6l.4-.6l.3,1l.3-.5l.3,.8l.3-.4l.3,.8l.4-.4l.3,.7l.3-.5l.3,1l.3-.6l.3,.8l.4-.5l.3,.8l.3-.6l.3,.8l.3-.9l.3,.8l.4-.9l.3,.7l.3-.8l.3,.4l.3-.7l.4,.4l.3-.8l.3,.5l.3-.6l.3,.4l.3-.5l.4,.6l.3-.6l.3,.8l.3-.8l.3,.9l.3-.6l.4,.3l.3-.8l.3,.5l.3-.7l.3,.5l.3-1.1l.4,.4l.3-1l.3,.2l.3-.8l.3,.2l.3-.8l.4,.3l.3-1l.3,.4l.3-.8l.3,.3l.3-.8l.4,.9l.3-.6l.3,.9l.3-.4l.3,.7l.4-.4l.3,.8l.3-.7l.3,.8l.3-.5l.3,.6l.4-.6l.3,1l.3-.5l.3,.9l.3-.6l.3,1l.4-.4l.3,.8l.3-.4l.3,1.3l.3-.6l.3,.9l.4-.5l.3,1l.3-.6l.3,1l.3-.5l.3,1l.4-.6l.3,1l.3-.4l.3,.8l.3-.1l.3,.8l.4-.2l.3,.8l.3-.5l.3,.9l.3-.8l.3,.9l.4-.6l.3,.6l.3-.9l.3,.6l.3-.7l.4,.5l.3-.8l.3,.3l.3-.5l.3,.6l.3-.8l.4,.6l.3-.3l.3,.8l.3-.3l.3,.9l.3-.3l.4,1.1l.3-.7l.3,1.1l.3-.8l.3,.8l.3-.7l.4,1l.3-.8l.3,.6l.3-.8l.3,.9l.3-.5l.4,.7l.3-.5l.3,1l.3-.4l.3,.9l.3-.3l.4,.8l.3-.5l.3,.8l.3-.6l.3,.4l.4-.6l.3,.4l.3-.9l.3,.6l.3-.9l.3,.6l.4-.9l.3,.8l.3-.8l.3,.8l.3-.7l.3,.9l.4-.8l.3,.9l.3-.7l.3,.6l.3-.7l.3,.7l.4-.8l.3,.8l.3-1l.3,.3l.3-.8l.3,.5l.4-1l.3,.3l.3-.8l.3,.4l.3-.9l.3,.9l.4-1.1l.3,.8l.3-1.2l.3,.5l.3-.6l.3,.4l.4-1l.3,.2l.3-.9l.3,.3l.3-1.3l.4,.3l.3-1.3l.3,.2l.3-1.2l.3,.4l.3-1l.4,.2l.3-.8l.3,1.1l.3-.9l.3,1.1l.3-.3l.4,1.2l.3-.6l.3,1.3l.3-.4l.3,.6l.3-.4l.4,.8l.3-.6l.3,.8l.3-.9l.3,.6l.3-.8l.4,.5l.3-.8l.3,.3l.3-.9l.3,.4l.3-.9l.4,.4l.3-.7l.3,.2l.3-.9l.3,.6l.4-.7l.3,.5l.3-.8l.3,.5l.3-.5l.3,.5l.4-.7l.3,.4l.3-.9l.3,.4l.3-.7l.3,.4l.4-.9l.3,.6l.3-.7l.3,.6l.3-.5l.3,.8l.4-.5l.3,.7l.3-.4l.3,.9l.3-.7l.3,.7l.4-.6l.3,.7l.3-.6l.3,.8l.3-.8l.3,.5l.4-.9l.3,.6l.3-.5l.3,.3l.3-.9l.3,.6l.4-1.2l.3,.5l.3-.9l.3,.6l.3-1l.4,.6l.3-.8l.3,.3l.3-.7l.3,.7l.3-.8l.4,.6l.3-.6l.3,.8l.3-.2l.3,.8l.3-.4l.4,1.1l.3-.4l.3,1.1l.3-.6l.3,1.1l.3-.5l.4,.7l.3-.6l.3,.6l.3-.6l.3,.6l.3-.9l.4,.5l.3-.9l.3,.8l.3-.8l.3,.6l.3-.7l.4,.9l.3-.6l.3,1.1l.3-.4l.3,.9l.3-.4l.4,.7l.3-.1l.3,.8l.3-.6l.3,.7l.4-.7l.3,1l.3-.8l.3,.8l.3-.4l.3,1l.4-.4l.3,1.2l.3-.4l.3,1l.3-.6l.3,.8l.4-.4l.3,.7l.3-.7l.3,.7l.3-.6l.3,.4l.4-.7l.3,1l.3-.8l.3,.8l.3-.6l.3,.6l.4-.4l.3,.9l.3-.8l.3,.6l.3-.5l.3,.6l.4-1l.3,.6l.3-.8l.3,.3l.3-1l.4,.3l.3-.5l.3,.4l.3-.8l.3,.7l.3-1l.4,.7l.3-.6l.3,.8l.3-.7l.3,1.1l.3-.3l.4,.8l.3-.2l.3,1l.3-.1l.3,.6l.3-.2l.4,.4l.3-.8l.3,.9l.3-1.1l.3,.2l.3-1l.4,.6l.3-1.1l.3,.4l.3-.9l.3,.4l.3-.8l.4,.7l.3-.8l.3,.7l.3-1.1l.3,.7l.3-.9l.4,.8l.3-.9l.3,.5l.3-.8l.3,.4l.4-.8l.3,.7l.3-1l.3,.7l.3-.9l.3,.7l.4-.8l.3,.3l.3-.6l.3,.7l.3-1l.3,.7l.4-.7l.3,.9l.3-.7l.3,.6l.3-.4l.3,.7l.4-.6l.3,.9l.3-.6l.3,.9l.3-.8l.3,1.1l.4-.4l.3,.9l.3-.6l.3,1.1l.3-.7l.3,1.1l.4-.8l.3,.7l.3-.6l.3,.4l.3-.7l.4,.4l.3-1.3l.3,.6l.3-1l.3,.1l.3-1l.4,.5l.3-.9l.3,.7l.3-.6l.3,.6l.3-.5l.4,.9l.3-.5l.3,.7l.3-.5l.3,.7l.3-.5l.4,.5l.3-.6l.3,.6l.3-.9l.3,.5l.3-.8l.4,.8l.3-.6l.3,.7l.3-.9l.3,.7l.3-.5l.4,.5l.3-.8l.3,.6l.3-1l.3,.8l.3-.9l.4,.7l.3-.7l.3,.8l.3-.6l.3,.9l.4-.2l.3,.9l.3-.6l.3,1l.3-.7l.3,.7l.4-.7l.3,.6l.3-.5l.3,.6l.3-.7l.3,1l.4-.5l.3,.8l.3-.5l.3,1.1l.3-.3l.3,1.2l.4-.4l.3,.9l.3-.5l.3,.8l.3-.5l.3,.6l.4-.7l.3,.4l.3-.6l.3,.2l.3-.7l.3,.6l.4-.9l.3,.7l.3-.9l.3,1.1l.3-.6l.4,.9l.3-.6l.3,.7l.3-.5l.3,.6l.3-1l.4,.4l.3-.8l.3,.2l.3-1.2l.3,.4l.3-.9l.4,.8l.3-.9l.3,.6l.3-.2l.3,.9l.3-.4l.4,1.1l.3-.5l.3,1l.3-.9l.3,.8l.3-.8l.4,.4l.3-.7l.3,.3l.3-1l.3,.6l.3-.8l.4,.7l.3-.5l.3,.7l.3-.2l.3,.7l.3-.1l.4,.8l.3-.2l.3,1l.3-.3l.3,1.4l.4-.5l.3,1.1l.3-.3l.3,1.2l.3-.6l.3,1.1l.4-.7l.3,1l.3-.9l.3,.8l.3-.7l.3,.9l.4-.6l.3,.6l.3-.7l.3,.4l.3-.5l.3,.4l.4-.7l.3,.5l.3-.7l.3,.3l.3-.7l.3,.5l.4-1l.3,.7l.3-.9l.3,.4l.3-.8l.3,.7l.4-1l.3,.9l.3-.8l.3,.7l.3-1l.3,.9l.4-.8l.3,.9l.3-.7l.3,1l.3-.4l.4,.7l.3-.5l.3,.9l.3-.7l.3,.7l.3-.6l.4,.9l.3-.7l.3,.5l.3-.7l.3,.6l.3-.6l.4,.8l.3-.5l.3,.9l.3-.4l.3,1l.3-.5l.4,.8l.3-.2l.3,.7l.3-.5l.3,1l.3-.8l.4,.9l.3-.7l.3,.6l.3-.5l.3,.7l.3-.8l.4,.5l.3-.8l.3,.6l.3-.6l.3,.5l.4-1.1l.3,.1l.3-.9l.3,.2l.3-.9l.3,.3l.4-1.3l.3,.4l.3-1l.3,.2l.3-.9l.3,.4l.4-1.3l.3,.3l.3-1.1l.3,.4l.3-1.1l.3,.4l.4-1.2l.3,0l.3-1.2l.3,.4l.3-1l.3,.1l.4-.7l.3,.5l.3-.7l.3,.9l.3-.4l.3,.8l.4-.2l.3,.8l.3-.2l.3,.8l.3-.1l.3,.7l.4-.4l.3,1.1l.3-.7l.3,1l.3-1l.4,.9l.3-.8l.3,.4l.3-.8l.3,.6l.3-.7l.4,.7l.3-.9l.3,.5l.3-.5l.3,.7l.3-.7l.4,.7l.3-.8l.3,.7l.3-.9l.3,.7l.3-.8l.4,.7l.3-.9l.3,.8l.3-.7l.3,.8l.3-.5l.4,.9l.3-.4l.3,.5l.3-.7l.3,.7l.3-.7l.4,.6l.3-.8l.3,.8l.3-.8l.3,.7l.4-.9l.3,.9l.3-.8l.3,.7l.3-.4l.3,.7l.4-.8l.3,.8l.3-.7l.3,.7l.3-.6l.3,.9l.4-.4l.3,.8l.3-.5l.3,.7l.3-.4l.3,.8l.4-.5l.3,.7l.3-.9l.3,.7l.3-1l.3,.5l.4-.6l.3,.4l.3-.8l.3,.7l.3-.9l.3,.5l.4-.9l.3,.8l.3-1.1l.3,.4l.3-.7l.3,.6l.4-.9l.3,.4l.3-.8l.3,.4l.3-.8l.4,.8l.3-.8l.3,.7l.3-.9l.3,.7l.3-.4l.4,.4l.3-.4l.3,.7l.3-.8l.3,.7l.3-.7l.4,1l.3-.7l.3,.9l.3-.8l.3,1l.3-.6l.4,.5l.3-.7l.3,.9l.3-.6l.3,.8l.3-.7l.4,.9l.3-.7l.3,.9l.3-.8l.3,.9l.3-.7l.4,1l.3-.9l.3,.9l.3-.8l.3,.6l.3-.9l.4,.7l.3-1.1l.3,.3l.3-.6l.3,.4l.4-.6l.3,.5l.3-.4l.3,.7l.3-.6l.3,.8l.4-.3l.3,.6l.3-.6l.3,.7l.3-.8l.3,.5l.4-.9l.3,.4l.3-.8l.3,.5l.3-.9l.3,.6l.4-.9l.3,.5l.3-.8l.3,.8l.3-.6l.3,.7l.4-.5l.3,1l.3-.7l.3,.8l.3-.7l.3,.8l.4-.6l.3,.9l.3-.7l.3,1.1l.3-.6l.4,.7l.3-.6l.3,1l.3-.5l.3,.6l.3-.4l.4,.6l.3-.6l.3,.6l.3-.9l.3,.6l.3-.7l.4,.3l.3-.8l.3,.3l.3-.9l.3,.9l.3-.8l.4,.7l.3-.6l.3,1.1l.3-.7l.3,.9l.3-.4l.4,1.3l.3-.7l.3,1l.3-.5l.3,1.2l.3-.6l.4,.8l.3-.4l.3,.7l.3-.6l.3,.7l.3-.6l.4,.8l.3-.7l.3,.8l.3-.8l.3,.8l.4-.9l.3,.7l.3-.8l.3,.4l.3-.5l.3,.5l.4-1l.3,.6l.3-.8l.3,.6l.3-1l.3,.5l.4-.8l.3,.4l.3-.7l.3,.6l.3-.8l.3,.7l.4-.6l.3,.7l.3-.4l.3,.5l.3-.3l.3,.7l.4-.4l.3,1l.3-.4l.3,.7l.3-.3l.3,1l.4-.5l.3,.9l.3-.4l.3,1.1l.3-.3l.4,.8l.3-.7l.3,.8l.3-.7l.3,.7l.3-1l.4,.7l.3-1.1l.3,.4l.3-.9l.3,.4l.3-.9l.4,.4l.3-.8l.3,.3l.3-.9l.3,1l.3-1l.4,.6l.3-.6l.3,.6l.3-.7l.3,.3l.3-.5l.4,.5l.3-.6l.3,.6l.3-.7l.3,.4l.3-.5l.4,.9l.3-.6l.3,.8l.3-.6l.3,.8l.3-.9l.4,.7l.3-.6l.3,.9l.3-.7l.3,1.1l.4-.8l.3,1l.3-.6l.3,.9l.3-.3l.3,.6l.4-.4l.3,.5l.3-.7l.3,.4l.3-1.1l.3,.6l.4-1l.3,.2l.3-.9l.3,.3l.3-.9l.3,.5l.4-.7l.3,.9l.3-.7l.3,1l.3-.2l.3,.8l.4,0l.3,.9l.3-.1l.3,.7l.3-.4l.3,1l.4-.9l.3,.8l.3-1l.3,.7l.3-.9l.4,.5l.3-1.1l.3,.8l.3-.9l.3,.5l.3-1l.4,.6l.3-.7l.3,.7l.3-.4l.3,.4l.3-.3l.4,.5l.3-.7l.3,1l.3-.9l.3,.7l.3-.6l.4,.9l.3-.9l.3,.9l.3-.6l.3,.9l.3-.7l.4,1l.3-.2l.3,.9l.3-.6l.3,1.1l.3-.4l.4,.6l.3-.6l.3,1.1l.3-.7l.3,.5l.3-.6l.4,.5l.3-1l.3,.7l.3-.7l.3,.7l.4-.8l.3,.5l.3-.7l.3,.4l.3-.4l.3,.4l.4-.9l.3,.7l.3-1.1l.3,.7l.3-.9l.3,.4l.4-.8l.3,.7l.3-.8l.3,.4l.3-.8l.3,.8l.4-1l.3,.7l.3-.8l.3,.9l.3-.9l.3,.8l.4-.7l.3,.6l.3-.7l.3,.5l.3-.6l.3,.6l.4-.8l.3,.8l.3-.7l.3,.3l.3-.6l.3,.8l.4-.8l.3,1l.3-.9l.3,.9l.3-.6l.4,.8l.3-.4l.3,.9l.3-.3l.3,1.2l.3-.7l.4,1.3l.3-.5l.3,.8l.3-.1l.3,.7l.3-.5l.4,1.2l.3-.6l.3,.8l.3-.5l.3,.9l.3-.6l.4,.6l.3-.7l.3,.8l.3-.7l.3,.4l.3-.5l.4,.5l.3-.6l.3,.5l.3-.6l.3,.7l.3-.6l.4,1l.3-.4l.3,.9l.3-.5l.3,1l.4-.5l.3,1l.3-.6l.3,.8l.3-.5l.3,.7l.4-.9l.3,.7l.3-.9l.3,.7l.3-1l.3,.3l.4-.7l.3,.6l.3-.9l.3,.5l.3-.6l.3,.7l.4-.5l.3,.9l.3-.6l.3,.5l.3-.6l.3,.7l.4-.5l.3,.5l.3-.9l.3,.5l.3-.7l.3,.6l.4-.7l.3,.6l.3-.7l.3,.6l.3-.5l.3,.7l.4-.6l.3,.7l.3-.5l.3,1l.3-.7l.4,1l.3-1l.3,.6l.3-1l.3,.2l.3-.9l.4,.2l.3-1.3l.3,.2l.3-1.3l.3,.3l.3-1.3l.4,.3l.3-1.4l.3,.4l.3-.8l.3,.8l.3-.6l.4,.7l.3-.7l.3,1.3l.3-.2l.3,1.1l.3-.4l.4,1l.3-.1l.3,1.2l.3-.5l.3,1.2l.3-.3l.4,.9l.3-.5l.3,.9l.3-.7l.3,.9l.4-.6l.3,.5l.3-.4l.3,.7l.3-.4l.3,1l.4-.6l.3,1.2l.3-.6l.3,.7l.3-.3l.3,.7l.4-.8l.3,.8l.3-.8l.3,.9l.3-.7l.3,.5l.4-.4l.3,.8l.3-.7l.3,.7l.3-.3l.3,.7l.4-.6l.3,.9l.3-.4l.3,.6l.3-.6l.3,.6l.4-.9l.3,.5l.3-.7l.3,.4l.3-1l.3,.8l.4-.8l.3,.4l.3-.6l.3,.9l.3-.9l.4,.8l.3-.5l.3,.7l.3-.8l.3,.7l.3-.9l.4,.4l.3-.6l.3,.5l.3-1.1l.3,.6l.3-.6l.4,.5l.3-.6l.3,.6l.3-.4l.3,.7l.3-.6l.4,.8l.3-.9l.3,.7l.3-.9l.3,.6l.3-.7l.4,.4l.3-.7l.3,.4l.3-.6l.3,.5l.3-1.1l.4,.5l.3-1.2l.3,.4l.3-.8l.3,.5l.4-1l.3,.6l.3-.7l.3,.6l.3-.9l.3,.8l.4-.5l.3,.5l.3-.5l.3,.6l.3-.5l.3,.7l.4-.6l.3,.7l.3-.8l.3,.6l.3-.6l.3,.5l.4-.9l.3,.5l.3-1.1l.3,.8l.3-1l.3,.5l.4-.5l.3,.4l.3-.4l.3,.5l.3-.6l.3,1.2l.4-.8l.3,1.1l.3-.4l.3,1.1l.3-.5l.3,.8l.4-.6l.3,.9l.3-1l.3,.8l.3-.8l.4,.4l.3-1l.3,.6l.3-1.1l.3,.6l.3-1l.4,.4l.3-.7l.3,.4l.3-1.1l.3,.8l.3-1.1l.4,.9l.3-.7l.3,.7l.3-.6l.3,.9l.3-.7l.4,.7l.3-.5l.3,.5l.3-.8l.3,.8l.3-.5l.4,.6l.3-.8l.3,.6l.3-.8l.3,.8l.3-1l.4,.6l.3-.7l.3,.5l.3-.5l.3,.5l.3-.9l.4,.7l.3-.3l.3,.6l.3-.5l.3,.8l.4-.7l.3,1l.3-.8l.3,.9l.3-.5l.3,1l.4-.6l.3,.9l.3-.6l.3,.7l.3-.3l.3,1l.4-.6l.3,.6l.3-.4l.3,.6l.3-.5l.3,.6l.4-.5l.3,.4l.3-.5l.3,.5l.3-.8l.3,.4l.4-.8l.3,.3l.3-1l.3,.7l.3-.8l.3,.9l.4-1l.3,.9l.3-.4l.3,1l.3-.4l.4,.7l.3-.4l.3,1l.3-.8l.3,1l.3-.8l.4,.5l.3-.7l.3,.6l.3-1l.3,.3l.3-1.1l.4,.5l.3-1l.3,.1l.3-1.1l.3,.4l.3-1.2l.4,.5l.3-1l.3,.4l.3-.7l.3,.5l.3-1l.4,.8l.3-.4l.3,.9l.3-.3l.3,1.1l.3-.3l.4,1.1l.3-.4l.3,.9l.3-.3l.3,.9l.3-.3l.4,1l.3-.5l.3,.9l.3-.2l.3,.7l.4-.3l.3,.9l.3-.4l.3,.7l.3-.2l.3,.7l.4-.6l.3,1.1l.3-.5l.3,1l.3-.4l.3,.7l.4-.3l.3,1.1l.3-.7l.3,.9l.3-.9l.3,.6l.4-.8l.3,.5l.3-.7l.3,.2l.3-.6l.3,.6l.4-.9l.3,.8l.3-.6l.3,.9l.3-.3l.3,.8l.4-.4l.3,1l.3-.8l.3,1.1l.3-.7l.4,.5l.3-1l.3,.4l.3-1l.3,.4l.3-1.1l.4,.3l.3-1.3l.3,.5l.3-.9l.3,.3l.3-.5l.4,.5l.3-.4l.3,1.2l.3-.5l.3,1.1l.3-.1l.4,1.2l.3-.5l.3,1.3l.3-.6l.3,1.1l.3-.8l.4,.9l.3-.9l.3,.8l.3-1l.3,.6l.3-1l.4,.1l.3-.8l.3,.4l.3-1.4l.3,.3l.3-1.1l.4,.4l.3-1l.3,.2l.3-1.1l.3,.2l.4-1l.3,.4l.3-1l.3,.4l.3-.9l.3,.7l.4-.9l.3,.7l.3-.7l.3,.5l.3-.7l.3,.8l.4-.9l.3,.7l.3-.8l.3,.7l.3-.8l.3,.6l.4-.7l.3,.6l.3-.8l.3,.6l.3-.9l.3,.3l.4-.7l.3,.4l.3-.9l.3,.4l.3-.7l.3,.1l.4-1l.3,.6l.3-.8l.3,.4l.3-.8l.4,.5l.3-.9l.3,.8l.3-.7l.3,.5l.3-.6l.4,.6l.3-.6l.3,1l.3-.7l.3,1.2l.3-.5l.4,1.1l.3-.5l.3,1l.3-.7l.3,1.1l.3-.5l.4,.8l.3-.6l.3,1l.3-.6l.3,.8l.3-.5l.4,.9l.3-.4l.3,.9l.3-.7l.3,1.1l.3-.7l.4,.6l.3-1.1l.3,.6l.3-1l.3,.3l.3-.7l.4,.3l.3-1.2l.3,.5l.3-.6l.3,.3l.4-.4l.3,.7l.3-.9l.3,.9l.3-.4l.3,1l.4-.6l.3,1l.3-.8l.3,1.1l.3-.8l.3,.5l.4-.5l.3,.3l.3-1l.3,.7l.3-1.2l.3,.7l.4-.8l.3,.4l.3-.5l.3,.9l.3-.6l.3,.9l.4-.3l.3,1.1l.3-.5l.3,1.1l.3-.4l.3,.8l.4-.4l.3,.9l.3-.3l.3,1.2l.3-.3l.3,.9l.4-.7l.3,1.1l.3-.6l.3,.7l.3-.7l.4,.9l.3-.7l.3,1l.3-.6l.3,1l.3-.4l.4,.9l.3-.4l.3,.9l.3-.7l.3,.9l.3-.7l.4,.2l.3-.8l.3,.4l.3-.9l.3,.1l.3-.8l.4,.3l.3-1.2l.3,.4l.3-1.3l.3,.5l.3-1.3l.4,.3l.3-.8l.3,.2l.3-.9l.3,.4l.3-.9l.4,.3l.3-.9l.3,.3l.3-1l.3,.3l.4-.9l.3,.5l.3-.8l.3,.3l.3-.7l.3,.8l.4-.7l.3,.4l.3-.5l.3,.7l.3-.6l.3,.9l.4-.6l.3,.8l.3-.7l.3,.7l.3-1l.3,.5l.4-.8l.3,.6l.3-.7l.3,.7l.3-.9l.3,.7l.4-.8l.3,.8l.3-.8l.3,.9l.3-.9l.3,.8l.4-.9l.3,.7l.3-.9l.3,.8l.3-1l.3,.6l.4-.8l.3,.6l.3-.8l.3,.3l.3-.8l.4,.4l.3-.7l.3,.4l.3-.9l.3,.4l.3-1l.4,.4l.3-.7l.3,.4l.3-.6l.3,.6l.3-.9l.4,.8l.3-.6l.3,.7l.3-.6l.3,.8l.3-.3l.4,1l.3-.3l.3,.9l.3-.4l.3,1.2l.3-.3l.4,1.1l.3-.4l.3,.8l.3-.5l.3,.9l.3-.6l.4,.9l.3-.8l.3,.8l.3-.6l.3,.7l.4-1l.3,.8l.3-.7l.3,.5l.3-1l.3,.2l.4-1l.3,.5l.3-.9l.3,.1l.3-.9l.3,.8l.4-.7l.3,.7l.3-.6l.3,.9l.3-.1l.3,1.2l.4-.5l.3,1.4l.3-.6l.3,1.1l.3-.4l.3,1l.4-.6l.3,.8l.3-.7l.3,.8l.3-.7l.3,.7l.4-.8l.3,.6l.3-.7l.3,1.2l.3-.5l.3,.8l.4-.2l.3,1.1l.3-.3l.3,1.5l.3-.3l.4,1l.3-.5l.3,1l.3-.5l.3,.6l.3-.5l.4,.8l.3-.7l.3,.7l.3-.6l.3,.7l.3-.6l.4,1l.3-.5l.3,.9l.3-.3l.3,.9l.3-.6l.4,.9l.3-.5l.3,.7l.3-.7l.3,.6l.3-.7l.4,.7l.3-.8l.3,1l.3-.7l.3,.5l.3-.8l.4,.6l.3-.5l.3,.5l.3-1l.3,.8l.4-1l.3,.5l.3-.6l.3,.3l.3-.5l.3,.6l.4-1.1l.3,.8l.3-.8l.3,.6l.3-.5l.3,.5l.4-.7l.3,.8l.3-.8l.3,.8l.3-.5l.3,.5l.4-.8l.3,.8l.3-.9l.3,.9l.3-.8l.3,.7l.4-1l.3,.9l.3-1l.3,.9l.3-.7l.3,.6l.4-1l.3,.4l.3-1l.3,.4l.3-1.2l.3,.3l.4-.6l.3,.2l.3-.8l.3,.5l.3-.6l.4,.5l.3-.6l.3,.9l.3-.4l.3,.9l.3-.6l.4,.9l.3-.7l.3,1l.3-.8l.3,.5l.3-.8l.4,.7l.3-.9l.3,.4l.3-.7l.3,.3l.3-.9l.4,.7l.3-.8l.3,.4l.3-.7l.3,.7l.3-.9l.4,.7l.3-.5l.3,.9l.3-.7l.3,1l.3-.8l.4,1l.3-.6l.3,.7l.3-.6l.3,.5l.3-.9l.4,.6l.3-.8l.3,.5l.3-1.2l.3,.3l.4-.7l.3,.2l.3-.8l.3,.8l.3-.9l.3,.9l.4-.5l.3,.9l.3-.4l.3,.9l.3-.2l.3,.8l.4-.6l.3,.9l.3-.3l.3,.7l.3-.9l.3,.8l.4-.8l.3,.5l.3-.5l.3,.5l.3-.7l.3,.6l.4-1l.3,.4l.3-.8l.3,.5l.3-.9l.3,.3l.4-.7l.3,.7l.3-.6l.3,.6l.3-.6l.4,.9l.3-.9l.3,.7l.3-.7l.3,.4l.3-1l.4,.5l.3-.9l.3,.5l.3-.9l.3,.4l.3-1l.4,.7l.3-.8l.3,.8l.3-.9l.3,1l.3-.7l.4,.7l.3-.8l.3,.6l.3-1l.3,.6l.3-1.1l.4,.6l.3-1l.3,.2l.3-1l.3,.2l.3-.8l.4,.5l.3-1.1l.3,.4l.3-.7l.3,.3l.3-.6l.4,.5l.3-.7l.3,.9l.3-.5l.3,.6l.4-.3l.3,.9l.3-.6l.3,1.1l.3-.6l.3,.6l.4-.6l.3,.9l.3-.7l.3,.8l.3-.9l.3,.7l.4-.7l.3,.6l.3-.6l.3,.6l.3-.8l.3,.9l.4-.7l.3,.7l.3-.4l.3,.9l.3-.7l.3,1.3l.4-.7l.3,1l.3-.5l.3,.8l.3-.7l.3,.7l.4-.7l.3,.9l.3-.5l.3,.4l.3-.5l.4,.7l.3-.5l.3,1l.3-.7l.3,.7l.3-.4l.4,1.2l.3-.6l.3,.7l.3-.2l.3,.6l.3-.5l.4,.8l.3-.6l.3,.6l.3-.9l.3,.3l.3-.8l.4,.2l.3-.9l.3,.6l.3-1.1l.3,.3l.3-.9l.4,.5l.3-.8l.3,.8l.3-1l.3,.7l.3-.7l.4,.5l.3-.6l.3,.5l.3-1.1l.3,.7l.3-.9l.4,.7l.3-.7l.3,.4l.3-.5l.3,.6l.4-.4l.3,.6l.3-.4l.3,.9l.3-.4l.3,.7l.4-.4l.3,.9l.3-.6l.3,.7l.3-.7l.3,.5l.4-.6l.3,.8l.3-.8l.3,.5l.3-1l.3,1l.4-.8l.3,.8l.3-.5l.3,.7l.3-.3l.3,1.1l.4-.5l.3,.9l.3-.3l.3,.7l.3-.8l.3,.7l.4-1.1l.3,.6l.3-.7l.3,.4l.3-.7l.3,.4l.4-.8l.3,.8l.3-.6l.3,.9l.3-.4l.4,.9l.3-.3l.3,1l.3-.5l.3,1.1l.3-.5l.4,1.1l.3-.4l.3,.8l.3-.3l.3,.7l.3-.8l.4,.7l.3-1.2l.3,.6l.3-1l.3,.2l.3-.9l.4,.3l.3-1l.3,.6l.3-.9l.3,.6l.3-.8l.4,.9l.3-.4l.3,.9l.3-.6l.3,.9l.3-.5l.4,1l.3-.4l.3,1l.3-.5l.3,.9l.4-.3l.3,.6l.3-.4l.3,1l.3-.4l.3,.5l.4-.5l.3,.6l.3-.9l.3,.7l.3-.9l.3,.4l.4-1.1l.3,.1l.3-.8l.3,.5l.3-.9l.3,.4l.4-.5l.3,.6l.3-.7l.3,1l.3-.8l.3,1.1l.4-.8l.3,1l.3-.7l.3,.4l.3-.7l.3,.7l.4-.9l.3,.4l.3-1l.3,.5l.3-1.1l.3,.8l.4-1l.3,.5l.3-.4l.3,.5l.3-.6l.4,.6l.3-.7l.3,1l.3-1l.3,.8l.3-.9l.4,.6l.3-.9l.3,.5l.3-.7l.3,.7l.3-.9l.4,.6l.3-1.1l.3,.8l.3-.7l.3,1l.3-.5l.4,.6l.3-.4l.3,1l.3-.5l.3,1.1l.3-.6l.4,.9l.3-.2l.3,.8l.3-.5l.3,1.1l.3-.6l.4,1.2l.3-.5l.3,.8l.3-.4l.3,.7l.4-.6l.3,.7l.3-.8l.3,.4l.3-.9l.3,.7l.4-.9l.3,.9l.3-1l.3,.8l.3-.6l.3,.7l.4-.6l.3,.8l.3-1l.3,.6l.3-.8l.3,.6l.4-1l.3,.1l.3-1l.3,0l.3-.9l.3,.1l.4-1.1l.3,.1l.3-1l.3,.8l.3-1.1l.3,.8l.4-.7l.3,.9l.3-.6l.3,1l.3-.5l.3,1.2l.4-.5l.3,1.1l.3-.3l.3,.9l.3-.3l.4,.8l.3-.8l.3,.6l.3-.6l.3,.7l.3-.6l.4,.7l.3-.9l.3,.6l.3-.9l.3,.5l.3-.8l.4,.6l.3-.8l.3,.5l.3-.9l.3,.9l.3-.9l.4,.4l.3-.7l.3,.3l.3-.6l.3,.6l.3-.8l.4,.7l.3-.6l.3,.6l.3-.4l.3,.7l.3-.5l.4,.6l.3-.6l.3,1l.3-.5l.3,.8l.4-.4l.3,.8l.3-.2l.3,.9l.3-.3l.3,1l.4-.4l.3,.6l.3-.2l.3,.7l.3-.7l.3,.8l.4-.7l.3,.6l.3-.6l.3,.5l.3-.6l.3,.6l.4-.7l.3,.7l.3-.8l.3,1l.3-.9l.3,.9l.4-.5l.3,.9l.3-.6l.3,.8l.3-.8l.3,.9l.4-.6l.3,.9l.3-.7l.3,.7l.3-.5l.3,.9l.4-.7l.3,.9l.3-.6l.3,1l.3-.5l.4,.5l.3-.4l.3,.8l.3-.5l.3,.8l.3-.3l.4,.7l.3-.5l.3,.7l.3-.8l.3,.8l.3-.6l.4,.6l.3-.7l.3,.5l.3-.9l.3,.5l.3-.6l.4,.3l.3-.9l.3,.7l.3-.7l.3,.4l.3-.8l.4,.6l.3-1l.3,.5l.3-1.3l.3,.7l.3-1l.4,.2l.3-.9l.3,.6l.3-1.1l.3,.5l.3-.8l.4,.5l.3-.7l.3,.6l.3-1l.3,.7l.4-.9l.3,.9l.3-.7l.3,.9l.3-.2l.3,.9l.4-.6l.3,1.1l.3-.7l.3,1.1l.3-.6l.3,.6l.4-.7l.3,.8l.3-.7l.3,.6l.3-.9l.3,.7l.4-.8l.3,.4l.3-.5l.3,.6l.3-1.2l.3,.5l.4-.7l.3,.2l.3-1.2l.3,.4l.3-1.1l.3,.5l.4-1.1l.3,.4l.3-1l.3,.7l.3-.8l.4,.8l.3-.4l.3,.9l.3-.4l.3,.9l.3-.5l.4,1l.3-.2l.3,.9l.3-.4l.3,.9l.3-.7l.4,.7l.3-.5l.3,.6l.3-.8l.3,1l.3-.7l.4,.8l.3-.1l.3,.7l.3-.1l.3,.7l.3-.4l.4,1.1l.3-.7l.3,.7l.3-.9l.3,.8l.3-1.2l.4,.5l.3-1l.3,.4l.3-1.1l.3,.7l.3-1.1l.4,.9l.3-1l.3,.9l.3-.7l.3,1.1l.4-.6l.3,.9l.3-.3l.3,.8l.3-.3l.3,.8l.4-.5l.3,1.1l.3-.7l.3,1l.3-.8l.3,1.1l.4-.7l.3,.8l.3-.5l.3,.7l.3-.6l.3,.6l.4-.4l.3,.4l.3-.8l.3,.2l.3-1l.3,.5l.4-1.2l.3,.6l.3-1l.3,.3l.3-.7l.3,.7l.4-.9l.3,1l.3-.8l.3,.9l.3-.6l.4,1l.3-.8l.3,.7l.3-.7l.3,.8l.3-.8l.4,.7l.3-.9l.3,.6l.3-.7l.3,.7l.3-.8l.4,.4l.3-.6l.3,.6l.3-.5l.3,.7l.3-.7l.4,.7l.3-.5l.3,.8l.3-.6l.3,.7l.3-.6l.4,.6l.3-.7l.3,.6l.3-.8l.3,.2l.3-.7l.4,.5l.3-.5l.3,.3l.3-.3l.3,.7l.3-.6l.4,1.1l.3-.2l.3,.7l.3-.4l.3,1l.4-.6l.3,.5l.3-.7l.3,.7l.3-1l.3,.7l.4-.9l.3,.6l.3-.8l.3,.5l.3-.9l.3,.7l.4-.6l.3,.5l.3-.6l.3,.6l.3-.5l.3,.7l.4-.9l.3,.9l.3-.8l.3,.7l.3-.5l.3,.9l.4-.6l.3,.8l.3-.8l.3,1.1l.3-.7l.3,1.1l.4-.6l.3,.9l.3-.3l.3,.6l.3-.4l.4,.6l.3-.5l.3,.9l.3-.3l.3,.8l.3-.3l.4,.7l.3-.1l.3,.8l.3-.3l.3,.9l.3-.8l.4,1.1l.3-.9l.3,.9l.3-.8l.3,.6l.3-.7l.4,.4l.3-.9l.3,.7l.3-1l.3,.4l.3-.9l.4,.6l.3-1l.3,.5l.3-.5l.3,.5l.3-.7l.4,.6l.3-.6l.3,.7l.3-.8l.3,.8l.3-.6l.4,.4l.3-.9l.3,.8l.3-1l.3,.3l.4-.5l.3,.3l.3-.5l.3,.5l.3-.6l.3,.9l.4-.6l.3,.7l.3-.6l.3,1l.3-.8l.3,.7l.4-.7l.3,.6l.3-1l.3,.6l.3-.7l.3,.5l.4-.6l.3,.6l.3-.6l.3,1l.3-.7l.3,.8l.4-.1l.3,.6l.3-.5l.3,.9l.3-.6l.3,.4l.4-.7l.3,.5l.3-.9l.3,.4l.3-.8l.3,.5l.4-1l.3,.9l.3-.8l.3,.9l.3-.7l.4,.9l.3-.3l.3,.6l.3-.6l.3,1l.3-.7l.4,1l.3-.8l.3,.8l.3-.7l.3,1l.3-.7l.4,.8l.3-.6l.3,.7l.3-.6l.3,.6l.3-.7l.4,.4l.3-.7l.3,.9l.3-.7l.3,.9l.3-.4l.4,1l.3-.3l.3,1.1l.3-.3l.3,.9l.3-.3l.4,1.2l.3-.4l.3,.6l.3-.4l.3,.8l.4-.6l.3,.5l.3-.8l.3,.6l.3-.7l.3,.5l.4-.6l.3,.7l.3-.8l.3,.5l.3-.7l.3,1l.4-.8l.3,.8l.3-.7l.3,.8l.3-.6l.3,.8l.4-.8l.3,.9l.3-.3l.3,.8l.3-.6l.3,.7l.4-.6l.3,.6l.3-.6l.3,.6l.3-.9l.3,.4l.4-.6l.3,.7l.3-.9l.3,.8l.3-.8l.3,.9l.4-.5l.3,1l.3-.7l.3,1l.3-.5l.4,.9l.3-.3l.3,.5l.3-.5l.3,.5l.3-.8l.4,.9l.3-.8l.3,.4l.3-.8l.3,.8l.3-1l.4,.6l.3-.7l.3,.5l.3-1l.3,.7l.3-1l.4,.6l.3-.7l.3,1l.3-.5l.3,.8l.3-.2l.4,1l.3-.3l.3,1l.3-.6l.3,.9l.3-.5l.4,.6l.3-.8l.3,.6l.3-1.3l.3,.5l.4-.9l.3,.1l.3-.9l.3,.7l.3-.9l.3,.6l.4-.8l.3,.7l.3-.9l.3,.8l.3-.9l.3,.5l.4-.7l.3,.5l.3-.6l.3,.8l.3-.7l.3,.7l.4-.5l.3,.5l.3-.5l.3,.6l.3-.7l.3,.8l.4-.6l.3,.6l.3-.7l.3,.8l.3-.7l.3,.7l.4-.3l.3,.9l.3-.5l.3,.7l.3-.5l.3,1.1l.4-.5l.3,.9l.3-.8l.3,.9l.3-1l.4,.6l.3-1l.3,.5l.3-.8l.3,.6l.3-1l.4,.7l.3-1l.3,.9l.3-.9l.3,.7l.3-1.1l.4,.9l.3-1.1l.3,.6l.3-.6l.3,.6l.3-.6l.4,.7l.3-.5l.3,.7l.3-.2l.3,.8l.3-.5l.4,.8l.3-.3l.3,.9l.3-.5l.3,.7l.3-.5l.4,.9l.3-.4l.3,.6l.3-.6l.3,.9l.3-.5l.4,.8l.3-.8l.3,.8l.3-.8l.3,.6l.4-.9l.3,.7l.3-.8l.3,.7l.3-.7l.3,.7l.4-.6l.3,.9l.3-.6l.3,.9l.3-.3l.3,1.1l.4-.3l.3,.9l.3-.4l.3,1l.3-.1l.3,.7l.4-.2l.3,.9l.3-.7l.3,.9l.3-1l.3,.9l.4-.8l.3,.5l.3-.8l.3,.3l.3-.9l.3,.3l.4-1.2l.3,.5l.3-1.3l.3,.3l.3-1.1l.4,.6l.3-1.3l.3,.6l.3-.8l.3,.7l.3-.8l.4,.6l.3-.6l.3,.6l.3-.5l.3,.8l.3-.8l.4,1l.3-.8l.3,.6l.3-.5l.3,.8l.3-.6l.4,.6l.3-.7l.3,.8l.3-.7l.3,.5l.3-1l.4,.4l.3-.9l.3,.6l.3-.9l.3,.4l.3-.8l.4,.9l.3-1l.3,.9l.3-.7l.3,.3l.3-.7l.4,.5l.3-.6l.3,.4l.3-1.1l.3,.4l.4-.8l.3,.5l.3-1l.3,.6l.3-1.1l.3,.7l.4-1l.3,.5l.3-1l.3,.5l.3-.8l.3,.2l.4-.9l.3,.7l.3-.9l.3,.7l.3-1l.3,1l.4-1l.3,1l.3-.9l.3,.4l.3-.7l.3,.2l.4-.8l.3,.3l.3-1.2l.3,.2l.3-1l.3,.1l.4-1l.3,.3l.3-.9l.3,.4l.3-.7l.4,.6l.3-.9l.3,.8l.3-.3l.3,.8l.3-.4l.4,1l.3-.1l.3,1.4l.3-.5l.3,1.4l.3-.3l.4,1.4l.3-.3l.3,1.1l.3-.3l.3,.9l.3-.5l.4,.9l.3-.7l.3,.7l.3-.6l.3,.4l.3-.9l.4,.7l.3-.6l.3,.3l.3-1l.3,.8l.3-1l.4,.6l.3-.8l.3,.6l.3-.5l.3,.6l.3-.7l.4,.6l.3-.5l.3,.5l.3-.4l.3,.5l.4-.6l.3,.4l.3-.9l.3,.4l.3-1.2l.3,.5l.4-1.2l.3,.2l.3-1.2l.3,.3l.3-1.1l.3,.5l.4-1.2l.3,.8l.3-1l.3,.9l.3-.6l.3,.7l.4-.4l.3,1l.3-.8l.3,1l.3-.5l.3,.5l.4-.6l.3,.8l.3-1l.3,.4l.3-.8l.3,.7l.4-.9l.3,.7l.3-.9l.3,.5l.3-.5l.4,.3l.3-.6l.3,.8l.3-.5l.3,.6l.3-.4l.4,.7l.3-.4l.3,1l.3-.7l.3,.9l.3-.8l.4,.7l.3-.5l.3,.5l.3-.6l.3,.5l.3-1l.4,.7l.3-.8l.3,.6l.3-.7l.3,.7l.3-.7l.4,.8l.3-.6l.3,1.2l.3-.7l.3,1.1l.3-.4l.4,.6l.3-.3l.3,.5l.3-.5l.3,.6l.3-.7l.4,.8l.3-.7l.3,.3l.3-.6l.3,.4l.4-.8l.3,.6l.3-.9l.3,.3l.3-.9l.3,.6l.4-1.1l.3,.8l.3-1.1l.3,.7l.3-1.1l.3,.8l.4-1l.3,1l.3-.8l.3,.6l.3-.4l.3,.7l.4-.4l.3,.9l.3-.9l.3,1l.3-.2l.3,.9l.4-.4l.3,1l.3-.2l.3,1.3l.3-.3l.3,1.1l.4-.2l.3,1.1l.3-.5l.3,.9l.3-.6l.3,1l.4-.7l.3,.9l.3-.7l.3,.8l.3-.7l.4,.7l.3-.8l.3,.9l.3-.7l.3,.5l.3-1l.4,.6l.3-.6l.3,.7l.3-.9l.3,.8l.3-.4l.4,.9l.3-.5l.3,.9l.3-.2l.3,1.1l.3-.6l.4,1l.3-.6l.3,.8l.3-.9l.3,.3l.3-.9l.4,.3l.3-.8l.3,.1l.3-.9l.3,.5l.3-1.1l.4,.5l.3-.7l.3,.6l.3-1.1l.3,.8l.4-1.2l.3,.8l.3-.9l.3,.5l.3-1.1l.3,.8l.4-.8l.3,.8l.3-.4l.3,.6l.3-.3l.3,1l.4-.3l.3,1.1l.3-.2l.3,1.2l.3-.4l.3,.7l.4-.6l.3,1l.3-.7l.3,.7l.3-.7l.3,.6l.4-.5l.3,1l.3-.6l.3,.9l.3-.6l.3,1l.4-.4l.3,.7l.3-.7l.3,.7l.3-.6l.3,.9l.4-.8l.3,.6l.3-.6l.3,1l.3-.6l.4,1.1l.3-.3l.3,.9l.3-.4l.3,1.2l.3-.6l.4,1.1l.3-.6l.3,.9l.3-.5l.3,1l.3-.8l.4,.9l.3-.9l.3,.8l.3-.8l.3,.6l.3-.9l.4,.6l.3-.9l.3,.2l.3-.9l.3,.3l.3-1.1l.4,.5l.3-1l.3,.2l.3-1l.3,.4l.3-.7l.4,.7l.3-.6l.3,.9l.3-.4l.3,1.1l.4-.4l.3,1.2l.3-.2l.3,.7l.3-.3l.3,.6l.4-.8l.3,.6l.3-.9l.3,.6l.3-.7l.3,.3l.4-.8l.3,.5l.3-.5l.3,.8l.3-.8l.3,.6l.4-.6l.3,.7l.3-.7l.3,.7l.3-.6l.3,.4l.4-.8l.3,.6l.3-.8l.3,.6l.3-1l.3,.5l.4-.7l.3,.3l.3-.9l.3,.6l.3-1l.3,.5l.4-1l.3,.6l.3-1.1l.3,0l.3-1.1l.4,.3l.3-1l.3,.1l.3-1.2l.3,.3l.3-.9l.4,.1l.3-1l.3,.7l.3-1l.3,.3l.3-.8l.4,.6l.3-.7l.3,.8l.3-.5l.3,.6l.3-.4l.4,.9l.3-.5l.3,.8l.3-.5l.3,1.2l.3-.7l.4,1.1l.3-.4l.3,.7l.3-.4l.3,1.1l.3-.4l.4,1l.3-.3l.3,1l.3-.5l.3,1l.4-.3l.3,.8l.3-.7l.3,1l.3-.6l.3,.7l.4-.5l.3,.6l.3-.5l.3,.5l.3-.8l.3,.6l.4-.6l.3,.6l.3-1l.3,.8l.3-.8l.3,.7l.4-.7l.3,.8l.3-.8l.3,.7l.3-.7l.3,.9l.4-.9l.3,.7l.3-.8l.3,.7l.3-1.1l.3,.6l.4-.7l.3,.4l.3-.6l.3,.4l.3-.8l.3,.8l.4-.4l.3,.8l.3-.6l.3,.8l.3-.3l.4,.8l.3-.5l.3,.5l.3-.6l.3,.9l.3-.9l.4,.8l.3-1l.3,1l.3-.9l.3,.8l.3-.5l.4,.6l.3-.2l.3,1l.3-.4l.3,1l.3-.6l.4,.9l.3-.4l.3,.7l.3-1l.3,.6l.3-.9l.4,.5l.3-.9l.3,.4l.3-.7l.3,.4l.3-.6l.4,.5l.3-.7l.3,1l.3-.5l.3,.8l.3-.3l.4,1.1l.3-.8l.3,1l.3-.7l.3,.6l.4-.9l.3,.8l.3-1l.3,.4l.3-1.1l.3,.4l.4-1.2l.3,.4l.3-.7l.3,.5l.3-1l.3,.9l.4-.8l.3,.8l.3-.7l.3,.9l.3-.8l.3,.7l.4-.4l.3,.6l.3-.6l.3,.4l.3-.8l.3,.6l.4-.6l.3,.6l.3-1l.3,.5l.3-1.2l.3,.7l.4-1l.3,.1l.3-1l.3,.3l.3-1l.4,.6l.3-1l.3,.5l.3-.6l.3,.5l.3-.7l.4,.8l.3-.5l.3,.9l.3-.5l.3,1.1l.3-.6l.4,.9l.3-.3l.3,.8l.3-.7l.3,1.1l.3-.6l.4,.7l.3-.6l.3,.9l.3-.8l.3,.7l.3-1l.4,.5l.3-.7l.3,.2l.3-.8l.3,.4l.3-1l.4,.3l.3-.9l.3,.8l.3-1l.3,.8l.3-.9l.4,.8l.3-1l.3,.9l.3-.9l.3,.7l.4-.9l.3,.6l.3-.9l.3,.3l.3-.8l.3,.7l.4-1l.3,.5l.3-1l.3,.7l.3-.6l.3,.5l.4-.6l.3,.8l.3-.8l.3,.7l.3-.7l.3,.7l.4-.9l.3,.4l.3-.7l.3,.3l.3-1.2l.3,.5l.4-1.1l.3,.4l.3-1.3l.3,.4l.3-.8l.3,.3l.4-.6l.3,.7l.3-.8l.3,1.4l.3-.4l.4,1.2l.3-.1l.3,1.7l.3-.1l.3,1.4l.3-.1l.4,1.5l.3-.4l.3,1.5l.3-.4l.3,.7l.3-.2l.4,.6l.3-.9l.3,.7l.3-.8l.3,.8l.3-.7l.4,.6l.3-.5l.3,.8l.3-.4l.3,1.2l.3-.5l.4,1l.3-.1l.3,.9l.3-.5l.3,.6l.3-.7l.4,.6l.3-.8l.3,.7l.3-1l.3,.8l.3-.8l.4,.5l.3-.3l.3,.7l.3-.4l.3,1.1l.4,.1l.3,1l.3,.1l.3,1.4l.3-.2l.3,1.1l.4-.2l.3,1.4l.3-.6l.3,.9l.3-.3l.3,.8l.4-.6l.3,1l.3-.6l.3,.6l.3-.8l.3,.9l.4-.6l.3,.7l.3-.7l.3,.5l.3-.9l.3,.4l.4-.9l.3,.5l.3-.8l.3,.7l.3-.8l.3,.6l.4-.9l.3,.6l.3-.7l.3,.6l.3-.7l.4,.4l.3-.9l.3,.8l.3-.9l.3,.8l.3-.7l.4,.4l.3-.5l.3,.7l.3-.8l.3,.9l.3-.5l.4,.7l.3-.2l.3,.9l.3-.8l.3,.8l.3-.7l.4,.9l.3-.8l.3,.3l.3-.6l.3,.3l.3-.9l.4,.5l.3-.9l.3,.5l.3-1l.3,.7l.3-.8l.4,.7l.3-.7l.3,.3l.3-.6l.3,.2l.3-1l.4,.1l.3-1.3l.3-.1l.3-1.3l.3,.2l.4-1.6l.3,.2l.3-1.1l.3,0l.3-.9l.3,.4l.4-.9l.3,.8l.3-.6l.3,.7l.3-.7l.3,.5l.4-.7l.3,.5l.3-.6l.3,.7l.3-1.1l.3,.5l.4-.5l.3,.5l.3-.5l.3,.8l.3-.6l.3,.8l.4-.7l.3,1l.3-.9l.3,.9l.3-.9l.3,.6l.4-.8l.3,.6l.3-.6l.3,.4l.3-.5l.3,.6l.4-.8l.3,.9l.3-.6l.3,.8l.3-.8l.4,1l.3-1l.3,.8l.3-.5l.3,.6l.3-.7l.4,.6l.3-.4l.3,.8l.3-.8l.3,.6l.3-.8l.4,.8l.3-.9l.3,.5l.3-.6l.3,.5l.3-1.1l.4,.5l.3-.6l.3,.4l.3-.7l.3,.7l.3-.8l.4,.6l.3-.8l.3,.7l.3-.6l.3,.7l.3-.6l.4,.7l.3-.7l.3,.8l.3-.8l.3,.9l.4-.7l.3,.8l.3-.3l.3,.8l.3-.5l.3,.9l.4-.3l.3,.7l.3-.4l.3,1.1l.3-.7l.3,1.1l.4-.6l.3,.7l.3-.7l.3,.7l.3-.5l.3,.9l.4-.9l.3,.9l.3-.5l.3,.7l.3-.6l.3,.9l.4-.6l.3,1.1l.3-.7l.3,.5l.3-.7l.3,.5l.4-1l.3,.3l.3-1.3l.3,.2l.3-.9l.3,.2l.4-1.3l.3,.2l.3-1.3l.3,.4l.3-1.3l.4,.2l.3-1.1l.3,.7l.3-.8l.3,1l.3-.5l.4,.9l.3-.3l.3,1l.3-.5l.3,1.2l.3-.4l.4,.7l.3-.8l.3,.8l.3-.9l.3,.5l.3-.5l.4,.6l.3-.9l.3,.6l.3-.6l.3,.6l.3-.9l.4,1l.3-.8l.3,1.1l.3-.7l.3,.9l.3-.4l.4,.8l.3-.8l.3,.8l.3-.4l.3,.9l.4-1l.3,.9l.3-1l.3,.8l.3-.7l.3,.6l.4-.6l.3,.6l.3-.4l.3,.6l.3-.6l.3,.8l.4-.7l.3,.7l.3-.5l.3,.9l.3-.7l.3,1.1l.4-.7l.3,.9l.3-.6l.3,.7l.3-.6l.3,.9l.4-.5l.3,1l.3-.6l.3,.9l.3-.7l.3,1l.4-.5l.3,.6l.3-.6l.3,.6l.3-.4l.3,.8l.4-.7l.3,.7l.3-.4l.3,.8l.3-.6l.4,.8l.3-.4l.3,.7l.3-.6l.3,.9l.3-.5l.4,.5l.3-.6l.3,.8l.3-.6l.3,.8l.3-.9l.4,.8l.3-.9l.3,.6l.3-.5l.3,.7l.3-.6l.4,.5l.3-.5l.3,1.1l.3-.7l.3,1.3l.3-.6l.4,1.1l.3-.3l.3-2.5l.3-8.4l.3-7.1l.3-5.4l.4,1.1l.3-.4l.3,.9l.3-.2l.3,1l.4-.6l.3,.7l.3-.3l.3,.7l.3-.6l.3,1.2l.4-.8l.3,1l.3-.5l.3,1l.3-.5l.3,1.3l.4,0l.3,.9l.3-.1l.3,1.5l.3-.3l.3,1.1l.4-.3l.3,.8l.3-.5l.3,1.1l.3-.8l.3,1l.4-.6l.3,.7l.3-.8l.3,.7l.3-.4l.3,.7l.4-.8l.3,.5l.3-.4l.3,.5l.3-.4l.3,.5l.4-.6l.3,.7l.3-.5l.3,.6l.3-.6l.4,1l.3-.6l.3,.9l.3-.8l.3,1l.3-.4l.4,.8l.3-.4l.3,.7l.3-.5l.3,.9l.3-.8l.4,1l.3-.7l.3,.8l.3-.5l.3,.6l.3-.8l.4,.9l.3-.6l.3,.7l.3-.4l.3,.9l.3-.6l.4,.9l.3-.4l.3,.7l.3-.5l.3,.8l.3-.6l.4,.7l.3-.9l.3,.5l.3-.8l.3,.6l.3-.7l.4,.6l.3-.7l.3,.9l.3-.8l.3,.6l.4-.6l.3,.6l.3-.8l.3,.9l.3-.6l.3,.7l.4-.5l.3,.7l.3-.4l.3,.8l.3-.8l.3,1l.4-.5l.3,.7l.3-.8l.3,.3l.3-.8l.3,.4l.4-.8l.3,.6l.3-.9l.3,.5l.3-.6l.3,.4l.4-.5l.3,.7l.3-.6l.3,.9l.3-.7l.3,.8l.4-.6l.3,.8l.3-.6l.3,.4l.3-.4l.4,.4l.3-.7l.3,.9l.3-.7l.3,1l.3-.8l.4,1l.3-.5l.3,1.2l.3-.4l.3,.8l.3-.5l.4,1.1l.3-.4l.3,.9l.3-.4l.3,.8l.3-.6l.4,.8l.3-.9l.3,.7l.3-.9l.3,.6l.3-1l.4,.3l.3-.7l.3,.4l.3-1.1l.3,.3l.3-.8l.4,.6l.3-.4l.3,.6l.3-.5l.3,.8l.3-.4l.4,.8l.3-.6l.3,1l.3-.3l.3,.9l.4-.5l.3,1.2l.3-.5l.3,1l.3-.4l.3,.8l.4-.7l.3,.6l.3-.8l.3,.4l.3-1l.3,.6l.4-1.1l.3,.4l.3-.9l.3,.5l.3-1.1l.3,.7l.4-.8l.3,.6l.3-.6l.3,.8l.3-.7l.3,.9l.4-.8l.3,1l.3-.6l.3,.7l.3-.9l.3,1l.4-.6l.3,.5l.3-.7l.3,.4l.3-.6l.4,.3l.3-.8l.3,.3l.3-.7l.3,.2l.3-.8l.4,.4l.3-1l.3,.9l.3-.7l.3,.7l.3-.6l.4,.7l.3-.7l.3,1l.3-.7l.3,.3l.3-.9l.4,.6l.3-1.1l.3,.4l.3-12.9l.3,1.3l.3,.4l.4,1.3l.3,.6l.3,1.7l.3,.7l.3,1.8l.3,.5l.4,1.8l.3,.5l.3,2l.3,.2l.3,2l.3,.1l.4,1l.3-.6l.3,.7l.3-.6l.3,.7l.4-.5l.3,.5l.3-.6l.3,.7l.3-.6l.3,.5l.4-.9l.3,.8l.3-.8l.3,.7l.3-.9l.3,.6l.4-.7l.3,.4l.3-.5l.3,.5l.3-.7l.3,.4l.4-1l.3,.5l.3-.9l.3,.2l.3-.8l.3,.2l.4-1l.3,.2l.3-1.1l.3,.7l.3-.7l.3,.5l.4-.3l.3,.9l.3-.4l.3,1.1l.3-.1l.3,1.1l.4-.1l.3,1.1l.3-.2l.3,.7l.3-.5l.4,.7l.3-.6l.3,.8l.3-.8l.3,.7l.3-.9l.4,1l.3-.7l.3,.6l.3-.6l.3,.9l.3-.5l.4,.9l.3-.8l.3,.9l.3-.7l.3,.6l.3-.7l.4,.9l.3-.8l.3,.5l.3-.8l.3,.7l.3-.8l.4,.7l.3-.9l.3,.8l.3-.8l.3,.7l.3-.5l.4,.9l.3-.7l.3,1.2l.3-.6l.3,1l.4-.4l.3,.9l.3-.7l.3,.8l.3-1l.3,.7l.4-1l.3,.4l.3-.9l.3,.7l.3-.9l.3,.3l.4-.6l.3,.5l.3-.7l.3,.9l.3-.3l.3,.8l.4-.5l.3,.8l.3-.3l.3,.8l.3-.6l.3,.9l.4-.7l.3,.8l.3-.6l.3,.5l.3-.7l.3,.4l.4-.8l.3,.4l.3-.7l.3,.4l.3-.6l.3,.5l.4-.6l.3,.6l.3-.6l.3,.8l.3-.9l.4,1.1l.3-.6l.3,.6l.3-.6l.3,.7l.3-.4l.4,.7l.3-.6l.3,.7l.3-.4l.3,.8l.3-.7l.4,.5l.3-.6l.3,.5l.3-.8l.3,.8l.3-.7l.4,.7l.3-.8l.3,1.2l.3-.7l.3,.8l.3-.4l.4,1l.3-.6l.3,.5l.3-.4l.3,.5l.3-.9l.4,.6l.3-.8l.3,.4l.3-.7l.3,.5l.4-.5l.3,.5l.3-.5l.3,.6l.3-.6l.3,.5l.4-.6l.3,.5l.3-.9l.3,.4l.3-1l.3,.5l.4-.8l.3,.2l.3-.5l.3,.6l.3-.9l.3,.9l.4-.5l.3,.8l.3-.4l.3,1.1l.3-.4l.3,1l.4-.3l.3,.9l.3-.5l.3,1.1l.3-.5l.3,1l.4-.7l.3,.7l.3-.3l.3,.7l.3-.7l.3,.9l.4-.8l.3,1l.3-.8l.3,.8l.3-.9l.4,.6l.3-.5l.3,.4l.3-.4l.3,.6l.3-.4l.4,.6l.3-.5l.3,.8l.3-.4l.3,.7l.3-.7l.4,.8l.3-.5l.3,.8l.3-.8l.3,.6l.3-.9l.4,.6l.3-.9l.3,.5l.3-1.3l.3,.6l.3-.9l.4,.6l.3-1.1l.3,.7l.3-.6l.3,.4l.3-.6l.4,.8l.3-.7l.3,.7l.3-.6l.3,.4l.4-.5l.3,.6l.3-.6l.3,.7l.3-.7l.3,1.1l.4-.5l.3,1.1l.3-.4l.3,.9l.3-.3l.3,.7l.4-.3l.3,.9l.3-.8l.3,.5l.3-.7l.3,.4l.4-1.1l.3,.6l.3-.9l.3,.4l.3-.8l.3,.4l.4-.7l.3,.6l.3-.5l.3,.7l.3-.3l.3,.7l.4-.3l.3,1.3l.3-.6l.3,1l.3-.2l.3,.9l.4-.6l.3,1l.3-.7l.3,.9l.3-.8l.4,1l.3-.4l.3,.8l.3-.5l.3,1l.3-.5l.4,.8l.3-.4l.3,.8"/>
<path stroke="#FF0000" stroke-dasharray="21,20.1" stroke-dashoffset="0.0" d="M208,868.5l.3,.3l.3,.4l.4,.3l.3,.3l.3,.7l.3,.3l.3,.8l.3,.3l.4,.7l.3,.4l.3,.6l.3,.4l.3,.6l.3,.4l.4,.7l.3,.3l.3,.7l.3,.4l.3,.7l.3,.4l.4,.7l.3,.4l.3,.6l.3,.4l.3,.7l.3,.4l.4,.6l.3,.3l.3,.7l.3,.4l.3,.6l.3,.3l.4,.8l.3,.4l.3,.6l.3,.4l.3,.7l.3,.3l.4,.7l.3,.3l.3,.7l.3,.2l.3,.8l.4,.3l.3,.6l.3,.3l.3,.7l.3,.3l.3,.7l.4,.3l.3,.7l.3,.4l.3,.6l.3,.5l.3,.6l.4,.3l.3,.8l.3,.2l.3,.8l.3,.3l.3,.7l.4,.3l.3,.7l.3,.3l.3,.7l.3,.4l.3,.6l.4,.4l.3,.8l.3,.3l.3,.7l.3,.4l.3,.6l.4,.4l.3,.7l.3,.3l.3,.7l.3,.3l.4,.8l.3,.2l.3,.7l.3,.4l.3,.7l.3,.5l.4,.6l.3,.4l.3,.8l.3,.2l.3,.7l.3,.3l.4,.6l.3,.3l.3,.7l.3,.2l.3,.7l.3,.2l.4,.7l.3,.3l.3,.7l.3,.2l.3,.8l.3,.3l.4,.7l.3,.3l.3,.7l.3,.3l.3,.7l.3,.3l.4,.8l.3,.3l.3,.8l.3,.3l.3,.7l.3,.4l.4,.7l.3,.4l.3,.8l.3,.3l.3,.8l.4,.3l.3,.8l.3,.3l.3,.8l.3,.3l.3,.6l.4,.4l.3,.6l.3,.4l.3,.7l.3,.3l.3,.7l.4,.2l.3,.8l.3,.3l.3,.7l.3,.4l.3,.7l.4,.3l.3,.6l.3,.3l.3,.8l.3,.3l.3,.7l.4,.4l.3,.7l.3,.4l.3,.8l.3,.4l.3,.8l.4,.4l.3,.8l.3,.5l.3,.7l.3,.4l.4,.7l.3,.4l.3,.7l.3,.3l.3,.7l.3,.3l.4,.7l.3,.4l.3,.8l.3,.3l.3,.8l.3,.4l.4,.7l.3,.4l.3,.8l.3,.3l.3,.8l.3,.4l.4,.7l.3,.4l.3,.7l.3,.4l.3,.7l.3,.3l.4,.7l.3,.4l.3,.7l.3,.3l.3,.7l.3,.3l.4,.7l.3,.3l.3,.8l.3,.4l.3,.8l.3,.4l.4,.9l.3,.4l.3,.8l.3,.4l.3,.8l.4,.3l.3,.8l.3,.4l.3,.6l.3,.4l.3,.7l.4,.4l.3,.7l.3,.3l.3,.7l.3,.3l.3,.7l.4,.2l.3,.7l.3,.3l.3,.7l.3,.3l.3,.7l.4,.3l.3,.6l.3,.3l.3,.7l.3,.2l.3,.6l.4,.3l.3,.7l.3,.1l.3,.8l.3,.1l.3,.7l.4,.3l.3,.6l.3,.3l.3,.7l.3,.3l.4,.7l.3,.3l.3,.6l.3,.3l.3,.7l.3,.3l.4,.7l.3,.2l.3,.7l.3,.2l.3,.7l.3,.3l.4,.6l.3,.3l.3,.6l.3,.3l.3,.6l.3,.3l.4,.7l.3,.2l.3,.6l.3,.2l.3,.7l.3,.2l.4,.7l.3,.2l.3,.6l.3,.3l.3,.6l.3,.2l.4,.7l.3,.1l.3,.6l.3,.1l.3,.7l.3,.2l.4,.7l.3,.2l.3,.7l.3,.2l.3,.8l.4,.2l.3,.8l.3,.3l.3,.8l.3,.3l.3,.8l.4,.4l.3,.8l.3,.3l.3,.8l.3,.3l.3,.7l.4,.3l.3,.7l.3,.1l.3,.8l.3,.1l.3,.6l.4,.2l.3,.6l.3,.2l.3,.6l.3-.1l.3,.8l.4,0l.3,.6l.3,0l.3,.8l.3,0l.3,.9l.4,.1l.3,.7l.3,0l.3,.8l.3,.1l.3,.8l.4,.1l.3,.6l.3,.1l.3,.9l.3,0l.4,.8l.3,0l.3,.7l.3,.3l.3,.8l.3,.2l.4,.7l.3,.2l.3,.9l.3,0l.3,.8l.3-.1l.4,1l.3-.3l.3,.7l.3-.1l.3,.7l.3-.2l.4,.7l.3-.2l.3,.8l.3-.3l.3,.7l.3-.2l.4,.5l.3-.1l.3,.7l.3-.2l.3,.6l.3-.3l.4,.8l.3-.2l.3,.9l.3-.3l.3,.9l.4-.2l.3,1l.3-.2l.3,.7l.3,0l.3,.9l.4-.1l.3,.8l.3-.2l.3,.9l.3-.2l.3,.7l.4-.3l.3,.8l.3-.2l.3,.7l.3-.2l.3,.7l.4-.2l.3,.8l.3-.1l.3,.7l.3-.1l.3,.7l.4-.1l.3,.8l.3-.5l.3,1l.3-.4l.3,.8l.4-.5l.3,.9l.3-.4l.3,.6l.3-.4l.3,.7l.4-.4l.3,.8l.3-.6l.3,.8l.3-.3l.4,.7l.3-.3l.3,.7l.3-.5l.3,.7l.3-.4l.4,.9l.3-.6l.3,.9l.3-.3l.3,.8l.3-.5l.4,.8l.3-.5l.3,.8l.3-.5l.3,.7l.3-.2l.4,.6l.3-.2l.3,.5l.3-.6l.3,.8l.3-.4l.4,.8l.3-.7l.3,.7l.3-.6l.3,.9l.3-.6l.4,.6l.3-.5l.3,.7l.3-.9l.3,.6l.4-.7l.3,.6l.3-.9l.3,.6l.3-.6l.3,.3l.4-.7l.3,.6l.3-.5l.3,.4l.3-.7l.3,.7l.4-.4l.3,.7l.3-.5l.3,.7l.3-.5l.3,.6l.4-.3l.3,1l.3-.3l.3,1.1l.3-.6l.3,1.1l.4-.3l.3,.8l.3-.3l.3,.9l.3-.5l.3,.8l.4-.7l.3,.6l.3-.5l.3,.6l.3-.7l.3,.3l.4-.6l.3,.3l.3-.5l.3,.6l.3-1l.4,.7l.3-.6l.3,.7l.3-.5l.3,.6l.3-.7l.4,.8l.3-.3l.3,.7l.3-.3l.3,.9l.3-.6l.4,.9l.3-.6l.3,1l.3-.8l.3,.8l.3-.5l.4,.5l.3-.5l.3,.3l.3-.7l.3,.7l.3-.8l.4,.8l.3-.8l.3,.8l.3-.9l.3,1.1l.3-.7l.4,.9l.3-.8l.3,.8l.3-.5l.3,.9l.3-.8l.4,1.2l.3-.7l.3,.9l.3-.6l.3,.6l.4-.4l.3,.8l.3-.8l.3,.8l.3-.6l.3,.5l.4-1l.3,.7l.3-.8l.3,.7l.3-.8l.3,1l.4-.7l.3,.9l.3-.6l.3,.9l.3-.5l.3,.8l.4-.5l.3,.8l.3-.4l.3,.8l.3-.6l.3,.7l.4-.6l.3,.7l.3-.5l.3,.7l.3-.8l.3,.9l.4-.6l.3,.7l.3-12.8l.3,.7l.3-.3l.4,.9l.3-.6l.3,.9l.3-.4l.3,.6l.3-.7l.4,.9l.3-1l.3,.7l.3-.9l.3,.7l.3-.7l.4,.8l.3-.5l.3,.5l.3-.3l.3,.7l.3-.2l.4,.8l.3-.5l.3,.9l.3-.6l.3,.9l.3-.4l.4,.6l.3-.3l.3,.7l.3-.7l.3,.9l.3-.7l.4,1.2l.3-.8l.3,1.2l.3-.2l.3,1l.3-.1l.4,1.2l.3-.2l.3,1.1l.3-.1l.3,1.2l.4-.3l.3,1.3l.3-.6l.3,1.2l.3-.5l.3,1l.4-.5l.3,1l.3-.8l.3,1l.3-.3l.3,.8l.4-.3l.3,.6l.3-.6l.3,.6l.3-.4l.3,.6l.4-.8l.3,.6l.3-.9l.3,.7l.3-1l.3,.5l.4-.8l.3,.7l.3-.9l.3,.7l.3-.7l.3,.7l.4-.8l.3,1l.3-.8l.3,.9l.3-.6l.4,.7l.3-.3l.3,.5l.3-.6l.3,1.1l.3-.8l.4,1.1l.3-.5l.3,.6l.3-.5l.3,1l.3-.9l.4,.7l.3-.4l.3,.5l.3-.6l.3,.6l.3-.7l.4,.5l.3-.7l.3,.5l.3-.6l.3,.6l.3-.5l.4,.7l.3-.6l.3,.4l.3-.6l.3,.8l.3-.5l.4,.5l.3-.8l.3,.9l.3-.8l.3,.9l.3-.8l.4,.9l.3-.6l.3,.7l.3-.7l.3,.9l.4-.6l.3,.6l.3-.8l.3,.9l.3-.7l.3,.6l.4-.6l.3,.6l.3-.8l.3,.5l.3-.7l.3,.7l.4-.8l.3,.6l.3-1l.3,.6l.3-.6l.3,.5l.4-.7l.3,.8l.3-1l.3,.7l.3-.7l.3,.5l.4-.7l.3,.9l.3-.8l.3,.8l.3-.6l.3,.6l.4-.7l.3,.9l.3-.8l.3,.8l.3-.4l.4,.7l.3-.5l.3,1l.3-.8l.3,.9l.3-.6l.4,.8l.3-.7l.3,.6l.3-.5l.3,.6l.3-.7l.4,.8l.3-.8l.3,.4l.3-.5l.3,.8l.3-.8l.4,.5l.3-.4l.3,.5l.3-.6l.3,.8l.3-.7l.4,.8l.3-.5l.3,.6l.3-.4l.3,.7l.3-.9l.4,.6l.3-1l.3,.6l.3-.8l.3,.2l.3-1l.4,.6l.3-1l.3,.5l.3-1.1l.3,.8l.4-.8l.3,.6l.3-.9l.3,.8l.3-1l.3,.9l.4-.6l.3,.7l.3-.5l.3,.8l.3-.7l.3,.8l.4-.4l.3,.7l.3-.5l.3,.8l.3-.5l.3,.7l.4-.3l.3,.8l.3-.6l.3,.5l.3-.6l.3,.7l.4-.6l.3,.5l.3-.5l.3,.8l.3-.7l.3,.8l.4-.5l.3,.7l.3-.4l.3,.6l.3-.3l.3,.5l.4-.4l.3,.7l.3-.8l.3,.6l.3-.6l.4,.6l.3-.8l.3,.6l.3-.8l.3,.7l.3-1.1l.4,.8l.3-.9l.3,.5l.3-.9l.3,.7l.3-.8l.4,.3l.3-.8l.3,.6l.3-.7l.3,.4l.3-.9l.4,.5l.3-.9l.3,.2l.3-1l.3,.6l.3-1l.4,.5l.3-1.2l.3,.4l.3-.6l.3,.7l.3-1l.4,1.1l.3-.6l.3,1.1l.3-.6l.3,1.2l.4-.7l.3,.9l.3-.6l.3,1l.3-.6l.3,.7l.4-.4l.3,.7l.3-.3l.3,.7l.3-.2l.3,.8l.4-.2l.3,1.1l.3-.4l.3,1.2l.3-.2l.3,.8l.4-.3l.3,1.1l.3-.6l.3,.9l.3-.7l.3,1.1l.4-.7l.3,1l.3-.6l.3,.6l.3-.7l.3,1.1l.4-1l.3,.9l.3-.7l.3,.8l.3-1l.3,.6l.4-.8l.3,.6l.3-.7l.3,.3l.3-.8l.4,.7l.3-1.1l.3,.7l.3-.7l.3,.6l.3-.6l.4,.7l.3-.5l.3,.8l.3-.5l.3,1.2l.3-.4l.4,1.1l.3-.2l.3,1l.3-.6l.3,1.2l.3-.7l.4,1l.3-.5l.3,.7l.3-.7l.3,.9l.3-.6l.4,.7l.3-.4l.3,.9l.3-.3l.3,1l.3-.6l.4,.9l.3-.3l.3,1.1l.3-.8l.3,.6l.4-.7l.3,.8l.3-.9l.3,.7l.3-1.1l.3,.4l.4-.6l.3,.4l.3-.9l.3,.5l.3-.7l.3,.5l.4-.6l.3,.5l.3-.6l.3,.6l.3-.9l.3,.7l.4-1.2l.3,.7l.3-1l.3,.6l.3-1.3l.3,.6l.4-1l.3,.6l.3-1.1l.3,.4l.3-.5l.3,.5l.4-.8l.3,.5l.3-.9l.3,.7l.3-.9l.3,.3l.4-.7l.3,.2l.3-.8l.3,.3l.3-.9l.4,.3l.3-.7l.3,.4l.3-1.1l.3,.7l.3-.9l.4,.7l.3-.8l.3,.9l.3-.6l.3,.8l.3-.4l.4,.7l.3-.7l.3,.8l.3-.7l.3,.8l.3-.9l.4,.7l.3-1l.3,.5l.3-.9l.3,.4l.3-.8l.4,.7l.3-.9l.3,.5l.3-.8l.3,.3l.3-.7l.4,.7l.3-.7l.3,.5l.3-.6l.3,.5l.4-.9l.3,.7l.3-1.1l.3,.7l.3-1.1l.3,.6l.4-.9l.3,.4l.3-.5l.3,.5l.3-.8l.3,.4l.4-.7l.3,.8l.3-.5l.3,.4l.3-.4l.3,.5l.4-.5l.3,.8l.3-.5l.3,.5l.3-.5l.3,.8l.4-.7l.3,.7l.3-.8l.3,1l.3-.9l.3,.8l.4-.8l.3,.8l.3-.8l.3,.4l.3-.7l.3,.8l.4-.9l.3,.6l.3-1l.3,.8l.3-.7l.4,.3l.3-.6l.3,.6l.3-.6l.3,.7l.3-.9l.4,.7l.3-.9l.3,.6l.3-.9l.3,.9l.3-.7l.4,.5l.3-.8l.3,.8l.3-.7l.3,.7l.3-.6l.4,.9l.3-.6l.3,.6l.3-.5l.3,1l.3-.5l.4,1l.3-.6l.3,1l.3-.4l.3,1l.3-.5l.4,.9l.3-.6l.3,1.1l.3-.7l.3,.8l.3-.5l.4,.7l.3-.5l.3,.4l.3-.5l.3,.7l.4-.5l.3,.6l.3-.8l.3,.8l.3-.5l.3,.7l.4-.6l.3,.8l.3-.4l.3,1l.3-.9l.3,1l.4-.7l.3,.8l.3-.7l.3,.5l.3-.8l.3,.6l.4-.8l.3,.8l.3-.7l.3,.5l.3-.5l.3,.8l.4-.5l.3,1l.3-.7l.3,.9l.3-.3l.3,1l.4-.8l.3,1.1l.3-.6l.3,.6l.3-.7l.4,.8l.3-.6l.3,.6l.3-.8l.3,.8l.3-.6l.4,.6l.3-.4l.3,.7l.3-.7l.3,1l.3-.6l.4,.8l.3-.7l.3,.9l.3-.8l.3,.6l.3-.8l.4,.5l.3-.8l.3,.7l.3-1l.3,.5l.3-1.2l.4,.7l.3-1.1l.3,.5l.3-.8l.3,.5l.3-.7l.4,.8l.3-.8l.3,.5l.3-.8l.3,.6l.3-.6l.4,.7l.3-1.2l.3,.9l.3-.9l.3,.5l.4-.9l.3,.5l.3-.7l.3,.4l.3-.6l.3,.5l.4-.5l.3,.5l.3-.7l.3,1l.3-.8l.3,.8l.4-.7l.3,.6l.3-.7l.3,.9l.3-.8l.3,1l.4-.9l.3,.8l.3-1.1l.3,.8l.3-.6l.3,.5l.4-.7l.3,.7l.3-1l.3,.8l.3-.5l.3,.6l.4-.6l.3,.6l.3-.5l.3,.4l.3-.6l.4,.3l.3-.7l.3,.8l.3-1.1l.3,.7l.3-.6l.4,.7l.3-.7l.3,.7l.3-.5l.3,1l.3-.5l.4,.8l.3-.5l.3,.8l.3-.8l.3,1l.3-.7l.4,.7l.3-.7l.3,.6l.3-.9l.3,.9l.3-1l.4,.7l.3-.9l.3,.8l.3-.8l.3,.6l.3-.9l.4,.9l.3-1.1l.3,.8l.3-.8l.3,.7l.3-.5l.4,.9l.3-.7l.3,.6l.3-.6l.3,.9l.4-.5l.3,.8l.3-.6l.3,.8l.3-.8l.3,.8l.4-.8l.3,.8l.3-.5l.3,.6l.3-.7l.3,.9l.4-.7l.3,1l.3-.7l.3,1l.3-.7l.3,.9l.4-.6l.3,.9l.3-.7l.3,.7l.3-.7l.3,.9l.4-.8l.3,.5l.3-.7l.3,.4l.3-.7l.3,.8l.4-.9l.3,.8l.3-1l.3,1l.3-.8l.4,1l.3-.9l.3,.9l.3-.8l.3,.8l.3-1l.4,.7l.3-1l.3,.6l.3-.7l.3,.5l.3-.9l.4,.9l.3-.8l.3,.8l.3-.5l.3,.8l.3-.3l.4,.8l.3-.6l.3,1l.3-.8l.3,.9l.3-.7l.4,.5l.3-.6l.3,.6l.3-.5l.3,.7l.3-.9l.4,1l.3-.7l.3,.7l.3-.3l.3,.9l.3-.6l.4,1.1l.3-.5l.3,1.3l.3-.5l.3,.8l.4-.3l.3,1.1l.3-.6l.3,1l.3-.9l.3,.8l.4-.5l.3,.5l.3-.5l.3,.4l.3-.7l.3,.7l.4-.8l.3,.6l.3-.6l.3,.4l.3-.7l.3,.5l.4-.8l.3,.6l.3-.6l.3,.6l.3-.7l.3,.5l.4-.8l.3,.9l.3-.7l.3,.7l.3-.7l.3,.6l.4-1.1l.3,.9l.3-.9l.3,.5l.3-.7l.3,.7l.4-.7l.3,.6l.3-.8l.3,.7l.3-.6l.4,1l.3-.6l.3,.9l.3-.3l.3,1.1l.3-.7l.4,1.3l.3-.4l.3,.7l.3-.6l.3,1l.3-.7l.4,.5l.3-.6l.3,.8l.3-.9l.3,.6l.3-.9l.4,.7l.3-.7l.3,.7l.3-.5l.3,.8l.3-.8l.4,.6l.3-.4l.3,.9l.3-.9l.3,1.1l.3-.6l.4,1l.3-.9l.3,.8l.3-.9l.3,.8l.4-.9l.3,.5l.3-.8l.3,.2l.3-.9l.3,.5l.4-1l.3,.6l.3-1.2l.3,.4l.3-.9l.3,.5l.4-1.1l.3,.5l.3-1l.3,.2l.3-1.1l.3,0l.4-1l.3,.2l.3-1.2l.3,.1l.3-.8l.3,.3l.4-.8l.3,.6l.3-.5l.3,.8l.3-.6l.3,1l.4-.5l.3,.9l.3-.4l.3,.9l.3-.7l.3,1l.4-.4l.3,.5l.3-.5l.3,.8l.3-.8l.4,.7l.3-.8l.3,.6l.3-.8l.3,.6l.3-1l.4,.6l.3-.9l.3,.8l.3-1l.3,.8l.3-1l.4,.9l.3-.9l.3,.6l.3-.7l.3,.5l.3-.6l.4,.6l.3-.9l.3,.9l.3-.5l.3,.5l.3-.6l.4,.9l.3-.4l.3,.6l.3-.5l.3,.9l.3-.8l.4,.8l.3-.8l.3,.8l.3-.6l.3,.7l.4-.7l.3,.7l.3-.9l.3,.8l.3-.7l.3,.5l.4-.9l.3,.7l.3-.5l.3,.4l.3-.4l.3,.5l.4-.5l.3,.9l.3-.7l.3,.9l.3-.7l.3,.8l.4-.4l.3,.9l.3-.6l.3,.8l.3-.6l.3,.9l.4-.9l.3,.8l.3-.6l.3,.8l.3-.8l.3,.2l.4-.9l.3,.7l.3-1.2l.3,.3l.3-.8l.3,.4l.4-.8l.3,.5l.3-1.1l.3,.6l.3-1.1l.4,.8l.3-1l.3,.6l.3-.6l.3,.4l.3-.6l.4,.6l.3-.5l.3,.7l.3-.7l.3,1l.3-.9l.4,1.1l.3-.8l.3,.9l.3-.7l.3,.5l.3-.6l.4,.8l.3-.8l.3,1l.3-.8l.3,.8l.3-.9l.4,.8l.3-.6l.3,.8l.3-.7l.3,.7l.3-.7l.4,.6l.3-.6l.3,.9l.3-.9l.3,1l.3-.9l.4,.8l.3-.7l.3,.6l.3-.7l.3,.5l.4-.7l.3,.8l.3-.8l.3,.5l.3-.8l.3,.7l.4-.9l.3,.8l.3-.7l.3,.5l.3-.7l.3,.6l.4-.7l.3,.7l.3-.8l.3,.7l.3-.4l.3,.5l.4-.3l.3,.8l.3-.6l.3,.8l.3-.7l.3,1l.4-.4l.3,.8l.3-.6l.3,.8l.3-.9l.3,.8l.4-.9l.3,.5l.3-.7l.3,.6l.3-.7l.4,.8l.3-.8l.3,.9l.3-.7l.3,.6l.3-.5l.4,1l.3-.9l.3,.8l.3-.6l.3,.7l.3-.8l.4,.4l.3-.5l.3,.3l.3-.6l.3,.4l.3-.6l.4,.7l.3-1l.3,.6l.3-.4l.3,.8l.3-.8l.4,.8l.3-.6l.3,1l.3-.8l.3,1.1l.3-.5l.4,1.1l.3-.4l.3,1l.3-.4l.3,.8l.3-.2l.4,.9l.3-.6l.3,.8l.3-.8l.3,.9l.4-.9l.3,.6l.3-.8l.3,.4l.3-.8l.3,.5l.4-.7l.3,.7l.3-.9l.3,.4l.3-.8l.3,.5l.4-.9l.3,.8l.3-.9l.3,.6l.3-.8l.3,.9l.4-.7l.3,.8l.3-.6l.3,1l.3-.8l.3,.9l.4-.7l.3,1l.3-.7l.3,.9l.3-.9l.3,1l.4-.8l.3,1l.3-.7l.3,.8l.3-.4l.4,.9l.3-.8l.3,1l.3-.6l.3,.8l.3-.7l.4,.3l.3-.7l.3,.8l.3-.9l.3,.9l.3-.9l.4,.7l.3-.8l.3,.9l.3-.9l.3,1l.3-.7l.4,.5l.3-.8l.3,.8l.3-1.1l.3,.5l.3-.9l.4,.3l.3-.9l.3,.6l.3-.8l.3,.7l.3-.9l.4,.9l.3-.5l.3,.6l.3-.5l.3,1.1l.3-.7l.4,.8l.3-.5l.3,.7l.3-.6l.3,.8l.4-.4l.3,.7l.3-.5l.3,1l.3-.7l.3,.8l.4-.5l.3,.8l.3-.8l.3,.5l.3-.9l.3,.6l.4-.9l.3,.5l.3-.8l.3,.7l.3-1.1l.3,.6l.4-.4l.3,.5l.3-.6l.3,1l.3-.5l.3,.9l.4-.5l.3,1.1l.3-.7l.3,.9l.3-.7l.3,.8l.4-.5l.3,.6l.3-.7l.3,.7l.3-.9l.4,.6l.3-.7l.3,.5l.3-.7l.3,.5l.3-.8l.4,.6l.3-.7l.3,.5l.3-.7l.3,.5l.3-.7l.4,.7l.3-1l.3,.7l.3-.6l.3,.4l.3-.5l.4,.6l.3-.9l.3,.6l.3-.6l.3,.8l.3-.6l.4,.8l.3-.4l.3,1l.3-.8l.3,1l.3-.5l.4,.7l.3-.6l.3,.7l.3-.7l.3,1l.3-1l.4,.6l.3-.5l.3,.5l.3-.7l.3,.8l.4-1l.3,.8l.3-.9l.3,.7l.3-.6l.3,.6l.4-.8l.3,.7l.3-.8l.3,.4l.3-.8l.3,.8l.4-1.1l.3,.9l.3-.9l.3,.6l.3-.8l.3,.4l.4-.7l.3,.7l.3-.8l.3,.7l.3-.5l.3,.7l.4-.8l.3,.7l.3-.9l.3,.9l.3-.7l.3,.6l.4-.7l.3,.8l.3-.9l.3,.9l.3-.8l.3,1.1l.4-.8l.3,.8l.3-.5l.3,.8l.3-.4l.4,.9l.3-.7l.3,1.1l.3-.4l.3,.7l.3-.4l.4,.8l.3-.5l.3,.9l.3-.5l.3,.8l.3-.8l.4,1l.3-.9l.3,1l.3-.9l.3,.8l.3-.8l.4,.9l.3-.7l.3,.6l.3-1l.3,.7l.3-.7l.4,.8l.3-.9l.3,.7l.3-.4l.3,.8l.3-.4l.4,.6l.3-.3l.3,1l.3-.3l.3,.8l.4-.7l.3,1.2l.3-.7l.3,1.2l.3-.7l.3,.9l.4-.7l.3,.9l.3-.8l.3,.8l.3-.9l.3,.7l.4-.7l.3,.7l.3-.9l.3,.6l.3-.8l.3,.8l.4-.8l.3,.8l.3-.5l.3,.7l.3-.5l.3,.7l.4-.9l.3,.8l.3-.7l.3,.7l.3-1l.3,.9l.4-.7l.3,.5l.3-.7l.3,.9l.3-.6l.3,.8l.4-.8l.3,.9l.3-.6l.3,.5l.3-.8l.4,.5l.3-.7l.3,.3l.3-1.1l.3,.4l.3-1l.4,.1l.3-.9l.3,.1l.3-.9l.3,0l.3-.8l.4,0l.3-1l.3,.4l.3-1.3l.3,.7l.3-.9l.4,.6l.3-.4l.3,.9l.3-.7l.3,1.1l.3-.1l.4,.8l.3-.1l.3,1.1l.3-.6l.3,1l.3-.2l.4,.8l.3-.2l.3,.8l.3-.4l.3,.8l.4-.5l.3,1l.3-.5l.3,.9l.3-.4l.3,1l.4-.5l.3,1.1l.3-.6l.3,1l.3-.6l.3,.7l.4-.6l.3,.6l.3-.8l.3,.3l.3-.6l.3,.6l.4-.9l.3,.8l.3-.5l.3,.8l.3-.7l.3,.8l.4-.6l.3,.7l.3-.3l.3,.5l.3-.4l.3,.8l.4-.7l.3,.5l.3-.5l.3,.6l.3-.7l.3,.6l.4-.5l.3,.4l.3-.4l.3,.8l.3-.7l.4,.6l.3-.7l.3,.8l.3-.5l.3,.6l.3-.5l.4,.6l.3-.6l.3,.5l.3-.6l.3,.7l.3-1l.4,.7l.3-.8l.3,.2l.3-.6l.3,.1l.3-.8l.4,.4l.3-1l.3,.4l.3-1.2l.3,.3l.3-.9l.4,.3l.3-.6l.3,.6l.3-.6l.3,.5l.3-.6l.4,.8l.3-.9l.3,1l.3-1l.3,.6l.4-.8l.3,.5l.3-.6l.3,.4l.3-.8l.3,.3l.4-.5l.3,.6l.3-.9l.3,1l.3-1l.3,1l.4-.8l.3,.8l.3-.8l.3,1l.3-.9l.3,.6l.4-.7l.3,.8l.3-1l.3,.7l.3-1l.3,.5l.4-.5l.3,.7l.3-1.1l.3,1.1l.3-.9l.3,.8l.4-.4l.3,.9l.3-.9l.3,.9l.3-.7l.3,.9l.4-.7l.3,.6l.3-.8l.3,.7l.3-.8l.4,.7l.3-.8l.3,.5l.3-.6l.3,.5l.3-.7l.4,.8l.3-.8l.3,.7l.3-1.1l.3,.9l.3-.8l.4,.6l.3-.6l.3,.5l.3-.4l.3,.6l.3-.6l.4,.6l.3-.5l.3,.5l.3-.5l.3,.6l.3-.8l.4,.6l.3-1.1l.3,.8l.3-.8l.3,.3l.3-.5l.4,.5l.3-1.1l.3,.9l.3-1.1l.3,.9l.3-.7l.4,.7l.3-.8l.3,.7l.3-.9l.3,.9l.4-.7l.3,.9l.3-.5l.3,1.1l.3-.5l.3,.9l.4-.4l.3,.9l.3-.6l.3,.8l.3-.7l.3,.8l.4-.7l.3,.3l.3-.8l.3,.8l.3-.9l.3,.7l.4-.6l.3,.5l.3-.5l.3,.6l.3-.4l.3,.5l.4-.4l.3,.6l.3-.6l.3,.6l.3-.9l.3,.7l.4-1l.3,.9l.3-1l.3,.7l.3-.8l.4,.4l.3-.4l.3,.5l.3-.6l.3,.6l.3-.7l.4,.5l.3-.5l.3,.6l.3-.6l.3,.7l.3-.8l.4,.6l.3-.7l.3,.6l.3-1l.3,.5l.3-1l.4,.7l.3-.9l.3,.3l.3-.7l.3,.5l.3-.9l.4,.9l.3-.5l.3,.8l.3-.2l.3,1l.3-.4l.4,1.2l.3-.3l.3,1.2l.3-.3l.3,.8l.3-.4l.4,.9l.3-.3l.3,.8l.3-.9l.3,1l.4-.7l.3,.6l.3-.6l.3,.8l.3-.4l.3,.7l.4-.5l.3,.9l.3-.4l.3,1l.3-.5l.3,.9l.4-.5l.3,.7l.3-.8l.3,.7l.3-.6l.3,.4l.4-.8l.3,.4l.3-1l.3,.5l.3-.7l.3,.6l.4-.6l.3,.5l.3-.6l.3,1l.3-.3l.3,.7l.4-.5l.3,1l.3-.4l.3,.9l.3-.9l.4,.7l.3-.7l.3,.6l.3-.7l.3,.4l.3-.7l.4,.4l.3-.9l.3,.7l.3-1.1l.3,.8l.3-.7l.4,.6l.3-.7l.3,1l.3-.4l.3,1l.3-.3l.4,1l.3-.3l.3,.9l.3-.1l.3,.9l.3-.6l.4,.7l.3-.4l.3,.7l.3-.9l.3,.9l.3-.9l.4,.5l.3-.7l.3,.4l.3-1.2l.3,.6l.3-1l.4,.1l.3-1.1l.3,.5l.3-1.2l.3,0l.4-.9l.3,0l.3-.9l.3,.2l.3-1.1l.3,.3l.4-.9l.3,.6l.3-.7l.3,.5l.3-1l.3,.8l.4-.6l.3,.5l.3-.5l.3,.4l.3-.5l.3,.6l.4-1l.3,.8l.3-1l.3,.8l.3-.9l.3,.5l.4-.9l.3,.5l.3-1l.3,.4l.3-.8l.3,.5l.4-.9l.3,.8l.3-.9l.3,.7l.3-.9l.4,.8l.3-.9l.3,.6l.3-.7l.3,.4l.3-.9l.4,.5l.3-.7l.3,.3l.3-.7l.3,.9l.3-.9l.4,.8l.3-.3l.3,.6l.3-.4l.3,.9l.3-.4l.4,.8l.3-.5l.3,1l.3-.6l.3,.9l.3-.5l.4,.9l.3-.4l.3,.8l.3-.5l.3,.7l.3-.5l.4,.6l.3-1l.3,.6l.3-1.1l.3,.6l.3-1.2l.4,.6l.3-1l.3,.6l.3-.7l.3,.5l.4-.5l.3,.8l.3-.8l.3,.9l.3-.4l.3,.9l.4-.3l.3,.8l.3-.4l.3,.6l.3-.4l.3,.6l.4-.5l.3,.7l.3-1l.3,.7l.3-.8l.3,.5l.4-.7l.3,.5l.3-.9l.3,.5l.3-.6l.3,.8l.4-.5l.3,.6l.3-.3l.3,1l.3-.4l.3,1l.4-.3l.3,1.1l.3-.6l.3,1.3l.3-.4l.3,.9l.4-.4l.3,1.1l.3-.5l.3,.7l.3-.8l.4,.7l.3-.6l.3,.9l.3-.6l.3,.8l.3-.6l.4,.9l.3-.8l.3,1.1l.3-.8l.3,.5l.3-.7l.4,.6l.3-.8l.3,.8l.3-1.1l.3,.5l.3-.9l.4,.7l.3-1l.3,.3l.3-1l.3,.4l.3-1.1l.4,.2l.3-.9l.3,.4l.3-1.1l.3,.4l.3-.9l.4,.1l.3-1l.3,.3l.3-1.1l.3,.7l.4-1.1l.3,.5l.3-1.2l.3,.7l.3-.7l.3,.7l.4-.7l.3,.7l.3-.5l.3,1l.3-.7l.3,1.1l.4-.8l.3,.9l.3-.9l.3,.8l.3-.9l.3,.7l.4-1.2l.3,.6l.3-.7l.3,.4l.3-.8l.3,.5l.4-.5l.3,.5l.3-.5l.3,.9l.3-.4l.3,.6l.4-.7l.3,.8l.3-.6l.3,.5l.3-.8l.3,.7l.4-1.1l.3,.4l.3-.8l.3,.4l.3-.9l.4,.3l.3-.9l.3,.3l.3-.6l.3,.4l.3-.9l.4,.8l.3-.6l.3,.6l.3-.8l.3,1l.3-.8l.4,.8l.3-.5l.3,.7l.3-.7l.3,.6l.3-.5l.4,.9l.3-.5l.3,.9l.3-.7l.3,.9l.3-.5l.4,1l.3-.7l.3,.8l.3-.7l.3,.9l.3-.8l.4,1l.3-.7l.3,.7l.3-.6l.3,.7l.4-.7l.3,.7l.3-.7l.3,.8l.3-.6l.3,.3l.4-.7l.3,.6l.3-.8l.3,.4l.3-.7l.3,.5l.4-.7l.3,.9l.3-.5l.3,.8l.3-.3l.3,.8l.4-.2l.3,.9l.3-.3l.3,.9l.3-.7l.3,1l.4-.4l.3,.7l.3-.6l.3,.8l.3-.8l.3,.8l.4-.8l.3,.6l.3-.6l.3,.7l.3-.8l.3,.8l.4-.2l.3,.8l.3-.3l.3,.9l.3-.4l.4,1.2l.3-.3l.3,.7l.3-.1l.3,.7l.3-.6l.4,.8l.3-.8l.3,.8l.3-.5l.3,.9l.3-.5l.4,.7l.3-.5l.3,.8l.3-.3l.3,.9l.3-.8l.4,1l.3-.5l.3,.8l.3-.8l.3,.8l.3-.5l.4,.7l.3-1.1l.3,.9l.3-.9l.3,.8l.3-.9l.4,.7l.3-.8l.3,.6l.3-.7l.3,.8l.4-.7l.3,.7l.3-.5l.3,.6l.3-.7l.3,.6l.4-.9l.3,.9l.3-.9l.3,.4l.3-.5l.3,.6l.4-.9l.3,.9l.3-.7l.3,.7l.3-.9l.3,.8l.4-.5l.3,.4l.3-.8l.3,.9l.3-.9l.3,.7l.4-.8l.3,.8l.3-.7l.3,.6l.3-.8l.3,.5l.4-.6l.3,.5l.3-.9l.3,.6l.3-1.1l.3,.4l.4-.7l.3,.1l.3-.9l.3,.5l.3-.9l.4,.5l.3-1l.3,.6l.3-.8l.3,.6l.3-.5l.4,.4l.3-.7l.3,.8l.3-.7l.3,.7l.3-.7l.4,.6l.3-.7l.3,.6l.3-.6l.3,.6l.3-.8l.4,.6l.3-.7l.3,.7l.3-.7l.3,.7l.3-.7l.4,.7l.3-.7l.3,.9l.3-.6l.3,.8l.3-.7l.4,1l.3-.7l.3,.6l.3-.6l.3,.7l.3-.7l.4,.4l.3-.8l.3,.7l.3-.8l.3,.7l.4-.6l.3,.6l.3-.5l.3,.6l.3-.6l.3,.6l.4-.7l.3,.8l.3-.6l.3,.6l.3-.9l.3,.8l.4-.9l.3,.8l.3-.8l.3,.4l.3-.8l.3,.6l.4-.6l.3,.7l.3-.9l.3,.4l.3-.5l.3,.4l.4-.7l.3,.8l.3-.8l.3,.7l.3-.8l.3,.9l.4-.9l.3,.9l.3-.4l.3,.6l.3-.5l.4,.6l.3-.8l.3,.8l.3-.9l.3,.6l.3-1.1l.4,.4l.3-.9l.3,.7l.3-1l.3,.6l.3-.6l.4,.5l.3-.9l.3,.8l.3-.4l.3,.4l.3-.6l.4,.8l.3-.6l.3,.4l.3-.8l.3,.7l.3-.8l.4,.6l.3-1l.3,.7l.3-1.1l.3,.6l.3-.9l.4,.5l.3-1.2l.3,.5l.3-1.1l.3,.7l.3-1.2l.4,.5l.3-.9l.3,.8l.3-.7l.3,.7l.4-.7l.3,1l.3-.7l.3,.8l.3-.7l.3,.9l.4-.7l.3,.8l.3-.5l.3,.8l.3-.5l.3,.8l.4-.7l.3,.7l.3-.5l.3,.7l.3-.8l.3,.5l.4-.6l.3,.7l.3-.8l.3,.7l.3-.5l.3,.5l.4-.6l.3,.9l.3-.7l.3,.8l.3-.5l.3,.7l.4-.5l.3,.6l.3-.6l.3,.6l.3-.6l.4,.8l.3-.7l.3,.7l.3-.2l.3,.8l.3-.6l.4,.8l.3-.1l.3,.8l.3-.2l.3,.7l.3-.2l.4,.9l.3-.5l.3,.6l.3-.7l.3,.9l.3-.8l.4,.3l.3-.9l.3,.6l.3-1.1l.3,.5l.3-.8l.4,.5l.3-.9l.3,.5l.3-.6l.3,.2l.3-.7l.4,.5l.3-.8l.3,.3l.3-1l.3,.3l.3-.9l.4,.5l.3-.8l.3,.5l.3-1l.3,.7l.4-.8l.3,1l.3-.8l.3,1.1l.3-.7l.3,.6l.4-.6l.3,.8l.3-.6l.3,.7l.3-.5l.3,.5l.4-.4l.3,.8l.3-1l.3,1.1l.3-.7l.3,.8l.4-.6l.3,.8l.3-.6l.3,.7l.3-.1l.3,.8l.4-.4l.3,.7l.3-.5l.3,1.1l.3-.9l.3,.8l.4-.8l.3,.9l.3-.7l.3,.5l.3-.7l.3,.8l.4-.6l.3,1l.3-.7l.3,.9l.3-.5l.4,1l.3-.4l.3,1l.3-.6l.3,.8l.3-.8l.4,1l.3-.7l.3,.6l.3-.8l.3,.4l.3-.7l.4,.5l.3-1.1l.3,.4l.3-1.1l.3,.6l.3-1l.4,.4l.3-.7l.3,.6l.3-.4l.3,.6l.3-.3l.4,.9l.3-.7l.3,.9l.3-.2l.3,.7l.3-.3l.4,.9l.3-.6l.3,.7l.3-.5l.3,.6l.4-.2l.3,.8l.3-.6l.3,.9l.3-.7l.3,.7l.4-.7l.3,.5l.3-.7l.3,.7l.3-1.1l.3,.5l.4-1l.3,.6l.3-.9l.3,.2l.3-.7l.3,.6l.4-.6l.3,.6l.3-.6l.3,.7l.3-.6l.3,.8l.4-.7l.3,.5l.3-.7l.3,.5l.3-.8l.3,.9l.4-1l.3,.5l.3-.7l.3,.6l.3-.5l.3,.6l.4-.7l.3,.8l.3-.6l.3,.9l.3-.3l.4,.7l.3-.4l.3,1l.3-.6l.3,.7l.3-.7l.4,.8l.3-.9l.3,.4l.3-.9l.3,.6l.3-1.1l.4,.5l.3-1.1l.3,.5l.3-.9l.3,.5l.3-.8l.4,.4l.3-.7l.3,.8l.3-.6l.3,.9l.3-.9l.4,1.1l.3-.6l.3,.9l.3-.2l.3,.8l.3-.5l.4,1l.3-.5l.3,1l.3-.8l.3,.7l.4-.5l.3,.5l.3-.7l.3,.6l.3-.9l.3,.7l.4-.8l.3,.6l.3-.7l.3,.9l.3-.9l.3,1.1l.4-.8l.3,1.1l.3-.6l.3,.9l.3-.8l.3,.9l.4-.6l.3,.7l.3-1l.3,.6l.3-1.2l.3,.5l.4-.8l.3,.4l.3-.9l.3,.5l.3-1l.3,.4l.4-.6l.3,.7l.3-.8l.3,.6l.3-.6l.3,.7l.4-.8l.3,.8l.3-.5l.3,.5l.3-.5l.4,.6l.3-.6l.3,.6l.3-.5l.3,.6l.3-1l.4,.8l.3-.8l.3,.5l.3-.8l.3,.5l.3-.6l.4,.4l.3-.7l.3,.6l.3-.8l.3,.8l.3-.8l.4,.7l.3-.7l.3,.6l.3-.7l.3,.6l.3-.8l.4,.7l.3-.5l.3,1l.3-.8l.3,1l.3-.5l.4,.8l.3-.6l.3,1.2l.3-.5l.3,.6l.4-.2l.3,.6l.3-.4l.3,.8l.3-.4l.3,.9l.4-.5l.3,.8l.3-.3l.3,.9l.3-.4l.3,.8l.4-.5l.3,1.1l.3-.9l.3,1l.3-.6l.3,.5l.4-.5l.3,.6l.3-.7l.3,.6l.3-.6l.3,.6l.4-1l.3,.5l.3-.5l.3,.5l.3-.6l.3,.3l.4-.8l.3,.6l.3-.8l.3,.6l.3-.5l.3,.6l.4-.8l.3,.8l.3-.6l.3,.7l.3-.5l.4,.4l.3-.5l.3,.9l.3-.5l.3,1l.3-.8l.4,1l.3-.5l.3,.7l.3-.6l.3,.7l.3-.6l.4,.9l.3-.6l.3,.6l.3-.7l.3,.7l.3-.5l.4,.5l.3-.7l.3,.7l.3-.9l.3,.8l.3-.8l.4,.7l.3-1.1l.3,.7l.3-1l.3,.4l.3-.9l.4,.6l.3-1l.3,.6l.3-1l.3,.5l.3-.9l.4,.6l.3-.8l.3,.9l.3-.9l.3,.9l.4-.7l.3,.9l.3-.4l.3,.7l.3-.3l.3,.8l.4-.5l.3,.8l.3-.6l.3,.7l.3-.6l.3,.5l.4-.7l.3,.7l.3-.9l.3,.9l.3-.7l.3,.7l.4-.9l.3,.8l.3-1l.3,.9l.3-.8l.3,.5l.4-1l.3,.4l.3-.9l.3,.5l.3-.8l.3,.4l.4-.8l.3,.4l.3-.8l.3,.4l.3-.6l.4,.3l.3-.5l.3,.6l.3-.7l.3,.9l.3-.8l.4,1l.3-.6l.3,1.2l.3-.7l.3,1l.3-.7l.4,.6l.3-.6l.3,1l.3-.8l.3,.9l.3-.7l.4,.6l.3-.5l.3,1.1l.3-.5l.3,.7l.3-.6l.4,1.1l.3-.7l.3,.9l.3-.8l.3,.9l.3-.8l.4,.6l.3-.5l.3,.5l.3-.7l.3,.5l.3-.6l.4,.8l.3-.8l.3,.9l.3-.9l.3,.8l.4-.8l.3,1.1l.3-.7l.3,.8l.3-.5l.3,.8l.4-.8l.3,1l.3-.7l.3,.8l.3-.7l.3,.7l.4-.7l.3,.4l.3-.7l.3,.9l.3-.9l.3,.6l.4-.7l.3,.7l.3-.9l.3,.6l.3-.9l.3,.8l.4-.9l.3,.5l.3-.8l.3,.8l.3-.6l.3,.5l.4-.8l.3,.9l.3-.7l.3,.7l.3-.7l.4,.9l.3-.6l.3,.6l.3-.6l.3,.5l.3-.5l.4,.8l.3-.9l.3,.5l.3-.7l.3,.6l.3-.9l.4,.4l.3-.8l.3,.7l.3-1.1l.3,.8l.3-.9l.4,.8l.3-.7l.3,.9l.3-.7l.3,1l.3-.9l.4,.9l.3-.7l.3,1l.3-1l.3,.9l.3-.7l.4,.7l.3-1l.3,.9l.3-.7l.3,.9l.3-.6l.4,1.2l.3-.5l.3,.7l.3-.4l.3,.7l.4-.8l.3,1l.3-.9l.3,.8l.3-1.1l.3,.8l.4-.7l.3,.2l.3-.8l.3,.8l.3-.9l.3,.6l.4-.9l.3,.9l.3-.8l.3,.6l.3-.9l.3,.8l.4-.8l.3,.7l.3-.6l.3,.7l.3-.6l.3,.6l.4-.6l.3,1l.3-.7l.3,.9l.3-.5l.3,.6l.4-.4l.3,.8l.3-.7l.3,.9l.3-.9l.4,.8l.3-.6l.3,1.1l.3-.7l.3,.9l.3-.2l.4,.8l.3-.3l.3,.7l.3-.6l.3,1l.3-.7l.4,.9l.3-.6l.3,.6l.3-.8l.3,.7l.3-.9l.4,.5l.3-.9l.3,.8l.3-.8l.3,.4l.3-.5l.4,.6l.3-.7l.3,.8l.3-.8l.3,.7l.3-.7l.4,1.1l.3-.6l.3,.8l.3-.8l.3,.6l.3-.5l.4,.8l.3-.9l.3,.8l.3-.7l.3,.5l.4-.6l.3,.5l.3-.8l.3,.8l.3-.6l.3,.6l.4-.6l.3,.4l.3-.4l.3,.5l.3-.6l.3,.7l.4-.8l.3,.7l.3-.5l.3,.5l.3-.5l.3,.6l.4-.5l.3,.9l.3-.6l.3,.7l.3-.4l.3,.7l.4-.6l.3,.6l.3-.7l.3,.4l.3-.8l.3,.7l.4-1.1l.3,.4l.3-.8l.3,.7l.3-1l.3,.4l.4-.4l.3,.6l.3-.3l.3,.7l.3-.4l.4,1l.3-.5l.3,.9l.3-.4l.3,.8l.3-.7l.4,.8l.3-.9l.3,.8l.3-.8l.3,.8l.3-1l.4,.7l.3-.6l.3,.9l.3-.8l.3,.7l.3-.8l.4,.6l.3-.6l.3,.6l.3-.4l.3,.8l.3-.8l.4,1.2l.3-.7l.3,1l.3-.4l.3,.9l.3-.4l.4,1.2l.3-.4l.3,.7l.3-.3l.3,.6l.4-.6l.3,.7l.3-.5l.3,.7l.3-.6l.3,.6l.4-.8l.3,.8l.3-.9l.3,.8l.3-.7l.3,.7l.4-.8l.3,.7l.3-.9l.3,.6l.3-.6l.3,.5l.4-.7l.3,.7l.3-1l.3,.9l.3-.8l.3,.6l.4-.8l.3,.9l.3-.6l.3,.8l.3-.7l.3,1.1l.4-.4l.3,.9l.3-.7l.3,.8l.3-.4l.3,.9l.4-.5l.3,.7l.3-.7l.3,1l.3-.7l.4,.7l.3-.4l.3,.6l.3-.7l.3,.8l.3-.9l.4,.7l.3-.8l.3,.5l.3-.4l.3,.6l.3-.8l.4,.7l.3-.6l.3,.5l.3-.8l.3,.9l.3-.7l.4,.5l.3-.8l.3,.9l.3-1l.3,1l.3-.6l.4,.4l.3-.4l.3,.8l.3-.8l.3,.7l.3-.6l.4,.6l.3-.8l.3,.7l.3-.6l.3,.6l.4-.6l.3,.7l.3-.7l.3,.9l.3-.8l.3,.7l.4-.5l.3,.3l.3-.6l.3,.4l.3-1l.3,.4l.4-.8l.3,.5l.3-.9l.3,.5l.3-.5l.3,.8l.4-.8l.3,1.1l.3-.7l.3,1.1l.3-.5l.3,.8l.4-.4l.3,.8l.3-.6l.3,.6l.3-.5l.3,.8l.4-.8l.3,.9l.3-.5l.3,.9l.3-.7l.3,.7l.4-.6l.3,.9l.3-.4l.3,.8l.3-1l.4,.9l.3-.8l.3,.7l.3-1.1l.3,.7l.3-.8l.4,.8l.3-.9l.3,.4l.3-.6l.3,.8l.3-1.1l.4,.7l.3-.9l.3,.5l.3-.9l.3,.6l.3-.8l.4,.7l.3-.9l.3,.9l.3-.6l.3,.7l.3-.3l.4,.9l.3-.8l.3,1.1l.3-.7l.3,.8l.3-.8l.4,.7l.3-.7l.3,.6l.3-.6l.3,.7l.3-.8l.4,.4l.3-.7l.3,.8l.3-.7l.3,.4l.4-.6l.3,.6l.3-.7l.3,.8l.3-.6l.3,1l.4-.6l.3,1l.3-.5l.3,1.1l.3-.1l.3,.7l.4-.3l.3,1.3l.3-.6l.3,1.2l.3-.5l.3,.9l.4-.5l.3,1.3l.3-.8l.3,1l.3-.6l.3,.8l.4-.5l.3,.6l.3-.9l.3,.5l.3-.8l.3,.4l.4-1.1l.3,.5l.3-1.3l.3,.4l.3-.9l.4,.4l.3-.7l.3,.3l.3-.8l.3,.7l.3-.8l.4,.4l.3-.7l.3,.6l.3-.6l.3,.7l.3-.6l.4,.6l.3-.8l.3,.9l.3-1l.3,1l.3-.9l.4,.8l.3-.7l.3,.5l.3-.9l.3,.6l.3-.6l.4,.6l.3-.9l.3,.6l.3-.5l.3,.4l.3-.7l.4,.7l.3-.4l.3,.4l.3-.5l.3,.5l.3-1l.4,.7l.3-1l.3,.1l.3-1.2l.3,.5l.4-1.2l.3,.3l.3-1.2l.3,.4l.3-.9l.3,.3l.4-.8l.3,.4l.3-.9l.3,.5l.3-1l.3,.8l.4-1l.3,.5l.3-.8l.3,.9l.3-.8l.3,.7l.4-.7l.3,.5l.3-.8l.3,.5l.3-1.1l.3,.7l.4-.9l.3,.3l.3-.9l.3,.4l.3-1.1l.3,.6l.4-1l.3,.4l.3-.7l.3,.5l.3-.7l.4,.6l.3-.3l.3,.6l.3-.3l.3,.9l.3-.7l.4,1.2l.3-.3l.3,1l.3-.6l.3,1.3l.3-.4l.4,.8l.3-.3l.3,.7l.3-.4l.3,1.2l.3-.7l.4,1l.3-.6l.3,.6l.3-.4l.3,.4l.3-.5l.4,.7l.3-.9l.3,.8l.3-.9l.3,.6l.3-.9l.4,.4l.3-.9l.3,.5l.3-.8l.3,.4l.3-.9l.4,.7l.3-.8l.3,.3l.3-.7l.3,.3l.4-.8l.3,.3l.3-.6l.3,.2l.3-.9l.3,.9l.4-1.1l.3,.7l.3-1.1l.3,.9l.3-1l.3,.6l.4-.7l.3,.6l.3-.6l.3,.8l.3-.6l.3,.9l.4-.6l.3,.6l.3-.3l.3,.4l.3-.5l.3,.4l.4-.8l.3,.7l.3-.9l.3,.4l.3-.7l.3,.6l.4-1l.3,.6l.3-.7l.3,.7l.3-.8l.4,.5l.3-.8l.3,.6l.3-.7l.3,.8l.3-.7l.4,1l.3-.5l.3,.6l.3-.5l.3,1.2l.3-.7l.4,.9l.3-.6l.3,.8l.3-.8l.3,.7l.3-.7l.4,.5l.3-.6l.3,.6l.3-.9l.3,.5l.3-.5l.4,.7l.3-.5l.3,.7l.3-.4l.3,1l.3-.6l.4,.8l.3-.4l.3,.8l.3-.6l.3,.7l.3-.6l.4,.5l.3-.6l.3,.7l.3-1l.3,.7l.4-.8l.3,.7l.3-1.1l.3,.6l.3-.9l.3,.7l.4-1l.3,.7l.3-.7l.3,.3l.3-.5l.3,.5l.4-.8l.3,.7l.3-.9l.3,.8l.3-.9l.3,.9l.4-.7l.3,.9l.3-.8l.3,1.1l.3-.7l.3,1.1l.4-.5l.3,.8l.3-.1l.3,.7l.3-.5l.3,1.2l.4-.6l.3,1.1l.3-.5l.3,.8l.3-.3l.3,.9l.4-.4l.3,.9l.3-.7l.3,1.1l.3-.3l.4,1l.3-.5l.3,.6l.3-.5l.3,1l.3-.5l.4,1l.3-.5l.3,.5l.3-.4l.3,.9l.3-.8l.4,1l.3-.5l.3,.9l.3-.7l.3,.9l.3-.6l.4,.3l.3-.7l.3,.4l.3-.9l.3,.3l.3-.9l.4,.2l.3-.9l.3,.5l.3-1l.3,.8l.3-.9l.4,.6l.3-.8l.3,.9l.3-.6l.3,.6l.4-.7l.3,.4l.3-1l.3,.8l.3-.9l.3,.3l.4-1.2l.3,.6l.3-.8l.3,.5l.3-.9l.3,.8l.4-.4l.3,.8l.3-.5l.3,.8l.3-.4l.3,.7l.4-.3l.3,.6l.3-.4l.3,.7l.3-.4l.3,.8l.4-.2l.3,.7l.3-.5l.3,.9l.3-.2l.3,1l.4-.7l.3,1l.3-.5l.3,.6l.3-.4l.3,.5l.4-.8l.3,.8l.3-.5l.3,.7l.3-.5l.4,.8l.3-.5l.3,.8l.3-.6l.3,1l.3-.3l.4,1l.3-.3l.3,.9l.3-.5l.3,.7l.3-.6l.4,1l.3-.5l.3,.6l.3-.8l.3,.7l.3-1l.4,.8l.3-1l.3,.6l.3-1.1l.3,.3l.3-.9l.4,.5l.3-1.2l.3,.7l.3-.9l.3,.5l.3-.6l.4,.8l.3-.7l.3,.8l.3-.5l.3,.8l.4-.3l.3,.7l.3-.2l.3,.7l.3-.5l.3,.7l.4-.7l.3,.3l.3-.8l.3,.4l.3-.7l.3,.5l.4-1.1l.3,.7l.3-.7l.3,.6l.3-.9l.3,.6l.4-.9l.3,.8l.3-.8l.3,.7l.3-.9l.3,.6l.4-.8l.3,.5l.3-1l.3,.6l.3-.6l.3,.4l.4-.6l.3,.7l.3-.9l.3,.9l.3-.7l.3,.7l.4-.7l.3,.7l.3-1l.3,.6l.3-1.3l.4,.3l.3-1l.3,.2l.3-1.1l.3,.3l.3-1.3l.4,.3l.3-1.2l.3,.5l.3-1.1l.3,.4l.3-.7l.4,.3l.3-.8l.3,.7l.3-.6l.3,.7l.3-.9l.4,.9l.3-.8l.3,.7l.3-.6l.3,.8l.3-.4l.4,.8l.3-.7l.3,1.2l.3-.6l.3,1.1l.3-.6l.4,1.3l.3-.6l.3,1.1l.3-.5l.3,1l.4-.3l.3,.9l.3-.3l.3,.6l.3-.5l.3,.7l.4-.6l.3,.7l.3-.6l.3,.7l.3-.9l.3,.6l.4-.6l.3,.5l.3-.8l.3,.8l.3-.6l.3,.7l.4-.6l.3,.6l.3-.6l.3,.9l.3-.7l.3,.6l.4-.8l.3,.7l.3-.7l.3,.7l.3-.9l.3,.8l.4-.9l.3,.8l.3-.9l.3,1l.3-.5l.3,.7l.4-.5l.3,.9l.3-.4l.3,.8l.3-.3l.4,.7l.3-.4l.3,.9l.3-.6l.3,.5l.3-.6l.4,.7l.3-.8l.3,1l.3-.7l.3,.8l.3-.5l.4,.8l.3-.4l.3,.8l.3-.6l.3,.8l.3-.5l.4,.8l.3-.7l.3,.7l.3-.5l.3,.6l.3-1.1l.4,.5l.3-1.1l.3,.6l.3-1.2l.3,.5l.3-1.1l.4,.6l.3-1.1l.3,.6l.3-.8l.3,.8l.3-.8l.4,.7l.3-.4l.3,.7l.3-.7l.3,.7l.4-.5l.3,.6l.3-.6l.3,.5l.3-.9l.3,.4l.4-.8l.3,.8l.3-1l.3,.6l.3-.9l.3,.8l.4-.8l.3,.6l.3-.7l.3,.9l.3-.8l.3,.6l.4-.8l.3,.4l.3-.7l.3,.7l.3-.7l.3,.6l.4-.8l.3,.5l.3-.5l.3,.5l.3-.9l.3,.9l.4-.8l.3,.4l.3-.6l.3,.4l.3-.9l.4,.8l.3-1l.3,.5l.3-.7l.3,.6l.3-.5l.4,.6l.3-.7l.3,.6l.3-.4l.3,.9l.3-1l.4,.9l.3-.5l.3,.5l.3-.7l.3,.6l.3-.7l.4,.8l.3-.9l.3,.9l.3-1l.3,.9l.3-1.1l.4,.8l.3-.8l.3,.5l.3-1.1l.3,.7l.3-.9l.4,.5l.3-.8l.3,.8l.3-.8l.3,.8l.3-.8l.4,.7l.3-.8l.3,.4l.3-.7l.3,.9l.4-1.1l.3,.6l.3-.8l.3,.7l.3-.9l.3,.8l.4-.9l.3,.6l.3-.7l.3,.6l.3-.8l.3,.4l.4-.8l.3,.7l.3-1l.3,.6l.3-.7l.3,.5l.4-.8l.3,.3l.3-.7l.3,.3l.3-.7l.3,.3l.4-.6l.3,.1l.3-.7l.3,.3l.3-.8l.3,.6l.4-.8l.3,.8l.3-.6l.3,1l.3-.6l.4,1.4l.3-.3l.3,1.2l.3-.4l.3,1.5l.3-.3l.4,1.5l.3-.3l.3,1.2l.3-.1l.3,.9l.3-.2l.4,.8l.3-.3l.3,.9l.3-.5l.3,.9l.3-.6l.4,.9l.3-.7l.3,1l.3-.6l.3,1.1l.3-.8l.4,1l.3-.4l.3,.7l.3-.6l.3,1l.3-.8l.4,.7l.3-.8l.3,.7l.3-.6l.3,.7l.3-.8l.4,.9l.3-.4l.3,.9l.3-.3l.3,1.3l.4-.4l.3,1.3l.3-.1l.3,1.1l.3-.4l.3,1.3l.4-.5l.3,1.1l.3-.5l.3,1l.3-.3l.3,1l.4-.6l.3,.8l.3-.5l.3,.9l.3-.6l.3,.5l.4-.9l.3,.9l.3-1l.3,1l.3-1.1l.3,.9l.4-.9l.3,.5l.3-.8l.3,.8l.3-.9l.3,.5l.4-.8l.3,.2l.3-.8l.3,.5l.3-1l.4,.6l.3-1.1l.3,.7l.3-.6l.3,.5l.3-.9l.4,.8l.3-.8l.3,.7l.3-.9l.3,.8l.3-.4l.4,.7l.3-.8l.3,.7l.3-.4l.3,.7l.3-.7l.4,.6l.3-.6l.3,.5l.3-1l.3,.3l.3-.8l.4,.5l.3-1l.3,.7l.3-1l.3,.7l.3-.6l.4,.8l.3-1l.3,.8l.3-.9l.3,.5l.3-.9l.4,.3l.3-1.2l.3,.4l.3-1.1l.3,.1l.4-1.2l.3,.3l.3-1.1l.3,.1l.3-1.1l.3,.6l.4-1l.3,.3l.3-.8l.3,.8l.3-.8l.3,.7l.4-.9l.3,.9l.3-.8l.3,.3l.3-.5l.3,.4l.4-.8l.3,.4l.3-.6l.3,.6l.3-.7l.3,.7l.4-.9l.3,.7l.3-.8l.3,.4l.3-.8l.3,.6l.4-.6l.3,.5l.3-1.1l.3,.9l.3-1l.3,.9l.4-.9l.3,.9l.3-.5l.3,.7l.3-1l.4,.8l.3-.7l.3,.8l.3-.7l.3,.5l.3-.8l.4,.7l.3-.8l.3,.7l.3-.8l.3,.6l.3-.3l.4,.5l.3-.7l.3,.8l.3-.6l.3,.7l.3-.7l.4,.8l.3-.9l.3,.6l.3-.8l.3,.7l.3-1l.4,.8l.3-.6l.3,.6l.3-.8l.3,1l.3-.5l.4,.7l.3-.3l.3,.8l.3-.6l.3,1l.4-.3l.3,.8l.3-.7l.3,1l.3-.6l.3,.6l.4-.6l.3,.8l.3-.5l.3,.7l.3-.7l.3,1.1l.4-.8l.3,.9l.3-.6l.3,.9l.3-.4l.3,.5l.4-.2l.3,.7l.3-.5l.3,.9l.3-.5l.3,.8l.4-.7l.3,.8l.3-.7l.3,.5l.3-.5l.3,.5l.4-1.2l.3,.5l.3-1.2l.3,.6l.3-1.2l.3,.1l.4-1.2l.3,.2l.3-1l.3-.1l.3-1.1l.4,.4l.3-1.2l.3,.5l.3-.8l.3,.6l.3-.7l.4,.7l.3-.4l.3,1l.3-.6l.3,.8l.3-.4l.4,.6l.3-.6l.3,.7l.3-.6l.3,.7l.3-.5l.4,.7l.3-.6l.3,.6l.3-.7l.3,1.2l.3-.8l.4,1.1l.3-.4l.3,.9l.3-.3l.3,.9l.3-.9l.4,1.2l.3-.7l.3,.6l.3-.8l.3,.9l.4-1l.3,.7l.3-1l.3,.7l.3-.9l.3,.7l.4-.9l.3,.7l.3-.7l.3,.7l.3-.5l.3,.5l.4-.6l.3,1.1l.3-.7l.3,1l.3-.5l.3,.7l.4-.6l.3,.8l.3-.3l.3,.7l.3-.6l.3,.8l.4-.8l.3,.8l.3-.5l.3,.6l.3-.5l.3,.7l.4-.5l.3,.8l.3-.6l.3,1l.3-.5l.3,.7l.4-.4l.3,.6l.3-.4l.3,.9l.3-.6l.4,1l.3-.5l.3,1.2l.3-.7l.3,1.2l.3-.7l.4,.8l.3-.4l.3,.8l.3-.9l.3,.8l.3-.7l.4,.6l.3-.5l.3,.4l.3-.6l.3,.6l.3-.9l.4,.9l.3-.8l.3,1l.3-.8l.3,.9l.3-.6l.4,.9l.3-.5l.3-2.9l.3-8.5l.3-7.1l.3-6l.4,1.1l.3-.3l.3,1.2l.3-.4l.3,.9l.4-.4l.3,1.1l.3-.5l.3,1.2l.3-.5l.3,1l.4-.3l.3,1.1l.3-.6l.3,1.2l.3-.4l.3,1.2l.4,0l.3,1.2l.3-.2l.3,1l.3-.3l.3,.9l.4-.3l.3,.9l.3-.4l.3,.7l.3-.4l.3,.5l.4-.8l.3,.8l.3-.8l.3,.7l.3-.8l.3,.6l.4-.7l.3,.8l.3-.5l.3,.8l.3-.6l.3,.7l.4-.6l.3,1l.3-.5l.3,1.1l.3-.5l.4,1.1l.3-.6l.3,1.2l.3-.7l.3,1.1l.3-.5l.4,1l.3-.7l.3,.8l.3-.5l.3,.6l.3-.7l.4,.9l.3-.6l.3,.4l.3-.7l.3,.6l.3-.7l.4,.9l.3-.7l.3,.8l.3-.8l.3,.7l.3-.7l.4,1.2l.3-.9l.3,.9l.3-.5l.3,.7l.3-.6l.4,1l.3-.6l.3,.6l.3-.4l.3,.7l.3-.5l.4,.8l.3-.8l.3,.9l.3-.8l.3,.7l.4-1l.3,.8l.3-1l.3,.8l.3-1l.3,.9l.4-.9l.3,.6l.3-.5l.3,.7l.3-.4l.3,.6l.4-.6l.3,.7l.3-.4l.3,.6l.3-.7l.3,.7l.4-.6l.3,.7l.3-.8l.3,.8l.3-.7l.3,.7l.4-.8l.3,.9l.3-.5l.3,.8l.3-.6l.3,.5l.4-.4l.3,.7l.3-.8l.3,.6l.3-.7l.4,1l.3-.9l.3,.8l.3-.5l.3,.6l.3-.6l.4,.9l.3-.6l.3,.7l.3-.4l.3,.5l.3-.4l.4,.6l.3-.7l.3,.8l.3-1l.3,.9l.3-.9l.4,.8l.3-.9l.3,.8l.3-.8l.3,.8l.3-.8l.4,.8l.3-.8l.3,.8l.3-.4l.3,.8l.3-.7l.4,.7l.3-.5l.3,1l.3-.9l.3,.8l.3-.3l.4,.6l.3-.7l.3,.6l.3-.4l.3,.6l.4-.6l.3,.8l.3-.7l.3,.9l.3-.9l.3,.8l.4-.9l.3,.7l.3-.6l.3,.4l.3-.8l.3,.8l.4-1l.3,.7l.3-.8l.3,.9l.3-.9l.3,.7l.4-.6l.3,.6l.3-.6l.3,.7l.3-.5l.3,.8l.4-.6l.3,.8l.3-.6l.3,.9l.3-.8l.3,.7l.4-.9l.3,.5l.3-.6l.3,.2l.3-.8l.4,.3l.3-.7l.3,.5l.3-.9l.3,.5l.3-1.1l.4,.8l.3-.8l.3,.6l.3-.8l.3,1l.3-1l.4,.8l.3-.8l.3,.9l.3-.9l.3,.6l.3-1.1l.4,.5l.3-1.2l.3,.3l.3-.7l.3,.3l.3-.5l.4,.9l.3-.7l.3,1.1l.3-.3l.3,1.2l.3-.2l.4,.9l.3-.5l.3,1.1l.3-.6l.3,1l.3-.8l.4,.8l.3-1l.3,.7l.3-.7l.3,.7l.4-1l.3,.8l.3-1l.3,.8l.3-.7l.3,.7l.4-.8l.3,1l.3-.9l.3,.9l.3-1l.3,.9l.4-.7l.3,.5l.3-.6l.3,.5l.3-1l.3,.5l.4-.8l.3,.4l.3-1.1l.3,.6l.3-1.1l.3,.5l.4-1l.3,.6l.3-.7l.3,.5l.3-.4l.3,.7l.4-.6l.3,.9l.3-.5l.3,1l.3-.4l.3,1.2l.4-.6l.3,1.1l.3-.5l.3,.9l.3-.4l.4,.9l.3-.7l.3,.8l.3-.3l.3,.5l.3-.6l.4,.8l.3-.4l.3,.7l.3-.5l.3,.5l.3-.5l.4,.4l.3-.8l.3,.7l.3-.7l.3,.3l.3-.6l.4,.6l.3-.5l.3,.4l.3-.6l.3,.7l.3-.5l.4,.8l.3-.9l.3,.7l.3-.4l.3,.7l.3-.7l.4,.9l.3-.8l.3,1l.3-.6l.3,.8l.4-.3l.3,.8l.3-.6l.3,.8l.3-.9l.3,.5l.4-.7l.3,.7l.3-1l.3,.6l.3-1.1l.3,.6l.4-.8l.3,.8l.3-.7l.3,.9l.3-.6l.3,1.1l.4-.8l.3,.8l.3-.2l.3,.9l.3-.8l.3,.7l.4-.5l.3,.6l.3-.6l.3,.8l.3-.9l.3,.8l.4-.6l.3,.5l.3-.6l.3,.6l.3-.8l.3,1l.4-.7l.3,.5l.3-.6l.3,1.1l.3-.8l.4,.8l.3-.5l.3,.7l.3-.7l.3,1l.3-.7l.4,.6l.3-.6l.3,.5l.3-.9l.3,.8l.3-.8l.4,.3l.3-.8l.3,.7l.3-.7l.3,.6l.3-.5l.4,.6l.3-.6l.3,1.1l.3-.5l.3,.8l.3-.7l.4,1l.3-.7l.3,1.1l.3-.7l.3,.7l.3-.7l.4,.6l.3-.9l.3,.8l.3-.9l.3,.7l.4-1l.3,.7l.3-.7l.3,.5l.3-.9l.3,.6l.4-.8l.3,.4l.3-.8l.3,.7l.3-1l.3,.7l.4-.8l.3,.3l.3-.7l.3,.5l.3-.6l.3,.7l.4-.3l.3,.6l.3-.2l.3,.8l.3-.5l.3,1l.4-.8l.3,1.2l.3-.6l.3,1l.3-.8l.3,.9l.4-.2l.3,.9l.3-.8l.3,1l.3-.5l.3,.9l.4-.4l.3,.7l.3-.6l.3,.6l.3-.8l.4,.7l.3-.9l.3,.8l.3-1l.3,.7l.3-.8l.4,.7l.3-1l.3,.8l.3-.8l.3,.7l.3-.7l.4,1.1l.3-.7l.3,.7l.3-.7l.3,.8l.3-.5l.4,1l.3-.9l.3,.9l.3-.9l.3,.7l.3-.8l.4,.8l.3-.7l.3,.5l.3-.7l.3,.7l.3-.9l.4,.8l.3-.8l.3,.7l.3-.8l.3,.6l.4-.8l.3,.8l.3-.4l.3,.7l.3-.5l.3,.9l.4-.7l.3,.9l.3-.5l.3,1l.3-.2l.3,.7l.4-.3l.3,.6l.3-.8l.3,.7l.3-.8l.3,.8l.4-1.2l.3,.9l.3-1l.3,.7l.3-.8l.3,.7l.4-.5l.3,.9l.3-.5l.3,.6l.3-.3l.3,1l.4-.4l.3,1l.3-.7l.3,.9l.3-.3l.3,.7l.4-.6l.3,.8l.3-.7l.3,.7l.3-.8l.4,.6l.3-.7l.3,.6l.3-.5l.3,.8l.3-.9l.4,.9l.3-.6l.3,.6"/>
</g>
<rect x="251.5" y="86.5" width="512" height="471" fill="#fff" stroke="#262626" stroke-width="3"/>
<g fill="none" stroke-width="7.2" shape-rendering="crispEdges">
<path stroke="#4DBEEE" stroke-dasharray="22,19.2" d="M264,125.5 H393"/>
<path stroke="#00FF00" d="M264,191 H393"/>
<path stroke="#006400" stroke-dasharray="22,19.2" d="M264,256.5 H393"/>
<path stroke="#FF99E6" d="M264,322 H393"/>
<path stroke="#FFFF00" stroke-dasharray="22,19.2" d="M264,387.5 H393"/>
<path stroke="#FFCC00" d="M264,453 H393"/>
<path stroke="#FF0000" stroke-dasharray="22,19.2" d="M264,518.5 H393"/>
</g>
<g font-size="54" fill="#000">
<text y="143.4"><tspan x="401">LMS</tspan></text>
<text y="209.9"><tspan x="403">MCC,</tspan><tspan x="538" font-style="italic" font-size="54" textLength="30.5" lengthAdjust="spacingAndGlyphs">σ</tspan><tspan x="567.5">=5</tspan></text>
<text y="275.5"><tspan x="401.6">MACC</tspan></text>
<text y="343"><tspan x="403">GMACC,</tspan><tspan x="617" font-style="italic" font-size="54" textLength="33.5" lengthAdjust="spacingAndGlyphs">α</tspan><tspan x="652">=1</tspan></text>
<text y="408.4"><tspan x="403">GMACC,</tspan><tspan x="617" font-style="italic" font-size="54" textLength="33.5" lengthAdjust="spacingAndGlyphs">α</tspan><tspan x="652">=1.5</tspan></text>
<text y="475.6"><tspan x="403">GMACC,</tspan><tspan x="617" font-style="italic" font-size="54" textLength="33.5" lengthAdjust="spacingAndGlyphs">α</tspan><tspan x="652">=2.5</tspan></text>
<text y="539.4"><tspan x="403">GMACC,</tspan><tspan x="617" font-style="italic" font-size="54" textLength="33.5" lengthAdjust="spacingAndGlyphs">α</tspan><tspan x="652">=3</tspan></text>
</g>
<rect x="950.5" y="451.5" width="635" height="440" fill="#fff"/>
<g stroke="#262626" stroke-width="3" fill="none">
<rect x="950.5" y="451.5" width="635" height="440"/>
<path stroke-width="3.6" d="M965.0,891.5 v-7.6 M965.0,451.5 v7.6 M1092.1,891.5 v-7.6 M1092.1,451.5 v7.6 M1219.2,891.5 v-7.6 M1219.2,451.5 v7.6 M1346.3,891.5 v-7.6 M1346.3,451.5 v7.6 M1473.4,891.5 v-7.6 M1473.4,451.5 v7.6 M950.5,530.0 h7.6 M1585.5,530.0 h-7.6 M950.5,695.0 h7.6 M1585.5,695.0 h-7.6 M950.5,860.0 h7.6 M1585.5,860.0 h-7.6"/>
</g>
<g clip-path="url(#ci)" fill="none" stroke-linejoin="round" stroke-width="10" shape-rendering="crispEdges">
<path stroke="#4DBEEE" stroke-dasharray="31.5,30.2" stroke-dashoffset="0.0" d="M944.7,735.2l.6,.9l.6-.5l.7,.8l.6-.4l.6,.7l.7-.4l.6,1l.6-.5l.7,1.2l.6,.3l.7,1.6l.6,.4l.6,1.5l.7,0l.6,1.1l.6-.3l.7,1l.6-.3l.6,1l.7-.4l.6,.9l.6-.2l.7,1.1l.6,.1l.7,1.8l.6,.4l.6,2.1l.7,.4l.6,1.6l.6-.6l.7,1.1l.6-1.2l.6,.3l.7-1.4l.6,.4l.6-1.2l.7,.6l.6-.9l.6,1l.7-.7l.6,.9l.7-1l.6,.4l.6-1.3l.7,.2l.6-1.4l.6,.9l.7-.8l.6,1.3l.6-.5l.7,1.1l.6-.3l.6,1.3l.7-.7l.6,1.3l.7-.4l.6,1.8l.6-.2l.7,1.4l.6-.4l.6,1.5l.7-.6l.6,1.5l.6-.7l.7,1.1l.6-.6l.6,1.1l.7-.7l.6,1.4l.6-.9l.7,1.3l.6-.7l.7,1.2l.6-.6l.6,1.3l.7-.9l.6,1.1l.6-.6l.7,1.2l.6-.5l.6,1.1l.7-.9l.6,1l.6-.7l.7,1.2l.6-.4l.7,1.6l.6-.7l.6,1.6l.7-.6l.6,1.2l.6-.5l.7,1.5l.6,.1l.6,1.8l.7-.2l.6,1.7l.6-.7l.7,1l.6-1l.6,.8l.7-.9l.6,1.1l.7-1.2l.6,.9l.6-1.5l.7,1.3l.6-1.6l.6,1l.7-1.1l.6,1.5l.6-1.3l.7,1.7l.6-.7l.6,1.7l.7-.7l.6,1.9l.7-.7l.6,1.5l.6-.9l.7,1.6l.6-.7l.6,1.4l.7-1.5l.6,1.4l.6-1.9l.7,1.3l.6-1.6l.6,.9l.7-1.9l.6,1.4l.7-1.6l.6,1.2l.6-1.7l.7,1.7l.6-1.7l.6,1.7l.7-1.9l.6,1.7l.6-2.2l.7,1.5l.6-1.5l.6,.7l.7-1.7l.6,1.3l.6-1.3l.7,1.2l.6-1.6l.7,1.5l.6-1.2l.6,1.2l.7-1.6l.6,1.6l.6-1.4l.7,1.2l.6-1.6l.6,.8l.7-2.3l.6,.7l.6-2.3l.7,.5l.6-2.5l.7,.3l.6-1.8l.6,.2"/>
<path stroke="#4DBEEE" stroke-linejoin="bevel" stroke-dasharray="31.5,30.2" stroke-dashoffset="51.1" d="M1049.5,759.4l.7-12.5l.6-55.4l.6-68.5l.7-69l.6-69l.6,79.6l.7,.8l.6,2.6l.6,.1"/>
<path stroke="#4DBEEE" stroke-dasharray="31.5,30.2" stroke-dashoffset="39.2" d="M1055.2,568.1l.7,1.1l.6,.5l.6,1.6l.7,1l.6,1.8l.7,1.1l.6,1.7l.6,.6l.7,.9l.6-.1l.6,.5l.7-.3l.6,.5l.6-.5l.7,.5l.6-.5l.6,.4l.7-.1l.6,1.1l.7,.4l.6,1.6l.6,.8l.7,1.2l.6,.5l.6,1.2l.7,.5l.6,1.1l.6,.1l.7,.7l.6-.3l.6,.5l.7-.2l.6,.4l.6-.3l.7,.8l.6,.1l.7,1l.6,.6l.6,1.3l.7,.3l.6,.7l.6,.1l.7,1l.6,0l.6,1l.7-.1l.6,.7l.6-.4l.7,.3l.6-.6l.7,.1l.6-.9l.6,.1l.7-.3l.6,.6l.6,.5l.7,1.7l.6,1.2l.6,1.5l.7,.4l.6,.7l.6-.6l.7,.4l.6-.2l.6,1l.7,.8l.6,2.1l.7,1.3l.6,2.3l.6,1.1l.7,1.2l.6,.6l.6,1.2l.7,.3l.6,1.4l.6,.5l.7,1.5l.6,.4l.6,1.2l.7,.3l.6,1l.7,.4l.6,1l.6,.7l.7,1.1l.6,.2l.6,.9l.7-.1l.6,.7l.6,0l.7,.8l.6-.3l.6,.7l.7-.3l.6,.9l.6,.2l.7,1.1l.6,.2l.7,1.3l.6,.6l.6,1.2l.7,.5l.6,1.4l.6,.5l.7,1.3l.6,.3l.6,1.1l.7-.2l.6,.3l.6-.6l.7-.1l.6-.7l.7,.3l.6-.4l.6,.9l.7,.2l.6,5.5l.6,4.7l.7,5.3l.6,4.3l.6,5.4l.7,.2l.6,1.3l.6,.7l.7,1.5l.6,.5l.6,.8l.7-.4l.6,.3l.7-.5l.6,.3l.6-.1l.7,1.3l.6,.5l.6,1.4l.7,.8l.6,1.7l.6,1l.7,1.7l.6,.4l.6,.6l.7-.5l.6-.1l.7-1.3l.6-.2l.6-.8l.7,.4l.6-.2l.6,.8l.7,0l.6,.5l.6-.5l.7,.5l.6,.1l.6,1l.7,.7l.6,1.4l.6,.4l.7,1l.6-.4l.7,.3l.6-.3l.6,.6l.7,.2l.6,1.4l.6,.3l.7,1.6l.6,.5l.6,1.2l.7,.5l.6,1.3l.6,.3l.7,.9l.6,0l.7,.4l.6-.7l.6,.1l.7-.4l.6,.8l.6,.4l.7,1.7l.6,1.1l.6,1.6l.7,.1l.6,.4l.6-.6l.7,.1l.6-.5l.7,.7l.6,.4l.6,1.7l.7,.8l.6,1.9l.6,.9l.7,1.3l.6,.2l.6,.6l.7-.7l.6,.1l.6-1.1l.7,0l.6-.5l.6,.6l.7,0l.6,1l.7-.1l.6,.9l.6-.5l.7,.6l.6-.2l.6,.6l.7-.2l.6,1l.6,.2l.7,.9l.6-.3l.6,.3l.7,0l.6,.7l.7,.3l.6,1.7l.6,1.7l.7,2.8l.6,2.1l.6,2.7l.7,1.5l.6,1.6l.6,.4l.7,1.5l.6,.2l.6,1.1l.7-.2l.6,.4l.6-.7l.7,.1l.6-.4l.7,.9l.6,.1l.6,1.5l.7,.8l.6,1.8l.6,.9l.7,1.8l.6,.8l.6,1.6l.7,.3l.6,.9l.6-.4l.7,.3l.6-.8l.7,.5l.6-.1l.6,.9l.7,.2l.6,1.5l.6,.4l.7,1.2l.6,0l.6,1l.7-.1l.6,.7l.6-.1l.7,.9l.6-.2l.6,.6l.7-.2l.6,.7l.7,.5l.6,1.7l.6,1.1l.7,2l.6,.8l.6,1.5l.7,.4l.6,1.5l.6,.2l.7,1.4l.6,.1l.6,1.2l.7,0l.6,.8l.7-.6l.6,.3l.6-.7l.7,.6l.6-.4l.6,1.4l.7,.4l.6,1.6l.6,.4l.7,1.2l.6-.4l.6,.8l.7-.6l.6,.8l.6-.8l.7,1.2l.6-.7l.7,1.3l.6-.4l.6,1.5l.7-.2l.6,1.6l.6,.1l.7,1.3l.6-.2l.6,1l.7-.8l.6,.7l.6-.9l.7,.9l.6-1l.7,.8l.6-.8l.6,1.2l.7-.8l.6,1.4l.6-.5l.7,1.7l.6-.1l.6,1.7l.7-1.1l.6,1.3l.6-1.2l.7,1.4l.6-1.5l.6,.8l.7-1.6l.6,.6l.7-2l.6,.5l.6-1.5l.7,.7l.6-1.4l.6,.6l.7-1.9l.6,1.3l.6-1.4l.7,1l.6-.5"/>
<path stroke="#4DBEEE" stroke-linejoin="bevel" stroke-dasharray="31.5,30.2" stroke-dashoffset="10.2" d="M1271.3,758l.6-83.8l.7,62.1l.6,.5l.7,.9l.6,.3"/>
<path stroke="#4DBEEE" stroke-dasharray="31.5,30.2" stroke-dashoffset="35.3" d="M1274.5,738l.6-1.2l.7,.2l.6-.9l.6,.6l.7-.7l.6,1.1l.6-.5l.7,1.3l.6,0l.6,1.2l.7-.5l.6,.6l.7-1.3l.6,.2l.6-1.9l.7,.6l.6-1.2l.6,3.1"/>
<path stroke="#4DBEEE" stroke-linejoin="bevel" stroke-dasharray="31.5,30.2" stroke-dashoffset="4.4" d="M1285.9,738.7l.7-29.3l.6,25l.6-.4l.7-1.5l.6-.2"/>
<path stroke="#4DBEEE" stroke-dasharray="31.5,30.2" stroke-dashoffset="0.0" d="M1289.1,732.3l.6,.9l.7-.5l.6,1l.6-.3l.7,1l.6,.3l.7,1.2l.6,0l.6,1.2l.7-.7l.6,.8l.6-.9l.7,.5l.6-.8l.6,1l.7-.8l.6,.9l.6-.5l.7,1.1l.6-.7l.7,.7l.6-.9l.6,1l.7-.9l.6,.4l.6-.8l.7,1l.6-.7l.6,1.2l.7-.5l.6,1.6l.6-.1l.7,1.6l.6-.5l.6,1.5l.7,0l.6,1.6l.7-.6l.6,1.5l.6-.5l.7,1.5l.6-.7l.6,1.5l.7-.7l.6,1.5l.6-.5l.7,1.8l.6,0l.6,1.8l.7-.5l.6,1.3l.7-.7l.6,1.6l.6-.3l.7,1.3l.6-.5l.6,1.3l.7-.1l.6,1.4l.6-.8l.7,1.6l.6-.9l.6,1.5l.7-.5l.6,1.4l.6-1.1l.7,.9l.6-1.2l.7,.6l.6-1.5l.6,.5l.7-1.2l.6,.4l.6,1.4"/>
<path stroke="#4DBEEE" stroke-linejoin="bevel" stroke-dasharray="31.5,30.2" stroke-dashoffset="45.6" d="M1336.1,755.7l.7-170.8l.6,17.7l.6-11.6l.7,1.4l.6-.5l.6,.8"/>
<path stroke="#4DBEEE" stroke-dasharray="31.5,30.2" stroke-dashoffset="2.3" d="M1339.9,592.7l.7,1.4l.6,.6l.7,1.2l.6,.9l.6,1.6l.7,.8l.6,1.7l.6,.8l.7,1.5l.6,.6l.6,1.4l.7,.6l.6,1.4l.6,.6l.7,1.4l.6,.8l.6,1.5l.7,.9l.6,1.6l.7,.7l.6,1.3l.6,.5l.7,1.2l.6,.6l.6,1.8l.7,1l.6,1.8l.6,.7l.7,1l.6,.2l.6,1.5l.7,.6l.6,1.6l.7,.8l.6,1.8l.6,.7l.7,1.4l.6,.6l.6,1.6l.7,1l.6,1.9l.6,1.3l.7,1.8l.6,.5l.6,.9l.7-.1l.6,.7l.6,0l.7,1l.6,.1l.7,.9l.6,0l.6,1l.7-.1l.6,.9l.6-.2l.7,.5l.6-.4l.6,.5l.7-.4l.6,.6l.6-.1l.7,.8l.6,0l.7,.7l.6,.1l.6,1l.7,.2l.6,1.5l.6,.7l.7,1.7l.6,.9l.6,1.5l.7,.4l.6,1l.6-.2l.7,.8l.6-.1l.6,.6l.7-.1l.6,.9l.7,0l.6,1.1l.6,.4l.7,1.5l.6,.4l.6,1l.7,.1l.6,.9l.6,.2l.7,.8l.6,.2l.6,1.3l.7,.6l.6,1.4l.7,.7l.6,1.4l.6,.4l.7,.6l.6-.4l.6-.9"/>
<path stroke="#4DBEEE" stroke-linejoin="bevel" stroke-dasharray="31.5,30.2" stroke-dashoffset="0.9" d="M1404.1,671.8l.7-.2l.6-210.9l.6-49.2l.7,0l.6,0l.6,0l.7,0l.6,0l.6,0l.7,0l.6,0l.7,0l.6,0"/>
<path stroke="#4DBEEE" stroke-dasharray="31.5,30.2" stroke-dashoffset="21.3" d="M1412.4,411.5l.6,0l.7,0l.6,0l.6,0l.7,0l.6,0l.6,0l.7,0l.6,0l.6,0l.7,0l.6,0l.7,0l.6,0l.6,0l.7,0l.6,0l.6,0l.7,0l.6,0l.6,0l.7,0l.6,0l.6,0l.7,0l.6,0l.7,0l.6,0l.6,0l.7,0l.6,0l.6,0l.7,0l.6,0l.6,0l.7,0l.6,0l.6,0l.7,0l.6,0l.6,0l.7,0l.6,0l.7,0l.6,0l.6,0l.7,0l.6,0l.6,0l.7,0l.6,0l.6,0l.7,0l.6,0l.6,0l.7,0l.6,0l.7,0l.6,0l.6,0l.7,0l.6,0l.6,0l.7,0l.6,0l.6,0l.7,0l.6,0l.6,0l.7,0l.6,0l.6,0l.7,0l.6,0l.7,0l.6,0l.6,0l.7,0l.6,0l.6,0l.7,0l.6,0l.6,0l.7,0l.6,0l.6,0l.7,0l.6,0l.7,0l.6,0l.6,0l.7,0l.6,0l.6,0l.7,0l.6,0l.6,0l.7,0l.6,0l.6,0l.7,0l.6,0l.6,0l.7,0l.6,0l.7,0l.6,0l.6,0l.7,0l.6,0l.6,0l.7,0l.6,0l.6,0l.7,0l.6,0l.6,0l.7,0l.6,0l.7,0l.6,0l.6,0l.7,0l.6,0l.6,0l.7,0l.6,0l.6,0l.7,0l.6,0l.6,0l.7,0l.6,0l.6,0l.7,0l.6,0l.7,0l.6,0l.6,0l.7,0l.6,0l.6,0l.7,0l.6,0l.6,0l.7,0l.6,0l.6,0l.7,0l.6,0l.7,0l.6,0l.6,0l.7,0l.6,0l.6,0l.7,0l.6,0l.6,0l.7,0l.6,0l.6,0l.7,0l.6,0l.6,0l.7,0l.6,0l.7,0l.6,0l.6,0l.7,0l.6,0l.6,0l.7,0l.6,0l.6,0l.7,0l.6,0l.6,0l.7,0l.6,0l.7,0l.6,0l.6,0l.7,0l.6,0l.6,0l.7,0l.6,0l.6,0l.7,0l.6,0l.6,0l.7,0l.6,0l.6,0l.7,0l.6,0l.7,0l.6,0l.6,0l.7,0l.6,0l.6,0l.7,0l.6,0l.6,0l.7,0l.6,0l.6,0l.7,0l.6,0l.7,0l.6,0l.6,0l.7,0l.6,0l.6,0l.7,0l.6,0l.6,0l.7,0l.6,0l.6,0l.7,0l.6,0l.7,0l.6,0l.6,0l.7,0l.6,0l.6,0l.7,0l.6,0l.6,0l.7,0l.6,0l.6,0l.7,0l.6,0l.6,0l.7,0l.6,0l.7,0l.6,0l.6,0l.7,0l.6,0l.6,0l.7,0l.6,0l.6,0l.7,0l.6,0l.6,0l.7,0l.6,0l.7,0l.6,0l.6,0l.7,0l.6,0l.6,0l.7,0l.6,0l.6,0l.7,0l.6,0l.6,0l.7,0l.6,0l.6,0l.7,0l.6,0l.7,0l.6,0l.6,0l.7,0l.6,0l.6,0l.7,0l.6,0"/>
<path stroke="#00FF00" d="M944.7,782.3l.6,1.7l.6-1.6l.7,1.9l.6-.8l.6,1.5l.7-.9l.6,1.7l.6-1.2l.7,1.3l.6-1.3l.7,2.1l.6-1.2l.6,1.3l.7-1.1l.6,1.2l.6-1.4l.7,1.7l.6-1.4l.6,1.9l.7-1l.6,1.7l.6-.9l.7,1.2l.6-.8l.7,1.2l.6-1.4l.6,1.4l.7-2.2l.6,1.3l.6-2l.7,1.5l.6-1.8l.6,.8l.7-2l.6,1.4l.6-1.6l.7,.7l.6-1.2l.6,.8l.7-1.9l.6,1.5l.7-2.3l.6,.8l.6-1.7l.7,.4l.6-1.6l.6,.6l.7-2.3l.6,1.5l.6-1.8l.7,1.5l.6-1.8l.6,1.4l.7-1.1l.6,2.1l.7-1.1l.6,2.2l.6-.5l.7,1.8l.6-1.3l.6,2.5l.7-1.3l.6,1.4l.6-1l.7,1.9l.6-1.3l.6,2.2l.7-1.6l.6,1.8l.6-.6l.7,1.6l.6-.9l.7,1.7l.6-1.6l.6,2.1l.7-.9l.6,1.5l.6-1.5l.7,1.5l.6-1.3l.6,1.9l.7-.8l.6,1.8l.6-.4l.7,1.7l.6-.8l.7,2.1l.6-.7l.6,2.3l.7-.7l.6,1.7l.6-.8l.7,1.2l.6-.7l.6,1.4l.7-1.8l.6,1.1l.6-1.3l.7,1.3l.6-1.6l.6,.9l.7-1.8l.6,1.2l.7-1.8l.6,1l.6-1.4l.7,.5l.6-1.4l.6,.9l.7-1.2l.6,1.1l.6-2l.7,1.6l.6-1.2l.6,1.7l.7-1.6l.6,2l.7-1.2l.6,1.4l.6-1l.7,1.5l.6-1.7l.6,1.6l.7-2.3l.6,1.2l.6-2.1l.7,.9l.6-1.9l.6,1l.7-1.8l.6,.8l.7-1.5l.6,1.3l.6-1.4l.7,1.2l.6-1l.6,.9l.7-1.6l.6,1.5l.6-1.6l.7,1.4l.6-2.1l.6,1.5l.7-1.4l.6,1l.6-1.4l.7,1.6l.6-1.8l.7,1.6l.6-.9l.6,1l.7-1.1l.6,1.9l.6-1.8l.7,1.7l.6-1.5l.6,.7l.7-2.4l.6,1.2l.6-2.5l.7-.4l.6-2.6l.7,.4l.6-2.7l.6-.1l.7-2.4l.6,.7l.6-2.3l.7,.6l.6-1.8l.6,1.6l.7-2.1l.6,1.9l.6-1.8l.7,2.2l.6-1.3l.6,1.5l.7-1.8l.6,2l.7-1.9l.6,1.6l.6-.9l.7,1.3l.6-1.2l.6,2l.7-.9l.6,1.9l.6-.5l.7,2l.6-.8l.6,1.6l.7-.7l.6,2.1l.7-1l.6,2.1l.6-1l.7,1.1l.6-.7l.6,1.6l.7-1.4l.6,.9l.6-.8l.7,1.5l.6-1.7l.6,1.3l.7-.8l.6,1.9l.6-1.2l.7,1.5l.6-1.2l.7,1.9l.6-1.2l.6,1.9l.7-1.4l.6,1.8l.6-2l.7,1.7l.6-1.6l.6,1.1l.7-1.6l.6,.5l.6-1.6l.7,1.6l.6-2.2l.7,1.7l.6-1.3l.6,1.3l.7-.6l.6,1.7l.6-.8l.7,1.6l.6-.7l.6,2.3l.7-.9l.6,1.8l.6-1.5l.7,1.4l.6-.9l.6,1.1l.7-.8l.6,.9l.7-1.3l.6,2l.6-1.8l.7,1.6l.6-1.1l.6,1.7l.7-1.1l.6,1.8l.6-1.2l.7,1.6l.6-1.2l.6,1.2l.7-1.5l.6,1.4l.7-2l.6,1.1l.6-1.6l.7,1l.6-2.2l.6,.6l.7-1.8l.6,1l.6-2.1l.7,.6l.6-1.2l.6,.7l.7-1.3l.6,1.4l.6-1.1l.7,1.4l.6-.9l.7,1.7l.6-1.6l.6,2l.7-1.9l.6,1.5l.6-1.5l.7,1.1l.6-1.8l.6,1l.7-1.4l.6,1.3l.6-2l.7,1.3l.6-1.5l.7,1.4l.6-1.5l.6,1.8l.7-1.7l.6,1.6l.6-1.5l.7,.9l.6-1.4l.6,.9l.7-1.3l.6,1l.6-1.3l.7,.9l.6-1.1l.6,1.2l.7-1l.6,1.3l.7-1.8l.6,1.9l.6-1.7l.7,1.7l.6-1.7l.6,1.5l.7-2.2l.6,1.5l.6-2.2l.7,1.2l.6-1.7l.6,.7l.7-1.8l.6,1.9l.7-1.9l.6,1.4l.6-1.5l.7,1.9l.6-1.7l.6,1.9l.7-1.3l.6,1.4l.6-1.8l.7,1.6l.6-1.4l.6,1.8l.7-1.3l.6,1l.6-1.2l.7,1.4l.6-1.5l.7,1.4l.6-1.7l.6,1.7l.7-1.8l.6,.8l.6-1.5l.7,1.8l.6-2l.6,1.5l.7-1.6l.6,1.2l.6-1.6l.7,1.1l.6-1.6l.7,.9l.6-1.8l.6,.6l.7-2l.6,1.1l.6-2.2l.7,1.3l.6-2.3l.6,1.3l.7-1.7l.6,1.5l.6-1.5l.7,1.5l.6-1.7l.7,1l.6-1.5l.6,1.3l.7-1.2l.6,1.5l.6-1.4l.7,1.5l.6-1.8l.6,1.5l.7-2l.6,1.3l.6-1.9l.7,1.4l.6-2.3l.6,1.2l.7-1.6l.6,.7l.7-1.9l.6,1.6l.6-1.8l.7,1.7l.6-.6l.6,2.2l.7-1.3l.6,2.8l.6-.6l.7,2.2l.6-1.2l.6,2.5l.7-.4l.6,1.9l.7-.5l.6,2.5l.6-1l.7,2.1l.6-.3l.6,1.5l.7-.5l.6,2l.6-1.1l.7,2l.6-1.2l.6,1.4l.7-1.4l.6,2l.6-.9l.7,1.7l.6-.7l.7,1.6l.6-.9l.6,1.8l.7-1.2l.6,2.2l.6-1.6l.7,1.6l.6-1.8l.6,1.1l.7-1.3l.6,1.2l.6-2l.7,1.7l.6-1.5l.7,2.1l.6-1.4l.6,2.1l.7-.6l.6,2.4l.6-.4l.7,1.8l.6-.5l.6,2.3l.7-.2l.6,2l.6-1.3l.7,2.5l.6-1.1l.6,1.9l.7-1.2l.6,1.5l.7-1.3l.6,1.5l.6-1.2l.7,1.8l.6-1.3l.6,1.6l.7-1.3l.6,1.6l.6-.7l.7,1.2l.6-1.2l.6,.9l.7-1.6l.6,1.8l.7-2.1l.6,1.3l.6-2l.7,1.4l.6-2l.6,.8l.7-1.5l.6,1l.6-1.5l.7,.9l.6-1.7l.6,1.1l.7-1.6l.6,1l.6-1.6l.7,1.1l.6-2l.7,1.8l.6-1.4l.6,1.5l.7-1.4l.6,1.2l.6-.8l.7,1.1l.6-1.1l.6,1.6l.7-1.5l.6,1.2l.6-1.6l.7,.8l.6-1.7l.7,1.2l.6-1.7l.6,1.3l.7-1.1l.6,1.5l.6-1.1l.7,1.1l.6-.9l.6,.6l.7-1.2l.6,.8l.6-2.6l.7,.6l.6-2.6l.6,.9l.7-3l.6,.8l.7-3l.6,.2l.6-2l.7,.7l.6-2.6l.6,.7l.7-1.8l.6,1l.6-1.8l.7,1l.6-1.4l.6,1.3l.7-1.6l.6,1.7l.7-1.6l.6,1.4l.6-1.5l.7,1.2l.6-1.9l.6,1.4l.7-1.4l.6,1.4l.6-1.3l.7,1.4l.6-1.5l.6,1.5l.7-1.8l.6,1.3l.7-1.9l.6,.9l.6-1.4l.7,.8l.6-1.3l.6,1.4l.7-1.9l.6,2.1l.6-1.2l.7,1.6l.6-1.5l.6,1.6l.7-1.2l.6,1.6l.6-1.2l.7,1.1l.6-1.7l.7,1.4l.6-1.7l.6,1.1l.7-1.4l.6,1l.6-1.3l.7,.9l.6-1.5l.6,1.1l.7-1.1l.6,1l.6-1.6l.7,1.6l.6-1.3l.7,.9l.6-1.1l.6,1.6l.7-1.6l.6,1.2l.6-1.9l.7,1.3l.6-1.3l.6,2.1l.7-1.2l.6,1.2l.6-.8l.7,2l.6-1.2l.6,1.9l.7-.6l.6,1.6l.7-1l.6,1.7l.6-.4l.7,1.2l.6-.5l.6,1.3l.7-.9l.6,1.4l.6-1.2l.7,1.8l.6-1.6l.6,1.9l.7-.9l.6,2l.7-1.3l.6,1.7l.6-1.2l.7,1.8l.6-1.6l.6,1.5l.7-1l.6,1l.6-1.4l.7,1.1l.6-1.1l.6,1.3l.7-1.9l.6,1.2l.6-1.6l.7,.8l.6-1.8l.7,.5l.6-1.8l.6,.8l.7-1.8l.6,.6l.6-2.2l.7,.5l.6-2.4l.6,.4l.7-2.5l.6,.6l.6-1.9l.7,.9l.6-2l.7,1.6l.6-1.4l.6,1.5l.7-.5l.6,1.7l.6-1.1l.7,1.8l.6-1.4l.6,1.8l.7-1.5l.6,1.6l.6-1.5l.7,1l.6-1.4l.6,2l.7-1.5l.6,2.2l.7-.9l.6,2l.6-1.1l.7,2.2l.6-1.1l.6,1.6l.7-.8l.6,1.9l.6-1.5l.7,1.4l.6-1.6l.6,1.2l.7-1.4l.6,1l.7-1.4l.6,1.2l.6-2l.7,1.7l.6-1.7l.6,1.5l.7-1.9l.6,1.5l.6-.8l.7,1.5l.6-1.5l.6,2.2l.7-1.2l.6,2l.6-1.3l.7,2.1l.6-.7l.7,1.5l.6-.8l.6,1.5l.7-.4l.6,1.5l.6-.8l.7,1.3l.6-.9l.6,2.1l.7-1.4l.6,1.5l.6-1.2l.7,1.7l.6-1.3l.7,1.4l.6-1.6l.6,2.1l.7-1.5l.6,.9l.6-1.5l.7,1.9l.6-1.8l.6,1.9l.7-1.6l.6,1.6l.6-1l.7,1.8l.6-.9l.6,2.3l.7-1l.6,1.7l.7-.9l.6,2l.6-1.7l.7,1.7l.6-1l.6,1.5l.7-1.5l.6,1.2l.6-1.8l.7,1.2l.6-1.5l.6,1.5l.7-1l.6,1.5l.7-.7l.6,1.3l.6-.9l.7,2.4l.6-1.3l.6-6.4l.7-8.1l.6-15.1l.6-12.7l.7,1.6l.6-1.1l.6,1.2l.7-1.3l.6,1.3l.6-1.1l.7,.8l.6-1.3l.7,1.2l.6-1.2l.6,1l.7-1.2l.6,1.1l.6-1l.7,1l.6-.6l.6,2.2l.7-.5l.6,2.4l.6-.4l.7,2.4l.6-.2l.7,2.1l.6-.9l.6,1.9l.7-.7l.6,1.9l.6-1.4l.7,.9l.6-1.4l.6,1.3l.7-1.6l.6,1.1l.6-1.2l.7,.9l.6-1.4l.7,1.8l.6-1.6l.6,1.9l.7-.8l.6,1.6l.6-1.1l.7,1.8l.6-1.2l.6,2.2l.7-1.2l.6,2.1l.6-1.2l.7,1.5l.6-.9l.6,1.5l.7-1.2l.6,2l.7-1.4l.6,1.7l.6-1.6l.7,1.5l.6-1.7l.6,1.5l.7-1.6l.6,1.1l.6-1.3l.7,.9l.6-1.4l.6,1.3l.7-1.4l.6,1.2l.7-1.1l.6,1.8l.6-1.6l.7,2l.6-.9l.6,1.2l.7-.9l.6,1.3l.6-.8l.7,1.3l.6-1l.6,1.4l.7-1.2l.6,1.2l.6-.9l.7,1.3l.6-1.5l.7,2l.6-1.6l.6,1.7l.7-1.5l.6,.9l.6-1l.7,.8l.6-1.4l.6,1.5l.7-1.9l.6,1.8l.6-1.3l.7,1.3l.6-1.4l.7,1.4l.6-1.1l.6,1l.7-.8l.6,.9l.6-1.1l.7,1.6l.6-1.7l.6,1.2l.7-1l.6,1l.6-1.3l.7,1.8l.6-1.6l.6,1.6l.7-1.7l.6,1.6l.7-1.3l.6,1.3l.6-1.1l.7,1.5l.6-1.6l.6,1.6l.7-1.3l.6,1.4l.6-1l.7,2l.6-.7l.6,1.6l.7-1.1l.6,1.9l.7-.8l.6,1.6l.6-1.9l.7,1.6l.6-1.3l.6,.9l.7-1.3l.6,1.4l.6-1.6l.7,1.1l.6-1l.6,1.3l.7-1.5l.6,1.3l.6-1.2l.7,1.4l.6-1.4l.7,1l.6-.8l.6,1.1l.7-1.3l.6,1.6l.6-1.5l.7,1.8l.6-.8l.6,1.8l.7-1.3l.6,2l.6-1.7l.7,2.2l.6-1.1l.7,1.4l.6-1.3l.6,1.7l.7-1.3l.6,1.2l.6-1l.7,1.5l.6-1.4l.6,1.1l.7-1.8l.6,1.7l.6-1.5l.7,1.5l.6-1.7l.6,1.5l.7-1.9l.6,1.8l.7-1.6l.6,1.4l.6-1.7l.7,1.2l.6-1.4l.6,1.4l.7-1.3l.6,1.9l.6-1.5l.7,1.5l.6-.6l.6,1l.7-.7l.6,1.3l.7-1.4l.6,1.2l.6-1.6l.7,.8l.6-1.9l.6,.5l.7-2l.6,.7l.6-1.6l.7,.1l.6-2l.6,1l.7-1.4l.6,.9l.6-1.4l.7,1.3l.6-2.1l.7,2l.6-1.5l.6,1.5l.7-1.3l.6,1.8l.6-2.1l.7,1.2l.6-1.7l.6,1.3l.7-2.1l.6,1l.6-2l.7,.7l.6-1.1l.7,1.6l.6-1.3l.6,2.2l.7-1.2l.6,2.4l.6-.5l.7,1.9l.6-.7l.6,1.9l.7-1l.6,1.4l.6-1.2l.7,1.5l.6-2l.7,1.4l.6-2l.6,1.3l.7-2.1l.6,1.1l.6-1.3l.7,1.8l.6-1.6l.6,1.8l.7-1.6l.6,1.8l.6-1.2l.7,1.7l.6-1.7l.6,1.9l.7-1.2l.6,.9l.7-1l.6,.7l.6-1.2l.7,.5l.6-2.3l.6,.7l.7-2.2l.6,1.2l.6-2.1l.7,.2l.6-1.6l.6,1.2l.7-2.1l.6,1.4l.7-1l.6,1.9l.6-1.5l.7,2.1l.6-.5l.6,2l.7-.6l.6,2.2l.6-.7l.7,2.2l.6-.3l.6,2l.7-.8l.6,1.9l.6-.8l.7,1.9l.6-1.1l.7,1.1l.6-.6l.6,1.4l.7-1.3l.6,1.8l.6-1.2l.7,1.6l.6-1.2"/>
<path stroke="#006400" stroke-dasharray="31.5,30.2" stroke-dashoffset="0.0" d="M944.7,765.1l.6,1.5l.6-1.2l.7,2.2l.6-.8l.6,1.7l.7-.2l.6,1.7l.6-.8l.7,1.9l.6-.9l.7,1.6l.6-1l.6,2l.7-1.2l.6,1.8l.6-1.4l.7,2l.6-1.6l.6,2.2l.7-1.1l.6,1.3l.6-.5l.7,1.2l.6-1.2l.7,1.1l.6-1.3l.6,.7l.7-1.8l.6,.3l.6-2l.7,1l.6-1.8l.6,.5l.7-1.9l.6,.8l.6-1.4l.7,1.5l.6-1.4l.6,1.1l.7-1.6l.6,1.8l.7-1.5l.6,.9l.6-1.6l.7,1.8l.6-2.3l.6,1l.7-1.7l.6,1.4l.6-2l.7,1.6l.6-1.9l.6,1.3l.7-.7l.6,1.9l.7-1.8l.6,2.5l.6-1.2l.7,1.3l.6-1l.6,1.4l.7-1.2l.6,1.9l.6-1.3l.7,2l.6-.9l.6,2.1l.7-1l.6,1.9l.6-.8l.7,2.2l.6-1.1l.7,2l.6-.8l.6,1.4l.7-.7l.6,1.1l.6-1.1l.7,.9l.6-1.8l.6,1.8l.7-1.5l.6,1.8l.6-1.9l.7,2.2l.6-1.1l.7,2l.6-1.5l.6,2.2l.7-1.1l.6,1.5l.6-.8l.7,1.6l.6-1.2l.6,1.5l.7-1.4l.6,1.5l.6-1l.7,.8l.6-1.5l.6,.9l.7-1.3l.6,.7l.7-1.3l.6,.9l.6-2.2l.7,1.1l.6-2.1l.6,1.3l.7-1.7l.6,.9l.6-1.2l.7,1.6l.6-1.1l.6,1.7l.7-.6l.6,1.5l.7-.7l.6,2.6l.6-1.2l.7,2.4l.6-1.8l.6,1.4l.7-1.1l.6,.8l.6-2.1l.7,.8l.6-1.8l.6,.7l.7-1.3l.6,.6l.7-1.5l.6,1.4l.6-2.1l.7,1.4l.6-1.7l.6,1.4l.7-.9l.6,.9l.6-1.6l.7,1.2l.6-1.7l.6,.9l.7-2l.6,1l.6-1.6l.7,1l.6-2.1l.7,1.7l.6-1.8l.6,2l.7-1.8l.6,1.8l.6-1.9l.7,1.7l.6-1.9l.6,1.1l.7-2.3l.6,.7l.6-2.1l.7,.6l.6-2.2l.7,.4l.6-1.9l.6,.6l.7-2.2l.6,.9l.6-2.2l.7,.7l.6-1.7l.6,1l.7-1.4l.6,1.1l.6-1.5l.7,1l.6-1.1l.6,1.2l.7-1.7l.6,1.4l.7-1.2l.6,1.4l.6-1.1l.7,1.7l.6-.8l.6,2l.7-1l.6,1.9l.6-.6l.7,2.2l.6-.9l.6,2.1l.7-.6l.6,2l.7-1.5l.6,2l.6-.7l.7,1.4l.6-.9l.6,1.8l.7-1.8l.6,1.2l.6-1.5l.7,1.7l.6-1.3l.6,1l.7-1.1l.6,1.4l.6-1.5l.7,1.4l.6-1.5l.7,1.8l.6-.9l.6,1l.7-.7l.6,1.5l.6-1.4l.7,1.5l.6-1.2l.6,1l.7-.9l.6,1l.6-1.9l.7,1.5l.6-1.7l.7,1.4l.6-1l.6,.9l.7-1.1l.6,2.3l.6-1.6l.7,2.1l.6-1l.6,2.2l.7-1.4l.6,2l.6-1.8l.7,1.6l.6-1.4l.6,1.4l.7-1.7l.6,1.9l.7-2.2l.6,1.9l.6-1.8l.7,1.6l.6-.7l.6,1.4l.7-1.2l.6,2.1l.6-1.5l.7,1.7l.6-1.1l.6,1.8l.7-1.1l.6,1.1l.7-1.7l.6,1l.6-1.9l.7,1l.6-1.5l.6,.4l.7-2.1l.6,1.2l.6-2.3l.7,1l.6-1.2l.6,.8l.7-1l.6,1.3l.6-1.6l.7,2.2l.6-1.2l.7,1.9l.6-1.6l.6,1.3l.7-.8l.6,1l.6-1.5l.7,.7l.6-1.5l.6,1l.7-2.2l.6,1.1l.6-1.6l.7,1.5l.6-1.3l.7,1.1l.6-1.1l.6,1.2l.7-1.3l.6,1.6l.6-1.7l.7,1l.6-1.7l.6,1.8l.7-1.5l.6,1l.6-1.7l.7,1.1l.6-1.1l.6,.9l.7-1l.6,.9l.7-1.3l.6,.9l.6-1.7l.7,1.2l.6-2l.6,1.1l.7-1.2l.6,1l.6-1.7l.7,1l.6-1.2l.6,.9l.7-1.5l.6,1.7l.7-1.3l.6,1.7l.6-1.4l.7,1.7l.6-1.1l.6,1.6l.7-1.4l.6,1l.6-1.5l.7,2.1l.6-1.8l.6,1.4l.7-1.9l.6,1.4l.6-1.3l.7,.7l.6-1.8l.7,1.7l.6-2.1l.6,1.2l.7-2.1l.6,.9l.6-1.6l.7,1.1l.6-1.6l.6,1.5l.7-2.1l.6,1.9l.6-1.5l.7,1.2l.6-1.8l.7,1.7l.6-1.9l.6,.9l.7-1.8l.6,1.3l.6-1.7l.7,.9l.6-1.9l.6,1.8l.7-1.8l.6,1.4l.6-2l.7,2l.6-1.4l.7,.9l.6-1l.6,1.4l.7-1.2l.6,1l.6-1l.7,1.5l.6-2.2l.6,1.1l.7-1.4l.6,1.2l.6-2l.7,.7l.6-1.9l.6,.9l.7-2.5l.6,.6l.7-2l.6,.9l.6-1.4l.7,1.5l.6-1.8l.6,1.9l.7-.2l.6,2.2l.6-.7l.7,2.6l.6-.3l.6,2.2l.7,.4l.6,2.3l.7-.3l.6,3l.6-.5l.7,2.1l.6-.6l.6,2.4l.7-1.2l.6,2.2l.6-1.2l.7,1.9l.6-1.2l.6,1.9l.7-1.2l.6,1.6l.6-.8l.7,1.9l.6-.8l.7,2.1l.6-1.3l.6,1.9l.7-1.6l.6,1.7l.6-1.2l.7,1.6l.6-2.1l.6,1.5l.7-1l.6,1.4l.6-1.7l.7,1.8l.6-1.3l.7,2.6l.6-1l.6,2l.7-.5l.6,2.3l.6-.4l.7,2l.6-.6l.6,2.5l.7-.9l.6,2.7l.6-1l.7,1.8l.6-.3l.6,1.5l.7-1.1l.6,2l.7-1.5l.6,1.5l.6-1.3l.7,1.9l.6-1.6l.6,.6l.7-1.7l.6,1.3l.6-1.5l.7,1.2l.6-2.2l.6,1.9l.7-1.8l.6,1.2l.7-1.4l.6,1l.6-1.8l.7,1.3l.6-1.6l.6,1.2l.7-1.6l.6,.6l.6-1.4l.7,1.4l.6-2l.6,1.5l.7-1.3l.6,1.5l.6-1.5l.7,1.4l.6-1.4l.7,1.6l.6-1.3l.6,.9l.7-1.3l.6,1.5l.6-1.1l.7,1.4l.6-1.5l.6,1.4l.7-1.7l.6,1l.6-2l.7,.8l.6-1.9l.7,.6l.6-1.8l.6,1.2l.7-1.8l.6,1l.6-1.6l.7,2l.6-2.1l.6,1.8l.7-2l.6,.8l.6-1.6l.7,.5l.6-1.7l.6,.3l.7-2.9l.6,1l.7-2.7l.6,.2l.6-2.3l.7,.4l.6-2.2l.6,1.2l.7-2.4l.6,1.3l.6-1.8l.7,1.3l.6-1.8l.6,1.3l.7-1.8l.6,1.7l.7-1.6l.6,1.3l.6-.9l.7,1.4l.6-2.1l.6,1.9l.7-1.7l.6,1.1l.6-.9l.7,1.2l.6-2.1l.6,1.3l.7-1.6l.6,1.3l.7-1.7l.6,1.2l.6-1.7l.7,.9l.6-1.1l.6,1l.7-1.2l.6,1.4l.6-1.6l.7,2.2l.6-1.8l.6,1.5l.7-1.4l.6,1.3l.6-1.5l.7,1.3l.6-2.2l.7,1.5l.6-1.8l.6,1l.7-1.4l.6,1.4l.6-1.7l.7,1.9l.6-1.6l.6,1.4l.7-1.3l.6,1.8l.6-1.8l.7,1.7l.6-1l.7,1.3l.6-1.4l.6,.7l.7-1.4l.6,1.5l.6-1.5l.7,.9l.6-1.1l.6,1.7l.7-1.8l.6,1.8l.6-.8l.7,1.8l.6-1.3l.6,1.9l.7-.6l.6,1.4l.7-.6l.6,1.6l.6-.9l.7,1.1l.6-1.2l.6,1.9l.7-1l.6,1.3l.6-1.3l.7,1.2l.6-1.2l.6,1.7l.7-1.7l.6,1.7l.7-.7l.6,1.1l.6-.9l.7,1.4l.6-.9l.6,1.6l.7-1.3l.6,2.4l.6-1.3l.7,1.7l.6-1.2l.6,2.1l.7-1.8l.6,1.6l.6-1.2l.7,.6l.6-1.5l.7,.6l.6-2.2l.6,.5l.7-2.1l.6,1l.6-2.4l.7,.3l.6-2.4l.6,.4l.7-2.7l.6,.6l.6-2.7l.7,.8l.6-2l.7,1.6l.6-1.2l.6,1.7l.7-1.5l.6,2.1l.6-1l.7,1.5l.6-.5l.6,1.1l.7-1.4l.6,1.6l.6-.9l.7,1.5l.6-1.7l.6,2.3l.7-1.6l.6,1.4l.7-.7l.6,2.1l.6-1.2l.7,1.3l.6-1l.6,2.3l.7-1.5l.6,1.5l.6-1.1l.7,1.5l.6-.9l.6,.9l.7-.8l.6,1.4l.7-1.8l.6,1.6l.6-1.6l.7,1.3l.6-.9l.6,1l.7-1.5l.6,1.8l.6-1.1l.7,1.1l.6-1.1l.6,1.3l.7-.8l.6,1.3l.6-1.5l.7,1.6l.6-1l.7,1.7l.6-1.5l.6,1.7l.7-1.6l.6,1.9l.6-1.2l.7,1.3l.6-1.1l.6,1l.7-.8l.6,1l.6-1.4l.7,1.7l.6-.7l.7,1.2l.6-1.2l.6,1.9l.7-1.2l.6,1.9l.6-1l.7,1.8l.6-1.3l.6,1.7l.7-.7l.6,2.1l.6-1.4l.7,2.1l.6-.9l.6,1.9l.7-.7l.6,1.1l.7-.9l.6,1.9l.6-1.6l.7,1.8l.6-1.6l.6,1.6l.7-1.4l.6,1.2l.6-1.7l.7,2l.6-2.1l.6,1.8l.7-1.1l.6,1l.7-1.2l.6,1.7l.6-.7l.7,1.9l.6-1.1l.6-6.2l.7-23.8l.6-14.1l.6-12l.7,2.4l.6-.1l.6,2.1l.7-.4l.6,2.8l.6-.8l.7,2.4l.6-.3l.7,2l.6-.4l.6,2.5l.7-.9l.6,2.6l.6-.8l.7,2.7l.6-.4l.6,2.3l.7-.3l.6,2.4l.6,.3l.7,2.1l.6-.6l.7,2.7l.6-.6l.6,2.4l.7-1.3l.6,1.7l.6-.7l.7,1.6l.6-1.7l.6,2l.7-1.9l.6,1.4l.6-.9l.7,1l.6-1.1l.7,1.2l.6-1.8l.6,1.7l.7-1.2l.6,1.6l.6-.8l.7,1.3l.6-.9l.6,2.4l.7-1.1l.6,1.6l.6-.9l.7,2l.6-.9l.6,2.1l.7-1l.6,1.5l.7-1.1l.6,1.2l.6-.9l.7,1.4l.6-1.6l.6,1.4l.7-.8l.6,.9l.6-1.3l.7,1.5l.6-1l.6,1l.7-1.1l.6,1.6l.7-1.5l.6,1.6l.6-1.2l.7,1.7l.6-1.7l.6,1.5l.7-.9l.6,1.3l.6-1.1l.7,2.1l.6-1.5l.6,1.6l.7-1.3l.6,1.7l.6-.7l.7,1.4l.6-1.3l.7,1.8l.6-1.8l.6,1.1l.7-1.5l.6,1.7l.6-1.8l.7,.8l.6-1.6l.6,1.4l.7-1.9l.6,1.6l.6-1.7l.7,2l.6-1.1l.7,1.6l.6-1.8l.6,1.9l.7-1.5l.6,1.9l.6-1.2l.7,1.2l.6-1.2l.6,.9l.7-1.5l.6,1.7l.6-1.3l.7,1l.6-1.2l.6,1.2l.7-1l.6,1.6l.7-1.5l.6,1.4l.6-1.7l.7,1.7l.6-1.2l.6,1.3l.7-1.2l.6,1.7l.6-1.2l.7,1l.6-1.1l.6,1.5l.7-.7l.6,1.8l.7-.9l.6,1.3l.6-.9l.7,1.5l.6-1.3l.6,1.8l.7-1.2l.6,1l.6-1.5l.7,1.8l.6-1.6l.6,.9l.7-1l.6,1.3l.6-1.5l.7,.8l.6-1l.7,1.1l.6-1.4l.6,1.4l.7-1l.6,2l.6-1.4l.7,1.8l.6-1.3l.6,2l.7-1.1l.6,1.9l.6-1.2l.7,1.1l.6-1.5l.7,1.6l.6-.9l.6,.8l.7-1.5l.6,1.5l.6-1.3l.7,1.5l.6-1.3l.6,.8l.7-1.5l.6,1.3l.6-1.2l.7,1.2l.6-1.8l.6,1.4l.7-1.2l.6,.7l.7-1.1l.6,1.2l.6-1.9l.7,1.6l.6-1.2l.6,1.3l.7-1l.6,1.1l.6-.5l.7,1.8l.6-1.4l.6,1.6l.7-1.1l.6,1.8l.7-1l.6,1.2l.6-1.8l.7,1.2l.6-1.9l.6,.7l.7-1.3l.6,.6l.6-2l.7,.9l.6-1.9l.6,1.1l.7-2l.6,1.7l.6-2l.7,1.5l.6-1.4l.7,1.9l.6-1.9l.6,1.6l.7-1.5l.6,1.5l.6-1.6l.7,1.1l.6-1.8l.6,.3l.7-1.5l.6,.4l.6-41.5l.7,5.1l.6,2.2l.7,5.4l.6,3.4l.6,3.9l.7,1.5l.6,4.5l.6,1.6l.7,3.8l.6,1.4l.6,3.6l.7,1.3l.6,3.4l.6,.6l.7,2.1l.6-1.2l.7,1.3l.6-1.3l.6,.9l.7-.8l.6,1.3l.6-1.6l.7,1.8l.6-1l.6,1.6l.7-1.4l.6,1.5l.6-1.8l.7,1.5l.6-1.2l.6,1l.7-1.1l.6,1.4l.7-1.9l.6,1.1l.6-1.3l.7,1l.6-2.2l.6,1.1l.7-1.5l.6,.9l.6-2.5l.7,1.4l.6-1.5l.6,.7l.7-1.4l.6,.9l.7-1l.6,1.5l.6-1.2l.7,1.6l.6-.7l.6,2l.7-.7l.6,1.8l.6-.9l.7,1.9l.6-.2l.6,1.6l.7-1l.6,1.5l.6-.5l.7,1.3l.6-.8l.7,1.2l.6-1.4l.6,2.1l.7-1.5l.6,1.7l.6-1.1l.7,1.2l.6-1.2"/>
<path stroke="#FF99E6" d="M944.7,758.4l.6,2.3l.6-1.3l.7,1.8l.6-1.2l.6,1.3l.7-1.1l.6,2.3l.6-1.1l.7,1.2l.6-1.1l.7,1.9l.6-.7l.6,1.4l.7-1.3l.6,1.2l.6-.9l.7,1.4l.6-1l.6,2l.7-1.3l.6,2l.6-1l.7,2.1l.6-1.4l.7,2.3l.6-1.7l.6,.8l.7-1.7l.6,.8l.6-1.5l.7,.9l.6-2.3l.6,.6l.7-2.2l.6,1.2l.6-1.8l.7,.6l.6-2l.6,1l.7-1.9l.6,1.2l.7-1.8l.6,.7l.6-1.6l.7,.8l.6-1.3l.6,.6l.7-1.2l.6,1.5l.6-1.3l.7,1.2l.6-.9l.6,2.1l.7-1l.6,1.8l.7-1l.6,1.5l.6-.9l.7,1.3l.6-1l.6,1.3l.7-1.8l.6,1.5l.6-1.5l.7,1.8l.6-1.4l.6,1.7l.7-.8l.6,1.9l.6-1l.7,1.8l.6-.9l.7,2.2l.6-.9l.6,1.3l.7-1.2l.6,2l.6-1.8l.7,1.1l.6-1.3l.6,1.6l.7-1.2l.6,1.3l.6-.8l.7,2.1l.6-.6l.7,1.6l.6,0l.6,1.9l.7-.4l.6,1.7l.6-.1l.7,1.5l.6-.9l.6,1.7l.7-.8l.6,1.5l.6-1.4l.7,1.7l.6-2.1l.6,1.4l.7-2.1l.6,.7l.7-2l.6,1.4l.6-2.1l.7,.6l.6-2.2l.6,1.4l.7-1.7l.6,.8l.6-1.4l.7,1.1l.6-1.4l.6,1.6l.7-1.2l.6,1.8l.7-.5l.6,1.9l.6-1.2l.7,1.7l.6-1.2l.6,1.4l.7-1.2l.6,.4l.6-1.6l.7,.9l.6-2.1l.6,.4l.7-2.1l.6,1.2l.7-2.2l.6,1.2l.6-1.9l.7,1.9l.6-1.7l.6,1.1l.7-1.2l.6,1.1l.6-1.5l.7,.8l.6-1.3l.6,.5l.7-1.8l.6,.9l.6-1.9l.7,.7l.6-1.3l.7,1.6l.6-1.9l.6,1.9l.7-1.3l.6,1.2l.6-.9l.7,1.7l.6-1.9l.6,1.3l.7-1.4l.6,.5l.6-2.1l.7,.8l.6-1.7l.7,.7l.6-2.6l.6,1.1l.7-2.5l.6,1.5l.6-2.3l.7,.8l.6-1.3l.6,1.4l.7-1.8l.6,1.2l.6-1.1l.7,1l.6-1.4l.6,1.3l.7-1.6l.6,1l.7-1.3l.6,1l.6-1.5l.7,1.5l.6-.5l.6,1.3l.7-.9l.6,2l.6-.4l.7,2.3l.6-.6l.6,2l.7-.6l.6,1.6l.7-.8l.6,1.9l.6-1.4l.7,1l.6-1.2l.6,1.4l.7-1.7l.6,1.5l.6-1l.7,1.1l.6-1.3l.6,1.6l.7-1.6l.6,1.9l.6-1.2l.7,1.9l.6-1.3l.7,1.8l.6-1.7l.6,2.1l.7-1.4l.6,1.6l.6-.9l.7,1.7l.6-1.3l.6,1.6l.7-1.5l.6,1.8l.6-1.7l.7,1.2l.6-1.1l.7,1.3l.6-1.9l.6,1.7l.7-1.4l.6,1.1l.6-1.4l.7,1.9l.6-1.5l.6,1.4l.7-1.2l.6,1.7l.6-1.1l.7,1.5l.6-1.3l.6,1.1l.7-.9l.6,1.3l.7-1.6l.6,2.2l.6-1.3l.7,1.5l.6-.7l.6,1.2l.7-.5l.6,1.2l.6-.9l.7,1.6l.6-1.4l.6,1.5l.7-1.4l.6,1.2l.7-1.6l.6,1.4l.6-1.9l.7,.6l.6-1.9l.6,.3l.7-2l.6,.9l.6-2.7l.7,1.2l.6-1.7l.6,1.2l.7-2l.6,1.8l.6-1.9l.7,2l.6-1l.7,1.2l.6-1l.6,1.6l.7-1.1l.6,1.3l.6-1.6l.7,1.3l.6-1.4l.6,1.3l.7-2.1l.6,1.3l.6-1.9l.7,1.4l.6-1.9l.7,1.2l.6-1.5l.6,1.5l.7-1.2l.6,.8l.6-.9l.7,1.5l.6-1.2l.6,1.9l.7-1.3l.6,1.1l.6-1.3l.7,1.9l.6-1.4l.6,1.1l.7-1.5l.6,1.3l.7-1.8l.6,.7l.6-1.6l.7,1l.6-1.8l.6,1l.7-2.3l.6,.9l.6-1.1l.7,.6l.6-1.7l.6,1.9l.7-2l.6,2l.7-1.4l.6,1.5l.6-1.2l.7,1.5l.6-1l.6,1.9l.7-1.7l.6,1.5l.6-1.1l.7,1.6l.6-1.4l.6,1.8l.7-1.8l.6,1.5l.6-1.5l.7,1.3l.6-2.2l.7,1.4l.6-2.2l.6,1.6l.7-2l.6,1l.6-1.9l.7,1l.6-1.2l.6,1l.7-1.6l.6,1.4l.6-1l.7,1.6l.6-2l.7,1.6l.6-1.8l.6,1.1l.7-1.6l.6,.5l.6-1.2l.7,1.4l.6-2.2l.6,1.5l.7-1.4l.6,.8l.6-1l.7,1l.6-1.2l.7,1l.6-1.5l.6,.8l.7-1.8l.6,1.5l.6-2.1l.7,.5l.6-1.6l.6,.9l.7-2.5l.6,1.1l.6-2.1l.7,1l.6-2.4l.6,1l.7-1.8l.6,.7l.7-1.2l.6,1l.6-1.2l.7,1.6l.6-1.2l.6,2.5l.7-.3l.6,2l.6-.2l.7,2.5l.6-.7l.6,2.6l.7,.1l.6,2l.7-.2l.6,2.5l.6-.1l.7,2.6l.6-.5l.6,1.8l.7-.5l.6,2.3l.6-.6l.7,1.4l.6-.8l.6,1.5l.7-.7l.6,1.7l.6-1.3l.7,2.2l.6-1.3l.7,1.4l.6-1.1l.6,1.3l.7-.9l.6,.7l.6-1.4l.7,1.5l.6-1.6l.6,1l.7-1.8l.6,1.3l.6-.9l.7,1.7l.6-1.1l.7,2l.6-1.3l.6,2.5l.7-.8l.6,2l.6-.1l.7,2.2l.6-.5l.6,2.1l.7-.2l.6,1.8l.6-.9l.7,2.4l.6-.6l.6,1.5l.7-.9l.6,2.1l.7-1.9l.6,1.7l.6-1.6l.7,1.5l.6-1.8l.6,1.9l.7-2.1l.6,1.3l.6-.9l.7,1.3l.6-1.8l.6,1.5l.7-1l.6,1.1l.7-1.4l.6,1.9l.6-1.8l.7,2l.6-1.4l.6,.6l.7-1.3l.6,1.2l.6-1.7l.7,1.6l.6-1.5l.6,1.2l.7-2l.6,1.2l.6-2l.7,1.3l.6-1.6l.7,1.5l.6-1.9l.6,1.8l.7-1.5l.6,1.5l.6-1.2l.7,1.4l.6-1.2l.6,1.1l.7-1.7l.6,1.2l.6-1.9l.7,.8l.6-2l.7,1.4l.6-1.8l.6,.9l.7-1.3l.6,1.2l.6-1.6l.7,1.4l.6-2l.6,1.6l.7-2.2l.6,1l.6-1.8l.7,.9l.6-2.7l.6,.7l.7-3l.6,1l.7-2.5l.6,.3l.6-2.6l.7,.8l.6-2.1l.6,1.3l.7-1.6l.6,1.4l.6-1.9l.7,1.6l.6-1.3l.6,1.6l.7-1.9l.6,1.2l.7-1.2l.6,.6l.6-1.5l.7,.7l.6-2l.6,1.3l.7-2l.6,1.5l.6-2l.7,1.8l.6-1.5l.6,1.3l.7-1.6l.6,.7l.7-1.3l.6,.7l.6-1.6l.7,.6l.6-2l.6,.8l.7-1.2l.6,1l.6-1.7l.7,1.3l.6-1l.6,1.3l.7-1.1l.6,1.9l.6-1.5l.7,1.2l.6-1l.7,1.4l.6-1.6l.6,1.4l.7-2l.6,1.5l.6-1.5l.7,1.5l.6-1.7l.6,1.6l.7-1.3l.6,.7l.6-1.3l.7,1.8l.6-1.8l.7,1.6l.6-.9l.6,1.2l.7-1.3l.6,1.2l.6-1.4l.7,2.3l.6-1.2l.6,1.6l.7-1.4l.6,1.7l.6-.5l.7,1.9l.6-1.2l.6,2.3l.7-1.2l.6,1.4l.7-1.1l.6,2.1l.6-1.5l.7,1.6l.6-1.2l.6,1.2l.7-1.7l.6,1.8l.6-1.4l.7,1.3l.6-1.1l.6,1.6l.7-1.6l.6,2.2l.7-1.3l.6,1.3l.6-1l.7,1.8l.6-1.2l.6,1.6l.7-.7l.6,1.4l.6-1.2l.7,2.2l.6-1.2l.6,2.1l.7-1.8l.6,1.4l.6-1.7l.7,1.4l.6-2.5l.7,1.1l.6-2.6l.6,.7l.7-2.5l.6,.3l.6-2.4l.7-12.4l.6,0l.6,2.7l.7,.7l.6,.8l.6-1.9l.7,.6l.6-1.5l.7,1.8l.6-1l.6,2l.7-.9l.6,2l.6-.7l.7,2l.6-.7l.6,2l.7-1.4l.6,1.4l.6-.7l.7,1.7l.6-1.2l.6,1.5l.7-1.3l.6,2.1l.7-1.1l.6,2.1l.6-.2l.7,1.8l.6-.3l.6,1.7l.7-.3l.6,1.5l.6-.9l.7,2.1l.6-1.6l.6,1.3l.7-2l.6,1.1l.7-1.8l.6,.9l.6-1.8l.7,1l.6-1.4l.6,.8l.7-1.4l.6,1.5l.6-1.3l.7,2l.6-.9l.6,1.8l.7-.2l.6,1.6l.6-.8l.7,2l.6-.8l.7,1.3l.6-1.1l.6,2l.7-1.4l.6,1.2l.6-1.9l.7,1.1l.6-1.8l.6,1.5l.7-2.1l.6,1.3l.6-1.1l.7,.8l.6-.6l.7,1.3l.6-1.2l.6,2.3l.7-.6l.6,2l.6-1l.7,2.5l.6-1.1l.6,2.1l.7-.8l.6,1.9l.6-1l.7,1.3l.6-1l.6,1.2l.7-.8l.6,1.1l.7-.9l.6,1.3l.6-1.6l.7,1.2l.6-1.1l.6,1.2l.7-1.1l.6,1.2l.6-1.9l.7,1l.6-1.3l.6,1.4l.7-1.7l.6,1.2l.7-2l.6,1.8l.6-1.3l.7,1.8l.6-1.4l.6-5.8l.7-95l.6-22.5l.6-4.6l.7-2l.6-.4l.6,2l.7,1.3l.6,3.2l.6,1l.7,3.8l.6,.8l.7,4.2l.6,.8l.6,3.5l.7,.6l.6,3.3l.6,.4l.7,2.2l.6-1.1l.6,1.8l.7-.8l.6,1.9l.6-.9l.7,1.5l.6-.9l.7,1.6l.6-1.4l.6,1.7l.7-1.2l.6,2l.6-.8l.7,1.8l.6-.9l.6,2.2l.7-.7l.6,1.9l.6-.8l.7,2.2l.6-.4l.7,2.2l.6-1.2l.6,2.2l.7-1.2l.6,2.1l.6-.3l.7,1.6l.6-.9l.6,2.5l.7-1l.6,2.8l.6-.4l.7,2.1l.6-.3l.6,3.1l.7-.8l.6,3l.7-.2l.6,2.5l.6-.7l.7,2.7l.6,0l.6,1.9l.7,0l.6,2.2l.6-1l.7,2.6l.6-1.1l.6,2.1l.7-.9l.6,2.4l.7-.7l.6,1.7l.6-.3l.7,2.1l.6-.5l.6,1.9l.7-.3l.6,2.3l.6-.9l.7,2.7l.6-1.5l.6,2l.7-1.2l.6,1.7l.6-1.4l.7,1.6l.6-1.3l.7,2.1l.6-1.4l.6,1.5l.7-1l.6,1.5l.6-1.4l.7,1.9l.6-1.2l.6,1.5l.7-1.3l.6,1.9l.6-1.1l.7,1.9l.6-1.2l.7,2l.6-1.1l.6,1.5l.7-.6l.6,1.7l.6-1.4l.7,2.3l.6-.9l.6,2.4l.7-.3l.6,2.4l.6-.3l.7,2.3l.6-.2l.6,2.3l.7,.1l.6,2l.7,.2l.6,1.6l.6-1l.7,1.9l.6-1.3l.6,1.9l.7-1.6l.6,2l.6-1.1l.7,1.6l.6-.9l.6,2l.7-1.3l.6,1.5l.7-1.7l.6,1.2l.6-.8l.7,.9l.6-1.2l.6,1.6l.7-1.8l.6,1.7l.6-1.6l.7,1.5l.6-1.2l.6,1.1l.7-1.4l.6,1.5l.6-1.6l.7,1l.6-1.1l.7,2.3l.6-1.6l.6,1.8l.7-.8l.6,1.8l.6-.4l.7,1.7l.6-.7l.6,1.5l.7-.5l.6,1.6l.6-.7l.7,2.2l.6-1.3l.7,2.4l.6-1.1l.6,2.5l.7-1.3l.6,2.6l.6-1.1l.7,1.7l.6-.8l.6,1.4l.7-.8l.6,1l.6-.9l.7,.9l.6-1.2l.6,1.3l.7-1.6l.6,1.9l.7-1.3l.6,1.2l.6-.6l.7,1.3l.6-1l.6,2.2l.7-.6l.6,1.7l.6-1.1l.7,2.1l.6-.5l.6,1.9l.7-.5l.6,1.9l.7-.8l.6,1.8l.6-1.7l.7,1l.6-1.5l.6,1.3l.7-1.7l.6,.8l.6-1.7l.7,.7l.6-1.4l.6,.9l.7-1.5l.6,1.4l.6-1.8l.7,1.1l.6-1.1l.7,1.4l.6-1.9l.6,1.9l.7-1.6l.6,1.7l.6-1.4l.7,2.1l.6-1.7l.6,2l.7-1.3l.6,2l.6-82.8l.7,2.8l.6,0l.7,3.8l.6,1.9l.6,4l.7,1.7l.6,4.1l.6,1.8l.7,4.1l.6,1.2l.6,4.6l.7,1.2l.6,3.7l.6,1.4l.7,4.2l.6,1.1l.7,4.3l.6-.9l.6,1.3l.7-1l.6,1.9l.6-1l.7,1.7l.6-1l.6,1.5l.7-.8l.6,1.4l.6-1.4l.7,2l.6-1.3l.6,1l.7-1l.6,1.8l.7-1.4l.6,1.6l.6-1.2l.7,1.4l.6-1l.6,1.9l.7-.8l.6,2.1l.6-1.1l.7,2.1l.6-.7l.6,2l.7-.6l.6,2.3l.7-1l.6,2.5l.6-.3l.7,2.4l.6-1l.6,2.1l.7-.2l.6,2.5l.6-.8l.7,2.2l.6,0l.6,2.3l.7-.5l.6,2.3l.6-1.2l.7,2.4l.6-1.2l.7,2l.6-.4l.6,1.9l.7-.8l.6,2.1l.6-.9l.7,2l.6-.9"/>
<path stroke="#FFFF00" stroke-dasharray="31.5,30.2" stroke-dashoffset="0.0" d="M944.7,763.5l.6,1.5l.6-.6l.7,1.6l.6-.6l.6,1.6l.7-.7l.6,1.9l.6-1.1l.7,1.3l.6-1.1l.7,1l.6-.9l.6,1l.7-1.5l.6,1.6l.6-2l.7,2.1l.6-1.9l.6,1.5l.7-.8l.6,1.1l.6-.9l.7,2.2l.6-1.5l.7,1.6l.6-1.2l.6,1.7l.7-1.5l.6,.9l.6-1.2l.7,.9l.6-1.6l.6,1l.7-1.5l.6,1.6l.6-2l.7,1.7l.6-1.6l.6,1.6l.7-1.7l.6,1.3l.7-2.1l.6,1.4l.6-2l.7,.7l.6-1.9l.6,1.4l.7-2.3l.6,1.2l.6-2l.7,1l.6-1.6l.6,1l.7-1.5l.6,1.8l.7-1.8l.6,2.2l.6-1.5l.7,1.6l.6-1l.6,2.2l.7-1.1l.6,1.6l.6-.5l.7,1.9l.6-1l.6,2.5l.7-.9l.6,1.8l.6-.6l.7,1.2l.6-.6l.7,1.8l.6-1.2l.6,1.1l.7-1.2l.6,1.4l.6-1.4l.7,1.5l.6-1.3l.6,1.9l.7-1.5l.6,2.5l.6-1.4l.7,2.4l.6-1.2l.7,1.9l.6-.8l.6,1.9l.7-1.6l.6,2l.6-1.1l.7,1.6l.6-1.4l.6,1.7l.7-.9l.6,1.4l.6-2.2l.7,1.4l.6-1.2l.6,.8l.7-1.6l.6,.7l.7-1.7l.6,.8l.6-1.7l.7,1.3l.6-1.2l.6,1.2l.7-1.8l.6,1.4l.6-1.3l.7,1.6l.6-1.3l.6,1.6l.7-1.3l.6,1.4l.7-1l.6,1.7l.6-1.3l.7,1l.6-1.5l.6,1.7l.7-1.9l.6,.6l.6-1.2l.7,.8l.6-2l.6,1.4l.7-2.1l.6,1.3l.7-1l.6,.8l.6-1.2l.7,1.7l.6-1.8l.6,1.7l.7-2l.6,1.3l.6-1.4l.7,1.2l.6-.9l.6,.9l.7-1.6l.6,1l.6-1.9l.7,1.1l.6-1.7l.7,1.3l.6-1.1l.6,.9l.7-1.3l.6,1.9l.6-1.2l.7,1.2l.6-1.4l.6,.8l.7-2l.6,1.1l.6-2.5l.7,.2l.6-2.7l.7,.9l.6-2.8l.6,.4l.7-2.6l.6,.2l.6-2.3l.7,.4l.6-2l.6,.9l.7-1.7l.6,1.7l.6-1.2l.7,.9l.6-1l.6,1.5l.7-1.1l.6,1.4l.7-1l.6,1.3l.6-.9l.7,2l.6-1.1l.6,1.6l.7-.7l.6,1.6l.6-1l.7,2.4l.6-1.4l.6,2.3l.7-.9l.6,2.2l.7-1.1l.6,1.7l.6-1.2l.7,1.6l.6-.8l.6,1.1l.7-1.4l.6,1.5l.6-1.3l.7,1.2l.6-1.2l.6,1.5l.7-1.9l.6,1.5l.6-.7l.7,1l.6-.9l.7,1l.6-.6l.6,1.5l.7-1.5l.6,1.6l.6-2l.7,1.5l.6-1.5l.6,1.4l.7-2l.6,1.5l.6-1.4l.7,1.3l.6-1.8l.7,1l.6-.9l.6,1.7l.7-1.1l.6,1.3l.6-.5l.7,1.7l.6-.3l.6,1.9l.7-.6l.6,1.9l.6-.4l.7,1.8l.6-.9l.6,1.5l.7-1l.6,1.7l.7-1l.6,1.8l.6-1.5l.7,1.5l.6-1.1l.6,1.7l.7-1l.6,2l.6-1.5l.7,2.3l.6-1.8l.6,2l.7-1.4l.6,1.7l.7-1.6l.6,.6l.6-1.8l.7,.6l.6-1.9l.6,.4l.7-2.6l.6,1l.6-2.1l.7,.7l.6-2.4l.6,1.4l.7-1.2l.6,1.3l.6-1.9l.7,2.1l.6-1.5l.7,1.7l.6-1.3l.6,1.4l.7-1.5l.6,1.2l.6-2.1l.7,.8l.6-1.5l.6,.3l.7-1.4l.6,.4l.6-1.6l.7,1.1l.6-1.4l.7,.8l.6-1.4l.6,1.7l.7-1.9l.6,2.1l.6-1.4l.7,1.1l.6-1.6l.6,1.9l.7-2l.6,1.5l.6-1.1l.7,.7l.6-1.6l.6,1.4l.7-1.6l.6,1.5l.7-2l.6,1.2l.6-1.7l.7,1.2l.6-1.2l.6,1l.7-1.4l.6,1.2l.6-1.6l.7,1.8l.6-1.4l.6,1.6l.7-1.3l.6,1.3l.7-.8l.6,1.4l.6-.7l.7,1.7l.6-1.5l.6,1.7l.7-1.4l.6,1.5l.6-1.4l.7,1.4l.6-1.9l.6,1.4l.7-2l.6,1.2l.6-2.2l.7,1.1l.6-2.3l.7,1.2l.6-2.1l.6,1.1l.7-1.5l.6,1l.6-1.1l.7,1.3l.6-1.8l.6,1.8l.7-1.5l.6,1.1l.6-1.5l.7,1.7l.6-1.6l.7,1.1l.6-1.5l.6,.8l.7-2.1l.6,1.3l.6-2.3l.7,1l.6-1.6l.6,1l.7-1.2l.6,1.1l.6-1.4l.7,.8l.6-1.5l.7,1.5l.6-1.3l.6,1.6l.7-.9l.6,1.2l.6-1.5l.7,1.6l.6-2.1l.6,1.6l.7-2.2l.6,1.1l.6-1.4l.7,.8l.6-1.8l.6,.7l.7-1.8l.6,.9l.7-2.3l.6,1.3l.6-1.6l.7,1.3l.6-.9l.6,2.2l.7-1l.6,2.6l.6-.8l.7,2.3l.6-.5l.6,2.8l.7-.5l.6,2.9l.7-.5l.6,2.5l.6-.1l.7,2.1l.6-.4l.6,2.1l.7-.7l.6,1.7l.6-1l.7,1.9l.6-1.7l.6,1.4l.7-.8l.6,1.1l.6-.9l.7,1.6l.6-1.7l.7,1.8l.6-1.6l.6,1.7l.7-1.1l.6,1.9l.6-1.9l.7,1.9l.6-1.7l.6,1.9l.7-1.6l.6,1.3l.6-1.1l.7,1.7l.6-1l.7,1.6l.6-.6l.6,3l.7-.6l.6,2.8l.6-.8l.7,2.9l.6-.6l.6,2.9l.7-.5l.6,1.9l.6-.5l.7,2.1l.6-1.3l.6,1.7l.7-.9l.6,1.3l.7-1.2l.6,2l.6-1.1l.7,1.1l.6-1.6l.6,1.6l.7-1.2l.6,1.4l.6-1.3l.7,1l.6-1.5l.6,1.2l.7-1.1l.6,1.4l.7-2l.6,.9l.6-1.4l.7,.4l.6-1.6l.6,.5l.7-1.7l.6,.4l.6-1.3l.7,.9l.6-1.5l.6,1l.7-1.3l.6,1.2l.6-1.1l.7,.9l.6-1.2l.7,1.5l.6-1.6l.6,1.2l.7-.6l.6,1.5l.6-1.6l.7,2.2l.6-1.8l.6,1.6l.7-1.4l.6,1.5l.6-1.4l.7,1.1l.6-1.9l.7,1.2l.6-1.5l.6,.8l.7-1.9l.6,1.7l.6-2.2l.7,1l.6-1.9l.6,1.5l.7-2.4l.6,1l.6-2.3l.7,.5l.6-2.2l.6,.3l.7-2l.6,.8l.7-3l.6,.6l.6-2.2l.7,.4l.6-2.4l.6,1l.7-2l.6,.5l.6-1.9l.7,1l.6-1.2l.6,1.1l.7-.9l.6,1l.7-1.6l.6,2l.6-1.7l.7,1.4l.6-1.5l.6,1.5l.7-1.4l.6,1.4l.6-1.4l.7,1.2l.6-1.8l.6,1.3l.7-2l.6,1.2l.7-1.8l.6,1.4l.6-2l.7,1l.6-2.1l.6,1.4l.7-1.8l.6,1.3l.6-1.2l.7,.9l.6-.6l.6,1.5l.7-1.3l.6,2l.6-1.8l.7,1.5l.6-1l.7,1l.6-1.1l.6,1.4l.7-1.7l.6,1.2l.6-1.2l.7,1.4l.6-1.4l.6,1.6l.7-1.7l.6,1.7l.6-1l.7,1.5l.6-1.9l.7,1.5l.6-1.4l.6,.7l.7-1.8l.6,1.1l.6-1.5l.7,.5l.6-1.6l.6,1.2l.7-1l.6,1.3l.6-1.3l.7,1.4l.6-1.1l.6,2.1l.7-1l.6,1.8l.7-1l.6,2.3l.6-1.2l.7,1.6l.6-.8l.6,1.5l.7-1.3l.6,2.1l.6-1.3l.7,1.3l.6-.6l.6,1.7l.7-.8l.6,1.8l.7-1.2l.6,2.5l.6-1.2l.7,2.2l.6-.7l.6,1.4l.7-.6l.6,1.5l.6-.4l.7,1.7l.6-1.5l.6,1.5l.7-.8l.6,1.1l.6-1.9l.7,1.1l.6-2.6l.7,1.1l.6-2.3l.6,.3l.7-2.5l.6,1l.6-2.7l.7,.4l.6-2.8l.6,.1l.7-2.1l.6,.2l.6-3l.7,1.1l.6-2.2l.7,1l.6-1.5l.6,2l.7-.7l.6,1.2l.6-.9l.7,2.2l.6-1.2l.6,1.8l.7-.5l.6,1.4l.6-.8l.7,1.4l.6-1.3l.6,1.4l.7-1l.6,1.5l.7-1.3l.6,1.7l.6-1.2l.7,1.8l.6-1.6l.6,2.1l.7-1.6l.6,1.7l.6-1.2l.7,1.3l.6-1.8l.6,1.2l.7-1.2l.6,1.5l.7-1.9l.6,1.2l.6-2l.7,1.6l.6-2l.6,1.4l.7-1.5l.6,1.1l.6-1.4l.7,1l.6-.6l.6,1.1l.7-.7l.6,1.3l.6-1.1l.7,2.1l.6-.6l.7,1.5l.6-1.3l.6,1.6l.7-1.2l.6,1.5l.6-1.3l.7,1.4l.6-1.6l.6,1.4l.7-1.2l.6,1.1l.6-.7l.7,1.2l.6-.9l.7,2.1l.6-1.1l.6,1.7l.7-.7l.6,2.1l.6-.9l.7,2.1l.6-.6l.6,1.8l.7-.9l.6,2.1l.6-.8l.7,2.3l.6-1.6l.6,1.7l.7-.9l.6,1.5l.7-1.4l.6,1.6l.6-1.4l.7,1.3l.6-1.8l.6,1.4l.7-1.7l.6,.8l.6-2l.7,1.8l.6-2l.6,1.5l.7-1l.6,1.2l.7-.5l.6,1.3l.6-1l.7,2.3l.6-.7l.6-6l.7-23.7l.6-14.1l.6-11.4l.7,2.6l.6-.6l.6,2.4l.7-.5l.6,2.1l.6-.9l.7,2.5l.6-.6l.7,2.6l.6-1.1l.6,2.3l.7-.7l.6,1.9l.6-.4l.7,2l.6-.3l.6,1.9l.7-.6l.6,2.2l.6-.8l.7,2.2l.6-.6l.7,2.1l.6-1.7l.6,1.8l.7-.9l.6,1.2l.6-1.4l.7,1.9l.6-2.1l.6,1.6l.7-1.5l.6,1.5l.6-1l.7,.9l.6-1.2l.7,2.2l.6-1.7l.6,2l.7-1.2l.6,1.9l.6-.7l.7,1.4l.6-.8l.6,1.7l.7-1l.6,1.9l.6-.3l.7,1.8l.6-1.3l.6,2.4l.7-.9l.6,1.6l.7-1.1l.6,1.5l.6-1.6l.7,2l.6-1.9l.6,1.6l.7-1.5l.6,1.3l.6-2l.7,1.2l.6-1.2l.6,1.3l.7-1.5l.6,1.4l.7-.9l.6,1.6l.6-.4l.7,1.9l.6-1.3l.6,2.1l.7-1.2l.6,1.8l.6-1.3l.7,1.4l.6-.5l.6,1.2l.7-1.1l.6,2.3l.6-1l.7,1.9l.6-1.3l.7,1.9l.6-1.2l.6,.8l.7-1.4l.6,1.6l.6-2.1l.7,1l.6-1.6l.6,.9l.7-1.5l.6,1l.6-1.2l.7,1.1l.6-1.6l.7,1.6l.6-1.5l.6,1.5l.7-1.4l.6,1.6l.6-1.6l.7,1.2l.6-1.4l.6,1.3l.7-1.6l.6,1.7l.6-1.7l.7,1.7l.6-1.4l.6,2l.7-1.3l.6,1.5l.7-1.1l.6,1.7l.6-.6l.7,1.8l.6-1.5l.6,1.7l.7-1.4l.6,1.6l.6-1.5l.7,1.7l.6-1.5l.6,1.1l.7-1.3l.6,2.1l.7-1.6l.6,2.1l.6-1.7l.7,1.9l.6-.9l.6,1.6l.7-1.6l.6,1.4l.6-1l.7,1.6l.6-1.7l.6,1.2l.7-1.1l.6,1.1l.6-1.3l.7,1.5l.6-1.4l.7,1.4l.6-1.2l.6,2.3l.7-1.5l.6,1.3l.6-1.2l.7,2.2l.6-1.9l.6,1.3l.7-1l.6,1.1l.6-1.8l.7,.8l.6-1.8l.7,1.7l.6-1.9l.6,1.6l.7-1.5l.6,1.1l.6-.8l.7,1.5l.6-1.3l.6,1.2l.7-1.4l.6,1.8l.6-1.5l.7,.9l.6-1.2l.6,1.5l.7-1.7l.6,1.3l.7-1.7l.6,1.7l.6-2l.7,1.8l.6-1.6l.6,1l.7-1l.6,1.4l.6-1.5l.7,1.6l.6-1l.6,1.8l.7-.6l.6,1.4l.7-.9l.6,1.8l.6-.9l.7,1.8l.6-1.3l.6,1.4l.7-1.4l.6,1.4l.6-.9l.7,1.2l.6-1.6l.6,1.1l.7-1.9l.6,1.2l.6-1.8l.7,1.4l.6-2.3l.7,.7l.6-1.6l.6,.7l.7-1.9l.6,1.3l.6-2.5l.7,1.1l.6-1.9l.6,.4l.7-1.7l.6,.3"/>
<path stroke="#FFFF00" stroke-dasharray="31.5,30.2" stroke-dashoffset="1.2" d="M1545.2,743.8l.6-37.2l.7,3l.6-.7l.7,2.9l.6,.5l.6,3.6l.7,.4l.6,3.7l.6,.2l.7,3.1l.6,0l.6,2.9l.7-.4l.6,2.2l.6-1.1l.7,1.9l.6-.8l.7,1.9l.6-1.2l.6,2l.7-1.8l.6,2.3l.6-1.4l.7,2.2l.6-1.5l.6,2l.7-1l.6,1.8l.6-1.9l.7,1.5l.6-1.6l.6,1.6l.7-1.6l.6,1.6l.7-1.9l.6,1.7l.6-1.2l.7,1.5l.6-1.5l.6,1.4l.7-1.3l.6,1.1l.6-1.8l.7,.9l.6-1.2l.6,.9l.7-1.4l.6,1.8l.7-1.4l.6,2.1l.6-1.4l.7,2.5l.6-1.2l.6,2.8l.7-.5l.6,2l.6-.5l.7,2.8l.6-1l.6,2.2l.7-.9l.6,2.3l.6-1.2l.7,1.3l.6-1.6l.7,1.5l.6-1l.6,1.2l.7-.9l.6,1.2l.6-1l.7,1.9l.6-1.7"/>
<path stroke="#FFCC00" d="M944.7,764.4l.6,2.1l.6-1.5l.7,1.9l.6-1.5l.6,1.7l.7-1.3l.6,1.2l.6-1.5l.7,1.8l.6-1.4l.7,.9l.6-1.9l.6,1.2l.7-1.2l.6,1.4l.6-1.8l.7,1.6l.6-.9l.6,1.9l.7-.9l.6,1.8l.6-.4l.7,2.2l.6-1.2l.7,2l.6-1.2l.6,1.5l.7-1.7l.6,.6l.6-1.9l.7,.7l.6-1.8l.6,.3l.7-1.8l.6,1.1l.6-2.3l.7,1.1l.6-1.6l.6,1.2l.7-2.1l.6,1.5l.7-2.3l.6,1.6l.6-1.8l.7,1.1l.6-2.3l.6,1.6l.7-1.7l.6,1.7l.6-.9l.7,1.3l.6-.5l.6,1.9l.7-.7l.6,2.2l.7-.3l.6,2.4l.6-.7l.7,1.3l.6-1.2l.6,2l.7-1.3l.6,1.4l.6-1.5l.7,1.3l.6-1.1l.6,2l.7-1.2l.6,1.8l.6-1.2l.7,2.1l.6-.9l.7,1.4l.6-1.3l.6,1.4l.7-1.3l.6,1.9l.6-1.6l.7,1.1l.6-1.2l.6,2l.7-1l.6,2.1l.6-.7l.7,1.9l.6-.7l.7,2.4l.6-1.3l.6,2.3l.7-1.3l.6,1.9l.6-1.1l.7,2l.6-1.6l.6,1.8l.7-1.8l.6,1.6l.6-1.5l.7,1.1l.6-1.8l.6,1.3l.7-1.9l.6,.4l.7-1.7l.6,.6l.6-2.3l.7,1l.6-2.1l.6,.5l.7-2l.6,.7l.6-1.3l.7,1.5l.6-1.4l.6,1.8l.7-.7l.6,2.2l.7-.8l.6,2.4l.6-.5l.7,1.6l.6-.7l.6,1.2l.7-1.5l.6,1.2l.6-1.9l.7,1.1l.6-1.4l.6,.6l.7-1.6l.6,1.2l.7-1.2l.6,1.6l.6-1.5l.7,1.1l.6-1.1l.6,1.3l.7-1.4l.6,1.6l.6-1.4l.7,1l.6-1.8l.6,1.2l.7-1.5l.6,1.2l.6-2l.7,1.1l.6-1.6l.7,.8l.6-2l.6,1.2l.7-2.1l.6,1.1l.6-2l.7,1.2l.6-2.2l.6,.1l.7-2.4l.6,.8l.6-2.1l.7,.2l.6-2.4l.7,.6l.6-1.9l.6,.3l.7-2.1l.6,1.4l.6-2l.7,.7l.6-1.8l.6,1.4l.7-1.5l.6,1.6l.6-1.1l.7,1.2l.6-.8l.6,2l.7-1.1l.6,1.6l.7-.9l.6,2.3l.6-1.4l.7,2.3l.6-.8l.6,1.4l.7-.7l.6,2.2l.6-1l.7,2.1l.6-.7l.6,2.1l.7-1l.6,2l.7-.7l.6,1.8l.6-1.5l.7,2.1l.6-1.3l.6,1.4l.7-1l.6,1.2l.6-1l.7,1l.6-1.5l.6,1.2l.7-1.2l.6,1.1l.6-1.9l.7,1.6l.6-1.7l.7,1.5l.6-1.5l.6,1.7l.7-1.6l.6,1.3l.6-1.4l.7,1.8l.6-1.7l.6,1.3l.7-1.5l.6,1.3l.6-2.1l.7,1.2l.6-1.4l.7,.7l.6-1.3l.6,1l.7-1.6l.6,1.6l.6-.9l.7,1.6l.6-1.3l.6,1.8l.7-.7l.6,1.6l.6-1l.7,1.1l.6-1.3l.6,1.8l.7-1.9l.6,1.8l.7-2l.6,1.9l.6-1.7l.7,1.5l.6-1l.6,1.3l.7-.5l.6,2l.6-.7l.7,1.9l.6-1.1l.6,1.9l.7-1l.6,1.5l.7-2l.6,1.2l.6-1.8l.7,.9l.6-1.8l.6,.9l.7-1.5l.6,.8l.6-1.2l.7,1.1l.6-1.4l.6,1.9l.7-.9l.6,1.6l.6-.6l.7,2.2l.6-1.7l.7,2l.6-1.4l.6,1.3l.7-1.7l.6,1.5l.6-2.1l.7,.9l.6-2.3l.6,.9l.7-2.4l.6,.7l.6-1.3l.7,.9l.6-1.9l.7,1.7l.6-1.5l.6,1.6l.7-1.4l.6,1.8l.6-1.6l.7,1.4l.6-.9l.6,1.3l.7-1.3l.6,.8l.6-1.6l.7,1.3l.6-1.2l.6,1.1l.7-2.1l.6,1l.7-2.2l.6,1.2l.6-2l.7,.4l.6-2.1l.6,.5l.7-1.9l.6,1.3l.6-2.2l.7,1.1l.6-1.3l.6,1l.7-1.4l.6,1.7l.7-1l.6,1.8l.6-1l.7,2.1l.6-1.1l.6,1.8l.7-.6l.6,1.5l.6-1.2l.7,2.1l.6-1.3l.6,1.4l.7-1l.6,1.7l.6-1.5l.7,1.3l.6-2.1l.7,1.1l.6-1.4l.6,.5l.7-1.7l.6,.8l.6-2.1l.7,.8l.6-1.9l.6,1.5l.7-1.9l.6,1.5l.6-1.7l.7,1.6l.6-2.1l.7,1.8l.6-1.8l.6,1.5l.7-1.8l.6,1.2l.6-1.9l.7,.6l.6-1.6l.6,1.5l.7-2.2l.6,1.2l.6-2.1l.7,1.4l.6-1.3l.7,1.2l.6-1.2l.6,1.4l.7-1.6l.6,1.6l.6-1.5l.7,1.5l.6-2l.6,.9l.7-1.5l.6,.7l.6-2.3l.7,.8l.6-2.2l.6,.9l.7-2.6l.6,.7l.7-1.6l.6,.7l.6-1.4l.7,1.6l.6-1.7l.6,2.7l.7-.7l.6,2.5l.6-.3l.7,3.4l.6,0l.6,2.7l.7-.1l.6,2.9l.7-.7l.6,3l.6-.9l.7,1.5l.6-.5l.6,1.2l.7-1.7l.6,1.3l.6-1.4l.7,1.4l.6-1.3l.6,1.2l.7-.9l.6,1.5l.6-.8l.7,2.5l.6-1.1l.7,2.1l.6-.3l.6,1.9l.7-1.1l.6,1.2l.6-1.3l.7,1.2l.6-1.6l.6,1.2l.7-1.9l.6,1.5l.6-1.4l.7,.9l.6-.6l.7,1.5l.6-1l.6,2.4l.7,.1l.6,2l.6,.3l.7,2.8l.6-.5l.6,2.3l.7-.3l.6,2.8l.6-1.2l.7,1.7l.6-.6l.6,1.6l.7-1.2l.6,2l.7-1.2l.6,1.3l.6-1.7l.7,1.9l.6-1.2l.6,1.4l.7-1.5l.6,1.1l.6-1.8l.7,.8l.6-1.8l.6,.9l.7-1.5l.6,1.3l.7-1.6l.6,1.2l.6-1.8l.7,1.3l.6-1.5l.6,1.3l.7-1.5l.6,.9l.6-1.9l.7,1.5l.6-1.7l.6,1.5l.7-1.3l.6,.7l.6-1l.7,1.6l.6-1.7l.7,1.7l.6-.8l.6,1.4l.7-.4l.6,1.7l.6-1.6l.7,1.6l.6-1.3l.6,1.7l.7-1.5l.6,.6l.6-1.4l.7,.8l.6-1.9l.7,1.1l.6-1.9l.6,1l.7-2l.6,1.3l.6-1.5l.7,1.4l.6-1.3l.6,.5l.7-1.3l.6,.6l.6-2.2l.7,.3l.6-2.6l.6-.3l.7-2.5l.6,.4l.7-3.2l.6,.2l.6-2.2l.7,.1l.6-1.8l.6,.7l.7-1.8l.6,1.6l.6-1.2l.7,1.4l.6-1.3l.6,1l.7-1.4l.6,1l.7-1.2l.6,1.3l.6-2.2l.7,1.1l.6-1.2l.6,1l.7-.9l.6,1.6l.6-1.2l.7,1.7l.6-1.4l.6,2l.7-1.8l.6,1.7l.7-1.8l.6,1.1l.6-1.4l.7,1.2l.6-1.3l.6,.8l.7-1l.6,1.2l.6-1.7l.7,1.9l.6-1.3l.6,1.7l.7-1.5l.6,1.9l.6-1.9l.7,1.6l.6-1.1l.7,1.3l.6-1.4l.6,1.2l.7-.9l.6,1.7l.6-1.7l.7,1.3l.6-1.6l.6,1.5l.7-1.7l.6,1l.6-1.4l.7,1.2l.6-2.3l.7,.9l.6-1.1l.6,.9l.7-1.4l.6,1.4l.6-1.7l.7,1.2l.6-1.5l.6,1.4l.7-1.3l.6,1.5l.6-1.4l.7,1.6l.6-1.5l.6,1.5l.7-1.5l.6,1.8l.7-1.4l.6,1.7l.6-.6l.7,1.6l.6-1.1l.6,1.9l.7-.6l.6,1.4l.6-.8l.7,2.2l.6-1.4l.6,2.2l.7-1.2l.6,1.3l.7-1.3l.6,1.5l.6-1.1l.7,1.9l.6-1.9l.6,1.8l.7-1l.6,1.5l.6-1.4l.7,1.8l.6-1l.6,2l.7-1.4l.6,1.1l.6-1.4l.7,1l.6-2l.7,.6l.6-2.6l.6,.4l.7-1.9l.6,.5l.6-2.7l.7,.4l.6-2.6l.6,.7l.7-2.5l.6,.4l.6-2.3l.7,1.5l.6-1.7l.7,2l.6-.9l.6,1.9l.7-.7l.6,2l.6-1l.7,2.3l.6-.7l.6,1.4l.7-1.6l.6,1.5l.6-1.7l.7,1l.6-1l.6,1.1l.7-1.6l.6,1.1l.7-1.2l.6,1.3l.6-1.8l.7,1.9l.6-1.6l.6,2.2l.7-1.4l.6,1.8l.6-.8l.7,1.7l.6-1.7l.6,1.7l.7-1l.6,1.9l.7-2l.6,1.8l.6-1.9l.7,1.5l.6-1.4l.6,1.1l.7-1.1l.6,1.2l.6-.9l.7,1.3l.6-1.2l.6,1.7l.7-1.5l.6,1.5l.6-1.1l.7,1.9l.6-1.4l.7,2.2l.6-1.4l.6,1.8l.7-1.3l.6,1.5l.6-1.2l.7,1.7l.6-.9l.6,2l.7-1.2l.6,1.8l.6-1.4l.7,2.1l.6-1.2l.7,1.3l.6-1.3l.6,1.3l.7-.8l.6,1.6l.6-1.3l.7,1.2l.6-.7l.6,1.7l.7-1.4l.6,1.7l.6-.7l.7,1.3l.6-1.2l.6,1.8l.7-1.1l.6,1.2l.7-1.2l.6,1.4l.6-1.1l.7,1.6l.6-1.8l.6,1.6l.7-1.7l.6,1.1l.6-1.1l.7,1.6l.6-1.2l.6,1l.7-1.2l.6,2.3l.7-1.3l.6,2.6l.6-1.2l.7,2.2l.6-.6l.6-5.1l.7-16.9l.6-14.3l.6-11.1l.7,2.4l.6-1l.6,1.8l.7-.3l.6,2l.6-1.2l.7,1.4l.6-.7l.7,1.5l.6-1.2l.6,2.3l.7-1.5l.6,2.1l.6-1.1l.7,2.1l.6-1l.6,2.5l.7,0l.6,2l.6-.2l.7,2.8l.6-.5l.7,2.2l.6-.6l.6,1.6l.7-.9l.6,2.3l.6-1.7l.7,2l.6-1.3l.6,1.5l.7-1.6l.6,1.5l.6-1l.7,1.5l.6-1.7l.7,1.1l.6-.9l.6,1.1l.7-.9l.6,1.1l.6-1.3l.7,1.5l.6-1.1l.6,1.4l.7-1.4l.6,2.1l.6-1.2l.7,1.8l.6-1.7l.6,2l.7-.7l.6,1.6l.7-.8l.6,1.4l.6-1l.7,1.7l.6-1.6l.6,2l.7-1.3l.6,1.6l.6-1l.7,1.2l.6-1.6l.6,1.9l.7-1.3l.6,1.4l.7-.8l.6,1.8l.6-1.2l.7,1.9l.6-.9l.6,1.4l.7-1l.6,1.6l.6-1.1l.7,1.4l.6-1.9l.6,1.2l.7-1.7l.6,1.2l.6-1.4l.7,1.1l.6-1.3l.7,1.7l.6-1.5l.6,1.2l.7-1.3l.6,1.3l.6-1.6l.7,1.7l.6-1.2l.6,1.5l.7-1l.6,1.4l.6-.9l.7,1.7l.6-1.7l.7,2.1l.6-1.1l.6,1.4l.7-1.6l.6,.6l.6-1.5l.7,.7l.6-1.5l.6,1.2l.7-1.9l.6,1l.6-1.2l.7,.9l.6-1l.6,1.4l.7-1.3l.6,1.9l.7-1.4l.6,1.6l.6-1.2l.7,1.6l.6-1.3l.6,.8l.7-.8l.6,.8l.6-1.3l.7,1.7l.6-1.4l.6,2.1l.7-1.6l.6,1.9l.7-1l.6,2.4l.6-.7l.7,1.6l.6-.9l.6,2.1l.7-.9l.6,1.9l.6-.8l.7,1.5l.6-1l.6,1.4l.7-1.8l.6,1.5l.6-1.8l.7,1.2l.6-2l.7,.6l.6-1.5l.6,1l.7-2.4l.6,.7l.6-1.6l.7,1.2l.6-.9l.6,1.4l.7-1.2l.6,1.6l.6-.8l.7,1.7l.6-1.1l.7,1.8l.6-.5l.6,1.8l.7-1l.6,2.4l.6-1l.7,2l.6-.9l.6,1.7l.7-1.4l.6,1.3l.6-1.6l.7,.8l.6-2.1l.6,1.3l.7-2.3l.6,.8l.7-1.9l.6,1.2l.6-2.4l.7,1.6l.6-1.7l.6,1.2l.7-1.2l.6,1.6l.6-1.5l.7,2l.6-1.8l.6,2.2l.7-1.4l.6,1.6l.7-1.8l.6,1.9l.6-1.3l.7,1.1l.6-1.5l.6,.9l.7-1.2l.6,.6l.6-1.7l.7,.7l.6-1.5l.6,.4l.7-1.5l.6,.8l.6-2l.7,1.9l.6-1.5l.7,1.3l.6-1.2l.6,1.5l.7-1.4l.6,1.9l.6-1.4l.7,.7l.6-1.8l.6,1.2l.7-2.2l.6,.8l.6-26.2l.7,2.8l.6,.7l.7,2.7l.6,1.1l.6,3.5l.7,1.3l.6,3.8l.6,.8l.7,3.8l.6,.9l.6,4.1l.7,.4l.6,4.1l.6,.1l.7,2.1l.6-1.3l.7,1.5l.6-1.2l.6,1.3l.7-1l.6,1l.6-1.2l.7,1.6l.6-1.3l.6,1l.7-1.8l.6,1.6l.6-1.7l.7,1.5l.6-1.8l.6,1.1l.7-1.2l.6,.7l.7-1l.6,1l.6-1.4l.7,.7l.6-1.9l.6,1l.7-1.8l.6,.3l.6-1.6l.7,.5l.6-2l.6,.4l.7-2.3l.6,1.4l.7-1.4l.6,1.1l.6-.8l.7,1.9l.6-.9l.6,2.3l.7-.2l.6,2.3l.6-.3l.7,2.2l.6-.2l.6,1.2l.7-.9l.6,1.4l.6-1.2l.7,1.6l.6-1.7l.7,1.6l.6-1.8l.6,1.8l.7-1.3l.6,1.2l.6-1.1l.7,1.7l.6-.9"/>
<path stroke="#FF0000" stroke-dasharray="31.5,30.2" stroke-dashoffset="0.0" d="M944.7,767.7l.6,1.8l.6-.8l.7,1.9l.6-1.4l.6,2.1l.7-.5l.6,1.9l.6-1l.7,1.3l.6-1l.7,2l.6-1l.6,2l.7-1.1l.6,1.1l.6-.9l.7,1.8l.6-1.4l.6,1.9l.7-.9l.6,1.8l.6-1.5l.7,1.8l.6-1.3l.7,.8l.6-1.6l.6,1l.7-2l.6,.7l.6-1.8l.7,.4l.6-1.9l.6,1.1l.7-2l.6,1.5l.6-1.8l.7,1.2l.6-1.6l.6,1.8l.7-1.2l.6,1.3l.7-1.5l.6,.9l.6-2l.7,1.5l.6-1.8l.6,.6l.7-2.3l.6,1.2l.6-1.7l.7,1.1l.6-1.9l.6,1.7l.7-1l.6,1.7l.7-1l.6,1.6l.6-.8l.7,1.5l.6-.6l.6,1.1l.7-.8l.6,1.5l.6-.8l.7,1.5l.6-.3l.6,1.3l.7-.9l.6,1.9l.6-.5l.7,2l.6-1.3l.7,1.8l.6-.9l.6,1.1l.7-.8l.6,1.1l.6-1.5l.7,1.6l.6-1.1l.6,1.4l.7-1.1l.6,1.8l.6-1.1l.7,1.6l.6-1.2l.7,2l.6-.6l.6,2l.7-.5l.6,1.8l.6-1l.7,1.3l.6-1.1l.6,2l.7-1l.6,1.3l.6-1.7l.7,1.4l.6-2l.6,1.6l.7-2l.6,1.1l.7-2.1l.6,.6l.6-1.9l.7,1l.6-2.4l.6,1.3l.7-1.6l.6,.8l.6-1.2l.7,1.7l.6-1.4l.6,1.6l.7-1l.6,1.7l.7-.7l.6,1.5l.6-.6l.7,1.5l.6-1l.6,1.5l.7-1.4l.6,.6l.6-1.6l.7,.8l.6-1.4l.6,.9l.7-2.2l.6,1.4l.7-1.3l.6,1.1l.6-1.7l.7,1.2l.6-1.8l.6,1.6l.7-1.6l.6,1.3l.6-1.7l.7,1.1l.6-1.6l.6,.9l.7-2l.6,1.3l.6-1.3l.7,.9l.6-1.3l.7,1.6l.6-1.9l.6,1.9l.7-1.6l.6,1.5l.6-1.5l.7,1.5l.6-2.1l.6,1.3l.7-2.7l.6,.8l.6-2.2l.7,.5l.6-2.3l.7,.6l.6-2.5l.6,.5l.7-2.5l.6,1.1l.6-2.3l.7,.9l.6-1.5l.6,.7l.7-1.7l.6,1.4l.6-1l.7,1.3l.6-1.9l.6,1.8l.7-1.6l.6,1.4l.7-1.1l.6,1.6l.6-.9l.7,1.8l.6-1.5l.6,2.4l.7-1.1l.6,2.1l.6-1.2l.7,2.5l.6-1l.6,2.1l.7-1l.6,2.1l.7-.6l.6,1.8l.6-.7l.7,1.3l.6-1l.6,1.3l.7-1.2l.6,1.5l.6-1.3l.7,1.4l.6-1.7l.6,1.3l.7-1.4l.6,1.1l.6-1.6l.7,1.5l.6-1.1l.7,1.3l.6-1.1l.6,1.2l.7-1.2l.6,1.8l.6-1.4l.7,1.2l.6-1.6l.6,1.4l.7-1.4l.6,1.4l.6-1.8l.7,1.6l.6-1.8l.7,1.5l.6-1.7l.6,2l.7-1l.6,1.4l.6-1.1l.7,1.8l.6-.7l.6,1.7l.7-.7l.6,1.4l.6-.8l.7,1.8l.6-1.1l.6,.8l.7-1.1l.6,1.5l.7-1.6l.6,1.9l.6-1.5l.7,1.7l.6-1l.6,1.5l.7-.8l.6,1.8l.6-1.3l.7,1.7l.6-1l.6,1.5l.7-1.4l.6,1.5l.7-1.1l.6,1.2l.6-2.2l.7,1.1l.6-2.4l.6,1.3l.7-2.4l.6,1l.6-2.3l.7,1.2l.6-2.1l.6,1.2l.7-1.6l.6,1.6l.6-1.6l.7,1.4l.6-.9l.7,1.4l.6-1.4l.6,1.4l.7-1l.6,1.4l.6-1.4l.7,1l.6-1.7l.6,.8l.7-1.6l.6,1.5l.6-1.9l.7,1.2l.6-1.8l.7,1.5l.6-1.6l.6,1.4l.7-1.5l.6,1.8l.6-1.6l.7,1.1l.6-1.6l.6,.8l.7-1.4l.6,1.5l.6-1.5l.7,1.2l.6-1.6l.6,1l.7-1.1l.6,1.1l.7-1.8l.6,1.8l.6-1.5l.7,.7l.6-1.3l.6,.9l.7-1.9l.6,1.7l.6-2l.7,1l.6-1.4l.6,1.2l.7-1.1l.6,1.4l.7-1.4l.6,1.1l.6-.8l.7,1.7l.6-1.9l.6,1.8l.7-1.1l.6,1l.6-1.3l.7,1.2l.6-1.4l.6,1.6l.7-1.8l.6,1.7l.6-2l.7,1.9l.6-2.1l.7,1.5l.6-1.6l.6,1l.7-2.1l.6,1.3l.6-1.8l.7,.9l.6-1.6l.6,1.7l.7-1.7l.6,1.6l.6-1.5l.7,1.4l.6-1.6l.7,.8l.6-1.5l.6,1.8l.7-2.2l.6,1.2l.6-1.6l.7,1.4l.6-1.8l.6,1.7l.7-1.9l.6,1.2l.6-1.3l.7,1.2l.6-1.6l.7,.8l.6-1.6l.6,1.3l.7-1.9l.6,1.2l.6-1.6l.7,1.2l.6-1.8l.6,.7l.7-1.3l.6,.6l.6-1.5l.7,.6l.6-1.3l.6,.3l.7-1.5l.6,.6l.7-1.5l.6,1.2l.6-1.7l.7,1.7l.6-1.2l.6,1.9l.7-1.1l.6,2.8l.6-.6l.7,2.4l.6-.8l.6,3.1l.7-.6l.6,2.9l.7-.5l.6,2.4l.6-.3l.7,1.8l.6-.4l.6,1.8l.7-.7l.6,1.8l.6-1l.7,1.8l.6-1.2l.6,1.8l.7-1.4l.6,2.1l.6-1.3l.7,2.3l.6-1.6l.7,2l.6-.9l.6,1.6l.7-1.4l.6,2l.6-1.6l.7,1.5l.6-1.7l.6,1.5l.7-1.3l.6,1.5l.6-1.6l.7,1.7l.6-.7l.7,1.9l.6-.8l.6,2.7l.7-.8l.6,2.6l.6-.1l.7,2.2l.6-.8l.6,2.7l.7-1.1l.6,2.2l.6-1.1l.7,2.2l.6-.7l.6,2l.7-1.2l.6,1.6l.7-1.1l.6,1.9l.6-1.3l.7,1.2l.6-1.9l.6,1.9l.7-2.1l.6,1.9l.6-2l.7,1.8l.6-1.8l.6,.9l.7-1.5l.6,1.5l.7-1.7l.6,.8l.6-1.6l.7,.6l.6-1.7l.6,.9l.7-2l.6,1.3l.6-2.3l.7,1.4l.6-1.2l.6,1.1l.7-1.9l.6,1.7l.6-1.7l.7,1.4l.6-1.7l.7,1.5l.6-.8l.6,1.4l.7-1.4l.6,1.3l.6-.9l.7,1.5l.6-1.5l.6,1.2l.7-1.2l.6,1.1l.6-2.1l.7,.6l.6-1.6l.7,1.1l.6-2l.6,1.4l.7-2l.6,1.3l.6-1.2l.7,1.6l.6-1.9l.6,1.5l.7-1.7l.6,.9l.6-1.8l.7,.6l.6-2.4l.6,.7l.7-2.2l.6,.2l.7-2.4l.6,.6l.6-2.1l.7,.2l.6-2.3l.6,1.1l.7-1.9l.6,.6l.6-1.5l.7,1.6l.6-1.7l.6,1.4l.7-1.9l.6,1.9l.7-1.6l.6,.7l.6-1.1l.7,.7l.6-1.6l.6,1l.7-1.4l.6,1.4l.6-1.6l.7,1.4l.6-1.8l.6,1.4l.7-1.6l.6,.9l.7-1.7l.6,1.2l.6-1.2l.7,1.1l.6-2.2l.6,1.8l.7-2.1l.6,1.9l.6-1.9l.7,2l.6-1.2l.6,1.4l.7-1.9l.6,1.5l.6-1.3l.7,1.5l.6-1.3l.7,.9l.6-1.6l.6,1.4l.7-1.6l.6,1.5l.6-1.6l.7,1.1l.6-.6l.6,1.1l.7-1.5l.6,1.6l.6-1.1l.7,1.4l.6-1.4l.7,1.5l.6-1.8l.6,1.2l.7-1.6l.6,1.4l.6-2l.7,1.6l.6-1.2l.6,1.3l.7-1.7l.6,2.1l.6-1l.7,1.4l.6-.6l.6,1.5l.7-1.1l.6,2l.7-.7l.6,1.7l.6-1.5l.7,2l.6-1.1l.6,1.3l.7-1.2l.6,1.4l.6-1l.7,1.5l.6-1.5l.6,2.2l.7-1.5l.6,1.9l.7-1.3l.6,1.9l.6-.8l.7,1l.6-.6l.6,1.5l.7-.9l.6,1.8l.6-1.1l.7,1.6l.6-1.3l.6,1.5l.7-1.3l.6,1l.6-1.1l.7,1.1l.6-2.4l.7,1l.6-2.5l.6,1.1l.7-2.2l.6,.2l.6-2.5l.7,.3l.6-2l.6-.1l.7-2.3l.6,.8l.6-2.5l.7,1l.6-1.6l.7,1.4l.6-1.4l.6,1.4l.7-.8l.6,2l.6-1.3l.7,1.7l.6-.9l.6,1.3l.7-1.4l.6,1.6l.6-1.3l.7,1.4l.6-.9l.6,1.4l.7-1.3l.6,1.2l.7-1.3l.6,2.3l.6-1.5l.7,2.2l.6-.9l.6,1.9l.7-.7l.6,1.8l.6-1.7l.7,2.3l.6-1.2l.6,1.1l.7-1.7l.6,1.9l.7-2.1l.6,1.5l.6-2.1l.7,1.4l.6-1.8l.6,1.4l.7-1.8l.6,1.4l.6-1.3l.7,1.4l.6-1.1l.6,1.1l.7-1.2l.6,2.2l.6-1.5l.7,2.1l.6-1.1l.7,1.5l.6-1.1l.6,1.5l.7-.6l.6,1.5l.6-1.3l.7,1.5l.6-1.5l.6,1.6l.7-1.1l.6,1.4l.6-1.1l.7,1.3l.6-1l.7,1.6l.6-1l.6,1.8l.7-1l.6,1.5l.6-.8l.7,1.3l.6-.8l.6,1.8l.7-1.2l.6,1.9l.6-.9l.7,2.4l.6-1.4l.6,2.3l.7-1.3l.6,1.5l.7-.7l.6,1.6l.6-1.8l.7,1.6l.6-1.4l.6,1.1l.7-1l.6,.9l.6-1.2l.7,1.2l.6-1.7l.6,1.8l.7-1.7l.6,2.1l.7-1.7l.6,1.8l.6-1.2l.7,1.8l.6-1l.6-5.8l.7-17.2l.6-14.5l.6-11.9l.7,2l.6-.6l.6,2.5l.7-.8l.6,1.9l.6-.8l.7,2.1l.6-1l.7,2.5l.6-1.1l.6,2.1l.7-.6l.6,2.1l.6-1.1l.7,2.5l.6-1l.6,2.5l.7,0l.6,2.4l.6-.4l.7,2.1l.6-.6l.7,1.9l.6-.7l.6,1.7l.7-.6l.6,1.4l.6-.9l.7,.9l.6-1.5l.6,1.6l.7-1.5l.6,1.3l.6-1.7l.7,1.3l.6-1.5l.7,1.6l.6-.9l.6,1.6l.7-1.2l.6,1.4l.6-1.1l.7,1.8l.6-1l.6,2.3l.7-.9l.6,2.1l.6-1.2l.7,2.4l.6-1.3l.6,2.1l.7-.9l.6,2l.7-1.4l.6,1.6l.6-1.1l.7,1.3l.6-1.4l.6,1.7l.7-1.2l.6,.9l.6-1.5l.7,1.3l.6-1.5l.6,1.8l.7-1.4l.6,1.7l.7-1.7l.6,1.5l.6-1.4l.7,2.3l.6-1.8l.6,1.8l.7-.8l.6,1.3l.6-1.3l.7,2l.6-1l.6,1l.7-.7l.6,1.3l.6-1l.7,1.6l.6-1.6l.7,1.8l.6-1.4l.6,1.3l.7-2l.6,1.6l.6-2l.7,1.7l.6-2.1l.6,1.8l.7-1.8l.6,1.2l.6-1l.7,1.4l.6-.9l.7,1.2l.6-1l.6,1.3l.7-.9l.6,1.3l.6-1.4l.7,1.4l.6-1.2l.6,1.4l.7-1.6l.6,1.5l.6-1.3l.7,1.4l.6-1.7l.6,1.9l.7-1.1l.6,1.6l.7-1.1l.6,1l.6-.8l.7,1.4l.6-1.6l.6,1.3l.7-1.5l.6,2l.6-1.9l.7,1.7l.6-1l.6,1.2l.7-1.1l.6,1.7l.7-1.2l.6,1.5l.6-.8l.7,.9l.6-.9l.6,1.3l.7-1.4l.6,1.5l.6-1.9l.7,1.9l.6-1.9l.6,1.6l.7-1.9l.6,1.7l.6-1.6l.7,1.5l.6-1.4l.7,1.6l.6-1.8l.6,1.7l.7-.9l.6,1.7l.6-1.4l.7,1.4l.6-.9l.6,2l.7-1.8l.6,1.6l.6-.7l.7,1.3l.6-1.5l.7,1.2l.6-.7l.6,1.2l.7-1.2l.6,1.5l.6-1.4l.7,1.8l.6-1.8l.6,1.6l.7-1.8l.6,1.5l.6-1.2l.7,.8l.6-1.7l.6,1.7l.7-2l.6,1.4l.7-1.7l.6,1.9l.6-1.9l.7,1.5l.6-1.3l.6,1.2l.7-1.2l.6,1.4l.6-1l.7,1.6l.6-1.1l.6,1.6l.7-1.2l.6,1.7l.7-1.5l.6,1.4l.6-1.8l.7,1l.6-1.3l.6,.5l.7-1.6l.6,.5l.6-1.4l.7,1l.6-1.8l.6,1.1l.7-2.2l.6,1.6l.6-1.6l.7,1.2l.6-1.7l.7,1.9l.6-1.8l.6,1.4l.7-1.4l.6,1.7l.6-1.8l.7,1.1l.6-2.2l.6,1.1l.7-2.4l.6,.6l.6-1.5l.7,.7l.6-1.1l.7,1.8l.6-1.3l.6,2.1l.7-.5l.6,2.3l.6-.3l.7,1.9l.6-1l.6,2.1l.7-1.1l.6,1.8l.6-1.5l.7,1.7l.6-2l.7,1.3l.6-1.4l.6,1.3l.7-1.9l.6,1.6l.6-1.9l.7,1.5l.6-1.4l.6,1.4l.7-1.6l.6,2l.6-1.8l.7,1.9l.6-2.1l.6,1.9l.7-1.4l.6,1l.7-1.2l.6,1l.6-2.1l.7,1.1l.6-1.7l.6,.7l.7-2.1l.6,1.2l.6-2.2l.7,1.1l.6-2.1l.6,1.2l.7-1.4l.6,.9l.7-.7l.6,1.4l.6-1.2l.7,1.9l.6-1.1l.6,2l.7-.8l.6,2.3l.6-1.1l.7,2.2l.6-1.1l.6,2l.7-1l.6,2l.6-1.5l.7,1.6l.6-.7l.7,1.1l.6-1.1l.6,1.5l.7-.7l.6,1.4l.6-1.1l.7,1l.6-1"/>
</g>
<g font-size="60" fill="#262626">
<text transform="translate(965.0,967.5) scale(1,1.045)" text-anchor="middle">3800</text>
<text transform="translate(1092.1,967.5) scale(1,1.045)" text-anchor="middle">4000</text>
<text transform="translate(1219.2,967.5) scale(1,1.045)" text-anchor="middle">4200</text>
<text transform="translate(1346.3,967.5) scale(1,1.045)" text-anchor="middle">4400</text>
<text transform="translate(1473.4,967.5) scale(1,1.045)" text-anchor="middle">4600</text>
<text transform="translate(928.0,552.0) scale(1,1.045)" text-anchor="end">-10</text>
<text transform="translate(928.0,717.0) scale(1,1.045)" text-anchor="end">-20</text>
<text transform="translate(928.0,882.0) scale(1,1.045)" text-anchor="end">-30</text>
</g>
<polygon points="1292.6,949.1 1512.5,1025.5 1507.0,1010.9 1546.2,1042.8 1495.7,1043.5 1509.1,1035.5 1289.2,959.1" fill="#D97B00" shape-rendering="crispEdges"/>
</svg>
</body></html>
